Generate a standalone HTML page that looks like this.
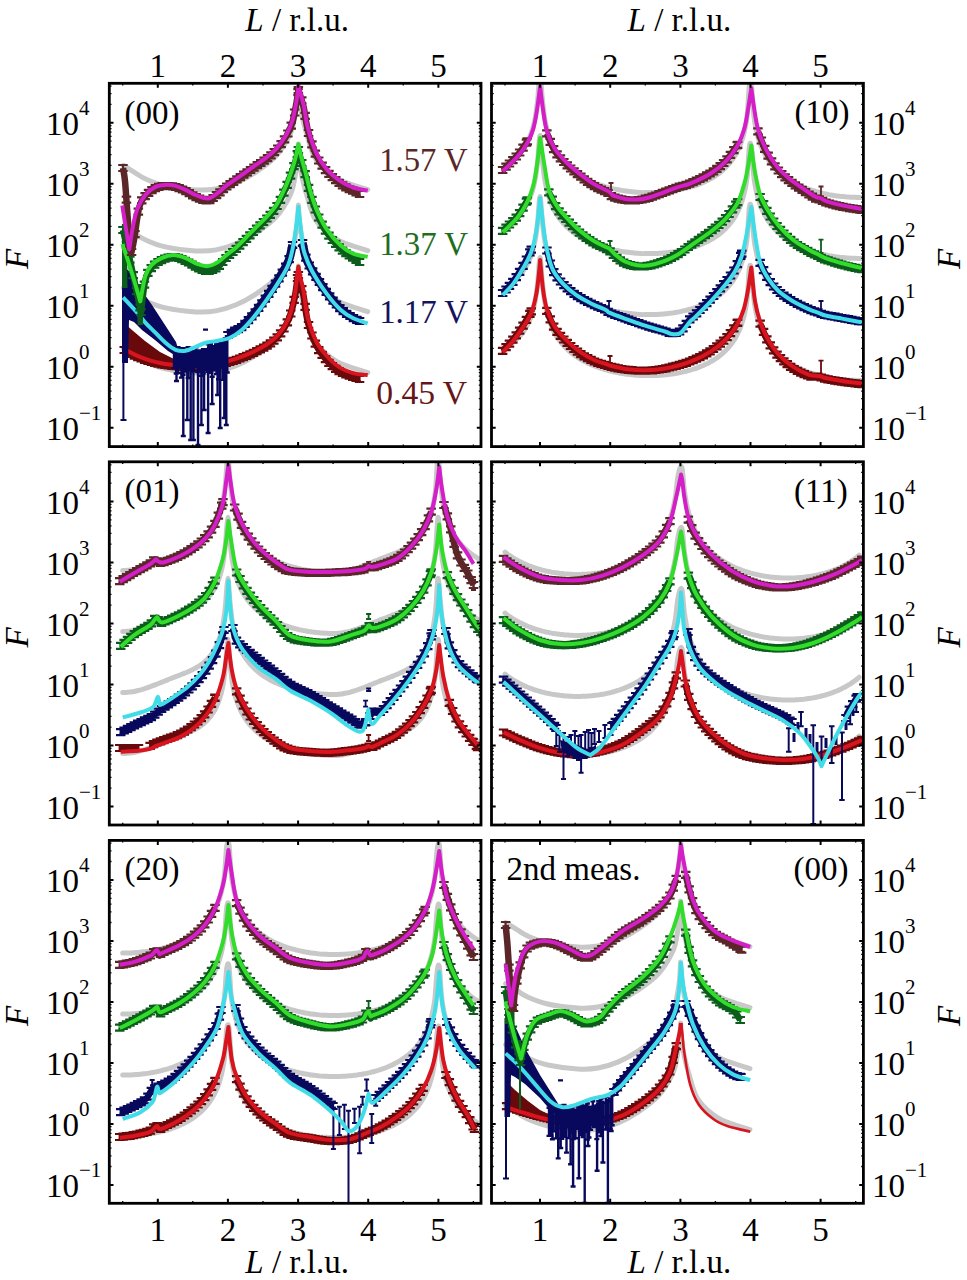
<!DOCTYPE html>
<html><head><meta charset="utf-8"><style>
html,body{margin:0;padding:0;background:#fff;}
svg{display:block;}
text{font-family:"Liberation Serif", serif;}
</style></head><body>
<svg width="967" height="1280" viewBox="0 0 967 1280">
<rect width="967" height="1280" fill="#fff"/>
<clipPath id="cp00"><rect x="109.3" y="83.3" width="371.7" height="363.3"/></clipPath>
<g clip-path="url(#cp00)">
<path d="M123.5 165.5C125.5 166.7 131.6 170.6 135.2 172.8C138.8 175.0 140.2 176.6 145.3 178.8C150.4 181.0 157.1 184.1 165.5 185.9C173.9 187.8 187.3 189.4 195.7 189.9C204.1 190.4 209.2 190.1 215.9 188.9C222.6 187.7 229.4 185.7 236.1 182.8C242.8 180.0 249.5 176.3 256.2 171.8C262.9 167.3 270.7 162.0 276.4 155.6C282.1 149.2 287.4 140.0 290.5 133.4C293.6 126.8 293.9 121.6 295.0 116.0C296.1 110.4 296.8 105.5 297.4 100.0C298.0 94.5 298.2 85.8 298.4 83.0L298.4 83.0C298.6 85.8 299.0 94.5 299.6 100.0C300.2 105.5 300.8 110.2 302.0 116.0C303.2 121.8 304.7 127.7 307.0 135.0C309.3 142.3 311.1 152.4 316.0 159.6C320.9 166.8 328.1 173.3 336.7 178.3C345.3 183.3 362.5 187.7 367.7 189.6" stroke="#c8c8c8" stroke-width="5" fill="none" stroke-linejoin="round" stroke-linecap="round"/>
<path d="M123.5 226.5C125.5 227.7 131.6 231.6 135.2 233.8C138.8 236.0 140.2 237.6 145.3 239.8C150.4 242.0 157.1 245.1 165.5 246.9C173.9 248.8 187.3 250.4 195.7 250.9C204.1 251.4 209.2 251.1 215.9 249.9C222.6 248.7 229.4 246.7 236.1 243.8C242.8 241.0 249.5 237.3 256.2 232.8C262.9 228.3 270.7 223.0 276.4 216.6C282.1 210.2 287.4 201.0 290.5 194.4C293.6 187.8 293.9 182.6 295.0 177.0C296.1 171.4 296.8 166.5 297.4 161.0C298.0 155.5 298.2 146.8 298.4 144.0L298.4 144.0C298.6 146.8 299.0 155.5 299.6 161.0C300.2 166.5 300.8 171.2 302.0 177.0C303.2 182.8 304.7 188.7 307.0 196.0C309.3 203.3 311.1 213.4 316.0 220.6C320.9 227.8 328.1 234.3 336.7 239.3C345.3 244.3 362.5 248.7 367.7 250.6" stroke="#c8c8c8" stroke-width="5" fill="none" stroke-linejoin="round" stroke-linecap="round"/>
<path d="M123.5 287.5C125.5 288.7 131.6 292.6 135.2 294.8C138.8 297.0 140.2 298.6 145.3 300.8C150.4 303.0 157.1 306.0 165.5 307.9C173.9 309.8 187.3 311.4 195.7 311.9C204.1 312.4 209.2 312.1 215.9 310.9C222.6 309.7 229.4 307.6 236.1 304.8C242.8 302.0 249.5 298.3 256.2 293.8C262.9 289.3 270.7 284.0 276.4 277.6C282.1 271.2 287.4 262.0 290.5 255.4C293.6 248.8 293.9 243.6 295.0 238.0C296.1 232.4 296.8 227.5 297.4 222.0C298.0 216.5 298.2 207.8 298.4 205.0L298.4 205.0C298.6 207.8 299.0 216.5 299.6 222.0C300.2 227.5 300.8 232.2 302.0 238.0C303.2 243.8 304.7 249.7 307.0 257.0C309.3 264.3 311.1 274.4 316.0 281.6C320.9 288.8 328.1 295.3 336.7 300.3C345.3 305.3 362.5 309.7 367.7 311.6" stroke="#c8c8c8" stroke-width="5" fill="none" stroke-linejoin="round" stroke-linecap="round"/>
<path d="M123.5 348.5C125.5 349.7 131.6 353.6 135.2 355.8C138.8 358.0 140.2 359.6 145.3 361.8C150.4 364.0 157.1 367.0 165.5 368.9C173.9 370.8 187.3 372.4 195.7 372.9C204.1 373.4 209.2 373.1 215.9 371.9C222.6 370.7 229.4 368.6 236.1 365.8C242.8 363.0 249.5 359.3 256.2 354.8C262.9 350.3 270.7 345.0 276.4 338.6C282.1 332.2 287.4 323.0 290.5 316.4C293.6 309.8 293.9 304.6 295.0 299.0C296.1 293.4 296.8 288.5 297.4 283.0C298.0 277.5 298.2 268.8 298.4 266.0L298.4 266.0C298.6 268.8 299.0 277.5 299.6 283.0C300.2 288.5 300.8 293.2 302.0 299.0C303.2 304.8 304.7 310.7 307.0 318.0C309.3 325.3 311.1 335.4 316.0 342.6C320.9 349.8 328.1 356.3 336.7 361.3C345.3 366.3 362.5 370.7 367.7 372.6" stroke="#c8c8c8" stroke-width="5" fill="none" stroke-linejoin="round" stroke-linecap="round"/>
<path d="M124.0 323.0L132.0 330.0L145.0 341.0L160.0 352.0L174.0 359.0L174.0 367.0L160.0 364.0L145.0 360.0L132.0 355.0L124.0 351.0Z" fill="#680a0c" opacity="1.0"/>
<path d="M124.2 350.0C126.0 351.0 131.7 354.3 135.2 356.0C138.7 357.7 141.9 358.8 145.3 360.0C148.7 361.2 152.0 362.2 155.4 363.0C158.8 363.8 160.4 364.3 165.5 365.0C170.6 365.7 179.0 366.7 185.7 367.0C192.4 367.3 199.1 367.7 205.8 367.0C212.5 366.3 219.3 364.8 226.0 363.0C232.7 361.2 239.5 358.8 246.2 356.0C252.9 353.2 260.9 349.3 266.3 346.0C271.7 342.7 274.7 340.3 278.4 336.0C282.1 331.7 285.8 326.3 288.5 320.0C291.2 313.7 293.1 305.0 294.6 298.0C296.1 291.0 297.0 281.8 297.6 278.0C298.2 274.2 298.3 275.5 298.4 275.0L298.4 275.0C298.8 276.7 299.6 281.5 300.5 285.0C301.4 288.5 302.4 289.8 303.6 296.0C304.8 302.2 305.7 313.8 307.8 322.0C309.9 330.2 312.9 338.7 316.0 345.0C319.1 351.3 322.6 355.7 326.4 360.0C330.2 364.3 334.3 368.2 338.8 371.0C343.3 373.8 349.9 375.7 353.3 377.0C356.8 378.3 358.5 378.7 359.5 379.0" stroke="#680a0c" stroke-width="6.5" fill="none" stroke-linejoin="round"/>
<path d="M119.5 347.0h9.5M119.5 353.0h9.5M124.2 347.0v6.0M122.9 348.9h9.5M122.9 354.9h9.5M127.6 348.9v6.0M126.2 350.8h9.5M126.2 356.8h9.5M131.0 350.8v6.0M129.7 352.6h9.5M129.7 358.6h9.5M134.4 352.6v6.0M133.1 354.2h9.5M133.1 360.2h9.5M137.8 354.2v6.0M136.5 355.5h9.5M136.5 361.5h9.5M141.2 355.5v6.0M139.9 356.8h9.5M139.9 362.8h9.5M144.6 356.8v6.0M143.3 357.9h9.5M143.3 363.9h9.5M148.0 357.9v6.0M146.7 358.9h9.5M146.7 364.9h9.5M151.4 358.9v6.0M150.1 359.8h9.5M150.1 365.8h9.5M154.8 359.8v6.0M153.5 360.7h9.5M153.5 366.7h9.5M158.2 360.7v6.0M156.9 361.4h9.5M156.9 367.4h9.5M161.6 361.4v6.0M160.3 361.9h9.5M160.3 367.9h9.5M165.0 361.9v6.0M163.7 362.4h9.5M163.7 368.4h9.5M168.4 362.4v6.0M167.1 362.8h9.5M167.1 368.8h9.5M171.8 362.8v6.0M170.5 363.1h9.5M170.5 369.1h9.5M175.2 363.1v6.0M173.9 363.5h9.5M173.9 369.5h9.5M178.6 363.5v6.0M177.3 363.8h9.5M177.3 369.8h9.5M182.0 363.8v6.0M180.7 364.0h9.5M180.7 370.0h9.5M185.4 364.0v6.0M184.1 364.2h9.5M184.1 370.2h9.5M188.8 364.2v6.0M187.5 364.3h9.5M187.5 370.3h9.5M192.2 364.3v6.0M190.9 364.4h9.5M190.9 370.4h9.5M195.6 364.4v6.0M194.3 364.4h9.5M194.3 370.4h9.5M199.0 364.4v6.0M197.7 364.3h9.5M197.7 370.3h9.5M202.4 364.3v6.0M201.1 364.0h9.5M201.1 370.0h9.5M205.8 364.0v6.0M204.5 363.6h9.5M204.5 369.6h9.5M209.2 363.6v6.0M207.9 363.1h9.5M207.9 369.1h9.5M212.6 363.1v6.0M211.3 362.4h9.5M211.3 368.4h9.5M216.0 362.4v6.0M214.7 361.7h9.5M214.7 367.7h9.5M219.4 361.7v6.0M218.1 360.8h9.5M218.1 366.8h9.5M222.8 360.8v6.0M221.5 359.9h9.5M221.5 365.9h9.5M226.2 359.9v6.0M224.9 359.0h9.5M224.9 365.0h9.5M229.6 359.0v6.0M228.3 357.9h9.5M228.3 363.9h9.5M233.0 357.9v6.0M231.7 356.8h9.5M231.7 362.8h9.5M236.4 356.8v6.0M235.1 355.5h9.5M235.1 361.5h9.5M239.8 355.5v6.0M238.5 354.2h9.5M238.5 360.2h9.5M243.2 354.2v6.0M241.9 352.8h9.5M241.9 358.8h9.5M246.6 352.8v6.0M245.3 351.3h9.5M245.3 357.3h9.5M250.0 351.3v6.0M248.7 349.8h9.5M248.7 355.8h9.5M253.4 349.8v6.0M252.1 348.2h9.5M252.1 354.2h9.5M256.8 348.2v6.0M255.5 346.4h9.5M255.5 352.4h9.5M260.2 346.4v6.0M258.9 344.6h9.5M258.9 350.6h9.5M263.6 344.6v6.0M262.3 342.6h9.5M262.3 348.6h9.5M267.0 342.6v6.0M265.7 340.3h9.5M265.7 346.3h9.5M270.4 340.3v6.0M269.1 337.7h9.5M269.1 343.7h9.5M273.8 337.7v6.0M272.5 334.4h9.5M272.5 340.4h9.5M277.2 334.4v6.0M275.9 330.3h9.5M275.9 336.3h9.5M280.6 330.3v6.0M279.2 325.5h9.5M279.2 331.5h9.5M284.0 325.5v6.0M282.6 319.4h9.5M282.6 325.4h9.5M287.4 319.4v6.0M286.0 310.5h9.5M286.0 316.5h9.5M290.8 310.5v6.0M289.4 296.8h9.5M289.4 302.8h9.5M294.2 296.8v6.0M292.8 275.0h9.5M292.8 281.0h9.5M297.6 275.0v6.0M293.6 272.0h9.5M293.6 278.0h9.5M298.4 272.0v6.0M293.6 272.0h9.5M293.6 278.0h9.5M298.4 272.0v6.0M297.0 286.1h9.5M297.0 292.1h9.5M301.8 286.1v6.0M300.4 303.9h9.5M300.4 309.9h9.5M305.2 303.9v6.0M303.8 322.0h9.5M303.8 328.0h9.5M308.6 322.0v6.0M307.2 332.5h9.5M307.2 338.5h9.5M312.0 332.5v6.0M310.6 340.7h9.5M310.6 346.7h9.5M315.4 340.7v6.0M314.0 347.1h9.5M314.0 353.1h9.5M318.8 347.1v6.0M317.4 351.9h9.5M317.4 357.9h9.5M322.2 351.9v6.0M320.8 356.1h9.5M320.8 362.1h9.5M325.6 356.1v6.0M324.2 359.8h9.5M324.2 365.8h9.5M329.0 359.8v6.0M327.6 363.1h9.5M327.6 369.1h9.5M332.4 363.1v6.0M331.0 365.9h9.5M331.0 371.9h9.5M335.8 365.9v6.0M334.4 368.2h9.5M334.4 374.2h9.5M339.2 368.2v6.0M337.8 370.0h9.5M337.8 376.0h9.5M342.6 370.0v6.0M341.2 371.4h9.5M341.2 377.4h9.5M346.0 371.4v6.0M344.6 372.6h9.5M344.6 378.6h9.5M349.4 372.6v6.0M348.0 373.8h9.5M348.0 379.8h9.5M352.8 373.8v6.0M351.4 375.0h9.5M351.4 381.0h9.5M356.2 375.0v6.0M354.8 376.0h9.5M354.8 382.0h9.5M359.5 376.0v6.0" stroke="#680a0c" stroke-width="2.2" fill="none"/>
<path d="M124.2 348.8C126.0 349.8 131.7 353.2 135.2 354.9C138.7 356.6 141.9 357.7 145.3 358.9C148.7 360.1 152.0 361.1 155.4 361.9C158.8 362.7 160.4 363.2 165.5 363.9C170.6 364.6 179.0 365.6 185.7 366.0C192.4 366.4 199.1 366.7 205.8 366.0C212.5 365.3 219.3 363.8 226.0 361.9C232.7 360.0 239.5 357.8 246.2 354.9C252.9 352.0 260.9 348.2 266.3 344.8C271.7 341.4 274.7 339.1 278.4 334.7C282.1 330.3 285.8 325.0 288.5 318.6C291.2 312.2 293.1 304.2 294.6 296.4C296.1 288.6 297.0 277.0 297.6 272.0C298.2 267.0 298.3 267.4 298.4 266.5L298.4 266.5C298.8 268.4 299.6 273.9 300.5 278.0C301.4 282.1 302.4 284.7 303.6 291.4C304.8 298.1 305.7 310.0 307.8 318.3C309.9 326.6 312.9 334.8 316.0 341.0C319.1 347.2 322.6 351.2 326.4 355.5C330.2 359.8 334.3 364.0 338.8 366.9C343.3 369.8 348.5 371.7 353.3 373.1C358.1 374.5 365.3 374.8 367.7 375.1" stroke="#d8141e" stroke-width="4.0" fill="none" stroke-linejoin="round"/>
<path d="M122.0 268.0L128.0 270.0L135.0 280.0L140.0 288.0L152.0 305.0L165.0 325.0L176.0 342.0L179.0 352.0L176.0 356.0L168.0 351.0L155.0 340.0L142.0 330.0L134.0 322.0L129.0 320.0L128.0 363.0L122.0 363.0Z" fill="#08085c" opacity="1.0"/><path d="M123.4 300.0L123.4 420.0" stroke="#08085c" stroke-width="2" fill="none"/><path d="M120.5 420.0L126.5 420.0" stroke="#08085c" stroke-width="2" fill="none"/><path d="M174.0 348.9V368.1M171.5 348.9h5M171.5 368.1h5M176.2 347.4V373.5M173.7 347.4h5M173.7 373.5h5M178.1 347.3V373.1M175.6 347.3h5M175.6 373.1h5M179.7 349.6V367.0M177.2 349.6h5M177.2 367.0h5M181.4 349.5V377.6M178.9 349.5h5M178.9 377.6h5M183.1 348.3V374.8M180.6 348.3h5M180.6 374.8h5M185.6 350.5V371.6M183.1 350.5h5M183.1 371.6h5M188.1 347.3V378.0M185.6 347.3h5M185.6 378.0h5M189.9 347.9V367.6M187.4 347.9h5M187.4 367.6h5M191.8 351.9V368.5M189.3 351.9h5M189.3 368.5h5M193.9 350.8V371.2M191.4 350.8h5M191.4 371.2h5M196.0 347.4V366.8M193.5 347.4h5M193.5 366.8h5M197.8 351.1V372.0M195.3 351.1h5M195.3 372.0h5M199.7 350.5V372.3M197.2 350.5h5M197.2 372.3h5M201.6 351.1V375.8M199.1 351.1h5M199.1 375.8h5M203.4 349.1V373.4M200.9 349.1h5M200.9 373.4h5M205.8 349.1V370.0M203.3 349.1h5M203.3 370.0h5M208.3 344.4V371.9M205.8 344.4h5M205.8 371.9h5M210.5 343.7V372.8M208.0 343.7h5M208.0 372.8h5M212.2 346.1V376.7M209.7 346.1h5M209.7 376.7h5M214.3 346.5V370.4M211.8 346.5h5M211.8 370.4h5M216.5 344.0V374.1M214.0 344.0h5M214.0 374.1h5M218.5 344.6V379.2M216.0 344.6h5M216.0 379.2h5M220.6 342.8V366.8M218.1 342.8h5M218.1 366.8h5M222.8 341.8V379.9M220.3 341.8h5M220.3 379.9h5M225.1 338.7V371.4M222.6 338.7h5M222.6 371.4h5M227.3 336.2V372.5M224.8 336.2h5M224.8 372.5h5M176.5 350.0V381.0M174.0 381.0h5M183.3 350.0V436.0M180.8 436.0h5M187.3 350.0V420.0M184.8 420.0h5M190.7 350.0V440.0M188.2 440.0h5M193.4 350.0V440.0M190.9 440.0h5M198.0 350.0V445.0M195.5 445.0h5M201.4 349.4V425.0M198.9 425.0h5M204.1 348.4V410.0M201.6 410.0h5M208.1 346.8V433.0M205.6 433.0h5M212.2 345.1V404.0M209.7 404.0h5M217.6 343.0V395.0M215.1 395.0h5M220.2 341.9V428.0M217.7 428.0h5M224.3 340.3V418.0M221.8 418.0h5M226.3 339.5V425.0M223.8 425.0h5" stroke="#08085c" stroke-width="2.4" fill="none"/><path d="M203.0 329.7L208.0 329.7" stroke="#08085c" stroke-width="2.2" fill="none"/>
<path d="M228.0 335.0C229.3 334.2 233.7 331.4 236.0 330.0C238.3 328.6 239.1 329.4 242.1 326.7C245.1 323.9 250.2 318.4 254.2 313.5C258.2 308.6 262.3 303.1 266.3 297.4C270.3 291.7 274.7 285.4 278.4 279.3C282.1 273.2 286.1 266.8 288.5 261.1C290.9 255.4 291.8 247.7 292.5 245.0M302.5 243.0C303.1 245.5 304.4 253.5 306.0 258.0C307.6 262.5 308.5 264.3 311.9 270.0C315.3 275.7 321.6 285.5 326.4 292.0C331.2 298.5 336.3 304.7 340.8 309.0C345.3 313.3 350.2 316.0 353.3 318.0C356.4 320.0 358.5 320.5 359.5 321.0" stroke="#08085c" stroke-width="8.5" fill="none" stroke-linejoin="round"/>
<path d="M223.2 332.0h9.5M223.2 338.0h9.5M228.0 332.0v6.0M226.7 329.8h9.5M226.7 335.8h9.5M231.4 329.8v6.0M230.1 327.7h9.5M230.1 333.7h9.5M234.8 327.7v6.0M233.5 326.1h9.5M233.5 332.1h9.5M238.2 326.1v6.0M236.9 324.1h9.5M236.9 330.1h9.5M241.6 324.1v6.0M240.3 320.9h9.5M240.3 326.9h9.5M245.0 320.9v6.0M243.7 317.2h9.5M243.7 323.2h9.5M248.4 317.2v6.0M247.1 313.3h9.5M247.1 319.3h9.5M251.8 313.3v6.0M250.5 309.3h9.5M250.5 315.3h9.5M255.2 309.3v6.0M253.9 304.9h9.5M253.9 310.9h9.5M258.6 304.9v6.0M257.2 300.4h9.5M257.2 306.4h9.5M262.0 300.4v6.0M260.6 295.7h9.5M260.6 301.7h9.5M265.4 295.7v6.0M264.0 290.8h9.5M264.0 296.8h9.5M268.8 290.8v6.0M267.4 285.9h9.5M267.4 291.9h9.5M272.2 285.9v6.0M270.8 280.7h9.5M270.8 286.7h9.5M275.6 280.7v6.0M274.2 275.3h9.5M274.2 281.3h9.5M279.0 275.3v6.0M277.6 269.7h9.5M277.6 275.7h9.5M282.4 269.7v6.0M281.0 263.7h9.5M281.0 269.7h9.5M285.8 263.7v6.0M284.4 256.2h9.5M284.4 262.2h9.5M289.2 256.2v6.0M287.8 242.0h9.5M287.8 248.0h9.5M292.5 242.0v6.0M297.8 240.0h9.5M297.8 246.0h9.5M302.5 240.0v6.0M301.1 254.7h9.5M301.1 260.7h9.5M305.9 254.7v6.0M304.5 262.5h9.5M304.5 268.5h9.5M309.3 262.5v6.0M307.9 268.3h9.5M307.9 274.3h9.5M312.7 268.3v6.0M311.3 273.8h9.5M311.3 279.8h9.5M316.1 273.8v6.0M314.7 279.0h9.5M314.7 285.0h9.5M319.5 279.0v6.0M318.1 284.1h9.5M318.1 290.1h9.5M322.9 284.1v6.0M321.5 288.9h9.5M321.5 294.9h9.5M326.3 288.9v6.0M324.9 293.3h9.5M324.9 299.3h9.5M329.7 293.3v6.0M328.3 297.6h9.5M328.3 303.6h9.5M333.1 297.6v6.0M331.7 301.5h9.5M331.7 307.5h9.5M336.5 301.5v6.0M335.1 305.1h9.5M335.1 311.1h9.5M339.9 305.1v6.0M338.5 308.2h9.5M338.5 314.2h9.5M343.3 308.2v6.0M341.9 310.8h9.5M341.9 316.8h9.5M346.7 310.8v6.0M345.3 313.0h9.5M345.3 319.0h9.5M350.1 313.0v6.0M348.7 315.1h9.5M348.7 321.1h9.5M353.5 315.1v6.0M352.1 316.9h9.5M352.1 322.9h9.5M356.9 316.9v6.0M354.8 318.0h9.5M354.8 324.0h9.5M359.5 318.0v6.0" stroke="#08085c" stroke-width="2.2" fill="none"/>
<path d="M123.1 297.4C125.1 299.6 131.5 306.3 135.2 310.5C138.9 314.7 141.9 318.9 145.3 322.6C148.7 326.3 152.0 329.3 155.4 332.7C158.8 336.1 162.1 339.9 165.5 342.8C168.9 345.7 172.2 348.5 175.6 349.8C179.0 351.1 182.3 351.3 185.7 350.8C189.0 350.3 192.3 348.1 195.7 346.8C199.0 345.5 202.1 343.8 205.8 342.8C209.5 341.8 213.9 341.6 217.9 340.7C221.9 339.8 226.0 339.5 230.0 337.7C234.0 335.9 238.1 333.2 242.1 329.7C246.1 326.2 250.2 321.4 254.2 316.5C258.2 311.6 262.3 306.1 266.3 300.4C270.3 294.7 274.7 288.4 278.4 282.3C282.1 276.2 285.9 271.2 288.5 264.1C291.1 257.1 292.7 249.5 294.3 240.0C295.9 230.5 297.7 212.5 298.4 207.0L298.4 207.0C298.8 210.8 300.1 222.8 301.0 230.0C301.9 237.2 301.8 243.2 303.6 250.0C305.4 256.8 308.1 263.5 311.9 270.7C315.7 277.9 321.6 286.8 326.4 293.4C331.2 299.9 336.3 305.9 340.8 310.0C345.3 314.1 348.8 316.1 353.3 318.3C357.8 320.5 365.3 322.5 367.7 323.4" stroke="#40dce8" stroke-width="4.0" fill="none" stroke-linejoin="round"/>
<path d="M122.0 224.0L127.0 224.0L127.5 288.0L122.0 288.0Z" fill="#0c5c1c" opacity="1.0"/><path d="M137.5 284.0L143.0 284.0L143.0 325.0L137.5 325.0Z" fill="#0c5c1c" opacity="1.0"/>
<path d="M123.0 230.0C124.3 235.8 128.0 251.3 131.0 265.0C134.0 278.7 139.3 304.2 141.0 312.0L141.0 312.0C141.7 306.7 143.6 287.3 145.3 280.0C147.0 272.7 148.7 271.3 151.4 268.0C154.1 264.7 157.8 261.8 161.5 260.0C165.2 258.2 169.6 256.8 173.6 257.0C177.6 257.2 181.7 259.2 185.7 261.0C189.7 262.8 194.1 266.3 197.8 268.0C201.5 269.7 204.5 271.2 207.8 271.0C211.2 270.8 214.9 269.2 217.9 267.0C220.9 264.8 223.0 261.0 226.0 258.0C229.0 255.0 232.7 252.2 236.1 249.0C239.5 245.8 242.8 242.3 246.2 239.0C249.5 235.7 252.8 232.3 256.2 229.0C259.6 225.7 262.9 222.7 266.3 219.0C269.7 215.3 273.3 211.8 276.4 207.0C279.5 202.2 282.5 195.5 285.0 190.0C287.5 184.5 289.5 178.7 291.2 174.0C292.9 169.3 294.1 166.0 295.3 162.0C296.5 158.0 297.9 152.0 298.4 150.0L298.4 150.0C298.9 152.0 300.3 157.7 301.5 162.0C302.7 166.3 304.3 170.8 305.7 176.0C307.1 181.2 308.3 187.2 310.0 193.0C311.7 198.8 313.3 204.5 316.0 211.0C318.7 217.5 322.3 225.7 326.4 232.0C330.5 238.3 336.3 244.7 340.8 249.0C345.3 253.3 350.2 255.8 353.3 258.0C356.4 260.2 358.5 261.3 359.5 262.0" stroke="#0c5c1c" stroke-width="6.5" fill="none" stroke-linejoin="round"/>
<path d="M118.2 227.0h9.5M118.2 233.0h9.5M123.0 227.0v6.0M121.7 241.7h9.5M121.7 247.7h9.5M126.4 241.7v6.0M125.1 256.6h9.5M125.1 262.6h9.5M129.8 256.6v6.0M128.5 272.2h9.5M128.5 278.2h9.5M133.2 272.2v6.0M131.9 288.2h9.5M131.9 294.2h9.5M136.6 288.2v6.0M135.3 304.3h9.5M135.3 310.3h9.5M140.0 304.3v6.0M136.2 309.0h9.5M136.2 315.0h9.5M141.0 309.0v6.0M136.2 309.0h9.5M136.2 315.0h9.5M141.0 309.0v6.0M139.7 281.7h9.5M139.7 287.7h9.5M144.4 281.7v6.0M143.1 269.8h9.5M143.1 275.8h9.5M147.8 269.8v6.0M146.5 265.2h9.5M146.5 271.2h9.5M151.2 265.2v6.0M149.9 261.7h9.5M149.9 267.7h9.5M154.6 261.7v6.0M153.3 259.0h9.5M153.3 265.0h9.5M158.0 259.0v6.0M156.7 257.1h9.5M156.7 263.1h9.5M161.4 257.1v6.0M160.1 255.6h9.5M160.1 261.6h9.5M164.8 255.6v6.0M163.5 254.6h9.5M163.5 260.6h9.5M168.2 254.6v6.0M166.9 254.0h9.5M166.9 260.0h9.5M171.6 254.0v6.0M170.3 254.1h9.5M170.3 260.1h9.5M175.0 254.1v6.0M173.7 254.9h9.5M173.7 260.9h9.5M178.4 254.9v6.0M177.1 256.2h9.5M177.1 262.2h9.5M181.8 256.2v6.0M180.5 257.8h9.5M180.5 263.8h9.5M185.2 257.8v6.0M183.9 259.5h9.5M183.9 265.5h9.5M188.6 259.5v6.0M187.3 261.6h9.5M187.3 267.6h9.5M192.0 261.6v6.0M190.7 263.7h9.5M190.7 269.7h9.5M195.4 263.7v6.0M194.1 265.5h9.5M194.1 271.5h9.5M198.8 265.5v6.0M197.5 266.9h9.5M197.5 272.9h9.5M202.2 266.9v6.0M200.9 267.9h9.5M200.9 273.9h9.5M205.6 267.9v6.0M204.3 267.9h9.5M204.3 273.9h9.5M209.0 267.9v6.0M207.7 267.0h9.5M207.7 273.0h9.5M212.4 267.0v6.0M211.1 265.4h9.5M211.1 271.4h9.5M215.8 265.4v6.0M214.5 262.9h9.5M214.5 268.9h9.5M219.2 262.9v6.0M217.9 259.0h9.5M217.9 265.0h9.5M222.6 259.0v6.0M221.3 255.0h9.5M221.3 261.0h9.5M226.0 255.0v6.0M224.7 251.9h9.5M224.7 257.9h9.5M229.4 251.9v6.0M228.1 249.0h9.5M228.1 255.0h9.5M232.8 249.0v6.0M231.5 245.9h9.5M231.5 251.9h9.5M236.2 245.9v6.0M234.9 242.6h9.5M234.9 248.6h9.5M239.6 242.6v6.0M238.3 239.2h9.5M238.3 245.2h9.5M243.0 239.2v6.0M241.7 235.8h9.5M241.7 241.8h9.5M246.4 235.8v6.0M245.1 232.4h9.5M245.1 238.4h9.5M249.8 232.4v6.0M248.5 229.0h9.5M248.5 235.0h9.5M253.2 229.0v6.0M251.9 225.6h9.5M251.9 231.6h9.5M256.6 225.6v6.0M255.3 222.3h9.5M255.3 228.3h9.5M260.0 222.3v6.0M258.7 219.0h9.5M258.7 225.0h9.5M263.4 219.0v6.0M262.1 215.5h9.5M262.1 221.5h9.5M266.8 215.5v6.0M265.5 211.8h9.5M265.5 217.8h9.5M270.2 211.8v6.0M268.9 207.9h9.5M268.9 213.9h9.5M273.6 207.9v6.0M272.3 203.0h9.5M272.3 209.0h9.5M277.0 203.0v6.0M275.7 196.8h9.5M275.7 202.8h9.5M280.4 196.8v6.0M279.1 189.7h9.5M279.1 195.7h9.5M283.8 189.7v6.0M282.4 181.8h9.5M282.4 187.8h9.5M287.2 181.8v6.0M285.8 172.6h9.5M285.8 178.6h9.5M290.6 172.6v6.0M289.2 163.1h9.5M289.2 169.1h9.5M294.0 163.1v6.0M292.6 151.1h9.5M292.6 157.1h9.5M297.4 151.1v6.0M293.6 147.0h9.5M293.6 153.0h9.5M298.4 147.0v6.0M293.6 147.0h9.5M293.6 153.0h9.5M298.4 147.0v6.0M297.0 160.0h9.5M297.0 166.0h9.5M301.8 160.0v6.0M300.4 171.2h9.5M300.4 177.2h9.5M305.2 171.2v6.0M303.8 184.8h9.5M303.8 190.8h9.5M308.6 184.8v6.0M307.2 196.8h9.5M307.2 202.8h9.5M312.0 196.8v6.0M310.6 206.5h9.5M310.6 212.5h9.5M315.4 206.5v6.0M314.0 214.5h9.5M314.0 220.5h9.5M318.8 214.5v6.0M317.4 221.7h9.5M317.4 227.7h9.5M322.2 221.7v6.0M320.8 227.7h9.5M320.8 233.7h9.5M325.6 227.7v6.0M324.2 232.7h9.5M324.2 238.7h9.5M329.0 232.7v6.0M327.6 237.0h9.5M327.6 243.0h9.5M332.4 237.0v6.0M331.0 240.9h9.5M331.0 246.9h9.5M335.8 240.9v6.0M334.4 244.4h9.5M334.4 250.4h9.5M339.2 244.4v6.0M337.8 247.6h9.5M337.8 253.6h9.5M342.6 247.6v6.0M341.2 250.2h9.5M341.2 256.2h9.5M346.0 250.2v6.0M344.6 252.5h9.5M344.6 258.5h9.5M349.4 252.5v6.0M348.0 254.7h9.5M348.0 260.7h9.5M352.8 254.7v6.0M351.4 256.9h9.5M351.4 262.9h9.5M356.2 256.9v6.0M354.8 259.0h9.5M354.8 265.0h9.5M359.5 259.0v6.0" stroke="#0c5c1c" stroke-width="2.2" fill="none"/>
<path d="M122.5 244.0C123.9 248.3 128.0 260.4 131.0 270.0C134.0 279.6 138.8 296.2 140.3 301.4L140.3 301.4C141.1 297.2 143.5 282.2 145.3 276.2C147.2 270.1 148.7 268.1 151.4 265.1C154.1 262.1 157.8 259.8 161.5 258.1C165.2 256.4 169.6 255.0 173.6 255.0C177.6 255.0 181.7 256.6 185.7 258.1C189.7 259.6 194.1 262.8 197.8 264.1C201.5 265.4 204.5 266.4 207.8 266.1C211.2 265.8 214.9 263.9 217.9 262.1C220.9 260.3 223.0 257.9 226.0 255.4C229.0 252.9 232.7 250.4 236.1 247.4C239.5 244.4 242.8 240.7 246.2 237.3C249.5 233.9 252.8 230.6 256.2 227.2C259.6 223.8 262.9 220.8 266.3 217.1C269.7 213.4 273.3 209.8 276.4 205.0C279.5 200.2 282.5 193.5 285.0 188.0C287.5 182.5 289.5 176.9 291.2 172.0C292.9 167.1 294.1 163.2 295.3 158.6C296.5 153.9 297.9 146.5 298.4 144.1L298.4 144.1C298.9 146.4 300.3 153.2 301.5 158.0C302.7 162.8 304.3 167.7 305.7 173.0C307.1 178.3 308.3 184.1 310.0 190.0C311.7 195.9 313.3 201.7 316.0 208.2C318.7 214.7 322.3 222.7 326.4 228.9C330.5 235.1 336.3 241.4 340.8 245.5C345.3 249.6 348.8 251.8 353.3 253.7C357.8 255.6 365.3 256.3 367.7 256.8" stroke="#32dc2a" stroke-width="4.0" fill="none" stroke-linejoin="round"/>
<path d="M123.0 168.0C123.3 170.2 124.3 173.8 125.0 181.0C125.7 188.2 126.5 201.0 127.2 211.0C128.0 221.0 128.8 234.2 129.5 241.0C130.2 247.8 131.2 250.2 131.5 252.0L131.5 252.0C131.9 250.0 132.7 247.5 134.0 240.0C135.3 232.5 137.4 214.3 139.3 207.0C141.2 199.7 142.6 199.2 145.3 196.0C148.0 192.8 152.0 189.7 155.4 188.0C158.8 186.3 162.1 186.2 165.5 186.0C168.9 185.8 172.2 186.2 175.6 187.0C179.0 187.8 182.3 189.3 185.7 191.0C189.0 192.7 192.7 195.5 195.7 197.0C198.7 198.5 201.4 199.5 203.8 200.0C206.2 200.5 207.6 201.0 209.9 200.0C212.2 199.0 215.2 196.2 217.9 194.0C220.6 191.8 223.0 189.3 226.0 187.0C229.0 184.7 232.7 182.3 236.1 180.0C239.5 177.7 242.8 175.3 246.2 173.0C249.5 170.7 252.8 168.3 256.2 166.0C259.6 163.7 262.9 161.7 266.3 159.0C269.7 156.3 273.0 153.8 276.4 150.0C279.8 146.2 283.8 140.7 286.5 136.0C289.2 131.3 290.8 127.7 292.5 122.0C294.2 116.3 295.6 107.3 296.6 102.0C297.6 96.7 298.1 92.0 298.4 90.0L298.4 90.0C299.3 92.8 302.0 100.3 303.6 107.0C305.2 113.7 305.7 122.0 307.8 130.0C309.9 138.0 312.9 148.2 316.0 155.0C319.1 161.8 322.3 166.2 326.4 171.0C330.5 175.8 336.3 180.7 340.8 184.0C345.3 187.3 350.2 189.3 353.3 191.0C356.4 192.7 358.5 193.5 359.5 194.0" stroke="#5a2628" stroke-width="6.5" fill="none" stroke-linejoin="round"/>
<path d="M118.2 165.0h9.5M118.2 171.0h9.5M123.0 165.0v6.0M121.7 196.6h9.5M121.7 202.6h9.5M126.4 196.6v6.0M125.1 240.5h9.5M125.1 246.5h9.5M129.8 240.5v6.0M126.8 249.0h9.5M126.8 255.0h9.5M131.5 249.0v6.0M126.8 249.0h9.5M126.8 255.0h9.5M131.5 249.0v6.0M130.2 231.2h9.5M130.2 237.2h9.5M134.9 231.2v6.0M133.6 208.7h9.5M133.6 214.7h9.5M138.3 208.7v6.0M137.0 197.4h9.5M137.0 203.4h9.5M141.7 197.4v6.0M140.4 193.2h9.5M140.4 199.2h9.5M145.1 193.2v6.0M143.8 189.8h9.5M143.8 195.8h9.5M148.5 189.8v6.0M147.2 187.1h9.5M147.2 193.1h9.5M151.9 187.1v6.0M150.6 185.1h9.5M150.6 191.1h9.5M155.3 185.1v6.0M154.0 183.8h9.5M154.0 189.8h9.5M158.7 183.8v6.0M157.4 183.2h9.5M157.4 189.2h9.5M162.1 183.2v6.0M160.8 183.0h9.5M160.8 189.0h9.5M165.5 183.0v6.0M164.2 183.0h9.5M164.2 189.0h9.5M168.9 183.0v6.0M167.6 183.3h9.5M167.6 189.3h9.5M172.3 183.3v6.0M171.0 184.0h9.5M171.0 190.0h9.5M175.7 184.0v6.0M174.4 185.1h9.5M174.4 191.1h9.5M179.1 185.1v6.0M177.8 186.5h9.5M177.8 192.5h9.5M182.5 186.5v6.0M181.2 188.1h9.5M181.2 194.1h9.5M185.9 188.1v6.0M184.6 190.1h9.5M184.6 196.1h9.5M189.3 190.1v6.0M188.0 192.3h9.5M188.0 198.3h9.5M192.7 192.3v6.0M191.4 194.2h9.5M191.4 200.2h9.5M196.1 194.2v6.0M194.8 195.7h9.5M194.8 201.7h9.5M199.5 195.7v6.0M198.2 196.8h9.5M198.2 202.8h9.5M202.9 196.8v6.0M201.6 197.5h9.5M201.6 203.5h9.5M206.3 197.5v6.0M205.0 197.1h9.5M205.0 203.1h9.5M209.7 197.1v6.0M208.4 195.0h9.5M208.4 201.0h9.5M213.1 195.0v6.0M211.8 192.2h9.5M211.8 198.2h9.5M216.5 192.2v6.0M215.2 189.3h9.5M215.2 195.3h9.5M219.9 189.3v6.0M218.6 186.2h9.5M218.6 192.2h9.5M223.3 186.2v6.0M222.0 183.5h9.5M222.0 189.5h9.5M226.7 183.5v6.0M225.4 181.1h9.5M225.4 187.1h9.5M230.1 181.1v6.0M228.8 178.8h9.5M228.8 184.8h9.5M233.5 178.8v6.0M232.2 176.4h9.5M232.2 182.4h9.5M236.9 176.4v6.0M235.6 174.1h9.5M235.6 180.1h9.5M240.3 174.1v6.0M239.0 171.7h9.5M239.0 177.7h9.5M243.7 171.7v6.0M242.4 169.4h9.5M242.4 175.4h9.5M247.1 169.4v6.0M245.8 167.0h9.5M245.8 173.0h9.5M250.5 167.0v6.0M249.2 164.6h9.5M249.2 170.6h9.5M253.9 164.6v6.0M252.6 162.2h9.5M252.6 168.2h9.5M257.3 162.2v6.0M256.0 160.0h9.5M256.0 166.0h9.5M260.7 160.0v6.0M259.4 157.7h9.5M259.4 163.7h9.5M264.1 157.7v6.0M262.8 155.1h9.5M262.8 161.1h9.5M267.5 155.1v6.0M266.2 152.3h9.5M266.2 158.3h9.5M270.9 152.3v6.0M269.6 149.2h9.5M269.6 155.2h9.5M274.3 149.2v6.0M273.0 145.5h9.5M273.0 151.5h9.5M277.7 145.5v6.0M276.4 141.1h9.5M276.4 147.1h9.5M281.1 141.1v6.0M279.8 136.3h9.5M279.8 142.3h9.5M284.5 136.3v6.0M283.1 130.5h9.5M283.1 136.5h9.5M287.9 130.5v6.0M286.5 122.7h9.5M286.5 128.7h9.5M291.3 122.7v6.0M289.9 109.5h9.5M289.9 115.5h9.5M294.7 109.5v6.0M293.3 89.2h9.5M293.3 95.2h9.5M298.1 89.2v6.0M293.6 87.0h9.5M293.6 93.0h9.5M298.4 87.0v6.0M293.6 87.0h9.5M293.6 93.0h9.5M298.4 87.0v6.0M297.0 97.4h9.5M297.0 103.4h9.5M301.8 97.4v6.0M300.4 112.9h9.5M300.4 118.9h9.5M305.2 112.9v6.0M303.8 130.0h9.5M303.8 136.0h9.5M308.6 130.0v6.0M307.2 141.4h9.5M307.2 147.4h9.5M312.0 141.4v6.0M310.6 150.6h9.5M310.6 156.6h9.5M315.4 150.6v6.0M314.0 157.5h9.5M314.0 163.5h9.5M318.8 157.5v6.0M317.4 162.7h9.5M317.4 168.7h9.5M322.2 162.7v6.0M320.8 167.1h9.5M320.8 173.1h9.5M325.6 167.1v6.0M324.2 170.8h9.5M324.2 176.8h9.5M329.0 170.8v6.0M327.6 174.1h9.5M327.6 180.1h9.5M332.4 174.1v6.0M331.0 177.1h9.5M331.0 183.1h9.5M335.8 177.1v6.0M334.4 179.8h9.5M334.4 185.8h9.5M339.2 179.8v6.0M337.8 182.3h9.5M337.8 188.3h9.5M342.6 182.3v6.0M341.2 184.3h9.5M341.2 190.3h9.5M346.0 184.3v6.0M344.6 186.1h9.5M344.6 192.1h9.5M349.4 186.1v6.0M348.0 187.7h9.5M348.0 193.7h9.5M352.8 187.7v6.0M351.4 189.5h9.5M351.4 195.5h9.5M356.2 189.5v6.0M354.8 191.0h9.5M354.8 197.0h9.5M359.5 191.0v6.0" stroke="#5a2628" stroke-width="2.2" fill="none"/>
<path d="M122.3 205.5C122.8 208.9 124.3 218.7 125.5 226.0C126.7 233.3 128.6 245.5 129.2 249.4L129.2 249.4C129.9 245.4 131.8 231.9 133.2 225.2C134.5 218.5 135.3 214.0 137.3 209.0C139.3 204.0 142.3 198.7 145.3 195.0C148.3 191.3 152.0 188.6 155.4 186.9C158.8 185.2 162.1 185.1 165.5 184.9C168.9 184.7 172.2 185.1 175.6 185.9C179.0 186.7 182.3 188.4 185.7 189.9C189.0 191.4 192.7 193.7 195.7 195.0C198.7 196.3 201.4 197.5 203.8 198.0C206.2 198.5 207.6 198.8 209.9 198.0C212.2 197.2 215.2 194.9 217.9 192.9C220.6 190.9 223.0 188.2 226.0 185.9C229.0 183.6 232.7 181.2 236.1 178.8C239.5 176.5 242.8 174.2 246.2 171.8C249.5 169.5 252.8 167.1 256.2 164.7C259.6 162.3 262.9 160.3 266.3 157.6C269.7 154.9 273.0 152.5 276.4 148.6C279.8 144.7 283.8 139.1 286.5 134.4C289.2 129.7 290.8 126.0 292.5 120.3C294.2 114.6 295.6 105.9 296.6 100.2C297.6 94.5 298.1 88.5 298.4 86.2L298.4 86.2C299.3 89.3 302.0 97.9 303.6 104.8C305.2 111.7 305.7 119.7 307.8 127.6C309.9 135.5 312.9 145.5 316.0 152.4C319.1 159.3 322.3 164.1 326.4 168.9C330.5 173.7 336.3 178.2 340.8 181.3C345.3 184.4 348.8 185.9 353.3 187.5C357.8 189.1 365.3 190.2 367.7 190.7" stroke="#d41ec8" stroke-width="4.0" fill="none" stroke-linejoin="round"/>
</g>
<path d="M157.8 83.3v4.5M157.8 446.6v-4.5M227.9 83.3v4.5M227.9 446.6v-4.5M298.1 83.3v4.5M298.1 446.6v-4.5M368.2 83.3v4.5M368.2 446.6v-4.5M438.4 83.3v4.5M438.4 446.6v-4.5M109.3 427.8h4.2M481.0 427.8h-4.2M109.3 366.8h4.2M481.0 366.8h-4.2M109.3 305.8h4.2M481.0 305.8h-4.2M109.3 244.8h4.2M481.0 244.8h-4.2M109.3 183.8h4.2M481.0 183.8h-4.2M109.3 122.8h4.2M481.0 122.8h-4.2" stroke="#000" stroke-width="2" fill="none"/>
<path d="M109.3 409.4h2.2M481.0 409.4h-2.2M109.3 398.7h2.2M481.0 398.7h-2.2M109.3 391.1h2.2M481.0 391.1h-2.2M109.3 385.2h2.2M481.0 385.2h-2.2M109.3 380.3h2.2M481.0 380.3h-2.2M109.3 376.2h2.2M481.0 376.2h-2.2M109.3 372.7h2.2M481.0 372.7h-2.2M109.3 369.6h2.2M481.0 369.6h-2.2M109.3 348.4h2.2M481.0 348.4h-2.2M109.3 337.7h2.2M481.0 337.7h-2.2M109.3 330.1h2.2M481.0 330.1h-2.2M109.3 324.2h2.2M481.0 324.2h-2.2M109.3 319.3h2.2M481.0 319.3h-2.2M109.3 315.2h2.2M481.0 315.2h-2.2M109.3 311.7h2.2M481.0 311.7h-2.2M109.3 308.6h2.2M481.0 308.6h-2.2M109.3 287.4h2.2M481.0 287.4h-2.2M109.3 276.7h2.2M481.0 276.7h-2.2M109.3 269.1h2.2M481.0 269.1h-2.2M109.3 263.2h2.2M481.0 263.2h-2.2M109.3 258.3h2.2M481.0 258.3h-2.2M109.3 254.2h2.2M481.0 254.2h-2.2M109.3 250.7h2.2M481.0 250.7h-2.2M109.3 247.6h2.2M481.0 247.6h-2.2M109.3 226.4h2.2M481.0 226.4h-2.2M109.3 215.7h2.2M481.0 215.7h-2.2M109.3 208.1h2.2M481.0 208.1h-2.2M109.3 202.2h2.2M481.0 202.2h-2.2M109.3 197.3h2.2M481.0 197.3h-2.2M109.3 193.2h2.2M481.0 193.2h-2.2M109.3 189.7h2.2M481.0 189.7h-2.2M109.3 186.6h2.2M481.0 186.6h-2.2M109.3 165.4h2.2M481.0 165.4h-2.2M109.3 154.7h2.2M481.0 154.7h-2.2M109.3 147.1h2.2M481.0 147.1h-2.2M109.3 141.2h2.2M481.0 141.2h-2.2M109.3 136.3h2.2M481.0 136.3h-2.2M109.3 132.2h2.2M481.0 132.2h-2.2M109.3 128.7h2.2M481.0 128.7h-2.2M109.3 125.6h2.2M481.0 125.6h-2.2M109.3 104.4h2.2M481.0 104.4h-2.2M109.3 93.7h2.2M481.0 93.7h-2.2M109.3 86.1h2.2M481.0 86.1h-2.2M122.7 83.3v2.2M122.7 446.6v-2.2M192.8 83.3v2.2M192.8 446.6v-2.2M263.0 83.3v2.2M263.0 446.6v-2.2M333.1 83.3v2.2M333.1 446.6v-2.2M403.3 83.3v2.2M403.3 446.6v-2.2M473.4 83.3v2.2M473.4 446.6v-2.2" stroke="#000" stroke-width="1.3" fill="none"/>
<rect x="109.3" y="83.3" width="371.7" height="363.3" fill="none" stroke="#000" stroke-width="2.8"/>
<clipPath id="cp01"><rect x="491.5" y="83.3" width="371.9" height="363.3"/></clipPath>
<g clip-path="url(#cp01)">
<path d="M511.3 160.6C511.7 160.3 512.8 159.6 513.5 159.0C514.2 158.4 515.0 157.8 515.7 157.1C516.4 156.5 517.2 155.8 517.9 155.1C518.6 154.3 519.4 153.6 520.1 152.7C520.8 151.9 521.6 151.0 522.3 150.0C523.1 149.1 523.8 148.1 524.5 146.9C525.3 145.8 526.0 144.6 526.7 143.3C527.5 142.0 528.2 140.5 528.9 138.9C529.7 137.3 530.4 135.5 531.1 133.4C531.9 131.3 532.6 129.2 533.3 126.3C534.1 123.4 534.8 120.7 535.5 116.1C536.3 111.5 537.0 105.5 537.8 98.6C538.5 91.7 539.2 74.9 540.0 74.6C540.7 74.3 541.4 90.1 542.2 97.1C542.9 104.1 543.6 111.3 544.4 116.4C545.1 121.5 545.8 124.4 546.6 127.6C547.3 130.8 548.0 133.3 548.8 135.6C549.5 138.0 550.2 140.0 551.0 141.9C551.7 143.8 552.5 145.5 553.2 147.1C553.9 148.6 554.7 150.0 555.4 151.3C556.1 152.6 556.9 153.7 557.6 154.8C558.3 155.9 559.1 157.0 559.8 157.9C560.5 158.9 561.3 159.8 562.0 160.7C562.7 161.6 563.5 162.4 564.2 163.2C565.0 164.0 565.7 164.7 566.4 165.4C567.2 166.2 567.9 166.8 568.6 167.5C569.4 168.1 570.1 168.8 570.8 169.4C571.6 170.0 572.3 170.6 573.0 171.1C573.8 171.7 574.5 172.2 575.2 172.7C576.0 173.3 576.7 173.8 577.4 174.2C578.2 174.7 578.9 175.2 579.7 175.6C580.4 176.1 581.1 176.5 581.9 176.9C582.6 177.4 583.3 177.8 584.1 178.2C584.8 178.5 585.5 178.9 586.3 179.3C587.0 179.7 587.7 180.0 588.5 180.4C589.2 180.7 589.9 181.1 590.7 181.4C591.4 181.7 592.2 182.0 592.9 182.3C593.6 182.6 594.4 182.9 595.1 183.2C595.8 183.5 596.6 183.8 597.3 184.0C598.0 184.3 598.8 184.6 599.5 184.8C600.2 185.1 601.0 185.3 601.7 185.6C602.4 185.8 603.2 186.0 603.9 186.3C604.6 186.5 605.4 186.7 606.1 186.9C606.9 187.1 607.6 187.3 608.3 187.5C609.1 187.7 609.8 187.9 610.5 188.1C611.3 188.3 612.0 188.4 612.7 188.6C613.5 188.8 614.2 188.9 614.9 189.1C615.7 189.3 616.4 189.4 617.1 189.6C617.9 189.7 618.6 189.8 619.4 190.0C620.1 190.1 620.8 190.2 621.6 190.4C622.3 190.5 623.0 190.6 623.8 190.7C624.5 190.8 625.2 190.9 626.0 191.0C626.7 191.2 627.4 191.2 628.2 191.3C628.9 191.4 629.6 191.5 630.4 191.6C631.1 191.7 631.8 191.8 632.6 191.8C633.3 191.9 634.1 192.0 634.8 192.0C635.5 192.1 636.3 192.2 637.0 192.2C637.7 192.3 638.5 192.3 639.2 192.4C639.9 192.4 640.7 192.4 641.4 192.5C642.1 192.5 642.9 192.5 643.6 192.6C644.3 192.6 645.1 192.6 645.8 192.6C646.5 192.6 647.3 192.6 648.0 192.6C648.8 192.6 649.5 192.6 650.2 192.6C651.0 192.6 651.7 192.6 652.4 192.6C653.2 192.6 653.9 192.6 654.6 192.6C655.4 192.5 656.1 192.5 656.8 192.5C657.6 192.4 658.3 192.4 659.0 192.3C659.8 192.3 660.5 192.3 661.3 192.2C662.0 192.1 662.7 192.1 663.5 192.0C664.2 192.0 664.9 191.9 665.7 191.8C666.4 191.7 667.1 191.7 667.9 191.6C668.6 191.5 669.3 191.4 670.1 191.3C670.8 191.2 671.5 191.1 672.3 191.0C673.0 190.9 673.7 190.8 674.5 190.7C675.2 190.5 676.0 190.4 676.7 190.3C677.4 190.2 678.2 190.0 678.9 189.9C679.6 189.7 680.4 189.6 681.1 189.4C681.8 189.3 682.6 189.1 683.3 188.9C684.0 188.8 684.8 188.6 685.5 188.4C686.2 188.2 687.0 188.0 687.7 187.8C688.5 187.6 689.2 187.4 689.9 187.2C690.7 187.0 691.4 186.8 692.1 186.6C692.9 186.3 693.6 186.1 694.3 185.9C695.1 185.6 695.8 185.4 696.5 185.1C697.3 184.8 698.0 184.6 698.7 184.3C699.5 184.0 700.2 183.7 700.9 183.4C701.7 183.1 702.4 182.8 703.2 182.5C703.9 182.1 704.6 181.8 705.4 181.5C706.1 181.1 706.8 180.8 707.6 180.4C708.3 180.0 709.0 179.6 709.8 179.2C710.5 178.8 711.2 178.4 712.0 178.0C712.7 177.5 713.4 177.1 714.2 176.6C714.9 176.2 715.7 175.7 716.4 175.2C717.1 174.7 717.9 174.1 718.6 173.6C719.3 173.1 720.1 172.5 720.8 171.9C721.5 171.3 722.3 170.7 723.0 170.0C723.7 169.4 724.5 168.7 725.2 168.0C725.9 167.3 726.7 166.5 727.4 165.7C728.1 164.9 728.9 164.1 729.6 163.2C730.4 162.3 731.1 161.4 731.8 160.4C732.6 159.4 733.3 158.3 734.0 157.2C734.8 156.0 735.5 154.8 736.2 153.5C737.0 152.1 737.7 150.7 738.4 149.1C739.2 147.5 739.9 145.9 740.6 143.9C741.4 141.9 742.1 139.9 742.8 137.3C743.6 134.7 744.3 132.1 745.1 128.3C745.8 124.6 746.5 122.0 747.3 114.7C748.0 107.3 748.7 88.9 749.5 84.5C750.2 80.0 750.9 82.6 751.7 87.8C752.4 93.0 753.1 109.0 753.9 115.9C754.6 122.8 755.3 125.5 756.1 129.2C756.8 132.9 757.6 135.5 758.3 138.1C759.0 140.7 759.8 142.7 760.5 144.7C761.2 146.7 762.0 148.4 762.7 150.0C763.4 151.6 764.2 153.0 764.9 154.4C765.6 155.7 766.4 157.0 767.1 158.1C767.8 159.3 768.6 160.4 769.3 161.4C770.0 162.4 770.8 163.4 771.5 164.3C772.3 165.2 773.0 166.1 773.7 166.9C774.5 167.7 775.2 168.5 775.9 169.3C776.7 170.0 777.4 170.7 778.1 171.4C778.9 172.1 779.6 172.7 780.3 173.3C781.1 174.0 781.8 174.6 782.5 175.2C783.3 175.7 784.0 176.3 784.8 176.8C785.5 177.4 786.2 177.9 787.0 178.4C787.7 178.9 788.4 179.3 789.2 179.8C789.9 180.3 790.6 180.7 791.4 181.1C792.1 181.6 792.8 182.0 793.6 182.4C794.3 182.8 795.0 183.2 795.8 183.6C796.5 184.0 797.2 184.3 798.0 184.7C798.7 185.0 799.5 185.4 800.2 185.7C800.9 186.0 801.7 186.4 802.4 186.7C803.1 187.0 803.9 187.3 804.6 187.6C805.3 187.9 806.1 188.2 806.8 188.5C807.5 188.7 808.3 189.0 809.0 189.3C809.7 189.5 810.5 189.8 811.2 190.0C811.9 190.3 812.7 190.5 813.4 190.7C814.2 191.0 814.9 191.2 815.6 191.4C816.4 191.6 817.1 191.8 817.8 192.0C818.6 192.2 819.3 192.4 820.0 192.6C820.8 192.8 821.5 193.0 822.2 193.1C823.0 193.3 823.7 193.5 824.4 193.7C825.2 193.8 825.9 194.0 826.7 194.1C827.4 194.3 828.1 194.4 828.9 194.6C829.6 194.7 830.3 194.8 831.1 195.0C831.8 195.1 832.5 195.2 833.3 195.3C834.0 195.5 834.7 195.6 835.5 195.7C836.2 195.8 836.9 195.9 837.7 196.0C838.4 196.1 839.1 196.2 839.9 196.3C840.6 196.3 841.4 196.4 842.1 196.5C842.8 196.6 843.6 196.6 844.3 196.7C845.0 196.8 845.8 196.8 846.5 196.9C847.2 197.0 848.0 197.0 848.7 197.1C849.4 197.1 850.2 197.1 850.9 197.2C851.6 197.2 852.4 197.3 853.1 197.3C853.9 197.3 854.6 197.3 855.3 197.3C856.1 197.4 856.8 197.4 857.5 197.4C858.3 197.4 859.0 197.4 859.7 197.4C860.5 197.4 861.2 197.4 861.9 197.4C862.7 197.4 863.8 197.3 864.1 197.3" stroke="#c8c8c8" stroke-width="5" fill="none" stroke-linejoin="round" stroke-linecap="round"/>
<path d="M511.3 221.6C511.7 221.3 512.8 220.6 513.5 220.0C514.2 219.4 515.0 218.8 515.7 218.1C516.4 217.5 517.2 216.8 517.9 216.1C518.6 215.3 519.4 214.6 520.1 213.7C520.8 212.9 521.6 212.0 522.3 211.0C523.1 210.1 523.8 209.1 524.5 207.9C525.3 206.8 526.0 205.6 526.7 204.3C527.5 203.0 528.2 201.5 528.9 199.9C529.7 198.3 530.4 196.5 531.1 194.4C531.9 192.3 532.6 190.2 533.3 187.3C534.1 184.4 534.8 181.7 535.5 177.1C536.3 172.5 537.0 166.5 537.8 159.6C538.5 152.7 539.2 135.9 540.0 135.6C540.7 135.3 541.4 151.1 542.2 158.1C542.9 165.1 543.6 172.3 544.4 177.4C545.1 182.5 545.8 185.4 546.6 188.6C547.3 191.8 548.0 194.3 548.8 196.6C549.5 199.0 550.2 201.0 551.0 202.9C551.7 204.8 552.5 206.5 553.2 208.1C553.9 209.6 554.7 211.0 555.4 212.3C556.1 213.6 556.9 214.7 557.6 215.8C558.3 216.9 559.1 218.0 559.8 218.9C560.5 219.9 561.3 220.8 562.0 221.7C562.7 222.6 563.5 223.4 564.2 224.2C565.0 225.0 565.7 225.7 566.4 226.4C567.2 227.2 567.9 227.8 568.6 228.5C569.4 229.1 570.1 229.8 570.8 230.4C571.6 231.0 572.3 231.6 573.0 232.1C573.8 232.7 574.5 233.2 575.2 233.7C576.0 234.3 576.7 234.8 577.4 235.2C578.2 235.7 578.9 236.2 579.7 236.6C580.4 237.1 581.1 237.5 581.9 237.9C582.6 238.4 583.3 238.8 584.1 239.2C584.8 239.5 585.5 239.9 586.3 240.3C587.0 240.7 587.7 241.0 588.5 241.4C589.2 241.7 589.9 242.1 590.7 242.4C591.4 242.7 592.2 243.0 592.9 243.3C593.6 243.6 594.4 243.9 595.1 244.2C595.8 244.5 596.6 244.8 597.3 245.0C598.0 245.3 598.8 245.6 599.5 245.8C600.2 246.1 601.0 246.3 601.7 246.6C602.4 246.8 603.2 247.0 603.9 247.3C604.6 247.5 605.4 247.7 606.1 247.9C606.9 248.1 607.6 248.3 608.3 248.5C609.1 248.7 609.8 248.9 610.5 249.1C611.3 249.3 612.0 249.4 612.7 249.6C613.5 249.8 614.2 249.9 614.9 250.1C615.7 250.3 616.4 250.4 617.1 250.6C617.9 250.7 618.6 250.8 619.4 251.0C620.1 251.1 620.8 251.2 621.6 251.4C622.3 251.5 623.0 251.6 623.8 251.7C624.5 251.8 625.2 251.9 626.0 252.0C626.7 252.2 627.4 252.2 628.2 252.3C628.9 252.4 629.6 252.5 630.4 252.6C631.1 252.7 631.8 252.8 632.6 252.8C633.3 252.9 634.1 253.0 634.8 253.0C635.5 253.1 636.3 253.2 637.0 253.2C637.7 253.3 638.5 253.3 639.2 253.4C639.9 253.4 640.7 253.4 641.4 253.5C642.1 253.5 642.9 253.5 643.6 253.6C644.3 253.6 645.1 253.6 645.8 253.6C646.5 253.6 647.3 253.6 648.0 253.6C648.8 253.6 649.5 253.6 650.2 253.6C651.0 253.6 651.7 253.6 652.4 253.6C653.2 253.6 653.9 253.6 654.6 253.6C655.4 253.5 656.1 253.5 656.8 253.5C657.6 253.4 658.3 253.4 659.0 253.3C659.8 253.3 660.5 253.3 661.3 253.2C662.0 253.1 662.7 253.1 663.5 253.0C664.2 253.0 664.9 252.9 665.7 252.8C666.4 252.7 667.1 252.7 667.9 252.6C668.6 252.5 669.3 252.4 670.1 252.3C670.8 252.2 671.5 252.1 672.3 252.0C673.0 251.9 673.7 251.8 674.5 251.7C675.2 251.5 676.0 251.4 676.7 251.3C677.4 251.2 678.2 251.0 678.9 250.9C679.6 250.7 680.4 250.6 681.1 250.4C681.8 250.3 682.6 250.1 683.3 249.9C684.0 249.8 684.8 249.6 685.5 249.4C686.2 249.2 687.0 249.0 687.7 248.8C688.5 248.6 689.2 248.4 689.9 248.2C690.7 248.0 691.4 247.8 692.1 247.6C692.9 247.3 693.6 247.1 694.3 246.9C695.1 246.6 695.8 246.4 696.5 246.1C697.3 245.8 698.0 245.6 698.7 245.3C699.5 245.0 700.2 244.7 700.9 244.4C701.7 244.1 702.4 243.8 703.2 243.5C703.9 243.1 704.6 242.8 705.4 242.5C706.1 242.1 706.8 241.8 707.6 241.4C708.3 241.0 709.0 240.6 709.8 240.2C710.5 239.8 711.2 239.4 712.0 239.0C712.7 238.5 713.4 238.1 714.2 237.6C714.9 237.2 715.7 236.7 716.4 236.2C717.1 235.7 717.9 235.1 718.6 234.6C719.3 234.1 720.1 233.5 720.8 232.9C721.5 232.3 722.3 231.7 723.0 231.0C723.7 230.4 724.5 229.7 725.2 229.0C725.9 228.3 726.7 227.5 727.4 226.7C728.1 225.9 728.9 225.1 729.6 224.2C730.4 223.3 731.1 222.4 731.8 221.4C732.6 220.4 733.3 219.3 734.0 218.2C734.8 217.0 735.5 215.8 736.2 214.5C737.0 213.1 737.7 211.7 738.4 210.1C739.2 208.5 739.9 206.9 740.6 204.9C741.4 202.9 742.1 200.9 742.8 198.3C743.6 195.7 744.3 193.1 745.1 189.3C745.8 185.6 746.5 183.0 747.3 175.7C748.0 168.3 748.7 149.9 749.5 145.5C750.2 141.0 750.9 143.6 751.7 148.8C752.4 154.0 753.1 170.0 753.9 176.9C754.6 183.8 755.3 186.5 756.1 190.2C756.8 193.9 757.6 196.5 758.3 199.1C759.0 201.7 759.8 203.7 760.5 205.7C761.2 207.7 762.0 209.4 762.7 211.0C763.4 212.6 764.2 214.0 764.9 215.4C765.6 216.7 766.4 218.0 767.1 219.1C767.8 220.3 768.6 221.4 769.3 222.4C770.0 223.4 770.8 224.4 771.5 225.3C772.3 226.2 773.0 227.1 773.7 227.9C774.5 228.7 775.2 229.5 775.9 230.3C776.7 231.0 777.4 231.7 778.1 232.4C778.9 233.1 779.6 233.7 780.3 234.3C781.1 235.0 781.8 235.6 782.5 236.2C783.3 236.7 784.0 237.3 784.8 237.8C785.5 238.4 786.2 238.9 787.0 239.4C787.7 239.9 788.4 240.3 789.2 240.8C789.9 241.3 790.6 241.7 791.4 242.1C792.1 242.6 792.8 243.0 793.6 243.4C794.3 243.8 795.0 244.2 795.8 244.6C796.5 245.0 797.2 245.3 798.0 245.7C798.7 246.0 799.5 246.4 800.2 246.7C800.9 247.0 801.7 247.4 802.4 247.7C803.1 248.0 803.9 248.3 804.6 248.6C805.3 248.9 806.1 249.2 806.8 249.5C807.5 249.7 808.3 250.0 809.0 250.3C809.7 250.5 810.5 250.8 811.2 251.0C811.9 251.3 812.7 251.5 813.4 251.7C814.2 252.0 814.9 252.2 815.6 252.4C816.4 252.6 817.1 252.8 817.8 253.0C818.6 253.2 819.3 253.4 820.0 253.6C820.8 253.8 821.5 254.0 822.2 254.1C823.0 254.3 823.7 254.5 824.4 254.7C825.2 254.8 825.9 255.0 826.7 255.1C827.4 255.3 828.1 255.4 828.9 255.6C829.6 255.7 830.3 255.8 831.1 256.0C831.8 256.1 832.5 256.2 833.3 256.3C834.0 256.5 834.7 256.6 835.5 256.7C836.2 256.8 836.9 256.9 837.7 257.0C838.4 257.1 839.1 257.2 839.9 257.3C840.6 257.3 841.4 257.4 842.1 257.5C842.8 257.6 843.6 257.6 844.3 257.7C845.0 257.8 845.8 257.8 846.5 257.9C847.2 258.0 848.0 258.0 848.7 258.1C849.4 258.1 850.2 258.1 850.9 258.2C851.6 258.2 852.4 258.3 853.1 258.3C853.9 258.3 854.6 258.3 855.3 258.3C856.1 258.4 856.8 258.4 857.5 258.4C858.3 258.4 859.0 258.4 859.7 258.4C860.5 258.4 861.2 258.4 861.9 258.4C862.7 258.4 863.8 258.3 864.1 258.3" stroke="#c8c8c8" stroke-width="5" fill="none" stroke-linejoin="round" stroke-linecap="round"/>
<path d="M511.3 282.6C511.7 282.3 512.8 281.6 513.5 281.0C514.2 280.4 515.0 279.8 515.7 279.1C516.4 278.5 517.2 277.8 517.9 277.1C518.6 276.3 519.4 275.6 520.1 274.7C520.8 273.9 521.6 273.0 522.3 272.0C523.1 271.1 523.8 270.1 524.5 268.9C525.3 267.8 526.0 266.6 526.7 265.3C527.5 264.0 528.2 262.5 528.9 260.9C529.7 259.3 530.4 257.5 531.1 255.4C531.9 253.3 532.6 251.2 533.3 248.3C534.1 245.4 534.8 242.7 535.5 238.1C536.3 233.5 537.0 227.5 537.8 220.6C538.5 213.7 539.2 196.9 540.0 196.6C540.7 196.3 541.4 212.1 542.2 219.1C542.9 226.1 543.6 233.3 544.4 238.4C545.1 243.5 545.8 246.4 546.6 249.6C547.3 252.8 548.0 255.3 548.8 257.6C549.5 260.0 550.2 262.0 551.0 263.9C551.7 265.8 552.5 267.5 553.2 269.1C553.9 270.6 554.7 272.0 555.4 273.3C556.1 274.6 556.9 275.7 557.6 276.8C558.3 277.9 559.1 279.0 559.8 279.9C560.5 280.9 561.3 281.8 562.0 282.7C562.7 283.6 563.5 284.4 564.2 285.2C565.0 286.0 565.7 286.7 566.4 287.4C567.2 288.2 567.9 288.8 568.6 289.5C569.4 290.1 570.1 290.8 570.8 291.4C571.6 292.0 572.3 292.6 573.0 293.1C573.8 293.7 574.5 294.2 575.2 294.7C576.0 295.3 576.7 295.8 577.4 296.2C578.2 296.7 578.9 297.2 579.7 297.6C580.4 298.1 581.1 298.5 581.9 298.9C582.6 299.4 583.3 299.8 584.1 300.2C584.8 300.5 585.5 300.9 586.3 301.3C587.0 301.7 587.7 302.0 588.5 302.4C589.2 302.7 589.9 303.1 590.7 303.4C591.4 303.7 592.2 304.0 592.9 304.3C593.6 304.6 594.4 304.9 595.1 305.2C595.8 305.5 596.6 305.8 597.3 306.0C598.0 306.3 598.8 306.6 599.5 306.8C600.2 307.1 601.0 307.3 601.7 307.6C602.4 307.8 603.2 308.0 603.9 308.3C604.6 308.5 605.4 308.7 606.1 308.9C606.9 309.1 607.6 309.3 608.3 309.5C609.1 309.7 609.8 309.9 610.5 310.1C611.3 310.3 612.0 310.4 612.7 310.6C613.5 310.8 614.2 310.9 614.9 311.1C615.7 311.3 616.4 311.4 617.1 311.6C617.9 311.7 618.6 311.8 619.4 312.0C620.1 312.1 620.8 312.2 621.6 312.4C622.3 312.5 623.0 312.6 623.8 312.7C624.5 312.8 625.2 312.9 626.0 313.0C626.7 313.2 627.4 313.2 628.2 313.3C628.9 313.4 629.6 313.5 630.4 313.6C631.1 313.7 631.8 313.8 632.6 313.8C633.3 313.9 634.1 314.0 634.8 314.0C635.5 314.1 636.3 314.2 637.0 314.2C637.7 314.3 638.5 314.3 639.2 314.4C639.9 314.4 640.7 314.4 641.4 314.5C642.1 314.5 642.9 314.5 643.6 314.6C644.3 314.6 645.1 314.6 645.8 314.6C646.5 314.6 647.3 314.6 648.0 314.6C648.8 314.6 649.5 314.6 650.2 314.6C651.0 314.6 651.7 314.6 652.4 314.6C653.2 314.6 653.9 314.6 654.6 314.6C655.4 314.5 656.1 314.5 656.8 314.5C657.6 314.4 658.3 314.4 659.0 314.3C659.8 314.3 660.5 314.3 661.3 314.2C662.0 314.1 662.7 314.1 663.5 314.0C664.2 314.0 664.9 313.9 665.7 313.8C666.4 313.7 667.1 313.7 667.9 313.6C668.6 313.5 669.3 313.4 670.1 313.3C670.8 313.2 671.5 313.1 672.3 313.0C673.0 312.9 673.7 312.8 674.5 312.7C675.2 312.5 676.0 312.4 676.7 312.3C677.4 312.2 678.2 312.0 678.9 311.9C679.6 311.7 680.4 311.6 681.1 311.4C681.8 311.3 682.6 311.1 683.3 310.9C684.0 310.8 684.8 310.6 685.5 310.4C686.2 310.2 687.0 310.0 687.7 309.8C688.5 309.6 689.2 309.4 689.9 309.2C690.7 309.0 691.4 308.8 692.1 308.6C692.9 308.3 693.6 308.1 694.3 307.9C695.1 307.6 695.8 307.4 696.5 307.1C697.3 306.8 698.0 306.6 698.7 306.3C699.5 306.0 700.2 305.7 700.9 305.4C701.7 305.1 702.4 304.8 703.2 304.5C703.9 304.1 704.6 303.8 705.4 303.5C706.1 303.1 706.8 302.8 707.6 302.4C708.3 302.0 709.0 301.6 709.8 301.2C710.5 300.8 711.2 300.4 712.0 300.0C712.7 299.5 713.4 299.1 714.2 298.6C714.9 298.2 715.7 297.7 716.4 297.2C717.1 296.7 717.9 296.1 718.6 295.6C719.3 295.1 720.1 294.5 720.8 293.9C721.5 293.3 722.3 292.7 723.0 292.0C723.7 291.4 724.5 290.7 725.2 290.0C725.9 289.3 726.7 288.5 727.4 287.7C728.1 286.9 728.9 286.1 729.6 285.2C730.4 284.3 731.1 283.4 731.8 282.4C732.6 281.4 733.3 280.3 734.0 279.2C734.8 278.0 735.5 276.8 736.2 275.5C737.0 274.1 737.7 272.7 738.4 271.1C739.2 269.5 739.9 267.9 740.6 265.9C741.4 263.9 742.1 261.9 742.8 259.3C743.6 256.7 744.3 254.1 745.1 250.3C745.8 246.6 746.5 244.0 747.3 236.7C748.0 229.3 748.7 210.9 749.5 206.5C750.2 202.0 750.9 204.6 751.7 209.8C752.4 215.0 753.1 231.0 753.9 237.9C754.6 244.8 755.3 247.5 756.1 251.2C756.8 254.9 757.6 257.5 758.3 260.1C759.0 262.7 759.8 264.7 760.5 266.7C761.2 268.7 762.0 270.4 762.7 272.0C763.4 273.6 764.2 275.0 764.9 276.4C765.6 277.7 766.4 279.0 767.1 280.1C767.8 281.3 768.6 282.4 769.3 283.4C770.0 284.4 770.8 285.4 771.5 286.3C772.3 287.2 773.0 288.1 773.7 288.9C774.5 289.7 775.2 290.5 775.9 291.3C776.7 292.0 777.4 292.7 778.1 293.4C778.9 294.1 779.6 294.7 780.3 295.3C781.1 296.0 781.8 296.6 782.5 297.2C783.3 297.7 784.0 298.3 784.8 298.8C785.5 299.4 786.2 299.9 787.0 300.4C787.7 300.9 788.4 301.3 789.2 301.8C789.9 302.3 790.6 302.7 791.4 303.1C792.1 303.6 792.8 304.0 793.6 304.4C794.3 304.8 795.0 305.2 795.8 305.6C796.5 306.0 797.2 306.3 798.0 306.7C798.7 307.0 799.5 307.4 800.2 307.7C800.9 308.0 801.7 308.4 802.4 308.7C803.1 309.0 803.9 309.3 804.6 309.6C805.3 309.9 806.1 310.2 806.8 310.5C807.5 310.7 808.3 311.0 809.0 311.3C809.7 311.5 810.5 311.8 811.2 312.0C811.9 312.3 812.7 312.5 813.4 312.7C814.2 313.0 814.9 313.2 815.6 313.4C816.4 313.6 817.1 313.8 817.8 314.0C818.6 314.2 819.3 314.4 820.0 314.6C820.8 314.8 821.5 315.0 822.2 315.1C823.0 315.3 823.7 315.5 824.4 315.7C825.2 315.8 825.9 316.0 826.7 316.1C827.4 316.3 828.1 316.4 828.9 316.6C829.6 316.7 830.3 316.8 831.1 317.0C831.8 317.1 832.5 317.2 833.3 317.3C834.0 317.5 834.7 317.6 835.5 317.7C836.2 317.8 836.9 317.9 837.7 318.0C838.4 318.1 839.1 318.2 839.9 318.3C840.6 318.3 841.4 318.4 842.1 318.5C842.8 318.6 843.6 318.6 844.3 318.7C845.0 318.8 845.8 318.8 846.5 318.9C847.2 319.0 848.0 319.0 848.7 319.1C849.4 319.1 850.2 319.1 850.9 319.2C851.6 319.2 852.4 319.3 853.1 319.3C853.9 319.3 854.6 319.3 855.3 319.3C856.1 319.4 856.8 319.4 857.5 319.4C858.3 319.4 859.0 319.4 859.7 319.4C860.5 319.4 861.2 319.4 861.9 319.4C862.7 319.4 863.8 319.3 864.1 319.3" stroke="#c8c8c8" stroke-width="5" fill="none" stroke-linejoin="round" stroke-linecap="round"/>
<path d="M511.3 343.6C511.7 343.3 512.8 342.6 513.5 342.0C514.2 341.4 515.0 340.8 515.7 340.1C516.4 339.5 517.2 338.8 517.9 338.1C518.6 337.3 519.4 336.6 520.1 335.7C520.8 334.9 521.6 334.0 522.3 333.0C523.1 332.1 523.8 331.1 524.5 329.9C525.3 328.8 526.0 327.6 526.7 326.3C527.5 325.0 528.2 323.5 528.9 321.9C529.7 320.3 530.4 318.5 531.1 316.4C531.9 314.3 532.6 312.2 533.3 309.3C534.1 306.4 534.8 303.7 535.5 299.1C536.3 294.5 537.0 288.5 537.8 281.6C538.5 274.7 539.2 257.9 540.0 257.6C540.7 257.3 541.4 273.1 542.2 280.1C542.9 287.1 543.6 294.3 544.4 299.4C545.1 304.5 545.8 307.4 546.6 310.6C547.3 313.8 548.0 316.3 548.8 318.6C549.5 321.0 550.2 323.0 551.0 324.9C551.7 326.8 552.5 328.5 553.2 330.1C553.9 331.6 554.7 333.0 555.4 334.3C556.1 335.6 556.9 336.7 557.6 337.8C558.3 338.9 559.1 340.0 559.8 340.9C560.5 341.9 561.3 342.8 562.0 343.7C562.7 344.6 563.5 345.4 564.2 346.2C565.0 347.0 565.7 347.7 566.4 348.4C567.2 349.2 567.9 349.8 568.6 350.5C569.4 351.1 570.1 351.8 570.8 352.4C571.6 353.0 572.3 353.6 573.0 354.1C573.8 354.7 574.5 355.2 575.2 355.7C576.0 356.3 576.7 356.8 577.4 357.2C578.2 357.7 578.9 358.2 579.7 358.6C580.4 359.1 581.1 359.5 581.9 359.9C582.6 360.4 583.3 360.8 584.1 361.2C584.8 361.5 585.5 361.9 586.3 362.3C587.0 362.7 587.7 363.0 588.5 363.4C589.2 363.7 589.9 364.1 590.7 364.4C591.4 364.7 592.2 365.0 592.9 365.3C593.6 365.6 594.4 365.9 595.1 366.2C595.8 366.5 596.6 366.8 597.3 367.0C598.0 367.3 598.8 367.6 599.5 367.8C600.2 368.1 601.0 368.3 601.7 368.6C602.4 368.8 603.2 369.0 603.9 369.3C604.6 369.5 605.4 369.7 606.1 369.9C606.9 370.1 607.6 370.3 608.3 370.5C609.1 370.7 609.8 370.9 610.5 371.1C611.3 371.3 612.0 371.4 612.7 371.6C613.5 371.8 614.2 371.9 614.9 372.1C615.7 372.3 616.4 372.4 617.1 372.6C617.9 372.7 618.6 372.8 619.4 373.0C620.1 373.1 620.8 373.2 621.6 373.4C622.3 373.5 623.0 373.6 623.8 373.7C624.5 373.8 625.2 373.9 626.0 374.0C626.7 374.2 627.4 374.2 628.2 374.3C628.9 374.4 629.6 374.5 630.4 374.6C631.1 374.7 631.8 374.8 632.6 374.8C633.3 374.9 634.1 375.0 634.8 375.0C635.5 375.1 636.3 375.2 637.0 375.2C637.7 375.3 638.5 375.3 639.2 375.4C639.9 375.4 640.7 375.4 641.4 375.5C642.1 375.5 642.9 375.5 643.6 375.6C644.3 375.6 645.1 375.6 645.8 375.6C646.5 375.6 647.3 375.6 648.0 375.6C648.8 375.6 649.5 375.6 650.2 375.6C651.0 375.6 651.7 375.6 652.4 375.6C653.2 375.6 653.9 375.6 654.6 375.6C655.4 375.5 656.1 375.5 656.8 375.5C657.6 375.4 658.3 375.4 659.0 375.3C659.8 375.3 660.5 375.3 661.3 375.2C662.0 375.1 662.7 375.1 663.5 375.0C664.2 375.0 664.9 374.9 665.7 374.8C666.4 374.7 667.1 374.7 667.9 374.6C668.6 374.5 669.3 374.4 670.1 374.3C670.8 374.2 671.5 374.1 672.3 374.0C673.0 373.9 673.7 373.8 674.5 373.7C675.2 373.5 676.0 373.4 676.7 373.3C677.4 373.2 678.2 373.0 678.9 372.9C679.6 372.7 680.4 372.6 681.1 372.4C681.8 372.3 682.6 372.1 683.3 371.9C684.0 371.8 684.8 371.6 685.5 371.4C686.2 371.2 687.0 371.0 687.7 370.8C688.5 370.6 689.2 370.4 689.9 370.2C690.7 370.0 691.4 369.8 692.1 369.6C692.9 369.3 693.6 369.1 694.3 368.9C695.1 368.6 695.8 368.4 696.5 368.1C697.3 367.8 698.0 367.6 698.7 367.3C699.5 367.0 700.2 366.7 700.9 366.4C701.7 366.1 702.4 365.8 703.2 365.5C703.9 365.1 704.6 364.8 705.4 364.5C706.1 364.1 706.8 363.8 707.6 363.4C708.3 363.0 709.0 362.6 709.8 362.2C710.5 361.8 711.2 361.4 712.0 361.0C712.7 360.5 713.4 360.1 714.2 359.6C714.9 359.2 715.7 358.7 716.4 358.2C717.1 357.7 717.9 357.1 718.6 356.6C719.3 356.1 720.1 355.5 720.8 354.9C721.5 354.3 722.3 353.7 723.0 353.0C723.7 352.4 724.5 351.7 725.2 351.0C725.9 350.3 726.7 349.5 727.4 348.7C728.1 347.9 728.9 347.1 729.6 346.2C730.4 345.3 731.1 344.4 731.8 343.4C732.6 342.4 733.3 341.3 734.0 340.2C734.8 339.0 735.5 337.8 736.2 336.5C737.0 335.1 737.7 333.7 738.4 332.1C739.2 330.5 739.9 328.9 740.6 326.9C741.4 324.9 742.1 322.9 742.8 320.3C743.6 317.7 744.3 315.1 745.1 311.3C745.8 307.6 746.5 305.0 747.3 297.7C748.0 290.3 748.7 271.9 749.5 267.5C750.2 263.0 750.9 265.6 751.7 270.8C752.4 276.0 753.1 292.0 753.9 298.9C754.6 305.8 755.3 308.5 756.1 312.2C756.8 315.9 757.6 318.5 758.3 321.1C759.0 323.7 759.8 325.7 760.5 327.7C761.2 329.7 762.0 331.4 762.7 333.0C763.4 334.6 764.2 336.0 764.9 337.4C765.6 338.7 766.4 340.0 767.1 341.1C767.8 342.3 768.6 343.4 769.3 344.4C770.0 345.4 770.8 346.4 771.5 347.3C772.3 348.2 773.0 349.1 773.7 349.9C774.5 350.7 775.2 351.5 775.9 352.3C776.7 353.0 777.4 353.7 778.1 354.4C778.9 355.1 779.6 355.7 780.3 356.3C781.1 357.0 781.8 357.6 782.5 358.2C783.3 358.7 784.0 359.3 784.8 359.8C785.5 360.4 786.2 360.9 787.0 361.4C787.7 361.9 788.4 362.3 789.2 362.8C789.9 363.3 790.6 363.7 791.4 364.1C792.1 364.6 792.8 365.0 793.6 365.4C794.3 365.8 795.0 366.2 795.8 366.6C796.5 367.0 797.2 367.3 798.0 367.7C798.7 368.0 799.5 368.4 800.2 368.7C800.9 369.0 801.7 369.4 802.4 369.7C803.1 370.0 803.9 370.3 804.6 370.6C805.3 370.9 806.1 371.2 806.8 371.5C807.5 371.7 808.3 372.0 809.0 372.3C809.7 372.5 810.5 372.8 811.2 373.0C811.9 373.3 812.7 373.5 813.4 373.7C814.2 374.0 814.9 374.2 815.6 374.4C816.4 374.6 817.1 374.8 817.8 375.0C818.6 375.2 819.3 375.4 820.0 375.6C820.8 375.8 821.5 376.0 822.2 376.1C823.0 376.3 823.7 376.5 824.4 376.7C825.2 376.8 825.9 377.0 826.7 377.1C827.4 377.3 828.1 377.4 828.9 377.6C829.6 377.7 830.3 377.8 831.1 378.0C831.8 378.1 832.5 378.2 833.3 378.3C834.0 378.5 834.7 378.6 835.5 378.7C836.2 378.8 836.9 378.9 837.7 379.0C838.4 379.1 839.1 379.2 839.9 379.3C840.6 379.3 841.4 379.4 842.1 379.5C842.8 379.6 843.6 379.6 844.3 379.7C845.0 379.8 845.8 379.8 846.5 379.9C847.2 380.0 848.0 380.0 848.7 380.1C849.4 380.1 850.2 380.1 850.9 380.2C851.6 380.2 852.4 380.3 853.1 380.3C853.9 380.3 854.6 380.3 855.3 380.3C856.1 380.4 856.8 380.4 857.5 380.4C858.3 380.4 859.0 380.4 859.7 380.4C860.5 380.4 861.2 380.4 861.9 380.4C862.7 380.4 863.8 380.3 864.1 380.3" stroke="#c8c8c8" stroke-width="5" fill="none" stroke-linejoin="round" stroke-linecap="round"/>
<path d="M610.0 356.0V366.0M607.5 356.0h5M607.5 366.0h5" stroke="#680a0c" stroke-width="1.8" fill="none"/><path d="M821.0 360.6V376.0M818.5 360.6h5M818.5 376.0h5" stroke="#680a0c" stroke-width="1.8" fill="none"/>
<path d="M502.7 350.8C504.5 348.8 510.1 343.3 513.5 339.0C517.0 334.7 520.4 329.7 523.4 325.1C526.4 320.5 529.9 313.7 531.2 311.4M546.9 310.9C548.2 313.8 551.5 323.3 554.8 328.5C558.1 333.7 562.3 337.9 566.6 342.2C570.9 346.4 575.8 350.6 580.4 353.8C585.0 357.0 589.9 359.4 594.1 361.3C598.4 363.2 603.3 364.3 605.9 365.1C608.5 366.0 606.5 365.7 609.8 366.4C613.1 367.2 619.7 368.9 625.6 369.6C631.5 370.3 638.7 370.9 645.2 370.7C651.8 370.5 657.4 370.1 664.9 368.5C672.4 366.9 682.8 364.2 690.5 361.2C698.2 358.3 704.9 354.7 711.0 350.7C717.1 346.6 722.9 341.7 727.3 337.0C731.7 332.3 735.9 325.0 737.6 322.6M760.1 323.6C761.5 326.7 765.2 336.6 768.3 342.0C771.4 347.4 774.4 351.8 778.5 356.2C782.6 360.6 787.8 364.9 792.9 368.2C798.0 371.6 805.1 374.7 809.2 376.1C813.3 377.5 815.4 376.4 817.4 376.6C819.4 376.8 819.7 377.1 821.1 377.4C822.5 377.8 822.1 378.2 825.6 378.9C829.1 379.6 836.5 380.9 842.0 381.7C847.5 382.6 855.1 383.4 858.4 383.8C861.7 384.2 861.4 384.1 862.0 384.1" stroke="#680a0c" stroke-width="6.5" fill="none" stroke-linejoin="round"/>
<path d="M497.9 347.8h9.5M497.9 353.8h9.5M502.7 347.8v6.0M501.3 344.2h9.5M501.3 350.2h9.5M506.1 344.2v6.0M504.7 340.6h9.5M504.7 346.6h9.5M509.5 340.6v6.0M508.1 336.7h9.5M508.1 342.7h9.5M512.9 336.7v6.0M511.5 332.4h9.5M511.5 338.4h9.5M516.3 332.4v6.0M514.9 327.7h9.5M514.9 333.7h9.5M519.7 327.7v6.0M518.3 322.6h9.5M518.3 328.6h9.5M523.1 322.6v6.0M521.7 316.9h9.5M521.7 322.9h9.5M526.5 316.9v6.0M525.1 310.8h9.5M525.1 316.8h9.5M529.9 310.8v6.0M526.5 308.4h9.5M526.5 314.4h9.5M531.2 308.4v6.0M542.1 307.9h9.5M542.1 313.9h9.5M546.9 307.9v6.0M545.5 316.3h9.5M545.5 322.3h9.5M550.3 316.3v6.0M548.9 323.6h9.5M548.9 329.6h9.5M553.7 323.6v6.0M552.3 328.8h9.5M552.3 334.8h9.5M557.1 328.8v6.0M555.7 332.9h9.5M555.7 338.9h9.5M560.5 332.9v6.0M559.1 336.5h9.5M559.1 342.5h9.5M563.9 336.5v6.0M562.5 339.8h9.5M562.5 345.8h9.5M567.3 339.8v6.0M565.9 343.0h9.5M565.9 349.0h9.5M570.7 343.0v6.0M569.3 346.0h9.5M569.3 352.0h9.5M574.1 346.0v6.0M572.7 348.7h9.5M572.7 354.7h9.5M577.5 348.7v6.0M576.1 351.1h9.5M576.1 357.1h9.5M580.9 351.1v6.0M579.5 353.3h9.5M579.5 359.3h9.5M584.3 353.3v6.0M582.9 355.2h9.5M582.9 361.2h9.5M587.7 355.2v6.0M586.3 356.9h9.5M586.3 362.9h9.5M591.1 356.9v6.0M589.7 358.5h9.5M589.7 364.5h9.5M594.5 358.5v6.0M593.1 359.8h9.5M593.1 365.8h9.5M597.9 359.8v6.0M596.5 360.8h9.5M596.5 366.8h9.5M601.3 360.8v6.0M599.9 361.8h9.5M599.9 367.8h9.5M604.7 361.8v6.0M603.3 363.0h9.5M603.3 369.0h9.5M608.1 363.0v6.0M606.7 363.8h9.5M606.7 369.8h9.5M611.5 363.8v6.0M610.1 364.6h9.5M610.1 370.6h9.5M614.9 364.6v6.0M613.5 365.4h9.5M613.5 371.4h9.5M618.3 365.4v6.0M616.9 366.0h9.5M616.9 372.0h9.5M621.7 366.0v6.0M620.3 366.5h9.5M620.3 372.5h9.5M625.1 366.5v6.0M623.7 366.9h9.5M623.7 372.9h9.5M628.5 366.9v6.0M627.1 367.2h9.5M627.1 373.2h9.5M631.9 367.2v6.0M630.5 367.5h9.5M630.5 373.5h9.5M635.3 367.5v6.0M633.9 367.6h9.5M633.9 373.6h9.5M638.7 367.6v6.0M637.3 367.7h9.5M637.3 373.7h9.5M642.1 367.7v6.0M640.7 367.7h9.5M640.7 373.7h9.5M645.5 367.7v6.0M644.1 367.5h9.5M644.1 373.5h9.5M648.9 367.5v6.0M647.5 367.3h9.5M647.5 373.3h9.5M652.3 367.3v6.0M650.9 367.0h9.5M650.9 373.0h9.5M655.7 367.0v6.0M654.3 366.5h9.5M654.3 372.5h9.5M659.1 366.5v6.0M657.7 366.0h9.5M657.7 372.0h9.5M662.5 366.0v6.0M661.1 365.3h9.5M661.1 371.3h9.5M665.9 365.3v6.0M664.5 364.5h9.5M664.5 370.5h9.5M669.3 364.5v6.0M667.9 363.7h9.5M667.9 369.7h9.5M672.7 363.7v6.0M671.3 362.8h9.5M671.3 368.8h9.5M676.1 362.8v6.0M674.7 361.9h9.5M674.7 367.9h9.5M679.5 361.9v6.0M678.1 360.8h9.5M678.1 366.8h9.5M682.9 360.8v6.0M681.5 359.8h9.5M681.5 365.8h9.5M686.3 359.8v6.0M684.9 358.5h9.5M684.9 364.5h9.5M689.7 358.5v6.0M688.3 357.2h9.5M688.3 363.2h9.5M693.1 357.2v6.0M691.7 355.7h9.5M691.7 361.7h9.5M696.5 355.7v6.0M695.1 354.1h9.5M695.1 360.1h9.5M699.9 354.1v6.0M698.5 352.3h9.5M698.5 358.3h9.5M703.3 352.3v6.0M701.9 350.4h9.5M701.9 356.4h9.5M706.7 350.4v6.0M705.3 348.3h9.5M705.3 354.3h9.5M710.1 348.3v6.0M708.7 346.0h9.5M708.7 352.0h9.5M713.5 346.0v6.0M712.1 343.4h9.5M712.1 349.4h9.5M716.9 343.4v6.0M715.5 340.7h9.5M715.5 346.7h9.5M720.3 340.7v6.0M718.9 337.6h9.5M718.9 343.6h9.5M723.7 337.6v6.0M722.3 334.2h9.5M722.3 340.2h9.5M727.1 334.2v6.0M725.7 330.2h9.5M725.7 336.2h9.5M730.5 330.2v6.0M729.1 325.3h9.5M729.1 331.3h9.5M733.9 325.3v6.0M732.5 320.0h9.5M732.5 326.0h9.5M737.3 320.0v6.0M732.9 319.6h9.5M732.9 325.6h9.5M737.6 319.6v6.0M755.4 320.6h9.5M755.4 326.6h9.5M760.1 320.6v6.0M758.8 328.8h9.5M758.8 334.8h9.5M763.5 328.8v6.0M762.1 336.3h9.5M762.1 342.3h9.5M766.9 336.3v6.0M765.5 342.4h9.5M765.5 348.4h9.5M770.3 342.4v6.0M768.9 347.4h9.5M768.9 353.4h9.5M773.7 347.4v6.0M772.3 351.6h9.5M772.3 357.6h9.5M777.1 351.6v6.0M775.7 355.2h9.5M775.7 361.2h9.5M780.5 355.2v6.0M779.1 358.4h9.5M779.1 364.4h9.5M783.9 358.4v6.0M782.5 361.2h9.5M782.5 367.2h9.5M787.3 361.2v6.0M785.9 363.8h9.5M785.9 369.8h9.5M790.7 363.8v6.0M789.3 366.0h9.5M789.3 372.0h9.5M794.1 366.0v6.0M792.7 367.9h9.5M792.7 373.9h9.5M797.5 367.9v6.0M796.1 369.6h9.5M796.1 375.6h9.5M800.9 369.6v6.0M799.5 371.2h9.5M799.5 377.2h9.5M804.3 371.2v6.0M802.9 372.5h9.5M802.9 378.5h9.5M807.7 372.5v6.0M806.3 373.6h9.5M806.3 379.6h9.5M811.1 373.6v6.0M809.7 373.7h9.5M809.7 379.7h9.5M814.5 373.7v6.0M813.1 373.7h9.5M813.1 379.7h9.5M817.9 373.7v6.0M816.5 374.5h9.5M816.5 380.5h9.5M821.3 374.5v6.0M819.9 375.7h9.5M819.9 381.7h9.5M824.7 375.7v6.0M823.3 376.4h9.5M823.3 382.4h9.5M828.1 376.4v6.0M826.7 377.0h9.5M826.7 383.0h9.5M831.5 377.0v6.0M830.1 377.6h9.5M830.1 383.6h9.5M834.9 377.6v6.0M833.5 378.2h9.5M833.5 384.2h9.5M838.3 378.2v6.0M836.9 378.7h9.5M836.9 384.7h9.5M841.7 378.7v6.0M840.3 379.2h9.5M840.3 385.2h9.5M845.1 379.2v6.0M843.7 379.6h9.5M843.7 385.6h9.5M848.5 379.6v6.0M847.1 380.0h9.5M847.1 386.0h9.5M851.9 380.0v6.0M850.5 380.4h9.5M850.5 386.4h9.5M855.3 380.4v6.0M853.9 380.8h9.5M853.9 386.8h9.5M858.7 380.8v6.0M857.2 381.1h9.5M857.2 387.1h9.5M862.0 381.1v6.0" stroke="#680a0c" stroke-width="2.2" fill="none"/>
<path d="M502.7 352.2C504.5 350.2 510.1 344.7 513.5 340.4C517.0 336.1 520.4 331.2 523.4 326.6C526.4 322.0 529.1 318.1 531.2 312.9C533.3 307.7 534.9 301.4 536.1 295.2C537.4 289.0 538.0 281.4 538.7 275.5C539.4 269.6 539.9 262.6 540.1 260.0L540.1 260.0C540.6 264.9 541.9 281.1 543.0 289.3C544.1 297.5 544.9 302.8 546.9 309.0C548.9 315.2 551.5 321.4 554.8 326.6C558.1 331.8 562.3 336.1 566.6 340.4C570.9 344.7 575.8 348.9 580.4 352.2C585.0 355.5 589.9 358.0 594.1 360.0C598.4 362.0 603.3 363.1 605.9 364.0C608.5 364.9 606.5 364.7 609.8 365.5C613.1 366.3 619.7 368.1 625.6 368.9C631.5 369.7 638.7 370.4 645.2 370.3C651.8 370.2 657.4 369.9 664.9 368.5C672.4 367.1 682.8 364.5 690.5 361.6C698.2 358.8 704.9 355.3 711.0 351.4C717.1 347.5 722.9 342.6 727.3 338.0C731.7 333.4 734.9 328.5 737.6 323.7C740.3 318.9 742.0 314.8 743.7 309.4C745.4 303.9 746.5 298.0 747.8 291.0C749.1 284.0 750.7 271.3 751.3 267.4L751.3 267.4C751.9 273.0 753.5 292.1 755.0 301.2C756.5 310.2 757.9 315.2 760.1 321.7C762.3 328.2 765.2 334.7 768.3 340.1C771.4 345.6 774.4 350.0 778.5 354.4C782.6 358.8 787.8 363.3 792.9 366.7C798.0 370.1 805.1 373.4 809.2 374.9C813.3 376.4 815.4 375.6 817.4 375.9C819.4 376.2 819.7 376.1 821.1 376.5C822.5 376.9 822.1 377.2 825.6 378.0C829.1 378.8 836.5 380.1 842.0 381.0C847.5 381.9 855.1 382.7 858.4 383.1C861.7 383.5 861.4 383.4 862.0 383.5" stroke="#d8141e" stroke-width="4.0" fill="none" stroke-linejoin="round"/>
<path d="M609.0 301.0V311.0M606.5 301.0h5M606.5 311.0h5" stroke="#08085c" stroke-width="1.8" fill="none"/><path d="M821.0 301.0V313.0M818.5 301.0h5M818.5 313.0h5" stroke="#08085c" stroke-width="1.8" fill="none"/>
<path d="M502.7 293.0C504.5 291.0 510.1 285.8 513.5 281.2C517.0 276.6 520.4 270.7 523.4 265.4C526.4 260.2 529.9 252.3 531.2 249.7M547.0 250.5C548.0 253.8 550.2 264.6 552.8 270.2C555.4 275.7 558.8 279.6 562.7 283.8C566.6 288.0 571.5 292.0 576.4 295.4C581.3 298.7 587.2 301.5 592.1 304.0C597.0 306.4 603.0 308.5 605.9 310.0C608.8 311.4 606.5 311.3 609.8 312.8C613.1 314.2 619.7 316.4 625.6 318.5C631.5 320.6 638.7 323.3 645.2 325.4C651.8 327.5 660.4 329.8 664.9 331.2C669.4 332.5 669.4 333.3 672.0 333.2C674.6 333.2 677.4 333.3 680.5 330.8C683.6 328.4 688.1 321.2 690.5 318.6C692.9 316.0 691.2 318.6 694.6 315.3C698.0 312.0 705.9 304.3 711.0 298.8C716.1 293.3 721.2 287.5 725.3 282.4C729.4 277.2 732.8 272.8 735.5 268.0C738.2 263.2 740.7 256.0 741.7 253.6M760.1 262.8C761.5 265.5 765.2 274.4 768.3 279.2C771.4 283.9 774.4 287.6 778.5 291.3C782.6 295.0 787.8 298.3 792.9 301.3C798.0 304.3 805.1 307.5 809.2 309.3C813.3 311.1 815.4 311.4 817.4 312.2C819.4 312.9 819.7 313.3 821.1 313.8C822.5 314.2 822.1 314.3 825.6 315.0C829.1 315.7 836.5 317.0 842.0 318.0C847.5 319.0 855.1 320.5 858.4 321.1C861.7 321.7 861.4 321.4 862.0 321.5" stroke="#08085c" stroke-width="6.5" fill="none" stroke-linejoin="round"/>
<path d="M497.9 290.0h9.5M497.9 296.0h9.5M502.7 290.0v6.0M501.3 286.5h9.5M501.3 292.5h9.5M506.1 286.5v6.0M504.7 282.9h9.5M504.7 288.9h9.5M509.5 282.9v6.0M508.1 278.9h9.5M508.1 284.9h9.5M512.9 278.9v6.0M511.5 274.2h9.5M511.5 280.2h9.5M516.3 274.2v6.0M514.9 268.8h9.5M514.9 274.8h9.5M519.7 268.8v6.0M518.3 262.9h9.5M518.3 268.9h9.5M523.1 262.9v6.0M521.7 256.5h9.5M521.7 262.5h9.5M526.5 256.5v6.0M525.1 249.4h9.5M525.1 255.4h9.5M529.9 249.4v6.0M526.5 246.7h9.5M526.5 252.7h9.5M531.2 246.7v6.0M542.2 247.5h9.5M542.2 253.5h9.5M547.0 247.5v6.0M545.6 260.5h9.5M545.6 266.5h9.5M550.4 260.5v6.0M549.0 269.2h9.5M549.0 275.2h9.5M553.8 269.2v6.0M552.4 274.4h9.5M552.4 280.4h9.5M557.2 274.4v6.0M555.8 278.5h9.5M555.8 284.5h9.5M560.6 278.5v6.0M559.2 282.1h9.5M559.2 288.1h9.5M564.0 282.1v6.0M562.6 285.3h9.5M562.6 291.3h9.5M567.4 285.3v6.0M566.0 288.2h9.5M566.0 294.2h9.5M570.8 288.2v6.0M569.4 290.8h9.5M569.4 296.8h9.5M574.2 290.8v6.0M572.8 293.2h9.5M572.8 299.2h9.5M577.6 293.2v6.0M576.2 295.2h9.5M576.2 301.2h9.5M581.0 295.2v6.0M579.6 297.1h9.5M579.6 303.1h9.5M584.4 297.1v6.0M583.0 298.8h9.5M583.0 304.8h9.5M587.8 298.8v6.0M586.4 300.5h9.5M586.4 306.5h9.5M591.2 300.5v6.0M589.8 302.1h9.5M589.8 308.1h9.5M594.6 302.1v6.0M593.2 303.6h9.5M593.2 309.6h9.5M598.0 303.6v6.0M596.6 305.0h9.5M596.6 311.0h9.5M601.4 305.0v6.0M600.0 306.4h9.5M600.0 312.4h9.5M604.8 306.4v6.0M603.4 308.9h9.5M603.4 314.9h9.5M608.2 308.9v6.0M606.8 310.5h9.5M606.8 316.5h9.5M611.6 310.5v6.0M610.2 311.8h9.5M610.2 317.8h9.5M615.0 311.8v6.0M613.6 313.0h9.5M613.6 319.0h9.5M618.4 313.0v6.0M617.0 314.2h9.5M617.0 320.2h9.5M621.8 314.2v6.0M620.4 315.4h9.5M620.4 321.4h9.5M625.2 315.4v6.0M623.8 316.6h9.5M623.8 322.6h9.5M628.6 316.6v6.0M627.2 317.8h9.5M627.2 323.8h9.5M632.0 317.8v6.0M630.6 319.0h9.5M630.6 325.0h9.5M635.4 319.0v6.0M634.0 320.2h9.5M634.0 326.2h9.5M638.8 320.2v6.0M637.4 321.4h9.5M637.4 327.4h9.5M642.2 321.4v6.0M640.8 322.5h9.5M640.8 328.5h9.5M645.6 322.5v6.0M644.2 323.6h9.5M644.2 329.6h9.5M649.0 323.6v6.0M647.6 324.6h9.5M647.6 330.6h9.5M652.4 324.6v6.0M651.0 325.6h9.5M651.0 331.6h9.5M655.8 325.6v6.0M654.4 326.5h9.5M654.4 332.5h9.5M659.2 326.5v6.0M657.8 327.5h9.5M657.8 333.5h9.5M662.6 327.5v6.0M661.2 328.5h9.5M661.2 334.5h9.5M666.0 328.5v6.0M664.6 329.8h9.5M664.6 335.8h9.5M669.4 329.8v6.0M668.0 330.2h9.5M668.0 336.2h9.5M672.8 330.2v6.0M671.4 329.9h9.5M671.4 335.9h9.5M676.2 329.9v6.0M674.8 328.5h9.5M674.8 334.5h9.5M679.6 328.5v6.0M678.2 325.3h9.5M678.2 331.3h9.5M683.0 325.3v6.0M681.6 320.9h9.5M681.6 326.9h9.5M686.4 320.9v6.0M685.0 316.4h9.5M685.0 322.4h9.5M689.8 316.4v6.0M688.4 313.5h9.5M688.4 319.5h9.5M693.2 313.5v6.0M691.8 310.3h9.5M691.8 316.3h9.5M696.6 310.3v6.0M695.2 307.0h9.5M695.2 313.0h9.5M700.0 307.0v6.0M698.6 303.6h9.5M698.6 309.6h9.5M703.4 303.6v6.0M702.0 300.2h9.5M702.0 306.2h9.5M706.8 300.2v6.0M705.4 296.7h9.5M705.4 302.7h9.5M710.2 296.7v6.0M708.8 293.0h9.5M708.8 299.0h9.5M713.6 293.0v6.0M712.2 289.2h9.5M712.2 295.2h9.5M717.0 289.2v6.0M715.6 285.3h9.5M715.6 291.3h9.5M720.4 285.3v6.0M719.0 281.2h9.5M719.0 287.2h9.5M723.8 281.2v6.0M722.4 277.0h9.5M722.4 283.0h9.5M727.2 277.0v6.0M725.8 272.5h9.5M725.8 278.5h9.5M730.6 272.5v6.0M729.2 267.5h9.5M729.2 273.5h9.5M734.0 267.5v6.0M732.6 261.2h9.5M732.6 267.2h9.5M737.4 261.2v6.0M736.0 252.9h9.5M736.0 258.9h9.5M740.8 252.9v6.0M737.0 250.6h9.5M737.0 256.6h9.5M741.7 250.6v6.0M755.4 259.8h9.5M755.4 265.8h9.5M760.1 259.8v6.0M758.8 267.1h9.5M758.8 273.1h9.5M763.5 267.1v6.0M762.1 273.8h9.5M762.1 279.8h9.5M766.9 273.8v6.0M765.5 279.1h9.5M765.5 285.1h9.5M770.3 279.1v6.0M768.9 283.5h9.5M768.9 289.5h9.5M773.7 283.5v6.0M772.3 287.0h9.5M772.3 293.0h9.5M777.1 287.0v6.0M775.7 290.0h9.5M775.7 296.0h9.5M780.5 290.0v6.0M779.1 292.6h9.5M779.1 298.6h9.5M783.9 292.6v6.0M782.5 294.9h9.5M782.5 300.9h9.5M787.3 294.9v6.0M785.9 297.0h9.5M785.9 303.0h9.5M790.7 297.0v6.0M789.3 299.0h9.5M789.3 305.0h9.5M794.1 299.0v6.0M792.7 300.8h9.5M792.7 306.8h9.5M797.5 300.8v6.0M796.1 302.5h9.5M796.1 308.5h9.5M800.9 302.5v6.0M799.5 304.1h9.5M799.5 310.1h9.5M804.3 304.1v6.0M802.9 305.6h9.5M802.9 311.6h9.5M807.7 305.6v6.0M806.3 307.1h9.5M806.3 313.1h9.5M811.1 307.1v6.0M809.7 308.3h9.5M809.7 314.3h9.5M814.5 308.3v6.0M813.1 309.4h9.5M813.1 315.4h9.5M817.9 309.4v6.0M816.5 310.8h9.5M816.5 316.8h9.5M821.3 310.8v6.0M819.9 311.8h9.5M819.9 317.8h9.5M824.7 311.8v6.0M823.3 312.5h9.5M823.3 318.5h9.5M828.1 312.5v6.0M826.7 313.1h9.5M826.7 319.1h9.5M831.5 313.1v6.0M830.1 313.7h9.5M830.1 319.7h9.5M834.9 313.7v6.0M833.5 314.3h9.5M833.5 320.3h9.5M838.3 314.3v6.0M836.9 315.0h9.5M836.9 321.0h9.5M841.7 315.0v6.0M840.3 315.6h9.5M840.3 321.6h9.5M845.1 315.6v6.0M843.7 316.2h9.5M843.7 322.2h9.5M848.5 316.2v6.0M847.1 316.9h9.5M847.1 322.9h9.5M851.9 316.9v6.0M850.5 317.5h9.5M850.5 323.5h9.5M855.3 317.5v6.0M853.9 318.1h9.5M853.9 324.1h9.5M858.7 318.1v6.0M857.2 318.5h9.5M857.2 324.5h9.5M862.0 318.5v6.0" stroke="#08085c" stroke-width="2.2" fill="none"/>
<path d="M502.7 295.2C504.5 293.2 510.1 288.0 513.5 283.4C517.0 278.8 520.4 272.9 523.4 267.7C526.4 262.5 529.0 258.3 531.2 252.0C533.4 245.7 535.0 239.0 536.5 230.0C538.0 221.0 539.5 203.3 540.1 198.0L540.1 198.0C540.7 203.0 542.4 219.3 543.5 228.0C544.6 236.7 545.5 243.1 547.0 250.0C548.5 256.9 550.2 264.1 552.8 269.7C555.4 275.3 558.8 279.1 562.7 283.4C566.6 287.6 571.5 291.8 576.4 295.2C581.3 298.6 587.2 301.5 592.1 304.0C597.0 306.5 603.0 308.5 605.9 310.0C608.8 311.5 606.5 311.4 609.8 312.9C613.1 314.4 619.7 316.7 625.6 318.8C631.5 320.9 638.7 323.6 645.2 325.7C651.8 327.8 660.4 330.1 664.9 331.5C669.4 332.9 669.4 333.8 672.0 334.0C674.6 334.2 677.4 335.2 680.5 333.0C683.6 330.8 688.1 323.6 690.5 321.0C692.9 318.4 691.2 320.9 694.6 317.6C698.0 314.3 705.9 306.7 711.0 301.2C716.1 295.7 721.2 289.9 725.3 284.8C729.4 279.7 732.8 275.3 735.5 270.5C738.2 265.7 739.9 262.0 741.7 256.1C743.5 250.2 744.9 243.2 746.5 235.0C748.1 226.8 750.5 211.7 751.3 207.0L751.3 207.0C752.0 212.2 754.0 228.8 755.5 238.0C757.0 247.2 758.0 255.5 760.1 262.3C762.2 269.1 765.2 273.9 768.3 278.7C771.4 283.5 774.4 287.2 778.5 291.0C782.6 294.8 787.8 298.1 792.9 301.2C798.0 304.3 805.1 307.5 809.2 309.4C813.3 311.3 815.4 311.6 817.4 312.4C819.4 313.2 819.7 313.5 821.1 314.0C822.5 314.5 822.1 314.7 825.6 315.5C829.1 316.3 836.5 317.6 842.0 318.6C847.5 319.6 855.1 321.1 858.4 321.7C861.7 322.3 861.4 322.1 862.0 322.2" stroke="#40dce8" stroke-width="4.0" fill="none" stroke-linejoin="round"/>
<path d="M610.0 241.0V251.0M607.5 241.0h5M607.5 251.0h5" stroke="#0c5c1c" stroke-width="1.8" fill="none"/><path d="M821.0 239.7V253.0M818.5 239.7h5M818.5 253.0h5" stroke="#0c5c1c" stroke-width="1.8" fill="none"/>
<path d="M502.7 230.9C505.2 228.5 513.4 221.3 517.5 216.2C521.6 211.1 525.7 203.0 527.3 200.3M548.9 192.3C550.2 194.9 553.8 203.5 556.8 208.1C559.8 212.7 562.7 215.6 566.6 219.8C570.5 224.0 575.8 229.5 580.4 233.4C585.0 237.3 589.9 240.4 594.1 243.0C598.4 245.6 603.3 247.4 605.9 248.8C608.5 250.1 608.2 249.7 609.8 251.1C611.4 252.4 613.1 254.9 615.7 257.0C618.3 259.0 622.0 262.0 625.6 263.5C629.2 265.1 633.4 266.0 637.3 266.3C641.2 266.7 644.5 266.6 649.1 265.6C653.7 264.7 660.1 262.7 664.9 260.8C669.7 258.9 673.7 256.8 678.0 254.2C682.3 251.7 685.0 249.3 690.5 245.4C696.0 241.6 705.2 235.5 711.0 231.1C716.8 226.6 720.9 223.4 725.3 218.6C729.7 213.8 735.5 204.9 737.6 202.2M760.1 197.0C761.5 199.7 765.2 208.2 768.3 213.3C771.4 218.4 774.4 222.9 778.5 227.6C782.6 232.4 787.8 237.7 792.9 241.7C798.0 245.8 805.1 249.4 809.2 251.8C813.3 254.1 815.4 254.8 817.4 255.8C819.4 256.8 819.7 257.1 821.1 257.8C822.5 258.4 822.1 258.5 825.6 259.6C829.1 260.8 836.5 263.2 842.0 264.7C847.5 266.2 855.1 267.9 858.4 268.6C861.7 269.4 861.4 269.1 862.0 269.2" stroke="#0c5c1c" stroke-width="6.5" fill="none" stroke-linejoin="round"/>
<path d="M497.9 227.9h9.5M497.9 233.9h9.5M502.7 227.9v6.0M501.3 224.7h9.5M501.3 230.7h9.5M506.1 224.7v6.0M504.7 221.5h9.5M504.7 227.5h9.5M509.5 221.5v6.0M508.1 218.2h9.5M508.1 224.2h9.5M512.9 218.2v6.0M511.5 214.6h9.5M511.5 220.6h9.5M516.3 214.6v6.0M514.9 210.2h9.5M514.9 216.2h9.5M519.7 210.2v6.0M518.3 204.7h9.5M518.3 210.7h9.5M523.1 204.7v6.0M521.7 198.7h9.5M521.7 204.7h9.5M526.5 198.7v6.0M522.5 197.3h9.5M522.5 203.3h9.5M527.3 197.3v6.0M544.1 189.3h9.5M544.1 195.3h9.5M548.9 189.3v6.0M547.5 196.6h9.5M547.5 202.6h9.5M552.3 196.6v6.0M550.9 203.2h9.5M550.9 209.2h9.5M555.7 203.2v6.0M554.3 208.3h9.5M554.3 214.3h9.5M559.1 208.3v6.0M557.7 212.4h9.5M557.7 218.4h9.5M562.5 212.4v6.0M561.1 216.0h9.5M561.1 222.0h9.5M565.9 216.0v6.0M564.5 219.7h9.5M564.5 225.7h9.5M569.3 219.7v6.0M567.9 223.2h9.5M567.9 229.2h9.5M572.7 223.2v6.0M571.3 226.5h9.5M571.3 232.5h9.5M576.1 226.5v6.0M574.7 229.6h9.5M574.7 235.6h9.5M579.5 229.6v6.0M578.1 232.4h9.5M578.1 238.4h9.5M582.9 232.4v6.0M581.5 234.9h9.5M581.5 240.9h9.5M586.3 234.9v6.0M584.9 237.2h9.5M584.9 243.2h9.5M589.7 237.2v6.0M588.3 239.4h9.5M588.3 245.4h9.5M593.1 239.4v6.0M591.7 241.3h9.5M591.7 247.3h9.5M596.5 241.3v6.0M595.1 243.0h9.5M595.1 249.0h9.5M599.9 243.0v6.0M598.5 244.5h9.5M598.5 250.5h9.5M603.3 244.5v6.0M601.9 246.2h9.5M601.9 252.2h9.5M606.7 246.2v6.0M605.3 248.3h9.5M605.3 254.3h9.5M610.1 248.3v6.0M608.7 251.9h9.5M608.7 257.9h9.5M613.5 251.9v6.0M612.1 254.9h9.5M612.1 260.9h9.5M616.9 254.9v6.0M615.5 257.4h9.5M615.5 263.4h9.5M620.3 257.4v6.0M618.9 259.6h9.5M618.9 265.6h9.5M623.7 259.6v6.0M622.3 261.1h9.5M622.3 267.1h9.5M627.1 261.1v6.0M625.7 262.2h9.5M625.7 268.2h9.5M630.5 262.2v6.0M629.1 262.9h9.5M629.1 268.9h9.5M633.9 262.9v6.0M632.5 263.3h9.5M632.5 269.3h9.5M637.3 263.3v6.0M635.9 263.5h9.5M635.9 269.5h9.5M640.7 263.5v6.0M639.3 263.4h9.5M639.3 269.4h9.5M644.1 263.4v6.0M642.7 262.9h9.5M642.7 268.9h9.5M647.5 262.9v6.0M646.1 262.3h9.5M646.1 268.3h9.5M650.9 262.3v6.0M649.5 261.4h9.5M649.5 267.4h9.5M654.3 261.4v6.0M652.9 260.4h9.5M652.9 266.4h9.5M657.7 260.4v6.0M656.3 259.2h9.5M656.3 265.2h9.5M661.1 259.2v6.0M659.7 258.0h9.5M659.7 264.0h9.5M664.5 258.0v6.0M663.1 256.6h9.5M663.1 262.6h9.5M667.9 256.6v6.0M666.5 255.0h9.5M666.5 261.0h9.5M671.3 255.0v6.0M669.9 253.2h9.5M669.9 259.2h9.5M674.7 253.2v6.0M673.3 251.2h9.5M673.3 257.2h9.5M678.1 251.2v6.0M676.7 249.0h9.5M676.7 255.0h9.5M681.5 249.0v6.0M680.1 246.5h9.5M680.1 252.5h9.5M684.9 246.5v6.0M683.5 244.0h9.5M683.5 250.0h9.5M688.3 244.0v6.0M686.9 241.6h9.5M686.9 247.6h9.5M691.7 241.6v6.0M690.3 239.3h9.5M690.3 245.3h9.5M695.1 239.3v6.0M693.7 236.9h9.5M693.7 242.9h9.5M698.5 236.9v6.0M697.1 234.6h9.5M697.1 240.6h9.5M701.9 234.6v6.0M700.5 232.2h9.5M700.5 238.2h9.5M705.3 232.2v6.0M703.9 229.8h9.5M703.9 235.8h9.5M708.7 229.8v6.0M707.3 227.2h9.5M707.3 233.2h9.5M712.1 227.2v6.0M710.7 224.6h9.5M710.7 230.6h9.5M715.5 224.6v6.0M714.1 221.8h9.5M714.1 227.8h9.5M718.9 221.8v6.0M717.5 218.7h9.5M717.5 224.7h9.5M722.3 218.7v6.0M720.9 215.2h9.5M720.9 221.2h9.5M725.7 215.2v6.0M724.3 211.0h9.5M724.3 217.0h9.5M729.1 211.0v6.0M727.7 206.4h9.5M727.7 212.4h9.5M732.5 206.4v6.0M731.1 201.6h9.5M731.1 207.6h9.5M735.9 201.6v6.0M732.9 199.2h9.5M732.9 205.2h9.5M737.6 199.2v6.0M755.4 194.0h9.5M755.4 200.0h9.5M760.1 194.0v6.0M758.8 201.1h9.5M758.8 207.1h9.5M763.5 201.1v6.0M762.1 207.8h9.5M762.1 213.8h9.5M766.9 207.8v6.0M765.5 213.5h9.5M765.5 219.5h9.5M770.3 213.5v6.0M768.9 218.5h9.5M768.9 224.5h9.5M773.7 218.5v6.0M772.3 223.0h9.5M772.3 229.0h9.5M777.1 223.0v6.0M775.7 226.9h9.5M775.7 232.9h9.5M780.5 226.9v6.0M779.1 230.5h9.5M779.1 236.5h9.5M783.9 230.5v6.0M782.5 233.9h9.5M782.5 239.9h9.5M787.3 233.9v6.0M785.9 236.9h9.5M785.9 242.9h9.5M790.7 236.9v6.0M789.3 239.7h9.5M789.3 245.7h9.5M794.1 239.7v6.0M792.7 242.0h9.5M792.7 248.0h9.5M797.5 242.0v6.0M796.1 244.1h9.5M796.1 250.1h9.5M800.9 244.1v6.0M799.5 246.0h9.5M799.5 252.0h9.5M804.3 246.0v6.0M802.9 247.9h9.5M802.9 253.9h9.5M807.7 247.9v6.0M806.3 249.8h9.5M806.3 255.8h9.5M811.1 249.8v6.0M809.7 251.4h9.5M809.7 257.4h9.5M814.5 251.4v6.0M813.1 253.0h9.5M813.1 259.0h9.5M817.9 253.0v6.0M816.5 254.8h9.5M816.5 260.8h9.5M821.3 254.8v6.0M819.9 256.3h9.5M819.9 262.3h9.5M824.7 256.3v6.0M823.3 257.4h9.5M823.3 263.4h9.5M828.1 257.4v6.0M826.7 258.5h9.5M826.7 264.5h9.5M831.5 258.5v6.0M830.1 259.6h9.5M830.1 265.6h9.5M834.9 259.6v6.0M833.5 260.6h9.5M833.5 266.6h9.5M838.3 260.6v6.0M836.9 261.6h9.5M836.9 267.6h9.5M841.7 261.6v6.0M840.3 262.5h9.5M840.3 268.5h9.5M845.1 262.5v6.0M843.7 263.3h9.5M843.7 269.3h9.5M848.5 263.3v6.0M847.1 264.1h9.5M847.1 270.1h9.5M851.9 264.1v6.0M850.5 264.9h9.5M850.5 270.9h9.5M855.3 264.9v6.0M853.9 265.7h9.5M853.9 271.7h9.5M858.7 265.7v6.0M857.2 266.2h9.5M857.2 272.2h9.5M862.0 266.2v6.0" stroke="#0c5c1c" stroke-width="2.2" fill="none"/>
<path d="M502.7 232.3C505.2 229.9 513.4 222.7 517.5 217.6C521.6 212.5 524.7 207.1 527.3 201.8C529.9 196.6 531.6 192.3 533.2 186.1C534.8 179.9 536.0 172.5 537.1 164.5C538.2 156.5 539.6 142.4 540.1 138.0L540.1 138.0C540.8 142.1 542.5 153.8 544.0 162.5C545.5 171.2 546.8 182.8 548.9 190.0C551.0 197.2 553.8 201.2 556.8 205.8C559.8 210.4 562.7 213.3 566.6 217.6C570.5 221.8 575.8 227.4 580.4 231.3C585.0 235.2 589.9 238.5 594.1 241.1C598.4 243.7 603.3 245.7 605.9 247.0C608.5 248.3 608.2 247.7 609.8 249.0C611.4 250.3 613.1 252.8 615.7 254.9C618.3 257.0 622.0 260.1 625.6 261.8C629.2 263.5 633.4 264.6 637.3 265.2C641.2 265.8 644.5 265.9 649.1 265.2C653.7 264.5 660.1 262.6 664.9 260.8C669.7 259.0 673.7 257.0 678.0 254.5C682.3 252.0 685.0 249.6 690.5 245.8C696.0 242.0 705.2 235.9 711.0 231.5C716.8 227.1 720.9 224.0 725.3 219.2C729.7 214.4 734.4 209.0 737.6 202.9C740.8 196.8 742.8 189.2 744.7 182.4C746.6 175.6 747.7 168.1 748.8 161.9C749.9 155.8 750.9 148.2 751.3 145.5L751.3 145.5C751.9 149.9 753.5 163.9 755.0 172.1C756.5 180.3 757.9 188.2 760.1 194.7C762.3 201.2 765.2 205.9 768.3 211.0C771.4 216.1 774.4 220.6 778.5 225.4C782.6 230.2 787.8 235.6 792.9 239.7C798.0 243.8 805.1 247.5 809.2 249.9C813.3 252.3 815.4 253.0 817.4 254.0C819.4 255.0 819.7 255.3 821.1 256.0C822.5 256.7 822.1 256.9 825.6 258.1C829.1 259.3 836.5 261.8 842.0 263.3C847.5 264.8 855.1 266.5 858.4 267.3C861.7 268.1 861.4 267.9 862.0 268.0" stroke="#32dc2a" stroke-width="4.0" fill="none" stroke-linejoin="round"/>
<path d="M611.0 183.0V196.0M608.5 183.0h5M608.5 196.0h5" stroke="#5a2628" stroke-width="1.8" fill="none"/><path d="M821.0 186.5V198.0M818.5 186.5h5M818.5 198.0h5" stroke="#5a2628" stroke-width="1.8" fill="none"/>
<path d="M502.7 170.0C505.2 167.6 513.4 160.0 517.5 155.2C521.6 150.4 525.7 143.7 527.3 141.4M546.9 133.4C548.2 136.3 551.5 145.9 554.8 151.1C558.1 156.3 562.3 160.4 566.6 164.7C570.9 168.9 575.8 172.8 580.4 176.3C585.0 179.9 589.9 183.4 594.1 186.0C598.4 188.6 603.3 190.4 605.9 191.8C608.5 193.1 608.5 193.2 609.5 194.0C610.5 194.8 611.3 196.1 612.0 196.6C612.7 197.2 611.5 196.8 613.8 197.4C616.1 197.9 621.7 199.6 625.6 200.0C629.5 200.5 633.4 200.6 637.3 200.2C641.2 199.8 644.5 199.1 649.1 197.7C653.7 196.4 660.1 193.8 664.9 192.1C669.7 190.3 673.7 188.7 678.0 187.2C682.3 185.8 685.0 185.7 690.5 183.4C696.0 181.0 705.2 176.6 711.0 172.9C716.8 169.2 720.9 166.0 725.3 161.3C729.7 156.6 735.5 147.6 737.6 144.8M758.0 131.4C759.4 134.8 763.1 145.8 766.2 151.9C769.3 158.0 772.7 163.5 776.5 168.2C780.3 173.0 784.4 176.7 788.8 180.4C793.2 184.1 798.7 187.4 803.1 190.5C807.5 193.5 812.5 197.0 815.4 198.5C818.3 200.0 818.8 199.0 820.5 199.6C822.2 200.2 822.4 201.2 825.6 202.3C828.8 203.4 834.8 205.1 839.9 206.2C845.0 207.3 852.6 208.6 856.3 209.2C860.0 209.8 861.0 209.8 862.0 209.9" stroke="#5a2628" stroke-width="6.5" fill="none" stroke-linejoin="round"/>
<path d="M497.9 167.0h9.5M497.9 173.0h9.5M502.7 167.0v6.0M501.3 163.7h9.5M501.3 169.7h9.5M506.1 163.7v6.0M504.7 160.5h9.5M504.7 166.5h9.5M509.5 160.5v6.0M508.1 157.1h9.5M508.1 163.1h9.5M512.9 157.1v6.0M511.5 153.5h9.5M511.5 159.5h9.5M516.3 153.5v6.0M514.9 149.5h9.5M514.9 155.5h9.5M519.7 149.5v6.0M518.3 144.7h9.5M518.3 150.7h9.5M523.1 144.7v6.0M521.7 139.6h9.5M521.7 145.6h9.5M526.5 139.6v6.0M522.5 138.4h9.5M522.5 144.4h9.5M527.3 138.4v6.0M542.1 130.4h9.5M542.1 136.4h9.5M546.9 130.4v6.0M545.5 138.8h9.5M545.5 144.8h9.5M550.3 138.8v6.0M548.9 146.2h9.5M548.9 152.2h9.5M553.7 146.2v6.0M552.3 151.4h9.5M552.3 157.4h9.5M557.1 151.4v6.0M555.7 155.4h9.5M555.7 161.4h9.5M560.5 155.4v6.0M559.1 159.0h9.5M559.1 165.0h9.5M563.9 159.0v6.0M562.5 162.3h9.5M562.5 168.3h9.5M567.3 162.3v6.0M565.9 165.5h9.5M565.9 171.5h9.5M570.7 165.5v6.0M569.3 168.3h9.5M569.3 174.3h9.5M574.1 168.3v6.0M572.7 171.1h9.5M572.7 177.1h9.5M577.5 171.1v6.0M576.1 173.7h9.5M576.1 179.7h9.5M580.9 173.7v6.0M579.5 176.3h9.5M579.5 182.3h9.5M584.3 176.3v6.0M582.9 178.8h9.5M582.9 184.8h9.5M587.7 178.8v6.0M586.3 181.1h9.5M586.3 187.1h9.5M591.1 181.1v6.0M589.7 183.2h9.5M589.7 189.2h9.5M594.5 183.2v6.0M593.1 185.1h9.5M593.1 191.1h9.5M597.9 185.1v6.0M596.5 186.6h9.5M596.5 192.6h9.5M601.3 186.6v6.0M599.9 188.2h9.5M599.9 194.2h9.5M604.7 188.2v6.0M603.3 190.0h9.5M603.3 196.0h9.5M608.1 190.0v6.0M606.7 193.1h9.5M606.7 199.1h9.5M611.5 193.1v6.0M610.1 194.7h9.5M610.1 200.7h9.5M614.9 194.7v6.0M613.5 195.6h9.5M613.5 201.6h9.5M618.3 195.6v6.0M616.9 196.4h9.5M616.9 202.4h9.5M621.7 196.4v6.0M620.3 197.0h9.5M620.3 203.0h9.5M625.1 197.0v6.0M623.7 197.3h9.5M623.7 203.3h9.5M628.5 197.3v6.0M627.1 197.4h9.5M627.1 203.4h9.5M631.9 197.4v6.0M630.5 197.3h9.5M630.5 203.3h9.5M635.3 197.3v6.0M633.9 197.0h9.5M633.9 203.0h9.5M638.7 197.0v6.0M637.3 196.5h9.5M637.3 202.5h9.5M642.1 196.5v6.0M640.7 195.7h9.5M640.7 201.7h9.5M645.5 195.7v6.0M644.1 194.8h9.5M644.1 200.8h9.5M648.9 194.8v6.0M647.5 193.7h9.5M647.5 199.7h9.5M652.3 193.7v6.0M650.9 192.5h9.5M650.9 198.5h9.5M655.7 192.5v6.0M654.3 191.2h9.5M654.3 197.2h9.5M659.1 191.2v6.0M657.7 189.9h9.5M657.7 195.9h9.5M662.5 189.9v6.0M661.1 188.7h9.5M661.1 194.7h9.5M665.9 188.7v6.0M664.5 187.4h9.5M664.5 193.4h9.5M669.3 187.4v6.0M667.9 186.1h9.5M667.9 192.1h9.5M672.7 186.1v6.0M671.3 184.9h9.5M671.3 190.9h9.5M676.1 184.9v6.0M674.7 183.7h9.5M674.7 189.7h9.5M679.5 183.7v6.0M678.1 182.9h9.5M678.1 188.9h9.5M682.9 182.9v6.0M681.5 181.9h9.5M681.5 187.9h9.5M686.3 181.9v6.0M684.9 180.7h9.5M684.9 186.7h9.5M689.7 180.7v6.0M688.3 179.2h9.5M688.3 185.2h9.5M693.1 179.2v6.0M691.7 177.6h9.5M691.7 183.6h9.5M696.5 177.6v6.0M695.1 176.0h9.5M695.1 182.0h9.5M699.9 176.0v6.0M698.5 174.3h9.5M698.5 180.3h9.5M703.3 174.3v6.0M701.9 172.4h9.5M701.9 178.4h9.5M706.7 172.4v6.0M705.3 170.5h9.5M705.3 176.5h9.5M710.1 170.5v6.0M708.7 168.3h9.5M708.7 174.3h9.5M713.5 168.3v6.0M712.1 165.9h9.5M712.1 171.9h9.5M716.9 165.9v6.0M715.5 163.1h9.5M715.5 169.1h9.5M720.3 163.1v6.0M718.9 160.0h9.5M718.9 166.0h9.5M723.7 160.0v6.0M722.3 156.3h9.5M722.3 162.3h9.5M727.1 156.3v6.0M725.7 151.9h9.5M725.7 157.9h9.5M730.5 151.9v6.0M729.1 147.1h9.5M729.1 153.1h9.5M733.9 147.1v6.0M732.5 142.2h9.5M732.5 148.2h9.5M737.3 142.2v6.0M732.9 141.8h9.5M732.9 147.8h9.5M737.6 141.8v6.0M753.2 128.4h9.5M753.2 134.4h9.5M758.0 128.4v6.0M756.6 137.5h9.5M756.6 143.5h9.5M761.4 137.5v6.0M760.0 145.9h9.5M760.0 151.9h9.5M764.8 145.9v6.0M763.4 152.7h9.5M763.4 158.7h9.5M768.2 152.7v6.0M766.8 158.4h9.5M766.8 164.4h9.5M771.6 158.4v6.0M770.2 163.3h9.5M770.2 169.3h9.5M775.0 163.3v6.0M773.6 167.5h9.5M773.6 173.5h9.5M778.4 167.5v6.0M777.0 171.1h9.5M777.0 177.1h9.5M781.8 171.1v6.0M780.4 174.3h9.5M780.4 180.3h9.5M785.2 174.3v6.0M783.8 177.2h9.5M783.8 183.2h9.5M788.6 177.2v6.0M787.2 179.9h9.5M787.2 185.9h9.5M792.0 179.9v6.0M790.6 182.3h9.5M790.6 188.3h9.5M795.4 182.3v6.0M794.0 184.6h9.5M794.0 190.6h9.5M798.8 184.6v6.0M797.4 186.9h9.5M797.4 192.9h9.5M802.2 186.9v6.0M800.8 189.2h9.5M800.8 195.2h9.5M805.6 189.2v6.0M804.2 191.5h9.5M804.2 197.5h9.5M809.0 191.5v6.0M807.6 193.7h9.5M807.6 199.7h9.5M812.4 193.7v6.0M811.0 195.7h9.5M811.0 201.7h9.5M815.8 195.7v6.0M814.4 196.4h9.5M814.4 202.4h9.5M819.2 196.4v6.0M817.8 197.9h9.5M817.8 203.9h9.5M822.6 197.9v6.0M821.2 199.5h9.5M821.2 205.5h9.5M826.0 199.5v6.0M824.6 200.5h9.5M824.6 206.5h9.5M829.4 200.5v6.0M828.0 201.5h9.5M828.0 207.5h9.5M832.8 201.5v6.0M831.4 202.3h9.5M831.4 208.3h9.5M836.2 202.3v6.0M834.8 203.1h9.5M834.8 209.1h9.5M839.6 203.1v6.0M838.2 203.9h9.5M838.2 209.9h9.5M843.0 203.9v6.0M841.6 204.5h9.5M841.6 210.5h9.5M846.4 204.5v6.0M845.0 205.1h9.5M845.0 211.1h9.5M849.8 205.1v6.0M848.4 205.7h9.5M848.4 211.7h9.5M853.2 205.7v6.0M851.8 206.2h9.5M851.8 212.2h9.5M856.6 206.2v6.0M855.2 206.7h9.5M855.2 212.7h9.5M860.0 206.7v6.0M857.2 206.9h9.5M857.2 212.9h9.5M862.0 206.9v6.0" stroke="#5a2628" stroke-width="2.2" fill="none"/>
<path d="M502.7 171.4C505.2 168.9 513.4 161.3 517.5 156.6C521.6 151.8 524.7 147.5 527.3 142.9C529.9 138.3 531.6 134.7 533.2 129.1C534.8 123.5 536.0 116.6 537.1 109.5C538.2 102.4 539.6 90.3 540.1 86.5L540.1 86.5C540.6 90.3 541.9 102.1 543.0 109.5C544.1 116.9 544.9 124.5 546.9 131.1C548.9 137.7 551.5 143.6 554.8 148.8C558.1 154.0 562.3 158.2 566.6 162.5C570.9 166.8 575.8 170.7 580.4 174.3C585.0 177.9 589.9 181.5 594.1 184.1C598.4 186.7 603.3 188.7 605.9 190.0C608.5 191.3 608.5 191.2 609.5 192.0C610.5 192.8 611.3 193.8 612.0 194.5C612.7 195.2 611.5 195.2 613.8 195.9C616.1 196.6 621.7 198.3 625.6 198.9C629.5 199.5 633.4 199.7 637.3 199.5C641.2 199.3 644.5 198.8 649.1 197.5C653.7 196.2 660.1 193.7 664.9 192.0C669.7 190.3 673.7 188.5 678.0 187.1C682.3 185.7 685.0 185.7 690.5 183.4C696.0 181.1 705.2 176.8 711.0 173.2C716.8 169.6 720.9 166.5 725.3 161.9C729.7 157.3 734.4 151.3 737.6 145.5C740.8 139.7 742.8 133.9 744.7 127.1C746.6 120.3 747.7 111.1 748.8 104.6C749.9 98.1 750.9 90.9 751.3 88.2L751.3 88.2C751.7 91.3 752.8 99.8 753.9 106.6C755.0 113.4 756.0 121.9 758.0 129.1C760.0 136.3 763.1 143.4 766.2 149.6C769.3 155.8 772.7 161.2 776.5 166.0C780.3 170.8 784.4 174.6 788.8 178.3C793.2 182.1 798.7 185.4 803.1 188.5C807.5 191.6 812.5 195.1 815.4 196.7C818.3 198.3 818.8 197.3 820.5 198.0C822.2 198.7 822.4 199.7 825.6 200.8C828.8 202.0 834.8 203.7 839.9 204.9C845.0 206.1 852.6 207.3 856.3 208.0C860.0 208.7 861.0 208.7 862.0 208.8" stroke="#d41ec8" stroke-width="4.0" fill="none" stroke-linejoin="round"/>
</g>
<path d="M540.0 83.3v4.5M540.0 446.6v-4.5M610.2 83.3v4.5M610.2 446.6v-4.5M680.4 83.3v4.5M680.4 446.6v-4.5M750.5 83.3v4.5M750.5 446.6v-4.5M820.6 83.3v4.5M820.6 446.6v-4.5M491.5 427.8h4.2M863.4 427.8h-4.2M491.5 366.8h4.2M863.4 366.8h-4.2M491.5 305.8h4.2M863.4 305.8h-4.2M491.5 244.8h4.2M863.4 244.8h-4.2M491.5 183.8h4.2M863.4 183.8h-4.2M491.5 122.8h4.2M863.4 122.8h-4.2" stroke="#000" stroke-width="2" fill="none"/>
<path d="M491.5 409.4h2.2M863.4 409.4h-2.2M491.5 398.7h2.2M863.4 398.7h-2.2M491.5 391.1h2.2M863.4 391.1h-2.2M491.5 385.2h2.2M863.4 385.2h-2.2M491.5 380.3h2.2M863.4 380.3h-2.2M491.5 376.2h2.2M863.4 376.2h-2.2M491.5 372.7h2.2M863.4 372.7h-2.2M491.5 369.6h2.2M863.4 369.6h-2.2M491.5 348.4h2.2M863.4 348.4h-2.2M491.5 337.7h2.2M863.4 337.7h-2.2M491.5 330.1h2.2M863.4 330.1h-2.2M491.5 324.2h2.2M863.4 324.2h-2.2M491.5 319.3h2.2M863.4 319.3h-2.2M491.5 315.2h2.2M863.4 315.2h-2.2M491.5 311.7h2.2M863.4 311.7h-2.2M491.5 308.6h2.2M863.4 308.6h-2.2M491.5 287.4h2.2M863.4 287.4h-2.2M491.5 276.7h2.2M863.4 276.7h-2.2M491.5 269.1h2.2M863.4 269.1h-2.2M491.5 263.2h2.2M863.4 263.2h-2.2M491.5 258.3h2.2M863.4 258.3h-2.2M491.5 254.2h2.2M863.4 254.2h-2.2M491.5 250.7h2.2M863.4 250.7h-2.2M491.5 247.6h2.2M863.4 247.6h-2.2M491.5 226.4h2.2M863.4 226.4h-2.2M491.5 215.7h2.2M863.4 215.7h-2.2M491.5 208.1h2.2M863.4 208.1h-2.2M491.5 202.2h2.2M863.4 202.2h-2.2M491.5 197.3h2.2M863.4 197.3h-2.2M491.5 193.2h2.2M863.4 193.2h-2.2M491.5 189.7h2.2M863.4 189.7h-2.2M491.5 186.6h2.2M863.4 186.6h-2.2M491.5 165.4h2.2M863.4 165.4h-2.2M491.5 154.7h2.2M863.4 154.7h-2.2M491.5 147.1h2.2M863.4 147.1h-2.2M491.5 141.2h2.2M863.4 141.2h-2.2M491.5 136.3h2.2M863.4 136.3h-2.2M491.5 132.2h2.2M863.4 132.2h-2.2M491.5 128.7h2.2M863.4 128.7h-2.2M491.5 125.6h2.2M863.4 125.6h-2.2M491.5 104.4h2.2M863.4 104.4h-2.2M491.5 93.7h2.2M863.4 93.7h-2.2M491.5 86.1h2.2M863.4 86.1h-2.2M505.0 83.3v2.2M505.0 446.6v-2.2M575.1 83.3v2.2M575.1 446.6v-2.2M645.3 83.3v2.2M645.3 446.6v-2.2M715.4 83.3v2.2M715.4 446.6v-2.2M785.6 83.3v2.2M785.6 446.6v-2.2M855.7 83.3v2.2M855.7 446.6v-2.2" stroke="#000" stroke-width="1.3" fill="none"/>
<rect x="491.5" y="83.3" width="371.9" height="363.3" fill="none" stroke="#000" stroke-width="2.8"/>
<clipPath id="cp10"><rect x="109.3" y="461.8" width="371.7" height="363.2"/></clipPath>
<g clip-path="url(#cp10)">
<path d="M122.7 570.5C123.0 570.5 124.2 570.5 124.9 570.5C125.7 570.4 126.4 570.4 127.1 570.3C127.9 570.3 128.6 570.2 129.4 570.1C130.1 570.1 130.9 570.0 131.6 569.8C132.4 569.7 133.1 569.6 133.9 569.5C134.6 569.3 135.3 569.2 136.1 569.0C136.8 568.9 137.6 568.7 138.3 568.5C139.1 568.3 139.8 568.1 140.6 567.9C141.3 567.7 142.1 567.5 142.8 567.2C143.5 567.0 144.3 566.8 145.0 566.5C145.8 566.3 146.5 566.0 147.3 565.8C148.0 565.5 148.8 565.2 149.5 564.9C150.3 564.7 151.0 564.4 151.7 564.1C152.5 563.8 153.2 563.5 154.0 563.3C154.7 563.0 155.5 562.7 156.2 562.4C157.0 562.1 157.7 561.8 158.5 561.5C159.2 561.2 159.9 560.9 160.7 560.6C161.4 560.3 162.2 560.0 162.9 559.7C163.7 559.4 164.4 559.1 165.2 558.8C165.9 558.5 166.7 558.2 167.4 557.9C168.1 557.6 168.9 557.3 169.6 557.0C170.4 556.7 171.1 556.4 171.9 556.1C172.6 555.8 173.4 555.6 174.1 555.3C174.8 555.0 175.6 554.7 176.3 554.4C177.1 554.1 177.8 553.8 178.6 553.5C179.3 553.3 180.1 553.0 180.8 552.7C181.6 552.4 182.3 552.1 183.0 551.8C183.8 551.5 184.5 551.2 185.3 550.9C186.0 550.6 186.8 550.3 187.5 550.0C188.3 549.6 189.0 549.3 189.8 549.0C190.5 548.7 191.2 548.3 192.0 548.0C192.7 547.6 193.5 547.2 194.2 546.8C195.0 546.4 195.7 546.0 196.5 545.6C197.2 545.2 198.0 544.7 198.7 544.3C199.4 543.8 200.2 543.3 200.9 542.8C201.7 542.2 202.4 541.7 203.2 541.1C203.9 540.5 204.7 539.8 205.4 539.2C206.2 538.5 206.9 537.7 207.6 536.9C208.4 536.1 209.1 535.3 209.9 534.4C210.6 533.4 211.4 532.5 212.1 531.4C212.9 530.3 213.6 529.1 214.4 527.8C215.1 526.4 215.8 525.0 216.6 523.4C217.3 521.7 218.1 520.0 218.8 517.9C219.6 515.7 220.3 513.6 221.1 510.6C221.8 507.7 222.6 505.0 223.3 500.4C224.0 495.7 224.8 490.2 225.5 482.9C226.3 475.6 227.0 457.0 227.8 456.5C228.5 456.0 229.3 472.7 230.0 479.8C230.7 486.9 231.5 494.0 232.2 499.0C233.0 504.1 233.7 506.9 234.5 510.0C235.2 513.2 236.0 515.5 236.7 517.8C237.5 520.1 238.2 521.9 238.9 523.7C239.7 525.5 240.4 527.1 241.2 528.6C241.9 530.1 242.7 531.4 243.4 532.7C244.2 533.9 244.9 535.1 245.7 536.2C246.4 537.3 247.1 538.3 247.9 539.3C248.6 540.2 249.4 541.1 250.1 542.0C250.9 542.9 251.6 543.7 252.4 544.5C253.1 545.2 253.9 546.0 254.6 546.7C255.3 547.4 256.1 548.1 256.8 548.7C257.6 549.4 258.3 550.0 259.1 550.6C259.8 551.2 260.6 551.7 261.3 552.3C262.1 552.8 262.8 553.3 263.5 553.9C264.3 554.4 265.0 554.9 265.8 555.3C266.5 555.8 267.3 556.3 268.0 556.7C268.8 557.1 269.5 557.6 270.3 558.0C271.0 558.4 271.7 558.8 272.5 559.2C273.2 559.5 274.0 559.9 274.7 560.3C275.5 560.6 276.2 561.0 277.0 561.3C277.7 561.6 278.5 562.0 279.2 562.3C279.9 562.6 280.7 562.9 281.4 563.2C282.2 563.5 282.9 563.8 283.7 564.0C284.4 564.3 285.2 564.6 285.9 564.8C286.7 565.1 287.4 565.3 288.1 565.6C288.9 565.8 289.6 566.1 290.4 566.3C291.1 566.5 291.9 566.7 292.6 566.9C293.4 567.2 294.1 567.4 294.8 567.6C295.6 567.7 296.3 567.9 297.1 568.1C297.8 568.3 298.6 568.5 299.3 568.7C300.1 568.8 300.8 569.0 301.6 569.1C302.3 569.3 303.0 569.4 303.8 569.6C304.5 569.7 305.3 569.9 306.0 570.0C306.8 570.1 307.5 570.3 308.3 570.4C309.0 570.5 309.8 570.6 310.5 570.7C311.2 570.9 312.0 571.0 312.7 571.1C313.5 571.2 314.2 571.3 315.0 571.3C315.7 571.4 316.5 571.5 317.2 571.6C318.0 571.7 318.7 571.7 319.4 571.8C320.2 571.9 320.9 571.9 321.7 572.0C322.4 572.1 323.2 572.1 323.9 572.2C324.7 572.2 325.4 572.3 326.2 572.3C326.9 572.3 327.6 572.4 328.4 572.4C329.1 572.4 329.9 572.4 330.6 572.5C331.4 572.5 332.1 572.5 332.9 572.5C333.6 572.5 334.4 572.5 335.1 572.5C335.8 572.5 336.6 572.4 337.3 572.4C338.1 572.3 338.8 572.3 339.6 572.2C340.3 572.1 341.1 572.0 341.8 571.9C342.6 571.8 343.3 571.7 344.0 571.5C344.8 571.4 345.5 571.2 346.3 571.1C347.0 570.9 347.8 570.8 348.5 570.6C349.3 570.4 350.0 570.2 350.8 570.0C351.5 569.8 352.2 569.5 353.0 569.3C353.7 569.1 354.5 568.9 355.2 568.6C356.0 568.4 356.7 568.1 357.5 567.9C358.2 567.6 358.9 567.3 359.7 567.1C360.4 566.8 361.2 566.5 361.9 566.2C362.7 565.9 363.4 565.7 364.2 565.4C364.9 565.1 365.7 564.8 366.4 564.5C367.1 564.2 367.9 563.9 368.6 563.6C369.4 563.3 370.1 563.0 370.9 562.7C371.6 562.4 372.4 562.1 373.1 561.8C373.9 561.5 374.6 561.2 375.3 560.9C376.1 560.6 376.8 560.3 377.6 560.0C378.3 559.7 379.1 559.4 379.8 559.1C380.6 558.8 381.3 558.5 382.1 558.3C382.8 558.0 383.5 557.7 384.3 557.4C385.0 557.1 385.8 556.8 386.5 556.5C387.3 556.2 388.0 555.9 388.8 555.7C389.5 555.4 390.3 555.1 391.0 554.8C391.7 554.5 392.5 554.2 393.2 553.9C394.0 553.6 394.7 553.3 395.5 553.0C396.2 552.7 397.0 552.4 397.7 552.1C398.5 551.8 399.2 551.5 399.9 551.1C400.7 550.8 401.4 550.4 402.2 550.1C402.9 549.7 403.7 549.4 404.4 549.0C405.2 548.6 405.9 548.2 406.7 547.8C407.4 547.4 408.1 546.9 408.9 546.4C409.6 546.0 410.4 545.5 411.1 545.0C411.9 544.4 412.6 543.9 413.4 543.3C414.1 542.7 414.8 542.1 415.6 541.4C416.3 540.7 417.1 540.0 417.8 539.2C418.6 538.5 419.3 537.6 420.1 536.7C420.8 535.8 421.6 534.8 422.3 533.8C423.0 532.7 423.8 531.5 424.5 530.2C425.3 528.9 426.0 527.6 426.8 525.9C427.5 524.3 428.3 522.7 429.0 520.6C429.8 518.5 430.5 516.4 431.2 513.6C432.0 510.8 432.7 508.2 433.5 503.8C434.2 499.5 435.0 495.6 435.7 487.7C436.5 479.8 437.2 458.1 438.0 456.5C438.7 454.9 439.4 471.2 440.2 478.3C440.9 485.5 441.7 493.9 442.4 499.4C443.2 504.8 443.9 507.7 444.7 511.0C445.4 514.2 446.2 516.6 446.9 519.0C447.6 521.3 448.4 523.3 449.1 525.1C449.9 527.0 450.6 528.6 451.4 530.1C452.1 531.6 452.9 532.9 453.6 534.2C454.4 535.5 455.1 536.7 455.8 537.8C456.6 538.9 457.3 539.9 458.1 540.9C458.8 541.9 459.6 542.8 460.3 543.7C461.1 544.6 461.8 545.4 462.6 546.2C463.3 547.0 464.0 547.7 464.8 548.4C465.5 549.2 466.3 549.8 467.0 550.5C467.8 551.1 468.5 551.8 469.3 552.4C470.0 553.0 470.8 553.5 471.5 554.1C472.2 554.6 473.0 555.2 473.7 555.7C474.5 556.2 475.2 556.7 476.0 557.2C476.7 557.6 477.5 558.1 478.2 558.5C478.9 559.0 480.1 559.6 480.4 559.8" stroke="#c8c8c8" stroke-width="5" fill="none" stroke-linejoin="round" stroke-linecap="round"/>
<path d="M122.7 631.5C123.0 631.5 124.2 631.5 124.9 631.5C125.7 631.4 126.4 631.4 127.1 631.3C127.9 631.3 128.6 631.2 129.4 631.1C130.1 631.1 130.9 631.0 131.6 630.8C132.4 630.7 133.1 630.6 133.9 630.5C134.6 630.3 135.3 630.2 136.1 630.0C136.8 629.9 137.6 629.7 138.3 629.5C139.1 629.3 139.8 629.1 140.6 628.9C141.3 628.7 142.1 628.5 142.8 628.2C143.5 628.0 144.3 627.8 145.0 627.5C145.8 627.3 146.5 627.0 147.3 626.8C148.0 626.5 148.8 626.2 149.5 625.9C150.3 625.7 151.0 625.4 151.7 625.1C152.5 624.8 153.2 624.5 154.0 624.3C154.7 624.0 155.5 623.7 156.2 623.4C157.0 623.1 157.7 622.8 158.5 622.5C159.2 622.2 159.9 621.9 160.7 621.6C161.4 621.3 162.2 621.0 162.9 620.7C163.7 620.4 164.4 620.1 165.2 619.8C165.9 619.5 166.7 619.2 167.4 618.9C168.1 618.6 168.9 618.3 169.6 618.0C170.4 617.7 171.1 617.4 171.9 617.1C172.6 616.8 173.4 616.6 174.1 616.3C174.8 616.0 175.6 615.7 176.3 615.4C177.1 615.1 177.8 614.8 178.6 614.5C179.3 614.3 180.1 614.0 180.8 613.7C181.6 613.4 182.3 613.1 183.0 612.8C183.8 612.5 184.5 612.2 185.3 611.9C186.0 611.6 186.8 611.3 187.5 611.0C188.3 610.6 189.0 610.3 189.8 610.0C190.5 609.7 191.2 609.3 192.0 609.0C192.7 608.6 193.5 608.2 194.2 607.8C195.0 607.4 195.7 607.0 196.5 606.6C197.2 606.2 198.0 605.7 198.7 605.3C199.4 604.8 200.2 604.3 200.9 603.8C201.7 603.2 202.4 602.7 203.2 602.1C203.9 601.5 204.7 600.8 205.4 600.2C206.2 599.5 206.9 598.7 207.6 597.9C208.4 597.1 209.1 596.3 209.9 595.4C210.6 594.4 211.4 593.5 212.1 592.4C212.9 591.3 213.6 590.1 214.4 588.8C215.1 587.4 215.8 586.0 216.6 584.4C217.3 582.7 218.1 581.0 218.8 578.9C219.6 576.7 220.3 574.6 221.1 571.6C221.8 568.7 222.6 566.0 223.3 561.4C224.0 556.7 224.8 551.2 225.5 543.9C226.3 536.6 227.0 518.0 227.8 517.5C228.5 517.0 229.3 533.7 230.0 540.8C230.7 547.9 231.5 555.0 232.2 560.0C233.0 565.1 233.7 567.9 234.5 571.0C235.2 574.2 236.0 576.5 236.7 578.8C237.5 581.1 238.2 582.9 238.9 584.7C239.7 586.5 240.4 588.1 241.2 589.6C241.9 591.1 242.7 592.4 243.4 593.7C244.2 594.9 244.9 596.1 245.7 597.2C246.4 598.3 247.1 599.3 247.9 600.3C248.6 601.2 249.4 602.1 250.1 603.0C250.9 603.9 251.6 604.7 252.4 605.5C253.1 606.2 253.9 607.0 254.6 607.7C255.3 608.4 256.1 609.1 256.8 609.7C257.6 610.4 258.3 611.0 259.1 611.6C259.8 612.2 260.6 612.7 261.3 613.3C262.1 613.8 262.8 614.3 263.5 614.9C264.3 615.4 265.0 615.9 265.8 616.3C266.5 616.8 267.3 617.3 268.0 617.7C268.8 618.1 269.5 618.6 270.3 619.0C271.0 619.4 271.7 619.8 272.5 620.2C273.2 620.5 274.0 620.9 274.7 621.3C275.5 621.6 276.2 622.0 277.0 622.3C277.7 622.6 278.5 623.0 279.2 623.3C279.9 623.6 280.7 623.9 281.4 624.2C282.2 624.5 282.9 624.8 283.7 625.0C284.4 625.3 285.2 625.6 285.9 625.8C286.7 626.1 287.4 626.3 288.1 626.6C288.9 626.8 289.6 627.1 290.4 627.3C291.1 627.5 291.9 627.7 292.6 627.9C293.4 628.2 294.1 628.4 294.8 628.6C295.6 628.7 296.3 628.9 297.1 629.1C297.8 629.3 298.6 629.5 299.3 629.7C300.1 629.8 300.8 630.0 301.6 630.1C302.3 630.3 303.0 630.4 303.8 630.6C304.5 630.7 305.3 630.9 306.0 631.0C306.8 631.1 307.5 631.3 308.3 631.4C309.0 631.5 309.8 631.6 310.5 631.7C311.2 631.9 312.0 632.0 312.7 632.1C313.5 632.2 314.2 632.3 315.0 632.3C315.7 632.4 316.5 632.5 317.2 632.6C318.0 632.7 318.7 632.7 319.4 632.8C320.2 632.9 320.9 632.9 321.7 633.0C322.4 633.1 323.2 633.1 323.9 633.2C324.7 633.2 325.4 633.3 326.2 633.3C326.9 633.3 327.6 633.4 328.4 633.4C329.1 633.4 329.9 633.4 330.6 633.5C331.4 633.5 332.1 633.5 332.9 633.5C333.6 633.5 334.4 633.5 335.1 633.5C335.8 633.5 336.6 633.4 337.3 633.4C338.1 633.3 338.8 633.3 339.6 633.2C340.3 633.1 341.1 633.0 341.8 632.9C342.6 632.8 343.3 632.7 344.0 632.5C344.8 632.4 345.5 632.2 346.3 632.1C347.0 631.9 347.8 631.8 348.5 631.6C349.3 631.4 350.0 631.2 350.8 631.0C351.5 630.8 352.2 630.5 353.0 630.3C353.7 630.1 354.5 629.9 355.2 629.6C356.0 629.4 356.7 629.1 357.5 628.9C358.2 628.6 358.9 628.3 359.7 628.1C360.4 627.8 361.2 627.5 361.9 627.2C362.7 626.9 363.4 626.7 364.2 626.4C364.9 626.1 365.7 625.8 366.4 625.5C367.1 625.2 367.9 624.9 368.6 624.6C369.4 624.3 370.1 624.0 370.9 623.7C371.6 623.4 372.4 623.1 373.1 622.8C373.9 622.5 374.6 622.2 375.3 621.9C376.1 621.6 376.8 621.3 377.6 621.0C378.3 620.7 379.1 620.4 379.8 620.1C380.6 619.8 381.3 619.5 382.1 619.3C382.8 619.0 383.5 618.7 384.3 618.4C385.0 618.1 385.8 617.8 386.5 617.5C387.3 617.2 388.0 616.9 388.8 616.7C389.5 616.4 390.3 616.1 391.0 615.8C391.7 615.5 392.5 615.2 393.2 614.9C394.0 614.6 394.7 614.3 395.5 614.0C396.2 613.7 397.0 613.4 397.7 613.1C398.5 612.8 399.2 612.5 399.9 612.1C400.7 611.8 401.4 611.4 402.2 611.1C402.9 610.7 403.7 610.4 404.4 610.0C405.2 609.6 405.9 609.2 406.7 608.8C407.4 608.4 408.1 607.9 408.9 607.4C409.6 607.0 410.4 606.5 411.1 606.0C411.9 605.4 412.6 604.9 413.4 604.3C414.1 603.7 414.8 603.1 415.6 602.4C416.3 601.7 417.1 601.0 417.8 600.2C418.6 599.5 419.3 598.6 420.1 597.7C420.8 596.8 421.6 595.8 422.3 594.8C423.0 593.7 423.8 592.5 424.5 591.2C425.3 589.9 426.0 588.6 426.8 586.9C427.5 585.3 428.3 583.7 429.0 581.6C429.8 579.5 430.5 577.4 431.2 574.6C432.0 571.8 432.7 569.2 433.5 564.8C434.2 560.5 435.0 556.6 435.7 548.7C436.5 540.8 437.2 519.1 438.0 517.5C438.7 515.9 439.4 532.2 440.2 539.3C440.9 546.5 441.7 554.9 442.4 560.4C443.2 565.8 443.9 568.7 444.7 572.0C445.4 575.2 446.2 577.6 446.9 580.0C447.6 582.3 448.4 584.3 449.1 586.1C449.9 588.0 450.6 589.6 451.4 591.1C452.1 592.6 452.9 593.9 453.6 595.2C454.4 596.5 455.1 597.7 455.8 598.8C456.6 599.9 457.3 600.9 458.1 601.9C458.8 602.9 459.6 603.8 460.3 604.7C461.1 605.6 461.8 606.4 462.6 607.2C463.3 608.0 464.0 608.7 464.8 609.4C465.5 610.2 466.3 610.8 467.0 611.5C467.8 612.1 468.5 612.8 469.3 613.4C470.0 614.0 470.8 614.5 471.5 615.1C472.2 615.6 473.0 616.2 473.7 616.7C474.5 617.2 475.2 617.7 476.0 618.2C476.7 618.6 477.5 619.1 478.2 619.5C478.9 620.0 480.1 620.6 480.4 620.8" stroke="#c8c8c8" stroke-width="5" fill="none" stroke-linejoin="round" stroke-linecap="round"/>
<path d="M122.7 692.5C123.0 692.5 124.2 692.5 124.9 692.5C125.7 692.4 126.4 692.4 127.1 692.3C127.9 692.3 128.6 692.2 129.4 692.1C130.1 692.1 130.9 692.0 131.6 691.8C132.4 691.7 133.1 691.6 133.9 691.5C134.6 691.3 135.3 691.2 136.1 691.0C136.8 690.9 137.6 690.7 138.3 690.5C139.1 690.3 139.8 690.1 140.6 689.9C141.3 689.7 142.1 689.5 142.8 689.2C143.5 689.0 144.3 688.8 145.0 688.5C145.8 688.3 146.5 688.0 147.3 687.8C148.0 687.5 148.8 687.2 149.5 686.9C150.3 686.7 151.0 686.4 151.7 686.1C152.5 685.8 153.2 685.5 154.0 685.3C154.7 685.0 155.5 684.7 156.2 684.4C157.0 684.1 157.7 683.8 158.5 683.5C159.2 683.2 159.9 682.9 160.7 682.6C161.4 682.3 162.2 682.0 162.9 681.7C163.7 681.4 164.4 681.1 165.2 680.8C165.9 680.5 166.7 680.2 167.4 679.9C168.1 679.6 168.9 679.3 169.6 679.0C170.4 678.7 171.1 678.4 171.9 678.1C172.6 677.8 173.4 677.6 174.1 677.3C174.8 677.0 175.6 676.7 176.3 676.4C177.1 676.1 177.8 675.8 178.6 675.5C179.3 675.3 180.1 675.0 180.8 674.7C181.6 674.4 182.3 674.1 183.0 673.8C183.8 673.5 184.5 673.2 185.3 672.9C186.0 672.6 186.8 672.3 187.5 672.0C188.3 671.6 189.0 671.3 189.8 671.0C190.5 670.7 191.2 670.3 192.0 670.0C192.7 669.6 193.5 669.2 194.2 668.8C195.0 668.4 195.7 668.0 196.5 667.6C197.2 667.2 198.0 666.7 198.7 666.3C199.4 665.8 200.2 665.3 200.9 664.8C201.7 664.2 202.4 663.7 203.2 663.1C203.9 662.5 204.7 661.8 205.4 661.2C206.2 660.5 206.9 659.7 207.6 658.9C208.4 658.1 209.1 657.3 209.9 656.4C210.6 655.4 211.4 654.5 212.1 653.4C212.9 652.3 213.6 651.1 214.4 649.8C215.1 648.4 215.8 647.0 216.6 645.4C217.3 643.7 218.1 642.0 218.8 639.9C219.6 637.7 220.3 635.6 221.1 632.6C221.8 629.7 222.6 627.0 223.3 622.4C224.0 617.7 224.8 612.2 225.5 604.9C226.3 597.6 227.0 579.0 227.8 578.5C228.5 578.0 229.3 594.7 230.0 601.8C230.7 608.9 231.5 616.0 232.2 621.0C233.0 626.1 233.7 628.9 234.5 632.0C235.2 635.2 236.0 637.5 236.7 639.8C237.5 642.1 238.2 643.9 238.9 645.7C239.7 647.5 240.4 649.1 241.2 650.6C241.9 652.1 242.7 653.4 243.4 654.7C244.2 655.9 244.9 657.1 245.7 658.2C246.4 659.3 247.1 660.3 247.9 661.3C248.6 662.2 249.4 663.1 250.1 664.0C250.9 664.9 251.6 665.7 252.4 666.5C253.1 667.2 253.9 668.0 254.6 668.7C255.3 669.4 256.1 670.1 256.8 670.7C257.6 671.4 258.3 672.0 259.1 672.6C259.8 673.2 260.6 673.7 261.3 674.3C262.1 674.8 262.8 675.3 263.5 675.9C264.3 676.4 265.0 676.9 265.8 677.3C266.5 677.8 267.3 678.3 268.0 678.7C268.8 679.1 269.5 679.6 270.3 680.0C271.0 680.4 271.7 680.8 272.5 681.2C273.2 681.5 274.0 681.9 274.7 682.3C275.5 682.6 276.2 683.0 277.0 683.3C277.7 683.6 278.5 684.0 279.2 684.3C279.9 684.6 280.7 684.9 281.4 685.2C282.2 685.5 282.9 685.8 283.7 686.0C284.4 686.3 285.2 686.6 285.9 686.8C286.7 687.1 287.4 687.3 288.1 687.6C288.9 687.8 289.6 688.1 290.4 688.3C291.1 688.5 291.9 688.7 292.6 688.9C293.4 689.2 294.1 689.4 294.8 689.6C295.6 689.7 296.3 689.9 297.1 690.1C297.8 690.3 298.6 690.5 299.3 690.7C300.1 690.8 300.8 691.0 301.6 691.1C302.3 691.3 303.0 691.4 303.8 691.6C304.5 691.7 305.3 691.9 306.0 692.0C306.8 692.1 307.5 692.3 308.3 692.4C309.0 692.5 309.8 692.6 310.5 692.7C311.2 692.9 312.0 693.0 312.7 693.1C313.5 693.2 314.2 693.3 315.0 693.3C315.7 693.4 316.5 693.5 317.2 693.6C318.0 693.7 318.7 693.7 319.4 693.8C320.2 693.9 320.9 693.9 321.7 694.0C322.4 694.1 323.2 694.1 323.9 694.2C324.7 694.2 325.4 694.3 326.2 694.3C326.9 694.3 327.6 694.4 328.4 694.4C329.1 694.4 329.9 694.4 330.6 694.5C331.4 694.5 332.1 694.5 332.9 694.5C333.6 694.5 334.4 694.5 335.1 694.5C335.8 694.5 336.6 694.4 337.3 694.4C338.1 694.3 338.8 694.3 339.6 694.2C340.3 694.1 341.1 694.0 341.8 693.9C342.6 693.8 343.3 693.7 344.0 693.5C344.8 693.4 345.5 693.2 346.3 693.1C347.0 692.9 347.8 692.8 348.5 692.6C349.3 692.4 350.0 692.2 350.8 692.0C351.5 691.8 352.2 691.5 353.0 691.3C353.7 691.1 354.5 690.9 355.2 690.6C356.0 690.4 356.7 690.1 357.5 689.9C358.2 689.6 358.9 689.3 359.7 689.1C360.4 688.8 361.2 688.5 361.9 688.2C362.7 687.9 363.4 687.7 364.2 687.4C364.9 687.1 365.7 686.8 366.4 686.5C367.1 686.2 367.9 685.9 368.6 685.6C369.4 685.3 370.1 685.0 370.9 684.7C371.6 684.4 372.4 684.1 373.1 683.8C373.9 683.5 374.6 683.2 375.3 682.9C376.1 682.6 376.8 682.3 377.6 682.0C378.3 681.7 379.1 681.4 379.8 681.1C380.6 680.8 381.3 680.5 382.1 680.3C382.8 680.0 383.5 679.7 384.3 679.4C385.0 679.1 385.8 678.8 386.5 678.5C387.3 678.2 388.0 677.9 388.8 677.7C389.5 677.4 390.3 677.1 391.0 676.8C391.7 676.5 392.5 676.2 393.2 675.9C394.0 675.6 394.7 675.3 395.5 675.0C396.2 674.7 397.0 674.4 397.7 674.1C398.5 673.8 399.2 673.5 399.9 673.1C400.7 672.8 401.4 672.4 402.2 672.1C402.9 671.7 403.7 671.4 404.4 671.0C405.2 670.6 405.9 670.2 406.7 669.8C407.4 669.4 408.1 668.9 408.9 668.4C409.6 668.0 410.4 667.5 411.1 667.0C411.9 666.4 412.6 665.9 413.4 665.3C414.1 664.7 414.8 664.1 415.6 663.4C416.3 662.7 417.1 662.0 417.8 661.2C418.6 660.5 419.3 659.6 420.1 658.7C420.8 657.8 421.6 656.8 422.3 655.8C423.0 654.7 423.8 653.5 424.5 652.2C425.3 650.9 426.0 649.6 426.8 647.9C427.5 646.3 428.3 644.7 429.0 642.6C429.8 640.5 430.5 638.4 431.2 635.6C432.0 632.8 432.7 630.2 433.5 625.8C434.2 621.5 435.0 617.6 435.7 609.7C436.5 601.8 437.2 580.1 438.0 578.5C438.7 576.9 439.4 593.2 440.2 600.3C440.9 607.5 441.7 615.9 442.4 621.4C443.2 626.8 443.9 629.7 444.7 633.0C445.4 636.2 446.2 638.6 446.9 641.0C447.6 643.3 448.4 645.3 449.1 647.1C449.9 649.0 450.6 650.6 451.4 652.1C452.1 653.6 452.9 654.9 453.6 656.2C454.4 657.5 455.1 658.7 455.8 659.8C456.6 660.9 457.3 661.9 458.1 662.9C458.8 663.9 459.6 664.8 460.3 665.7C461.1 666.6 461.8 667.4 462.6 668.2C463.3 669.0 464.0 669.7 464.8 670.4C465.5 671.2 466.3 671.8 467.0 672.5C467.8 673.1 468.5 673.8 469.3 674.4C470.0 675.0 470.8 675.5 471.5 676.1C472.2 676.6 473.0 677.2 473.7 677.7C474.5 678.2 475.2 678.7 476.0 679.2C476.7 679.6 477.5 680.1 478.2 680.5C478.9 681.0 480.1 681.6 480.4 681.8" stroke="#c8c8c8" stroke-width="5" fill="none" stroke-linejoin="round" stroke-linecap="round"/>
<path d="M122.7 753.5C123.0 753.5 124.2 753.5 124.9 753.5C125.7 753.4 126.4 753.4 127.1 753.3C127.9 753.3 128.6 753.2 129.4 753.1C130.1 753.1 130.9 753.0 131.6 752.8C132.4 752.7 133.1 752.6 133.9 752.5C134.6 752.3 135.3 752.2 136.1 752.0C136.8 751.9 137.6 751.7 138.3 751.5C139.1 751.3 139.8 751.1 140.6 750.9C141.3 750.7 142.1 750.5 142.8 750.2C143.5 750.0 144.3 749.8 145.0 749.5C145.8 749.3 146.5 749.0 147.3 748.8C148.0 748.5 148.8 748.2 149.5 747.9C150.3 747.7 151.0 747.4 151.7 747.1C152.5 746.8 153.2 746.5 154.0 746.3C154.7 746.0 155.5 745.7 156.2 745.4C157.0 745.1 157.7 744.8 158.5 744.5C159.2 744.2 159.9 743.9 160.7 743.6C161.4 743.3 162.2 743.0 162.9 742.7C163.7 742.4 164.4 742.1 165.2 741.8C165.9 741.5 166.7 741.2 167.4 740.9C168.1 740.6 168.9 740.3 169.6 740.0C170.4 739.7 171.1 739.4 171.9 739.1C172.6 738.8 173.4 738.6 174.1 738.3C174.8 738.0 175.6 737.7 176.3 737.4C177.1 737.1 177.8 736.8 178.6 736.5C179.3 736.3 180.1 736.0 180.8 735.7C181.6 735.4 182.3 735.1 183.0 734.8C183.8 734.5 184.5 734.2 185.3 733.9C186.0 733.6 186.8 733.3 187.5 733.0C188.3 732.6 189.0 732.3 189.8 732.0C190.5 731.7 191.2 731.3 192.0 731.0C192.7 730.6 193.5 730.2 194.2 729.8C195.0 729.4 195.7 729.0 196.5 728.6C197.2 728.2 198.0 727.7 198.7 727.3C199.4 726.8 200.2 726.3 200.9 725.8C201.7 725.2 202.4 724.7 203.2 724.1C203.9 723.5 204.7 722.8 205.4 722.2C206.2 721.5 206.9 720.7 207.6 719.9C208.4 719.1 209.1 718.3 209.9 717.4C210.6 716.4 211.4 715.5 212.1 714.4C212.9 713.3 213.6 712.1 214.4 710.8C215.1 709.4 215.8 708.0 216.6 706.4C217.3 704.7 218.1 703.0 218.8 700.9C219.6 698.7 220.3 696.6 221.1 693.6C221.8 690.7 222.6 688.0 223.3 683.4C224.0 678.7 224.8 673.2 225.5 665.9C226.3 658.6 227.0 640.0 227.8 639.5C228.5 639.0 229.3 655.7 230.0 662.8C230.7 669.9 231.5 677.0 232.2 682.0C233.0 687.1 233.7 689.9 234.5 693.0C235.2 696.2 236.0 698.5 236.7 700.8C237.5 703.1 238.2 704.9 238.9 706.7C239.7 708.5 240.4 710.1 241.2 711.6C241.9 713.1 242.7 714.4 243.4 715.7C244.2 716.9 244.9 718.1 245.7 719.2C246.4 720.3 247.1 721.3 247.9 722.3C248.6 723.2 249.4 724.1 250.1 725.0C250.9 725.9 251.6 726.7 252.4 727.5C253.1 728.2 253.9 729.0 254.6 729.7C255.3 730.4 256.1 731.1 256.8 731.7C257.6 732.4 258.3 733.0 259.1 733.6C259.8 734.2 260.6 734.7 261.3 735.3C262.1 735.8 262.8 736.3 263.5 736.9C264.3 737.4 265.0 737.9 265.8 738.3C266.5 738.8 267.3 739.3 268.0 739.7C268.8 740.1 269.5 740.6 270.3 741.0C271.0 741.4 271.7 741.8 272.5 742.2C273.2 742.5 274.0 742.9 274.7 743.3C275.5 743.6 276.2 744.0 277.0 744.3C277.7 744.6 278.5 745.0 279.2 745.3C279.9 745.6 280.7 745.9 281.4 746.2C282.2 746.5 282.9 746.8 283.7 747.0C284.4 747.3 285.2 747.6 285.9 747.8C286.7 748.1 287.4 748.3 288.1 748.6C288.9 748.8 289.6 749.1 290.4 749.3C291.1 749.5 291.9 749.7 292.6 749.9C293.4 750.2 294.1 750.4 294.8 750.6C295.6 750.7 296.3 750.9 297.1 751.1C297.8 751.3 298.6 751.5 299.3 751.7C300.1 751.8 300.8 752.0 301.6 752.1C302.3 752.3 303.0 752.4 303.8 752.6C304.5 752.7 305.3 752.9 306.0 753.0C306.8 753.1 307.5 753.3 308.3 753.4C309.0 753.5 309.8 753.6 310.5 753.7C311.2 753.9 312.0 754.0 312.7 754.1C313.5 754.2 314.2 754.3 315.0 754.3C315.7 754.4 316.5 754.5 317.2 754.6C318.0 754.7 318.7 754.7 319.4 754.8C320.2 754.9 320.9 754.9 321.7 755.0C322.4 755.1 323.2 755.1 323.9 755.2C324.7 755.2 325.4 755.3 326.2 755.3C326.9 755.3 327.6 755.4 328.4 755.4C329.1 755.4 329.9 755.4 330.6 755.5C331.4 755.5 332.1 755.5 332.9 755.5C333.6 755.5 334.4 755.5 335.1 755.5C335.8 755.5 336.6 755.4 337.3 755.4C338.1 755.3 338.8 755.3 339.6 755.2C340.3 755.1 341.1 755.0 341.8 754.9C342.6 754.8 343.3 754.7 344.0 754.5C344.8 754.4 345.5 754.2 346.3 754.1C347.0 753.9 347.8 753.8 348.5 753.6C349.3 753.4 350.0 753.2 350.8 753.0C351.5 752.8 352.2 752.5 353.0 752.3C353.7 752.1 354.5 751.9 355.2 751.6C356.0 751.4 356.7 751.1 357.5 750.9C358.2 750.6 358.9 750.3 359.7 750.1C360.4 749.8 361.2 749.5 361.9 749.2C362.7 748.9 363.4 748.7 364.2 748.4C364.9 748.1 365.7 747.8 366.4 747.5C367.1 747.2 367.9 746.9 368.6 746.6C369.4 746.3 370.1 746.0 370.9 745.7C371.6 745.4 372.4 745.1 373.1 744.8C373.9 744.5 374.6 744.2 375.3 743.9C376.1 743.6 376.8 743.3 377.6 743.0C378.3 742.7 379.1 742.4 379.8 742.1C380.6 741.8 381.3 741.5 382.1 741.3C382.8 741.0 383.5 740.7 384.3 740.4C385.0 740.1 385.8 739.8 386.5 739.5C387.3 739.2 388.0 738.9 388.8 738.7C389.5 738.4 390.3 738.1 391.0 737.8C391.7 737.5 392.5 737.2 393.2 736.9C394.0 736.6 394.7 736.3 395.5 736.0C396.2 735.7 397.0 735.4 397.7 735.1C398.5 734.8 399.2 734.5 399.9 734.1C400.7 733.8 401.4 733.4 402.2 733.1C402.9 732.7 403.7 732.4 404.4 732.0C405.2 731.6 405.9 731.2 406.7 730.8C407.4 730.4 408.1 729.9 408.9 729.4C409.6 729.0 410.4 728.5 411.1 728.0C411.9 727.4 412.6 726.9 413.4 726.3C414.1 725.7 414.8 725.1 415.6 724.4C416.3 723.7 417.1 723.0 417.8 722.2C418.6 721.5 419.3 720.6 420.1 719.7C420.8 718.8 421.6 717.8 422.3 716.8C423.0 715.7 423.8 714.5 424.5 713.2C425.3 711.9 426.0 710.6 426.8 708.9C427.5 707.3 428.3 705.7 429.0 703.6C429.8 701.5 430.5 699.4 431.2 696.6C432.0 693.8 432.7 691.2 433.5 686.8C434.2 682.5 435.0 678.6 435.7 670.7C436.5 662.8 437.2 641.1 438.0 639.5C438.7 637.9 439.4 654.2 440.2 661.3C440.9 668.5 441.7 676.9 442.4 682.4C443.2 687.8 443.9 690.7 444.7 694.0C445.4 697.2 446.2 699.6 446.9 702.0C447.6 704.3 448.4 706.3 449.1 708.1C449.9 710.0 450.6 711.6 451.4 713.1C452.1 714.6 452.9 715.9 453.6 717.2C454.4 718.5 455.1 719.7 455.8 720.8C456.6 721.9 457.3 722.9 458.1 723.9C458.8 724.9 459.6 725.8 460.3 726.7C461.1 727.6 461.8 728.4 462.6 729.2C463.3 730.0 464.0 730.7 464.8 731.4C465.5 732.2 466.3 732.8 467.0 733.5C467.8 734.1 468.5 734.8 469.3 735.4C470.0 736.0 470.8 736.5 471.5 737.1C472.2 737.6 473.0 738.2 473.7 738.7C474.5 739.2 475.2 739.7 476.0 740.2C476.7 740.6 477.5 741.1 478.2 741.5C478.9 742.0 480.1 742.6 480.4 742.8" stroke="#c8c8c8" stroke-width="5" fill="none" stroke-linejoin="round" stroke-linecap="round"/>
<path d="M368.6 735.0V741.0M366.1 735.0h5M366.1 741.0h5" stroke="#680a0c" stroke-width="1.8" fill="none"/>
<path d="M119.7 748.0C122.8 748.0 135.3 748.0 138.4 748.0M150.2 745.9C151.2 745.4 153.8 743.9 156.1 742.9C158.4 741.9 160.1 741.5 164.0 740.0C167.9 738.5 174.8 736.6 179.7 734.1C184.6 731.6 189.2 728.7 193.4 725.3C197.7 721.9 201.6 718.1 205.2 713.5C208.8 708.9 213.4 700.3 215.0 697.7M236.7 691.3C238.3 694.6 242.6 704.7 246.5 710.9C250.4 717.1 255.3 723.3 260.2 728.5C265.1 733.7 271.0 738.5 276.0 742.0C281.0 745.5 284.3 747.8 290.0 749.5C295.7 751.1 303.5 751.5 310.2 752.0C316.9 752.6 323.6 753.0 330.3 752.7C337.0 752.5 344.8 751.3 350.5 750.5C356.2 749.8 361.6 749.0 364.6 748.3C367.6 747.6 367.4 746.7 368.6 746.5C369.8 746.3 370.0 747.9 372.0 747.3C374.0 746.7 376.6 745.0 380.7 742.9C384.8 740.7 391.8 738.0 396.9 734.6C401.9 731.1 406.6 727.0 411.0 722.2C415.4 717.4 419.7 711.3 423.1 705.9C426.5 700.5 429.9 692.5 431.2 689.8M449.3 702.9C450.6 705.9 454.4 715.6 457.4 721.0C460.4 726.3 464.1 730.7 467.5 735.0C470.9 739.4 475.8 745.1 477.5 747.1" stroke="#680a0c" stroke-width="6.5" fill="none" stroke-linejoin="round"/>
<path d="M115.0 745.0h9.5M115.0 751.0h9.5M119.7 745.0v6.0M118.4 745.0h9.5M118.4 751.0h9.5M123.1 745.0v6.0M121.8 745.0h9.5M121.8 751.0h9.5M126.5 745.0v6.0M125.2 745.0h9.5M125.2 751.0h9.5M129.9 745.0v6.0M128.6 745.0h9.5M128.6 751.0h9.5M133.3 745.0v6.0M132.0 745.0h9.5M132.0 751.0h9.5M136.7 745.0v6.0M133.7 745.0h9.5M133.7 751.0h9.5M138.4 745.0v6.0M145.4 742.9h9.5M145.4 748.9h9.5M150.2 742.9v6.0M148.8 741.1h9.5M148.8 747.1h9.5M153.6 741.1v6.0M152.2 739.5h9.5M152.2 745.5h9.5M157.0 739.5v6.0M155.7 738.3h9.5M155.7 744.3h9.5M160.4 738.3v6.0M159.1 737.1h9.5M159.1 743.1h9.5M163.8 737.1v6.0M162.5 735.9h9.5M162.5 741.9h9.5M167.2 735.9v6.0M165.9 734.7h9.5M165.9 740.7h9.5M170.6 734.7v6.0M169.3 733.5h9.5M169.3 739.5h9.5M174.0 733.5v6.0M172.7 732.2h9.5M172.7 738.2h9.5M177.4 732.2v6.0M176.1 730.5h9.5M176.1 736.5h9.5M180.8 730.5v6.0M179.5 728.7h9.5M179.5 734.7h9.5M184.2 728.7v6.0M182.9 726.5h9.5M182.9 732.5h9.5M187.6 726.5v6.0M186.3 724.2h9.5M186.3 730.2h9.5M191.0 724.2v6.0M189.7 721.5h9.5M189.7 727.5h9.5M194.4 721.5v6.0M193.1 718.5h9.5M193.1 724.5h9.5M197.8 718.5v6.0M196.5 715.1h9.5M196.5 721.1h9.5M201.2 715.1v6.0M199.9 711.3h9.5M199.9 717.3h9.5M204.6 711.3v6.0M203.3 706.5h9.5M203.3 712.5h9.5M208.0 706.5v6.0M206.7 700.9h9.5M206.7 706.9h9.5M211.4 700.9v6.0M210.1 695.0h9.5M210.1 701.0h9.5M214.8 695.0v6.0M210.2 694.7h9.5M210.2 700.7h9.5M215.0 694.7v6.0M231.9 688.3h9.5M231.9 694.3h9.5M236.7 688.3v6.0M235.3 695.6h9.5M235.3 701.6h9.5M240.1 695.6v6.0M238.8 702.6h9.5M238.8 708.6h9.5M243.5 702.6v6.0M242.2 708.5h9.5M242.2 714.5h9.5M246.9 708.5v6.0M245.6 713.5h9.5M245.6 719.5h9.5M250.3 713.5v6.0M249.0 718.0h9.5M249.0 724.0h9.5M253.7 718.0v6.0M252.4 722.1h9.5M252.4 728.1h9.5M257.1 722.1v6.0M255.8 725.8h9.5M255.8 731.8h9.5M260.5 725.8v6.0M259.1 729.2h9.5M259.1 735.2h9.5M263.9 729.2v6.0M262.5 732.2h9.5M262.5 738.2h9.5M267.3 732.2v6.0M265.9 735.0h9.5M265.9 741.0h9.5M270.7 735.0v6.0M269.3 737.6h9.5M269.3 743.6h9.5M274.1 737.6v6.0M272.7 740.0h9.5M272.7 746.0h9.5M277.5 740.0v6.0M276.1 742.3h9.5M276.1 748.3h9.5M280.9 742.3v6.0M279.5 744.3h9.5M279.5 750.3h9.5M284.3 744.3v6.0M282.9 745.7h9.5M282.9 751.7h9.5M287.7 745.7v6.0M286.3 746.8h9.5M286.3 752.8h9.5M291.1 746.8v6.0M289.7 747.5h9.5M289.7 753.5h9.5M294.5 747.5v6.0M293.1 748.0h9.5M293.1 754.0h9.5M297.9 748.0v6.0M296.5 748.3h9.5M296.5 754.3h9.5M301.3 748.3v6.0M299.9 748.6h9.5M299.9 754.6h9.5M304.7 748.6v6.0M303.3 748.9h9.5M303.3 754.9h9.5M308.1 748.9v6.0M306.7 749.1h9.5M306.7 755.1h9.5M311.5 749.1v6.0M310.1 749.4h9.5M310.1 755.4h9.5M314.9 749.4v6.0M313.5 749.6h9.5M313.5 755.6h9.5M318.3 749.6v6.0M316.9 749.7h9.5M316.9 755.7h9.5M321.7 749.7v6.0M320.3 749.8h9.5M320.3 755.8h9.5M325.1 749.8v6.0M323.7 749.8h9.5M323.7 755.8h9.5M328.5 749.8v6.0M327.1 749.7h9.5M327.1 755.7h9.5M331.9 749.7v6.0M330.5 749.4h9.5M330.5 755.4h9.5M335.3 749.4v6.0M333.9 749.1h9.5M333.9 755.1h9.5M338.7 749.1v6.0M337.3 748.7h9.5M337.3 754.7h9.5M342.1 748.7v6.0M340.7 748.2h9.5M340.7 754.2h9.5M345.5 748.2v6.0M344.1 747.8h9.5M344.1 753.8h9.5M348.9 747.8v6.0M347.5 747.3h9.5M347.5 753.3h9.5M352.3 747.3v6.0M350.9 746.8h9.5M350.9 752.8h9.5M355.7 746.8v6.0M354.3 746.3h9.5M354.3 752.3h9.5M359.1 746.3v6.0M357.7 745.7h9.5M357.7 751.7h9.5M362.5 745.7v6.0M361.1 744.9h9.5M361.1 750.9h9.5M365.9 744.9v6.0M364.5 743.6h9.5M364.5 749.6h9.5M369.3 743.6v6.0M367.9 744.0h9.5M367.9 750.0h9.5M372.7 744.0v6.0M371.3 742.3h9.5M371.3 748.3h9.5M376.1 742.3v6.0M374.7 740.5h9.5M374.7 746.5h9.5M379.5 740.5v6.0M378.1 738.8h9.5M378.1 744.8h9.5M382.9 738.8v6.0M381.5 737.2h9.5M381.5 743.2h9.5M386.3 737.2v6.0M384.9 735.6h9.5M384.9 741.6h9.5M389.7 735.6v6.0M388.3 733.9h9.5M388.3 739.9h9.5M393.1 733.9v6.0M391.7 731.8h9.5M391.7 737.8h9.5M396.5 731.8v6.0M395.1 729.4h9.5M395.1 735.4h9.5M399.9 729.4v6.0M398.5 726.7h9.5M398.5 732.7h9.5M403.3 726.7v6.0M401.9 723.6h9.5M401.9 729.6h9.5M406.7 723.6v6.0M405.3 720.2h9.5M405.3 726.2h9.5M410.1 720.2v6.0M408.7 716.3h9.5M408.7 722.3h9.5M413.5 716.3v6.0M412.1 712.0h9.5M412.1 718.0h9.5M416.9 712.0v6.0M415.5 707.2h9.5M415.5 713.2h9.5M420.3 707.2v6.0M418.9 701.9h9.5M418.9 707.9h9.5M423.7 701.9v6.0M422.3 695.5h9.5M422.3 701.5h9.5M427.1 695.5v6.0M425.7 688.3h9.5M425.7 694.3h9.5M430.5 688.3v6.0M426.4 686.8h9.5M426.4 692.8h9.5M431.2 686.8v6.0M444.6 699.9h9.5M444.6 705.9h9.5M449.3 699.9v6.0M447.9 708.0h9.5M447.9 714.0h9.5M452.7 708.0v6.0M451.3 715.5h9.5M451.3 721.5h9.5M456.1 715.5v6.0M454.7 721.4h9.5M454.7 727.4h9.5M459.5 721.4v6.0M458.1 726.1h9.5M458.1 732.1h9.5M462.9 726.1v6.0M461.5 730.5h9.5M461.5 736.5h9.5M466.3 730.5v6.0M464.9 734.8h9.5M464.9 740.8h9.5M469.7 734.8v6.0M468.3 738.9h9.5M468.3 744.9h9.5M473.1 738.9v6.0M471.7 742.9h9.5M471.7 748.9h9.5M476.5 742.9v6.0M472.8 744.1h9.5M472.8 750.1h9.5M477.5 744.1v6.0" stroke="#680a0c" stroke-width="2.2" fill="none"/>
<path d="M120.7 751.8C123.7 751.6 133.5 751.3 138.4 750.8C143.3 750.3 147.2 749.7 150.2 748.9C153.1 748.1 153.8 746.9 156.1 745.9C158.4 744.9 160.1 744.5 164.0 743.0C167.9 741.5 174.8 739.6 179.7 737.1C184.6 734.6 189.2 731.7 193.4 728.3C197.7 724.9 201.6 721.1 205.2 716.5C208.8 711.9 212.1 707.2 215.0 700.7C217.9 694.2 221.0 684.7 222.9 677.2C224.8 669.7 225.5 661.2 226.4 655.5C227.3 649.8 228.1 645.1 228.4 643.0L228.4 643.0C228.9 647.4 230.3 661.6 231.7 669.3C233.1 677.0 234.2 682.5 236.7 689.0C239.2 695.5 242.6 702.4 246.5 708.6C250.4 714.8 255.3 721.1 260.2 726.3C265.1 731.5 271.0 736.4 276.0 740.0C281.0 743.6 284.3 746.2 290.0 748.0C295.7 749.8 303.5 750.3 310.2 751.0C316.9 751.7 323.6 752.2 330.3 752.0C337.0 751.8 344.8 750.7 350.5 750.0C356.2 749.3 361.6 748.7 364.6 748.0C367.6 747.3 367.4 746.2 368.6 746.0C369.8 745.8 370.0 747.5 372.0 747.0C374.0 746.5 376.6 745.0 380.7 743.0C384.8 741.0 391.8 738.3 396.9 734.9C401.9 731.5 406.6 727.5 411.0 722.8C415.4 718.1 419.7 712.0 423.1 706.6C426.5 701.2 429.0 696.5 431.2 690.5C433.4 684.5 434.9 677.9 436.2 670.3C437.5 662.7 438.7 649.3 439.2 645.1L439.2 645.1C439.9 650.3 441.6 667.1 443.3 676.4C445.0 685.6 447.0 693.5 449.3 700.6C451.6 707.7 454.4 713.3 457.4 718.7C460.4 724.1 464.1 728.4 467.5 732.8C470.9 737.2 475.8 742.9 477.5 744.9" stroke="#d8141e" stroke-width="4.0" fill="none" stroke-linejoin="round"/>
<path d="M368.6 688.5V691.0M366.1 688.5h5M366.1 691.0h5" stroke="#08085c" stroke-width="1.8" fill="none"/><path d="M365.6 700.6V706.6M363.1 700.6h5M363.1 706.6h5" stroke="#08085c" stroke-width="1.8" fill="none"/>
<path d="M120.7 732.2C124.0 730.6 135.2 725.0 140.4 722.4C145.7 719.8 148.6 718.8 152.2 716.5C155.8 714.2 157.4 711.9 162.0 708.6C166.6 705.3 174.5 700.7 179.7 696.8C184.9 692.9 189.2 689.2 193.4 685.0C197.7 680.8 201.6 676.2 205.2 671.3C208.8 666.4 212.2 661.1 215.0 655.5C217.8 649.9 220.4 642.1 221.9 637.9C223.4 633.6 223.7 631.3 224.0 630.0M233.0 628.0C233.5 630.0 234.4 636.9 236.0 640.0C237.6 643.1 238.2 643.0 242.6 646.7C247.0 650.4 256.6 658.0 262.2 662.4C267.8 666.8 271.4 669.3 276.0 673.0C280.6 676.7 284.3 680.8 290.0 684.4C295.7 688.0 303.5 690.8 310.2 694.5C316.9 698.2 323.6 702.6 330.3 706.6C337.0 710.6 345.6 715.6 350.5 718.7C355.4 721.8 357.4 724.5 360.0 725.0C362.6 725.5 365.0 722.5 366.0 722.0M370.0 716.0C370.8 715.1 372.9 711.4 374.7 710.7C376.5 710.0 377.3 714.2 380.7 711.7C384.1 709.2 390.2 701.3 394.9 695.6C399.6 689.9 404.6 683.5 409.0 677.4C413.4 671.3 417.8 665.0 421.1 659.3C424.5 653.6 427.3 647.5 429.1 643.1C430.9 638.7 431.5 634.7 432.0 633.0M446.0 631.0C446.6 633.4 447.4 640.1 449.3 645.1C451.2 650.1 454.4 656.9 457.4 661.3C460.4 665.7 464.1 668.4 467.5 671.4C470.9 674.4 475.8 678.1 477.5 679.4" stroke="#08085c" stroke-width="6.5" fill="none" stroke-linejoin="round"/>
<path d="M116.0 729.2h9.5M116.0 735.2h9.5M120.7 729.2v6.0M119.4 727.5h9.5M119.4 733.5h9.5M124.1 727.5v6.0M122.8 725.8h9.5M122.8 731.8h9.5M127.5 725.8v6.0M126.2 724.1h9.5M126.2 730.1h9.5M130.9 724.1v6.0M129.6 722.4h9.5M129.6 728.4h9.5M134.3 722.4v6.0M133.0 720.7h9.5M133.0 726.7h9.5M137.7 720.7v6.0M136.4 719.1h9.5M136.4 725.1h9.5M141.1 719.1v6.0M139.8 717.4h9.5M139.8 723.4h9.5M144.5 717.4v6.0M143.2 715.9h9.5M143.2 721.9h9.5M147.9 715.9v6.0M146.6 714.1h9.5M146.6 720.1h9.5M151.3 714.1v6.0M150.0 711.7h9.5M150.0 717.7h9.5M154.7 711.7v6.0M153.4 708.7h9.5M153.4 714.7h9.5M158.1 708.7v6.0M156.8 706.0h9.5M156.8 712.0h9.5M161.5 706.0v6.0M160.2 703.6h9.5M160.2 709.6h9.5M164.9 703.6v6.0M163.6 701.4h9.5M163.6 707.4h9.5M168.3 701.4v6.0M167.0 699.2h9.5M167.0 705.2h9.5M171.7 699.2v6.0M170.4 697.0h9.5M170.4 703.0h9.5M175.1 697.0v6.0M173.8 694.7h9.5M173.8 700.7h9.5M178.5 694.7v6.0M177.2 692.1h9.5M177.2 698.1h9.5M181.9 692.1v6.0M180.6 689.4h9.5M180.6 695.4h9.5M185.3 689.4v6.0M184.0 686.5h9.5M184.0 692.5h9.5M188.7 686.5v6.0M187.4 683.3h9.5M187.4 689.3h9.5M192.1 683.3v6.0M190.8 679.8h9.5M190.8 685.8h9.5M195.5 679.8v6.0M194.2 676.1h9.5M194.2 682.1h9.5M198.9 676.1v6.0M197.6 672.1h9.5M197.6 678.1h9.5M202.3 672.1v6.0M201.0 667.6h9.5M201.0 673.6h9.5M205.7 667.6v6.0M204.4 662.7h9.5M204.4 668.7h9.5M209.1 662.7v6.0M207.8 657.2h9.5M207.8 663.2h9.5M212.5 657.2v6.0M211.2 650.6h9.5M211.2 656.6h9.5M215.9 650.6v6.0M214.6 642.2h9.5M214.6 648.2h9.5M219.3 642.2v6.0M218.0 632.4h9.5M218.0 638.4h9.5M222.7 632.4v6.0M219.2 627.0h9.5M219.2 633.0h9.5M224.0 627.0v6.0M228.2 625.0h9.5M228.2 631.0h9.5M233.0 625.0v6.0M231.7 637.7h9.5M231.7 643.7h9.5M236.4 637.7v6.0M235.1 641.4h9.5M235.1 647.4h9.5M239.8 641.4v6.0M238.5 644.2h9.5M238.5 650.2h9.5M243.2 644.2v6.0M241.9 647.0h9.5M241.9 653.0h9.5M246.6 647.0v6.0M245.3 649.8h9.5M245.3 655.8h9.5M250.0 649.8v6.0M248.7 652.5h9.5M248.7 658.5h9.5M253.4 652.5v6.0M252.1 655.1h9.5M252.1 661.1h9.5M256.8 655.1v6.0M255.4 657.8h9.5M255.4 663.8h9.5M260.2 657.8v6.0M258.8 660.5h9.5M258.8 666.5h9.5M263.6 660.5v6.0M262.2 663.1h9.5M262.2 669.1h9.5M267.0 663.1v6.0M265.6 665.7h9.5M265.6 671.7h9.5M270.4 665.7v6.0M269.0 668.3h9.5M269.0 674.3h9.5M273.8 668.3v6.0M272.4 671.0h9.5M272.4 677.0h9.5M277.2 671.0v6.0M275.8 673.9h9.5M275.8 679.9h9.5M280.6 673.9v6.0M279.2 676.9h9.5M279.2 682.9h9.5M284.0 676.9v6.0M282.6 679.6h9.5M282.6 685.6h9.5M287.4 679.6v6.0M286.0 681.9h9.5M286.0 687.9h9.5M290.8 681.9v6.0M289.4 683.8h9.5M289.4 689.8h9.5M294.2 683.8v6.0M292.8 685.4h9.5M292.8 691.4h9.5M297.6 685.4v6.0M296.2 687.0h9.5M296.2 693.0h9.5M301.0 687.0v6.0M299.6 688.6h9.5M299.6 694.6h9.5M304.4 688.6v6.0M303.0 690.2h9.5M303.0 696.2h9.5M307.8 690.2v6.0M306.4 692.1h9.5M306.4 698.1h9.5M311.2 692.1v6.0M309.8 694.0h9.5M309.8 700.0h9.5M314.6 694.0v6.0M313.2 696.0h9.5M313.2 702.0h9.5M318.0 696.0v6.0M316.6 698.1h9.5M316.6 704.1h9.5M321.4 698.1v6.0M320.0 700.2h9.5M320.0 706.2h9.5M324.8 700.2v6.0M323.4 702.3h9.5M323.4 708.3h9.5M328.2 702.3v6.0M326.8 704.4h9.5M326.8 710.4h9.5M331.6 704.4v6.0M330.2 706.4h9.5M330.2 712.4h9.5M335.0 706.4v6.0M333.6 708.4h9.5M333.6 714.4h9.5M338.4 708.4v6.0M337.0 710.5h9.5M337.0 716.5h9.5M341.8 710.5v6.0M340.4 712.5h9.5M340.4 718.5h9.5M345.2 712.5v6.0M343.8 714.5h9.5M343.8 720.5h9.5M348.6 714.5v6.0M347.2 716.7h9.5M347.2 722.7h9.5M352.0 716.7v6.0M350.6 719.2h9.5M350.6 725.2h9.5M355.4 719.2v6.0M354.0 721.6h9.5M354.0 727.6h9.5M358.8 721.6v6.0M357.4 721.7h9.5M357.4 727.7h9.5M362.2 721.7v6.0M360.8 719.3h9.5M360.8 725.3h9.5M365.6 719.3v6.0M361.2 719.0h9.5M361.2 725.0h9.5M366.0 719.0v6.0M365.2 713.0h9.5M365.2 719.0h9.5M370.0 713.0v6.0M368.6 708.6h9.5M368.6 714.6h9.5M373.4 708.6v6.0M372.0 708.6h9.5M372.0 714.6h9.5M376.8 708.6v6.0M375.4 709.0h9.5M375.4 715.0h9.5M380.2 709.0v6.0M378.8 706.0h9.5M378.8 712.0h9.5M383.6 706.0v6.0M382.2 702.2h9.5M382.2 708.2h9.5M387.0 702.2v6.0M385.6 698.1h9.5M385.6 704.1h9.5M390.4 698.1v6.0M389.0 693.9h9.5M389.0 699.9h9.5M393.8 693.9v6.0M392.4 689.8h9.5M392.4 695.8h9.5M397.2 689.8v6.0M395.8 685.5h9.5M395.8 691.5h9.5M400.6 685.5v6.0M399.2 681.1h9.5M399.2 687.1h9.5M404.0 681.1v6.0M402.6 676.6h9.5M402.6 682.6h9.5M407.4 676.6v6.0M406.0 671.9h9.5M406.0 677.9h9.5M410.8 671.9v6.0M409.4 667.0h9.5M409.4 673.0h9.5M414.2 667.0v6.0M412.8 661.9h9.5M412.8 667.9h9.5M417.6 661.9v6.0M416.2 656.5h9.5M416.2 662.5h9.5M421.0 656.5v6.0M419.6 650.3h9.5M419.6 656.3h9.5M424.4 650.3v6.0M423.0 643.1h9.5M423.0 649.1h9.5M427.8 643.1v6.0M426.4 633.4h9.5M426.4 639.4h9.5M431.2 633.4v6.0M427.2 630.0h9.5M427.2 636.0h9.5M432.0 630.0v6.0M441.2 628.0h9.5M441.2 634.0h9.5M446.0 628.0v6.0M444.6 642.4h9.5M444.6 648.4h9.5M449.4 642.4v6.0M448.0 650.2h9.5M448.0 656.2h9.5M452.8 650.2v6.0M451.4 656.5h9.5M451.4 662.5h9.5M456.2 656.5v6.0M454.8 661.1h9.5M454.8 667.1h9.5M459.6 661.1v6.0M458.2 664.5h9.5M458.2 670.5h9.5M463.0 664.5v6.0M461.6 667.4h9.5M461.6 673.4h9.5M466.4 667.4v6.0M465.0 670.4h9.5M465.0 676.4h9.5M469.8 670.4v6.0M468.4 673.1h9.5M468.4 679.1h9.5M473.2 673.1v6.0M471.8 675.7h9.5M471.8 681.7h9.5M476.6 675.7v6.0M472.8 676.4h9.5M472.8 682.4h9.5M477.5 676.4v6.0" stroke="#08085c" stroke-width="2.2" fill="none"/>
<path d="M122.7 717.4C125.7 716.6 135.5 714.1 140.4 712.5C145.3 710.9 149.7 709.2 152.2 707.6C154.7 706.0 154.6 704.8 155.5 703.0C156.4 701.2 157.0 697.0 157.7 696.8C158.4 696.6 158.9 700.7 159.5 702.0C160.1 703.3 158.6 705.6 161.0 704.7C163.4 703.8 169.4 699.8 173.8 696.8C178.2 693.8 183.2 690.6 187.5 687.0C191.8 683.4 195.7 679.5 199.3 675.2C202.9 670.9 206.2 666.3 209.1 661.4C212.0 656.5 214.7 650.9 217.0 645.7C219.3 640.5 221.3 636.0 222.9 630.0C224.5 624.0 225.6 618.2 226.5 610.0C227.4 601.8 228.1 585.8 228.4 581.0L228.4 581.0C228.8 585.8 229.6 601.8 230.5 610.0C231.4 618.2 231.7 623.4 233.7 630.0C235.7 636.6 238.5 643.5 242.6 649.7C246.7 655.9 252.7 662.4 258.3 667.3C263.9 672.2 270.7 675.2 276.0 679.1C281.3 683.0 284.3 686.9 290.0 690.5C295.7 694.1 303.5 696.9 310.2 700.6C316.9 704.3 324.2 708.7 330.3 712.7C336.4 716.7 341.6 721.6 346.5 724.8C351.4 728.0 356.6 731.5 359.6 731.8C362.6 732.1 363.2 730.5 364.6 726.8C366.0 723.1 367.6 712.6 368.2 709.7L368.2 709.7C368.8 712.1 369.6 723.0 371.7 723.8C373.8 724.6 376.8 718.9 380.7 714.7C384.6 710.5 390.2 704.3 394.9 698.6C399.6 692.9 404.6 686.5 409.0 680.4C413.4 674.3 417.8 668.0 421.1 662.3C424.5 656.6 426.9 651.5 429.1 646.1C431.3 640.7 432.8 636.0 434.2 630.0C435.6 624.0 436.7 617.5 437.5 610.0C438.3 602.5 438.9 589.2 439.2 585.0L439.2 585.0C439.5 589.2 440.1 602.5 441.0 610.0C441.9 617.5 442.9 623.6 444.3 630.0C445.7 636.4 447.1 642.4 449.3 648.1C451.5 653.8 454.4 659.9 457.4 664.3C460.4 668.7 464.1 671.4 467.5 674.4C470.9 677.4 475.2 680.8 477.5 682.4C479.8 684.0 480.4 683.7 481.0 684.0" stroke="#40dce8" stroke-width="4.0" fill="none" stroke-linejoin="round"/>
<path d="M368.6 614.0V619.0M366.1 614.0h5M366.1 619.0h5" stroke="#0c5c1c" stroke-width="1.8" fill="none"/>
<path d="M120.7 645.8C123.0 643.9 129.6 637.7 134.5 634.1C139.4 630.5 146.9 626.8 150.2 624.3C153.5 621.8 153.3 620.0 154.5 619.0C155.7 618.0 156.3 617.4 157.1 618.0C157.9 618.6 158.3 621.9 159.5 622.6C160.7 623.2 160.6 623.2 164.0 621.9C167.4 620.6 174.8 617.2 179.7 614.6C184.6 612.1 189.2 609.6 193.4 606.6C197.7 603.6 201.6 600.9 205.2 596.6C208.8 592.3 213.4 583.4 215.0 580.7M236.7 572.5C238.3 575.4 242.6 584.3 246.5 590.2C250.4 596.1 255.3 602.3 260.2 607.8C265.1 613.4 271.0 618.5 276.0 623.5C281.0 628.4 284.3 634.4 290.0 637.4C295.7 640.5 303.5 641.0 310.2 641.8C316.9 642.6 323.6 643.2 330.3 642.2C337.0 641.2 344.8 637.7 350.5 635.7C356.2 633.8 361.6 632.0 364.6 630.4C367.6 628.7 367.4 625.9 368.6 625.7C369.8 625.5 370.0 629.0 372.0 629.2C374.0 629.3 376.6 628.3 380.7 626.7C384.8 625.0 391.8 622.5 396.9 619.2C401.9 615.9 406.6 611.6 411.0 606.8C415.4 602.1 419.7 596.4 423.1 590.6C426.5 584.9 429.9 575.4 431.2 572.4M447.3 575.2C448.6 578.2 452.4 587.7 455.4 593.4C458.4 599.1 462.0 604.1 465.4 609.5C468.8 614.8 472.9 621.8 475.5 625.6C478.1 629.4 480.1 631.1 481.0 632.2" stroke="#0c5c1c" stroke-width="6.5" fill="none" stroke-linejoin="round"/>
<path d="M116.0 642.8h9.5M116.0 648.8h9.5M120.7 642.8v6.0M119.4 639.8h9.5M119.4 645.8h9.5M124.1 639.8v6.0M122.8 636.8h9.5M122.8 642.8h9.5M127.5 636.8v6.0M126.2 633.9h9.5M126.2 639.9h9.5M130.9 633.9v6.0M129.6 631.2h9.5M129.6 637.2h9.5M134.3 631.2v6.0M133.0 628.9h9.5M133.0 634.9h9.5M137.7 628.9v6.0M136.4 626.9h9.5M136.4 632.9h9.5M141.1 626.9v6.0M139.8 624.9h9.5M139.8 630.9h9.5M144.5 624.9v6.0M143.2 622.8h9.5M143.2 628.8h9.5M147.9 622.8v6.0M146.6 620.4h9.5M146.6 626.4h9.5M151.3 620.4v6.0M150.0 615.8h9.5M150.0 621.8h9.5M154.7 615.8v6.0M153.4 617.1h9.5M153.4 623.1h9.5M158.1 617.1v6.0M156.8 619.8h9.5M156.8 625.8h9.5M161.5 619.8v6.0M160.2 618.5h9.5M160.2 624.5h9.5M164.9 618.5v6.0M163.6 617.1h9.5M163.6 623.1h9.5M168.3 617.1v6.0M167.0 615.5h9.5M167.0 621.5h9.5M171.7 615.5v6.0M170.4 613.9h9.5M170.4 619.9h9.5M175.1 613.9v6.0M173.8 612.3h9.5M173.8 618.3h9.5M178.5 612.3v6.0M177.2 610.5h9.5M177.2 616.5h9.5M181.9 610.5v6.0M180.6 608.7h9.5M180.6 614.7h9.5M185.3 608.7v6.0M184.0 606.7h9.5M184.0 612.7h9.5M188.7 606.7v6.0M187.4 604.5h9.5M187.4 610.5h9.5M192.1 604.5v6.0M190.8 602.1h9.5M190.8 608.1h9.5M195.5 602.1v6.0M194.2 599.6h9.5M194.2 605.6h9.5M198.9 599.6v6.0M197.6 596.7h9.5M197.6 602.7h9.5M202.3 596.7v6.0M201.0 593.0h9.5M201.0 599.0h9.5M205.7 593.0v6.0M204.4 587.9h9.5M204.4 593.9h9.5M209.1 587.9v6.0M207.8 582.1h9.5M207.8 588.1h9.5M212.5 582.1v6.0M210.2 577.7h9.5M210.2 583.7h9.5M215.0 577.7v6.0M231.9 569.5h9.5M231.9 575.5h9.5M236.7 569.5v6.0M235.3 576.0h9.5M235.3 582.0h9.5M240.1 576.0v6.0M238.8 582.3h9.5M238.8 588.3h9.5M243.5 582.3v6.0M242.2 587.8h9.5M242.2 593.8h9.5M246.9 587.8v6.0M245.6 592.6h9.5M245.6 598.6h9.5M250.3 592.6v6.0M249.0 597.0h9.5M249.0 603.0h9.5M253.7 597.0v6.0M252.4 601.2h9.5M252.4 607.2h9.5M257.1 601.2v6.0M255.8 605.1h9.5M255.8 611.1h9.5M260.5 605.1v6.0M259.1 608.7h9.5M259.1 614.7h9.5M263.9 608.7v6.0M262.5 612.1h9.5M262.5 618.1h9.5M267.3 612.1v6.0M265.9 615.4h9.5M265.9 621.4h9.5M270.7 615.4v6.0M269.3 618.6h9.5M269.3 624.6h9.5M274.1 618.6v6.0M272.7 622.0h9.5M272.7 628.0h9.5M277.5 622.0v6.0M276.1 626.0h9.5M276.1 632.0h9.5M280.9 626.0v6.0M279.5 629.9h9.5M279.5 635.9h9.5M284.3 629.9v6.0M282.9 633.0h9.5M282.9 639.0h9.5M287.7 633.0v6.0M286.3 635.0h9.5M286.3 641.0h9.5M291.1 635.0v6.0M289.7 636.3h9.5M289.7 642.3h9.5M294.5 636.3v6.0M293.1 637.1h9.5M293.1 643.1h9.5M297.9 637.1v6.0M296.5 637.7h9.5M296.5 643.7h9.5M301.3 637.7v6.0M299.9 638.2h9.5M299.9 644.2h9.5M304.7 638.2v6.0M303.3 638.6h9.5M303.3 644.6h9.5M308.1 638.6v6.0M306.7 639.0h9.5M306.7 645.0h9.5M311.5 639.0v6.0M310.1 639.3h9.5M310.1 645.3h9.5M314.9 639.3v6.0M313.5 639.6h9.5M313.5 645.6h9.5M318.3 639.6v6.0M316.9 639.7h9.5M316.9 645.7h9.5M321.7 639.7v6.0M320.3 639.7h9.5M320.3 645.7h9.5M325.1 639.7v6.0M323.7 639.5h9.5M323.7 645.5h9.5M328.5 639.5v6.0M327.1 638.9h9.5M327.1 644.9h9.5M331.9 638.9v6.0M330.5 638.1h9.5M330.5 644.1h9.5M335.3 638.1v6.0M333.9 637.0h9.5M333.9 643.0h9.5M338.7 637.0v6.0M337.3 635.8h9.5M337.3 641.8h9.5M342.1 635.8v6.0M340.7 634.6h9.5M340.7 640.6h9.5M345.5 634.6v6.0M344.1 633.3h9.5M344.1 639.3h9.5M348.9 633.3v6.0M347.5 632.1h9.5M347.5 638.1h9.5M352.3 632.1v6.0M350.9 630.9h9.5M350.9 636.9h9.5M355.7 630.9v6.0M354.3 629.7h9.5M354.3 635.7h9.5M359.1 629.7v6.0M357.7 628.4h9.5M357.7 634.4h9.5M362.5 628.4v6.0M361.1 626.4h9.5M361.1 632.4h9.5M365.9 626.4v6.0M364.5 623.1h9.5M364.5 629.1h9.5M369.3 623.1v6.0M367.9 626.2h9.5M367.9 632.2h9.5M372.7 626.2v6.0M371.3 625.4h9.5M371.3 631.4h9.5M376.1 625.4v6.0M374.7 624.2h9.5M374.7 630.2h9.5M379.5 624.2v6.0M378.1 622.8h9.5M378.1 628.8h9.5M382.9 622.8v6.0M381.5 621.5h9.5M381.5 627.5h9.5M386.3 621.5v6.0M384.9 620.0h9.5M384.9 626.0h9.5M389.7 620.0v6.0M388.3 618.4h9.5M388.3 624.4h9.5M393.1 618.4v6.0M391.7 616.4h9.5M391.7 622.4h9.5M396.5 616.4v6.0M395.1 614.1h9.5M395.1 620.1h9.5M399.9 614.1v6.0M398.5 611.3h9.5M398.5 617.3h9.5M403.3 611.3v6.0M401.9 608.2h9.5M401.9 614.2h9.5M406.7 608.2v6.0M405.3 604.8h9.5M405.3 610.8h9.5M410.1 604.8v6.0M408.7 601.0h9.5M408.7 607.0h9.5M413.5 601.0v6.0M412.1 596.8h9.5M412.1 602.8h9.5M416.9 596.8v6.0M415.5 592.1h9.5M415.5 598.1h9.5M420.3 592.1v6.0M418.9 586.6h9.5M418.9 592.6h9.5M423.7 586.6v6.0M422.3 579.4h9.5M422.3 585.4h9.5M427.1 579.4v6.0M425.7 571.1h9.5M425.7 577.1h9.5M430.5 571.1v6.0M426.4 569.4h9.5M426.4 575.4h9.5M431.2 569.4v6.0M442.6 572.2h9.5M442.6 578.2h9.5M447.3 572.2v6.0M445.9 580.2h9.5M445.9 586.2h9.5M450.7 580.2v6.0M449.3 587.8h9.5M449.3 593.8h9.5M454.1 587.8v6.0M452.7 594.1h9.5M452.7 600.1h9.5M457.5 594.1v6.0M456.1 599.5h9.5M456.1 605.5h9.5M460.9 599.5v6.0M459.5 604.7h9.5M459.5 610.7h9.5M464.3 604.7v6.0M462.9 610.2h9.5M462.9 616.2h9.5M467.7 610.2v6.0M466.3 615.7h9.5M466.3 621.7h9.5M471.1 615.7v6.0M469.7 621.1h9.5M469.7 627.1h9.5M474.5 621.1v6.0M473.1 625.8h9.5M473.1 631.8h9.5M477.9 625.8v6.0M476.2 629.2h9.5M476.2 635.2h9.5M481.0 629.2v6.0" stroke="#0c5c1c" stroke-width="2.2" fill="none"/>
<path d="M120.7 646.7C123.0 644.7 129.6 638.5 134.5 634.9C139.4 631.3 146.9 627.6 150.2 625.1C153.5 622.6 153.3 621.3 154.5 620.0C155.7 618.7 156.3 617.0 157.1 617.2C157.9 617.4 158.3 620.2 159.5 621.0C160.7 621.8 160.6 623.1 164.0 622.1C167.4 621.1 174.8 617.7 179.7 615.2C184.6 612.8 189.2 610.3 193.4 607.4C197.7 604.5 201.6 601.9 205.2 597.6C208.8 593.3 212.1 588.3 215.0 581.8C217.9 575.2 221.0 565.5 222.9 558.3C224.8 551.1 225.5 544.8 226.4 538.6C227.3 532.4 228.1 523.9 228.4 521.0L228.4 521.0C228.9 524.9 230.3 536.3 231.7 544.5C233.1 552.7 234.2 562.8 236.7 570.0C239.2 577.2 242.6 581.8 246.5 587.7C250.4 593.6 255.3 599.8 260.2 605.4C265.1 611.0 271.0 616.1 276.0 621.1C281.0 626.1 284.3 632.2 290.0 635.4C295.7 638.6 303.5 639.5 310.2 640.5C316.9 641.5 323.6 642.4 330.3 641.5C337.0 640.6 344.8 637.2 350.5 635.4C356.2 633.5 361.6 632.1 364.6 630.4C367.6 628.7 367.4 625.8 368.6 625.4C369.8 625.0 370.0 627.8 372.0 628.0C374.0 628.2 376.6 627.9 380.7 626.4C384.8 624.9 391.8 622.5 396.9 619.3C401.9 616.1 406.6 611.9 411.0 607.2C415.4 602.5 419.7 596.8 423.1 591.1C426.5 585.4 429.0 579.6 431.2 572.9C433.4 566.2 434.9 558.8 436.2 550.7C437.5 542.6 438.7 528.9 439.2 524.5L439.2 524.5C439.7 528.9 440.8 542.6 442.2 550.7C443.6 558.8 445.1 566.2 447.3 572.9C449.5 579.6 452.4 585.4 455.4 591.1C458.4 596.8 462.0 601.8 465.4 607.2C468.8 612.6 472.9 619.5 475.5 623.3C478.1 627.1 480.1 628.9 481.0 630.0" stroke="#32dc2a" stroke-width="4.0" fill="none" stroke-linejoin="round"/>
<path d="M368.6 561.8V570.0M366.1 561.8h5M366.1 570.0h5" stroke="#5a2628" stroke-width="1.8" fill="none"/><path d="M473.5 580.0V590.0M471.0 580.0h5M471.0 590.0h5" stroke="#5a2628" stroke-width="1.8" fill="none"/><path d="M467.5 568.0V578.0M465.0 568.0h5M465.0 578.0h5" stroke="#5a2628" stroke-width="1.8" fill="none"/>
<path d="M119.7 581.1C122.2 579.7 129.4 575.3 134.5 572.3C139.6 569.4 146.9 565.4 150.2 563.4C153.4 561.4 153.0 560.7 154.0 560.1C155.0 559.5 155.3 559.4 156.1 559.8C156.8 560.3 157.2 562.3 158.5 562.7C159.8 563.0 160.5 563.2 164.0 562.1C167.5 560.9 174.8 558.2 179.7 555.8C184.6 553.4 189.2 550.7 193.4 547.6C197.7 544.6 201.6 541.6 205.2 537.6C208.8 533.6 212.1 529.6 215.0 523.7C217.9 517.8 221.6 505.7 222.9 502.1M234.7 507.5C236.0 510.8 239.3 520.9 242.6 527.1C245.9 533.3 250.1 539.5 254.3 544.7C258.6 549.9 263.5 554.5 268.1 558.4C272.7 562.3 278.2 565.9 281.9 568.0C285.5 570.1 285.3 570.3 290.0 571.1C294.7 571.9 303.5 572.6 310.2 572.8C316.9 573.1 323.6 572.9 330.3 572.6C337.0 572.4 344.8 572.1 350.5 571.5C356.2 570.9 361.6 570.0 364.6 569.1C367.6 568.2 367.4 566.5 368.6 566.2C369.8 566.0 370.0 567.8 372.0 567.6C374.0 567.4 376.6 566.5 380.7 565.0C384.8 563.5 391.8 561.7 396.9 558.5C401.9 555.4 406.6 550.9 411.0 546.1C415.4 541.3 419.7 535.7 423.1 529.9C426.5 524.2 429.9 514.7 431.2 511.7M444.0 505.0C444.8 507.8 446.8 513.7 449.0 522.0C451.2 530.3 454.3 546.3 457.4 554.8C460.5 563.3 464.8 567.9 467.5 572.9C470.2 577.9 472.5 583.0 473.5 585.0" stroke="#5a2628" stroke-width="6.5" fill="none" stroke-linejoin="round"/>
<path d="M115.0 578.1h9.5M115.0 584.1h9.5M119.7 578.1v6.0M118.4 576.1h9.5M118.4 582.1h9.5M123.1 576.1v6.0M121.8 574.1h9.5M121.8 580.1h9.5M126.5 574.1v6.0M125.2 572.1h9.5M125.2 578.1h9.5M129.9 572.1v6.0M128.6 570.0h9.5M128.6 576.0h9.5M133.3 570.0v6.0M132.0 568.1h9.5M132.0 574.1h9.5M136.7 568.1v6.0M135.4 566.2h9.5M135.4 572.2h9.5M140.1 566.2v6.0M138.8 564.3h9.5M138.8 570.3h9.5M143.5 564.3v6.0M142.2 562.4h9.5M142.2 568.4h9.5M146.9 562.4v6.0M145.6 560.3h9.5M145.6 566.3h9.5M150.3 560.3v6.0M149.0 557.3h9.5M149.0 563.3h9.5M153.7 557.3v6.0M152.4 558.3h9.5M152.4 564.3h9.5M157.1 558.3v6.0M155.8 559.9h9.5M155.8 565.9h9.5M160.5 559.9v6.0M159.2 559.1h9.5M159.2 565.1h9.5M163.9 559.1v6.0M162.6 557.9h9.5M162.6 563.9h9.5M167.3 557.9v6.0M166.0 556.7h9.5M166.0 562.7h9.5M170.7 556.7v6.0M169.4 555.3h9.5M169.4 561.3h9.5M174.1 555.3v6.0M172.8 553.8h9.5M172.8 559.8h9.5M177.5 553.8v6.0M176.2 552.2h9.5M176.2 558.2h9.5M180.9 552.2v6.0M179.6 550.4h9.5M179.6 556.4h9.5M184.3 550.4v6.0M183.0 548.4h9.5M183.0 554.4h9.5M187.7 548.4v6.0M186.4 546.2h9.5M186.4 552.2h9.5M191.1 546.2v6.0M189.8 543.8h9.5M189.8 549.8h9.5M194.5 543.8v6.0M193.2 541.3h9.5M193.2 547.3h9.5M197.9 541.3v6.0M196.6 538.5h9.5M196.6 544.5h9.5M201.3 538.5v6.0M200.0 535.2h9.5M200.0 541.2h9.5M204.7 535.2v6.0M203.4 531.3h9.5M203.4 537.3h9.5M208.1 531.3v6.0M206.8 526.7h9.5M206.8 532.7h9.5M211.5 526.7v6.0M210.2 520.9h9.5M210.2 526.9h9.5M214.9 520.9v6.0M213.6 512.6h9.5M213.6 518.6h9.5M218.3 512.6v6.0M217.0 502.6h9.5M217.0 508.6h9.5M221.7 502.6v6.0M218.2 499.1h9.5M218.2 505.1h9.5M222.9 499.1v6.0M229.9 504.5h9.5M229.9 510.5h9.5M234.7 504.5v6.0M233.3 513.7h9.5M233.3 519.7h9.5M238.1 513.7v6.0M236.8 521.9h9.5M236.8 527.9h9.5M241.5 521.9v6.0M240.2 528.2h9.5M240.2 534.2h9.5M244.9 528.2v6.0M243.6 533.6h9.5M243.6 539.6h9.5M248.3 533.6v6.0M247.0 538.4h9.5M247.0 544.4h9.5M251.7 538.4v6.0M250.4 542.7h9.5M250.4 548.7h9.5M255.1 542.7v6.0M253.8 546.5h9.5M253.8 552.5h9.5M258.5 546.5v6.0M257.1 549.9h9.5M257.1 555.9h9.5M261.9 549.9v6.0M260.5 553.0h9.5M260.5 559.0h9.5M265.3 553.0v6.0M263.9 555.9h9.5M263.9 561.9h9.5M268.7 555.9v6.0M267.3 558.5h9.5M267.3 564.5h9.5M272.1 558.5v6.0M270.7 560.9h9.5M270.7 566.9h9.5M275.5 560.9v6.0M274.1 563.2h9.5M274.1 569.2h9.5M278.9 563.2v6.0M277.5 565.2h9.5M277.5 571.2h9.5M282.3 565.2v6.0M280.9 567.1h9.5M280.9 573.1h9.5M285.7 567.1v6.0M284.3 568.0h9.5M284.3 574.0h9.5M289.1 568.0v6.0M287.7 568.5h9.5M287.7 574.5h9.5M292.5 568.5v6.0M291.1 568.9h9.5M291.1 574.9h9.5M295.9 568.9v6.0M294.5 569.2h9.5M294.5 575.2h9.5M299.3 569.2v6.0M297.9 569.4h9.5M297.9 575.4h9.5M302.7 569.4v6.0M301.3 569.6h9.5M301.3 575.6h9.5M306.1 569.6v6.0M304.7 569.8h9.5M304.7 575.8h9.5M309.5 569.8v6.0M308.1 569.9h9.5M308.1 575.9h9.5M312.9 569.9v6.0M311.5 569.9h9.5M311.5 575.9h9.5M316.3 569.9v6.0M314.9 569.9h9.5M314.9 575.9h9.5M319.7 569.9v6.0M318.3 569.9h9.5M318.3 575.9h9.5M323.1 569.9v6.0M321.7 569.8h9.5M321.7 575.8h9.5M326.5 569.8v6.0M325.1 569.7h9.5M325.1 575.7h9.5M329.9 569.7v6.0M328.5 569.5h9.5M328.5 575.5h9.5M333.3 569.5v6.0M331.9 569.4h9.5M331.9 575.4h9.5M336.7 569.4v6.0M335.3 569.2h9.5M335.3 575.2h9.5M340.1 569.2v6.0M338.7 569.1h9.5M338.7 575.1h9.5M343.5 569.1v6.0M342.1 568.8h9.5M342.1 574.8h9.5M346.9 568.8v6.0M345.5 568.5h9.5M345.5 574.5h9.5M350.3 568.5v6.0M348.9 568.1h9.5M348.9 574.1h9.5M353.7 568.1v6.0M352.3 567.7h9.5M352.3 573.7h9.5M357.1 567.7v6.0M355.7 567.1h9.5M355.7 573.1h9.5M360.5 567.1v6.0M359.1 566.3h9.5M359.1 572.3h9.5M363.9 566.3v6.0M362.5 564.4h9.5M362.5 570.4h9.5M367.3 564.4v6.0M365.9 564.4h9.5M365.9 570.4h9.5M370.7 564.4v6.0M369.3 564.2h9.5M369.3 570.2h9.5M374.1 564.2v6.0M372.7 563.2h9.5M372.7 569.2h9.5M377.5 563.2v6.0M376.1 561.9h9.5M376.1 567.9h9.5M380.9 561.9v6.0M379.5 560.8h9.5M379.5 566.8h9.5M384.3 560.8v6.0M382.9 559.7h9.5M382.9 565.7h9.5M387.7 559.7v6.0M386.3 558.4h9.5M386.3 564.4h9.5M391.1 558.4v6.0M389.7 556.9h9.5M389.7 562.9h9.5M394.5 556.9v6.0M393.1 554.9h9.5M393.1 560.9h9.5M397.9 554.9v6.0M396.5 552.4h9.5M396.5 558.4h9.5M401.3 552.4v6.0M399.9 549.5h9.5M399.9 555.5h9.5M404.7 549.5v6.0M403.3 546.2h9.5M403.3 552.2h9.5M408.1 546.2v6.0M406.7 542.6h9.5M406.7 548.6h9.5M411.5 542.6v6.0M410.1 538.6h9.5M410.1 544.6h9.5M414.9 538.6v6.0M413.5 534.2h9.5M413.5 540.2h9.5M418.3 534.2v6.0M416.9 529.2h9.5M416.9 535.2h9.5M421.7 529.2v6.0M420.3 523.1h9.5M420.3 529.1h9.5M425.1 523.1v6.0M423.7 515.4h9.5M423.7 521.4h9.5M428.5 515.4v6.0M426.4 508.7h9.5M426.4 514.7h9.5M431.2 508.7v6.0M439.2 502.0h9.5M439.2 508.0h9.5M444.0 502.0v6.0M442.6 513.3h9.5M442.6 519.3h9.5M447.4 513.3v6.0M446.0 526.3h9.5M446.0 532.3h9.5M450.8 526.3v6.0M449.4 540.8h9.5M449.4 546.8h9.5M454.2 540.8v6.0M452.8 552.3h9.5M452.8 558.3h9.5M457.6 552.3v6.0M456.2 559.5h9.5M456.2 565.5h9.5M461.0 559.5v6.0M459.6 564.9h9.5M459.6 570.9h9.5M464.4 564.9v6.0M463.0 570.5h9.5M463.0 576.5h9.5M467.8 570.5v6.0M466.4 577.2h9.5M466.4 583.2h9.5M471.2 577.2v6.0M468.8 582.0h9.5M468.8 588.0h9.5M473.5 582.0v6.0" stroke="#5a2628" stroke-width="2.2" fill="none"/>
<path d="M119.7 581.8C122.2 580.3 129.4 576.0 134.5 573.0C139.6 570.0 146.9 566.1 150.2 564.1C153.4 562.1 153.0 561.8 154.0 561.0C155.0 560.2 155.3 559.1 156.1 559.2C156.8 559.3 157.2 561.0 158.5 561.5C159.8 562.0 160.5 563.1 164.0 562.2C167.5 561.3 174.8 558.6 179.7 556.3C184.6 554.0 189.2 551.3 193.4 548.4C197.7 545.5 201.6 542.5 205.2 538.6C208.8 534.7 212.1 530.7 215.0 524.8C217.9 518.9 221.0 510.7 222.9 503.2C224.8 495.7 225.5 486.1 226.4 479.7C227.3 473.3 228.1 467.4 228.4 465.0L228.4 465.0C228.8 468.1 229.8 476.9 230.8 483.6C231.9 490.3 232.7 498.3 234.7 505.2C236.7 512.1 239.3 518.6 242.6 524.8C245.9 531.0 250.1 537.2 254.3 542.5C258.6 547.8 263.5 552.4 268.1 556.3C272.7 560.2 278.2 563.8 281.9 566.1C285.5 568.4 285.3 568.9 290.0 569.9C294.7 570.9 303.5 571.6 310.2 571.9C316.9 572.2 323.6 572.1 330.3 571.9C337.0 571.7 344.8 571.4 350.5 570.9C356.2 570.4 361.6 569.7 364.6 568.9C367.6 568.1 367.4 566.3 368.6 566.0C369.8 565.7 370.0 567.2 372.0 567.0C374.0 566.8 376.6 566.3 380.7 564.9C384.8 563.5 391.8 561.8 396.9 558.8C401.9 555.8 406.6 551.4 411.0 546.7C415.4 542.0 419.7 536.3 423.1 530.6C426.5 524.9 429.0 519.1 431.2 512.4C433.4 505.7 434.9 497.8 436.2 490.2C437.5 482.6 438.7 471.0 439.2 467.1L439.2 467.1C439.7 471.0 440.8 482.0 442.2 490.2C443.6 498.4 445.1 508.8 447.3 516.5C449.5 524.2 452.4 530.9 455.4 536.6C458.4 542.3 462.4 546.2 465.4 550.7C468.4 555.2 472.1 561.7 473.5 563.9" stroke="#d41ec8" stroke-width="4.0" fill="none" stroke-linejoin="round"/>
</g>
<path d="M157.8 461.8v4.5M157.8 825.0v-4.5M227.9 461.8v4.5M227.9 825.0v-4.5M298.1 461.8v4.5M298.1 825.0v-4.5M368.2 461.8v4.5M368.2 825.0v-4.5M438.4 461.8v4.5M438.4 825.0v-4.5M109.3 806.5h4.2M481.0 806.5h-4.2M109.3 745.5h4.2M481.0 745.5h-4.2M109.3 684.5h4.2M481.0 684.5h-4.2M109.3 623.5h4.2M481.0 623.5h-4.2M109.3 562.5h4.2M481.0 562.5h-4.2M109.3 501.5h4.2M481.0 501.5h-4.2" stroke="#000" stroke-width="2" fill="none"/>
<path d="M109.3 788.1h2.2M481.0 788.1h-2.2M109.3 777.4h2.2M481.0 777.4h-2.2M109.3 769.8h2.2M481.0 769.8h-2.2M109.3 763.9h2.2M481.0 763.9h-2.2M109.3 759.0h2.2M481.0 759.0h-2.2M109.3 754.9h2.2M481.0 754.9h-2.2M109.3 751.4h2.2M481.0 751.4h-2.2M109.3 748.3h2.2M481.0 748.3h-2.2M109.3 727.1h2.2M481.0 727.1h-2.2M109.3 716.4h2.2M481.0 716.4h-2.2M109.3 708.8h2.2M481.0 708.8h-2.2M109.3 702.9h2.2M481.0 702.9h-2.2M109.3 698.0h2.2M481.0 698.0h-2.2M109.3 693.9h2.2M481.0 693.9h-2.2M109.3 690.4h2.2M481.0 690.4h-2.2M109.3 687.3h2.2M481.0 687.3h-2.2M109.3 666.1h2.2M481.0 666.1h-2.2M109.3 655.4h2.2M481.0 655.4h-2.2M109.3 647.8h2.2M481.0 647.8h-2.2M109.3 641.9h2.2M481.0 641.9h-2.2M109.3 637.0h2.2M481.0 637.0h-2.2M109.3 632.9h2.2M481.0 632.9h-2.2M109.3 629.4h2.2M481.0 629.4h-2.2M109.3 626.3h2.2M481.0 626.3h-2.2M109.3 605.1h2.2M481.0 605.1h-2.2M109.3 594.4h2.2M481.0 594.4h-2.2M109.3 586.8h2.2M481.0 586.8h-2.2M109.3 580.9h2.2M481.0 580.9h-2.2M109.3 576.0h2.2M481.0 576.0h-2.2M109.3 571.9h2.2M481.0 571.9h-2.2M109.3 568.4h2.2M481.0 568.4h-2.2M109.3 565.3h2.2M481.0 565.3h-2.2M109.3 544.1h2.2M481.0 544.1h-2.2M109.3 533.4h2.2M481.0 533.4h-2.2M109.3 525.8h2.2M481.0 525.8h-2.2M109.3 519.9h2.2M481.0 519.9h-2.2M109.3 515.0h2.2M481.0 515.0h-2.2M109.3 510.9h2.2M481.0 510.9h-2.2M109.3 507.4h2.2M481.0 507.4h-2.2M109.3 504.3h2.2M481.0 504.3h-2.2M109.3 483.1h2.2M481.0 483.1h-2.2M109.3 472.4h2.2M481.0 472.4h-2.2M109.3 464.8h2.2M481.0 464.8h-2.2M122.7 461.8v2.2M122.7 825.0v-2.2M192.8 461.8v2.2M192.8 825.0v-2.2M263.0 461.8v2.2M263.0 825.0v-2.2M333.1 461.8v2.2M333.1 825.0v-2.2M403.3 461.8v2.2M403.3 825.0v-2.2M473.4 461.8v2.2M473.4 825.0v-2.2" stroke="#000" stroke-width="1.3" fill="none"/>
<rect x="109.3" y="461.8" width="371.7" height="363.2" fill="none" stroke="#000" stroke-width="2.8"/>
<clipPath id="cp11"><rect x="491.5" y="461.8" width="371.9" height="363.2"/></clipPath>
<g clip-path="url(#cp11)">
<path d="M505.0 552.1C505.3 552.4 506.5 553.2 507.2 553.8C507.9 554.4 508.7 554.9 509.4 555.4C510.1 555.9 510.9 556.4 511.6 556.9C512.4 557.4 513.1 557.8 513.8 558.3C514.6 558.7 515.3 559.2 516.0 559.6C516.8 560.0 517.5 560.4 518.3 560.8C519.0 561.2 519.7 561.6 520.5 561.9C521.2 562.3 521.9 562.7 522.7 563.0C523.4 563.4 524.2 563.7 524.9 564.0C525.6 564.4 526.4 564.7 527.1 565.0C527.9 565.3 528.6 565.6 529.3 565.9C530.1 566.1 530.8 566.4 531.5 566.7C532.3 567.0 533.0 567.2 533.8 567.5C534.5 567.7 535.2 568.0 536.0 568.2C536.7 568.4 537.4 568.7 538.2 568.9C538.9 569.1 539.7 569.3 540.4 569.5C541.1 569.7 541.9 569.9 542.6 570.1C543.4 570.3 544.1 570.5 544.8 570.7C545.6 570.8 546.3 571.0 547.0 571.2C547.8 571.3 548.5 571.5 549.3 571.6C550.0 571.8 550.7 571.9 551.5 572.1C552.2 572.2 552.9 572.3 553.7 572.4C554.4 572.6 555.2 572.7 555.9 572.8C556.6 572.9 557.4 573.0 558.1 573.1C558.9 573.2 559.6 573.3 560.3 573.4C561.1 573.5 561.8 573.6 562.5 573.6C563.3 573.7 564.0 573.8 564.8 573.9C565.5 573.9 566.2 574.0 567.0 574.0C567.7 574.1 568.4 574.1 569.2 574.2C569.9 574.2 570.7 574.3 571.4 574.3C572.1 574.3 572.9 574.3 573.6 574.4C574.4 574.4 575.1 574.4 575.8 574.4C576.6 574.4 577.3 574.4 578.0 574.4C578.8 574.4 579.5 574.4 580.3 574.4C581.0 574.4 581.7 574.4 582.5 574.3C583.2 574.3 583.9 574.3 584.7 574.3C585.4 574.2 586.2 574.2 586.9 574.1C587.6 574.1 588.4 574.0 589.1 574.0C589.8 573.9 590.6 573.8 591.3 573.8C592.1 573.7 592.8 573.6 593.5 573.5C594.3 573.5 595.0 573.4 595.8 573.3C596.5 573.2 597.2 573.1 598.0 573.0C598.7 572.9 599.4 572.8 600.2 572.6C600.9 572.5 601.7 572.4 602.4 572.3C603.1 572.1 603.9 572.0 604.6 571.9C605.3 571.7 606.1 571.6 606.8 571.4C607.6 571.2 608.3 571.1 609.0 570.9C609.8 570.7 610.5 570.5 611.3 570.4C612.0 570.2 612.7 570.0 613.5 569.8C614.2 569.6 614.9 569.4 615.7 569.1C616.4 568.9 617.2 568.7 617.9 568.4C618.6 568.2 619.4 568.0 620.1 567.7C620.8 567.5 621.6 567.2 622.3 566.9C623.1 566.7 623.8 566.4 624.5 566.1C625.3 565.8 626.0 565.5 626.8 565.2C627.5 564.9 628.2 564.5 629.0 564.2C629.7 563.9 630.4 563.5 631.2 563.2C631.9 562.8 632.7 562.4 633.4 562.0C634.1 561.7 634.9 561.3 635.6 560.8C636.3 560.4 637.1 560.0 637.8 559.6C638.6 559.1 639.3 558.7 640.0 558.2C640.8 557.7 641.5 557.2 642.2 556.7C643.0 556.2 643.7 555.7 644.5 555.1C645.2 554.5 645.9 554.0 646.7 553.4C647.4 552.8 648.2 552.2 648.9 551.5C649.6 550.9 650.4 550.2 651.1 549.5C651.8 548.8 652.6 548.0 653.3 547.3C654.1 546.5 654.8 545.7 655.5 544.8C656.3 544.0 657.0 543.1 657.7 542.1C658.5 541.2 659.2 540.2 660.0 539.1C660.7 538.1 661.4 537.0 662.2 535.8C662.9 534.6 663.7 533.3 664.4 531.9C665.1 530.6 665.9 529.1 666.6 527.5C667.3 525.9 668.1 524.2 668.8 522.3C669.6 520.3 670.3 518.3 671.0 515.8C671.8 513.4 672.5 510.9 673.2 507.7C674.0 504.4 674.7 501.3 675.5 496.3C676.2 491.4 676.9 482.7 677.7 478.0C678.4 473.4 679.2 470.0 679.9 468.4C680.6 466.8 681.4 464.8 682.1 468.4C682.8 472.0 683.6 484.3 684.3 490.1C685.1 496.0 685.8 499.9 686.5 503.7C687.3 507.5 688.0 510.3 688.7 513.0C689.5 515.7 690.2 518.0 691.0 520.1C691.7 522.3 692.4 524.1 693.2 525.9C693.9 527.6 694.7 529.2 695.4 530.7C696.1 532.2 696.9 533.5 697.6 534.8C698.3 536.1 699.1 537.3 699.8 538.5C700.6 539.6 701.3 540.7 702.0 541.7C702.8 542.7 703.5 543.6 704.2 544.6C705.0 545.5 705.7 546.3 706.5 547.2C707.2 548.0 707.9 548.8 708.7 549.5C709.4 550.3 710.1 551.0 710.9 551.7C711.6 552.4 712.4 553.1 713.1 553.7C713.8 554.4 714.6 555.0 715.3 555.6C716.1 556.2 716.8 556.8 717.5 557.3C718.3 557.9 719.0 558.4 719.7 558.9C720.5 559.4 721.2 559.9 722.0 560.4C722.7 560.9 723.4 561.4 724.2 561.8C724.9 562.3 725.6 562.7 726.4 563.1C727.1 563.5 727.9 564.0 728.6 564.4C729.3 564.7 730.1 565.1 730.8 565.5C731.6 565.9 732.3 566.2 733.0 566.6C733.8 566.9 734.5 567.3 735.2 567.6C736.0 567.9 736.7 568.2 737.5 568.5C738.2 568.8 738.9 569.1 739.7 569.4C740.4 569.7 741.1 570.0 741.9 570.3C742.6 570.5 743.4 570.8 744.1 571.0C744.8 571.3 745.6 571.5 746.3 571.8C747.1 572.0 747.8 572.2 748.5 572.5C749.3 572.7 750.0 572.9 750.7 573.1C751.5 573.3 752.2 573.5 753.0 573.7C753.7 573.9 754.4 574.1 755.2 574.2C755.9 574.4 756.6 574.6 757.4 574.7C758.1 574.9 758.9 575.1 759.6 575.2C760.3 575.4 761.1 575.5 761.8 575.6C762.5 575.8 763.3 575.9 764.0 576.0C764.8 576.2 765.5 576.3 766.2 576.4C767.0 576.5 767.7 576.6 768.5 576.7C769.2 576.8 769.9 576.9 770.7 577.0C771.4 577.1 772.1 577.2 772.9 577.2C773.6 577.3 774.4 577.4 775.1 577.5C775.8 577.5 776.6 577.6 777.3 577.6C778.0 577.7 778.8 577.7 779.5 577.8C780.3 577.8 781.0 577.9 781.7 577.9C782.5 577.9 783.2 577.9 784.0 578.0C784.7 578.0 785.4 578.0 786.2 578.0C786.9 578.0 787.6 578.0 788.4 578.0C789.1 578.0 789.9 578.0 790.6 578.0C791.3 578.0 792.1 578.0 792.8 578.0C793.5 577.9 794.3 577.9 795.0 577.9C795.8 577.8 796.5 577.8 797.2 577.7C798.0 577.7 798.7 577.6 799.5 577.6C800.2 577.5 800.9 577.5 801.7 577.4C802.4 577.3 803.1 577.2 803.9 577.2C804.6 577.1 805.4 577.0 806.1 576.9C806.8 576.8 807.6 576.7 808.3 576.6C809.0 576.5 809.8 576.4 810.5 576.3C811.3 576.2 812.0 576.0 812.7 575.9C813.5 575.8 814.2 575.6 815.0 575.5C815.7 575.3 816.4 575.2 817.2 575.0C817.9 574.9 818.6 574.7 819.4 574.5C820.1 574.4 820.9 574.2 821.6 574.0C822.3 573.8 823.1 573.6 823.8 573.4C824.5 573.2 825.3 573.0 826.0 572.8C826.8 572.6 827.5 572.3 828.2 572.1C829.0 571.9 829.7 571.6 830.4 571.4C831.2 571.1 831.9 570.8 832.7 570.6C833.4 570.3 834.1 570.0 834.9 569.7C835.6 569.4 836.4 569.1 837.1 568.8C837.8 568.5 838.6 568.2 839.3 567.8C840.0 567.5 840.8 567.2 841.5 566.8C842.3 566.5 843.0 566.1 843.7 565.7C844.5 565.3 845.2 564.9 845.9 564.5C846.7 564.1 847.4 563.7 848.2 563.2C848.9 562.8 849.6 562.3 850.4 561.9C851.1 561.4 851.9 560.9 852.6 560.4C853.3 559.9 854.1 559.3 854.8 558.8C855.5 558.2 856.3 557.7 857.0 557.1C857.8 556.5 858.9 555.5 859.2 555.2" stroke="#c8c8c8" stroke-width="5" fill="none" stroke-linejoin="round" stroke-linecap="round"/>
<path d="M505.0 613.1C505.3 613.4 506.5 614.2 507.2 614.8C507.9 615.4 508.7 615.9 509.4 616.4C510.1 616.9 510.9 617.4 511.6 617.9C512.4 618.4 513.1 618.8 513.8 619.3C514.6 619.7 515.3 620.2 516.0 620.6C516.8 621.0 517.5 621.4 518.3 621.8C519.0 622.2 519.7 622.6 520.5 622.9C521.2 623.3 521.9 623.7 522.7 624.0C523.4 624.4 524.2 624.7 524.9 625.0C525.6 625.4 526.4 625.7 527.1 626.0C527.9 626.3 528.6 626.6 529.3 626.9C530.1 627.1 530.8 627.4 531.5 627.7C532.3 628.0 533.0 628.2 533.8 628.5C534.5 628.7 535.2 629.0 536.0 629.2C536.7 629.4 537.4 629.7 538.2 629.9C538.9 630.1 539.7 630.3 540.4 630.5C541.1 630.7 541.9 630.9 542.6 631.1C543.4 631.3 544.1 631.5 544.8 631.7C545.6 631.8 546.3 632.0 547.0 632.2C547.8 632.3 548.5 632.5 549.3 632.6C550.0 632.8 550.7 632.9 551.5 633.1C552.2 633.2 552.9 633.3 553.7 633.4C554.4 633.6 555.2 633.7 555.9 633.8C556.6 633.9 557.4 634.0 558.1 634.1C558.9 634.2 559.6 634.3 560.3 634.4C561.1 634.5 561.8 634.6 562.5 634.6C563.3 634.7 564.0 634.8 564.8 634.9C565.5 634.9 566.2 635.0 567.0 635.0C567.7 635.1 568.4 635.1 569.2 635.2C569.9 635.2 570.7 635.3 571.4 635.3C572.1 635.3 572.9 635.3 573.6 635.4C574.4 635.4 575.1 635.4 575.8 635.4C576.6 635.4 577.3 635.4 578.0 635.4C578.8 635.4 579.5 635.4 580.3 635.4C581.0 635.4 581.7 635.4 582.5 635.3C583.2 635.3 583.9 635.3 584.7 635.3C585.4 635.2 586.2 635.2 586.9 635.1C587.6 635.1 588.4 635.0 589.1 635.0C589.8 634.9 590.6 634.8 591.3 634.8C592.1 634.7 592.8 634.6 593.5 634.5C594.3 634.5 595.0 634.4 595.8 634.3C596.5 634.2 597.2 634.1 598.0 634.0C598.7 633.9 599.4 633.8 600.2 633.6C600.9 633.5 601.7 633.4 602.4 633.3C603.1 633.1 603.9 633.0 604.6 632.9C605.3 632.7 606.1 632.6 606.8 632.4C607.6 632.2 608.3 632.1 609.0 631.9C609.8 631.7 610.5 631.5 611.3 631.4C612.0 631.2 612.7 631.0 613.5 630.8C614.2 630.6 614.9 630.4 615.7 630.1C616.4 629.9 617.2 629.7 617.9 629.4C618.6 629.2 619.4 629.0 620.1 628.7C620.8 628.5 621.6 628.2 622.3 627.9C623.1 627.7 623.8 627.4 624.5 627.1C625.3 626.8 626.0 626.5 626.8 626.2C627.5 625.9 628.2 625.5 629.0 625.2C629.7 624.9 630.4 624.5 631.2 624.2C631.9 623.8 632.7 623.4 633.4 623.0C634.1 622.7 634.9 622.3 635.6 621.8C636.3 621.4 637.1 621.0 637.8 620.6C638.6 620.1 639.3 619.7 640.0 619.2C640.8 618.7 641.5 618.2 642.2 617.7C643.0 617.2 643.7 616.7 644.5 616.1C645.2 615.5 645.9 615.0 646.7 614.4C647.4 613.8 648.2 613.2 648.9 612.5C649.6 611.9 650.4 611.2 651.1 610.5C651.8 609.8 652.6 609.0 653.3 608.3C654.1 607.5 654.8 606.7 655.5 605.8C656.3 605.0 657.0 604.1 657.7 603.1C658.5 602.2 659.2 601.2 660.0 600.1C660.7 599.1 661.4 598.0 662.2 596.8C662.9 595.6 663.7 594.3 664.4 592.9C665.1 591.6 665.9 590.1 666.6 588.5C667.3 586.9 668.1 585.2 668.8 583.3C669.6 581.3 670.3 579.3 671.0 576.8C671.8 574.4 672.5 571.9 673.2 568.7C674.0 565.4 674.7 562.3 675.5 557.3C676.2 552.4 676.9 543.7 677.7 539.0C678.4 534.4 679.2 531.0 679.9 529.4C680.6 527.8 681.4 525.8 682.1 529.4C682.8 533.0 683.6 545.3 684.3 551.1C685.1 557.0 685.8 560.9 686.5 564.7C687.3 568.5 688.0 571.3 688.7 574.0C689.5 576.7 690.2 579.0 691.0 581.1C691.7 583.3 692.4 585.1 693.2 586.9C693.9 588.6 694.7 590.2 695.4 591.7C696.1 593.2 696.9 594.5 697.6 595.8C698.3 597.1 699.1 598.3 699.8 599.5C700.6 600.6 701.3 601.7 702.0 602.7C702.8 603.7 703.5 604.6 704.2 605.6C705.0 606.5 705.7 607.3 706.5 608.2C707.2 609.0 707.9 609.8 708.7 610.5C709.4 611.3 710.1 612.0 710.9 612.7C711.6 613.4 712.4 614.1 713.1 614.7C713.8 615.4 714.6 616.0 715.3 616.6C716.1 617.2 716.8 617.8 717.5 618.3C718.3 618.9 719.0 619.4 719.7 619.9C720.5 620.4 721.2 620.9 722.0 621.4C722.7 621.9 723.4 622.4 724.2 622.8C724.9 623.3 725.6 623.7 726.4 624.1C727.1 624.5 727.9 625.0 728.6 625.4C729.3 625.7 730.1 626.1 730.8 626.5C731.6 626.9 732.3 627.2 733.0 627.6C733.8 627.9 734.5 628.3 735.2 628.6C736.0 628.9 736.7 629.2 737.5 629.5C738.2 629.8 738.9 630.1 739.7 630.4C740.4 630.7 741.1 631.0 741.9 631.3C742.6 631.5 743.4 631.8 744.1 632.0C744.8 632.3 745.6 632.5 746.3 632.8C747.1 633.0 747.8 633.2 748.5 633.5C749.3 633.7 750.0 633.9 750.7 634.1C751.5 634.3 752.2 634.5 753.0 634.7C753.7 634.9 754.4 635.1 755.2 635.2C755.9 635.4 756.6 635.6 757.4 635.7C758.1 635.9 758.9 636.1 759.6 636.2C760.3 636.4 761.1 636.5 761.8 636.6C762.5 636.8 763.3 636.9 764.0 637.0C764.8 637.2 765.5 637.3 766.2 637.4C767.0 637.5 767.7 637.6 768.5 637.7C769.2 637.8 769.9 637.9 770.7 638.0C771.4 638.1 772.1 638.2 772.9 638.2C773.6 638.3 774.4 638.4 775.1 638.5C775.8 638.5 776.6 638.6 777.3 638.6C778.0 638.7 778.8 638.7 779.5 638.8C780.3 638.8 781.0 638.9 781.7 638.9C782.5 638.9 783.2 638.9 784.0 639.0C784.7 639.0 785.4 639.0 786.2 639.0C786.9 639.0 787.6 639.0 788.4 639.0C789.1 639.0 789.9 639.0 790.6 639.0C791.3 639.0 792.1 639.0 792.8 639.0C793.5 638.9 794.3 638.9 795.0 638.9C795.8 638.8 796.5 638.8 797.2 638.7C798.0 638.7 798.7 638.6 799.5 638.6C800.2 638.5 800.9 638.5 801.7 638.4C802.4 638.3 803.1 638.2 803.9 638.2C804.6 638.1 805.4 638.0 806.1 637.9C806.8 637.8 807.6 637.7 808.3 637.6C809.0 637.5 809.8 637.4 810.5 637.3C811.3 637.2 812.0 637.0 812.7 636.9C813.5 636.8 814.2 636.6 815.0 636.5C815.7 636.3 816.4 636.2 817.2 636.0C817.9 635.9 818.6 635.7 819.4 635.5C820.1 635.4 820.9 635.2 821.6 635.0C822.3 634.8 823.1 634.6 823.8 634.4C824.5 634.2 825.3 634.0 826.0 633.8C826.8 633.6 827.5 633.3 828.2 633.1C829.0 632.9 829.7 632.6 830.4 632.4C831.2 632.1 831.9 631.8 832.7 631.6C833.4 631.3 834.1 631.0 834.9 630.7C835.6 630.4 836.4 630.1 837.1 629.8C837.8 629.5 838.6 629.2 839.3 628.8C840.0 628.5 840.8 628.2 841.5 627.8C842.3 627.5 843.0 627.1 843.7 626.7C844.5 626.3 845.2 625.9 845.9 625.5C846.7 625.1 847.4 624.7 848.2 624.2C848.9 623.8 849.6 623.3 850.4 622.9C851.1 622.4 851.9 621.9 852.6 621.4C853.3 620.9 854.1 620.3 854.8 619.8C855.5 619.2 856.3 618.7 857.0 618.1C857.8 617.5 858.9 616.5 859.2 616.2" stroke="#c8c8c8" stroke-width="5" fill="none" stroke-linejoin="round" stroke-linecap="round"/>
<path d="M505.0 674.1C505.3 674.4 506.5 675.2 507.2 675.8C507.9 676.4 508.7 676.9 509.4 677.4C510.1 677.9 510.9 678.4 511.6 678.9C512.4 679.4 513.1 679.8 513.8 680.3C514.6 680.7 515.3 681.2 516.0 681.6C516.8 682.0 517.5 682.4 518.3 682.8C519.0 683.2 519.7 683.6 520.5 683.9C521.2 684.3 521.9 684.7 522.7 685.0C523.4 685.4 524.2 685.7 524.9 686.0C525.6 686.4 526.4 686.7 527.1 687.0C527.9 687.3 528.6 687.6 529.3 687.9C530.1 688.1 530.8 688.4 531.5 688.7C532.3 689.0 533.0 689.2 533.8 689.5C534.5 689.7 535.2 690.0 536.0 690.2C536.7 690.4 537.4 690.7 538.2 690.9C538.9 691.1 539.7 691.3 540.4 691.5C541.1 691.7 541.9 691.9 542.6 692.1C543.4 692.3 544.1 692.5 544.8 692.7C545.6 692.8 546.3 693.0 547.0 693.2C547.8 693.3 548.5 693.5 549.3 693.6C550.0 693.8 550.7 693.9 551.5 694.1C552.2 694.2 552.9 694.3 553.7 694.4C554.4 694.6 555.2 694.7 555.9 694.8C556.6 694.9 557.4 695.0 558.1 695.1C558.9 695.2 559.6 695.3 560.3 695.4C561.1 695.5 561.8 695.6 562.5 695.6C563.3 695.7 564.0 695.8 564.8 695.9C565.5 695.9 566.2 696.0 567.0 696.0C567.7 696.1 568.4 696.1 569.2 696.2C569.9 696.2 570.7 696.3 571.4 696.3C572.1 696.3 572.9 696.3 573.6 696.4C574.4 696.4 575.1 696.4 575.8 696.4C576.6 696.4 577.3 696.4 578.0 696.4C578.8 696.4 579.5 696.4 580.3 696.4C581.0 696.4 581.7 696.4 582.5 696.3C583.2 696.3 583.9 696.3 584.7 696.3C585.4 696.2 586.2 696.2 586.9 696.1C587.6 696.1 588.4 696.0 589.1 696.0C589.8 695.9 590.6 695.8 591.3 695.8C592.1 695.7 592.8 695.6 593.5 695.5C594.3 695.5 595.0 695.4 595.8 695.3C596.5 695.2 597.2 695.1 598.0 695.0C598.7 694.9 599.4 694.8 600.2 694.6C600.9 694.5 601.7 694.4 602.4 694.3C603.1 694.1 603.9 694.0 604.6 693.9C605.3 693.7 606.1 693.6 606.8 693.4C607.6 693.2 608.3 693.1 609.0 692.9C609.8 692.7 610.5 692.5 611.3 692.4C612.0 692.2 612.7 692.0 613.5 691.8C614.2 691.6 614.9 691.4 615.7 691.1C616.4 690.9 617.2 690.7 617.9 690.4C618.6 690.2 619.4 690.0 620.1 689.7C620.8 689.5 621.6 689.2 622.3 688.9C623.1 688.7 623.8 688.4 624.5 688.1C625.3 687.8 626.0 687.5 626.8 687.2C627.5 686.9 628.2 686.5 629.0 686.2C629.7 685.9 630.4 685.5 631.2 685.2C631.9 684.8 632.7 684.4 633.4 684.0C634.1 683.7 634.9 683.3 635.6 682.8C636.3 682.4 637.1 682.0 637.8 681.6C638.6 681.1 639.3 680.7 640.0 680.2C640.8 679.7 641.5 679.2 642.2 678.7C643.0 678.2 643.7 677.7 644.5 677.1C645.2 676.5 645.9 676.0 646.7 675.4C647.4 674.8 648.2 674.2 648.9 673.5C649.6 672.9 650.4 672.2 651.1 671.5C651.8 670.8 652.6 670.0 653.3 669.3C654.1 668.5 654.8 667.7 655.5 666.8C656.3 666.0 657.0 665.1 657.7 664.1C658.5 663.2 659.2 662.2 660.0 661.1C660.7 660.1 661.4 659.0 662.2 657.8C662.9 656.6 663.7 655.3 664.4 653.9C665.1 652.6 665.9 651.1 666.6 649.5C667.3 647.9 668.1 646.2 668.8 644.3C669.6 642.3 670.3 640.3 671.0 637.8C671.8 635.4 672.5 632.9 673.2 629.7C674.0 626.4 674.7 623.3 675.5 618.3C676.2 613.4 676.9 604.7 677.7 600.0C678.4 595.4 679.2 592.0 679.9 590.4C680.6 588.8 681.4 586.8 682.1 590.4C682.8 594.0 683.6 606.3 684.3 612.1C685.1 618.0 685.8 621.9 686.5 625.7C687.3 629.5 688.0 632.3 688.7 635.0C689.5 637.7 690.2 640.0 691.0 642.1C691.7 644.3 692.4 646.1 693.2 647.9C693.9 649.6 694.7 651.2 695.4 652.7C696.1 654.2 696.9 655.5 697.6 656.8C698.3 658.1 699.1 659.3 699.8 660.5C700.6 661.6 701.3 662.7 702.0 663.7C702.8 664.7 703.5 665.6 704.2 666.6C705.0 667.5 705.7 668.3 706.5 669.2C707.2 670.0 707.9 670.8 708.7 671.5C709.4 672.3 710.1 673.0 710.9 673.7C711.6 674.4 712.4 675.1 713.1 675.7C713.8 676.4 714.6 677.0 715.3 677.6C716.1 678.2 716.8 678.8 717.5 679.3C718.3 679.9 719.0 680.4 719.7 680.9C720.5 681.4 721.2 681.9 722.0 682.4C722.7 682.9 723.4 683.4 724.2 683.8C724.9 684.3 725.6 684.7 726.4 685.1C727.1 685.5 727.9 686.0 728.6 686.4C729.3 686.7 730.1 687.1 730.8 687.5C731.6 687.9 732.3 688.2 733.0 688.6C733.8 688.9 734.5 689.3 735.2 689.6C736.0 689.9 736.7 690.2 737.5 690.5C738.2 690.8 738.9 691.1 739.7 691.4C740.4 691.7 741.1 692.0 741.9 692.3C742.6 692.5 743.4 692.8 744.1 693.0C744.8 693.3 745.6 693.5 746.3 693.8C747.1 694.0 747.8 694.2 748.5 694.5C749.3 694.7 750.0 694.9 750.7 695.1C751.5 695.3 752.2 695.5 753.0 695.7C753.7 695.9 754.4 696.1 755.2 696.2C755.9 696.4 756.6 696.6 757.4 696.7C758.1 696.9 758.9 697.1 759.6 697.2C760.3 697.4 761.1 697.5 761.8 697.6C762.5 697.8 763.3 697.9 764.0 698.0C764.8 698.2 765.5 698.3 766.2 698.4C767.0 698.5 767.7 698.6 768.5 698.7C769.2 698.8 769.9 698.9 770.7 699.0C771.4 699.1 772.1 699.2 772.9 699.2C773.6 699.3 774.4 699.4 775.1 699.5C775.8 699.5 776.6 699.6 777.3 699.6C778.0 699.7 778.8 699.7 779.5 699.8C780.3 699.8 781.0 699.9 781.7 699.9C782.5 699.9 783.2 699.9 784.0 700.0C784.7 700.0 785.4 700.0 786.2 700.0C786.9 700.0 787.6 700.0 788.4 700.0C789.1 700.0 789.9 700.0 790.6 700.0C791.3 700.0 792.1 700.0 792.8 700.0C793.5 699.9 794.3 699.9 795.0 699.9C795.8 699.8 796.5 699.8 797.2 699.7C798.0 699.7 798.7 699.6 799.5 699.6C800.2 699.5 800.9 699.5 801.7 699.4C802.4 699.3 803.1 699.2 803.9 699.2C804.6 699.1 805.4 699.0 806.1 698.9C806.8 698.8 807.6 698.7 808.3 698.6C809.0 698.5 809.8 698.4 810.5 698.3C811.3 698.2 812.0 698.0 812.7 697.9C813.5 697.8 814.2 697.6 815.0 697.5C815.7 697.3 816.4 697.2 817.2 697.0C817.9 696.9 818.6 696.7 819.4 696.5C820.1 696.4 820.9 696.2 821.6 696.0C822.3 695.8 823.1 695.6 823.8 695.4C824.5 695.2 825.3 695.0 826.0 694.8C826.8 694.6 827.5 694.3 828.2 694.1C829.0 693.9 829.7 693.6 830.4 693.4C831.2 693.1 831.9 692.8 832.7 692.6C833.4 692.3 834.1 692.0 834.9 691.7C835.6 691.4 836.4 691.1 837.1 690.8C837.8 690.5 838.6 690.2 839.3 689.8C840.0 689.5 840.8 689.2 841.5 688.8C842.3 688.5 843.0 688.1 843.7 687.7C844.5 687.3 845.2 686.9 845.9 686.5C846.7 686.1 847.4 685.7 848.2 685.2C848.9 684.8 849.6 684.3 850.4 683.9C851.1 683.4 851.9 682.9 852.6 682.4C853.3 681.9 854.1 681.3 854.8 680.8C855.5 680.2 856.3 679.7 857.0 679.1C857.8 678.5 858.9 677.5 859.2 677.2" stroke="#c8c8c8" stroke-width="5" fill="none" stroke-linejoin="round" stroke-linecap="round"/>
<path d="M505.0 733.1C505.3 733.4 506.5 734.2 507.2 734.8C507.9 735.4 508.7 735.9 509.4 736.4C510.1 736.9 510.9 737.4 511.6 737.9C512.4 738.4 513.1 738.8 513.8 739.3C514.6 739.7 515.3 740.2 516.0 740.6C516.8 741.0 517.5 741.4 518.3 741.8C519.0 742.2 519.7 742.6 520.5 742.9C521.2 743.3 521.9 743.7 522.7 744.0C523.4 744.4 524.2 744.7 524.9 745.0C525.6 745.4 526.4 745.7 527.1 746.0C527.9 746.3 528.6 746.6 529.3 746.9C530.1 747.1 530.8 747.4 531.5 747.7C532.3 748.0 533.0 748.2 533.8 748.5C534.5 748.7 535.2 749.0 536.0 749.2C536.7 749.4 537.4 749.7 538.2 749.9C538.9 750.1 539.7 750.3 540.4 750.5C541.1 750.7 541.9 750.9 542.6 751.1C543.4 751.3 544.1 751.5 544.8 751.7C545.6 751.8 546.3 752.0 547.0 752.2C547.8 752.3 548.5 752.5 549.3 752.6C550.0 752.8 550.7 752.9 551.5 753.1C552.2 753.2 552.9 753.3 553.7 753.4C554.4 753.6 555.2 753.7 555.9 753.8C556.6 753.9 557.4 754.0 558.1 754.1C558.9 754.2 559.6 754.3 560.3 754.4C561.1 754.5 561.8 754.6 562.5 754.6C563.3 754.7 564.0 754.8 564.8 754.9C565.5 754.9 566.2 755.0 567.0 755.0C567.7 755.1 568.4 755.1 569.2 755.2C569.9 755.2 570.7 755.3 571.4 755.3C572.1 755.3 572.9 755.3 573.6 755.4C574.4 755.4 575.1 755.4 575.8 755.4C576.6 755.4 577.3 755.4 578.0 755.4C578.8 755.4 579.5 755.4 580.3 755.4C581.0 755.4 581.7 755.4 582.5 755.3C583.2 755.3 583.9 755.3 584.7 755.3C585.4 755.2 586.2 755.2 586.9 755.1C587.6 755.1 588.4 755.0 589.1 755.0C589.8 754.9 590.6 754.8 591.3 754.8C592.1 754.7 592.8 754.6 593.5 754.5C594.3 754.5 595.0 754.4 595.8 754.3C596.5 754.2 597.2 754.1 598.0 754.0C598.7 753.9 599.4 753.8 600.2 753.6C600.9 753.5 601.7 753.4 602.4 753.3C603.1 753.1 603.9 753.0 604.6 752.9C605.3 752.7 606.1 752.6 606.8 752.4C607.6 752.2 608.3 752.1 609.0 751.9C609.8 751.7 610.5 751.5 611.3 751.4C612.0 751.2 612.7 751.0 613.5 750.8C614.2 750.6 614.9 750.4 615.7 750.1C616.4 749.9 617.2 749.7 617.9 749.4C618.6 749.2 619.4 749.0 620.1 748.7C620.8 748.5 621.6 748.2 622.3 747.9C623.1 747.7 623.8 747.4 624.5 747.1C625.3 746.8 626.0 746.5 626.8 746.2C627.5 745.9 628.2 745.5 629.0 745.2C629.7 744.9 630.4 744.5 631.2 744.2C631.9 743.8 632.7 743.4 633.4 743.0C634.1 742.7 634.9 742.3 635.6 741.8C636.3 741.4 637.1 741.0 637.8 740.6C638.6 740.1 639.3 739.7 640.0 739.2C640.8 738.7 641.5 738.2 642.2 737.7C643.0 737.2 643.7 736.7 644.5 736.1C645.2 735.5 645.9 735.0 646.7 734.4C647.4 733.8 648.2 733.2 648.9 732.5C649.6 731.9 650.4 731.2 651.1 730.5C651.8 729.8 652.6 729.0 653.3 728.3C654.1 727.5 654.8 726.7 655.5 725.8C656.3 725.0 657.0 724.1 657.7 723.1C658.5 722.2 659.2 721.2 660.0 720.1C660.7 719.1 661.4 718.0 662.2 716.8C662.9 715.6 663.7 714.3 664.4 712.9C665.1 711.6 665.9 710.1 666.6 708.5C667.3 706.9 668.1 705.2 668.8 703.3C669.6 701.3 670.3 699.3 671.0 696.8C671.8 694.4 672.5 691.9 673.2 688.7C674.0 685.4 674.7 682.3 675.5 677.3C676.2 672.4 676.9 663.7 677.7 659.0C678.4 654.4 679.2 651.0 679.9 649.4C680.6 647.8 681.4 645.8 682.1 649.4C682.8 653.0 683.6 665.3 684.3 671.1C685.1 677.0 685.8 680.9 686.5 684.7C687.3 688.5 688.0 691.3 688.7 694.0C689.5 696.7 690.2 699.0 691.0 701.1C691.7 703.3 692.4 705.1 693.2 706.9C693.9 708.6 694.7 710.2 695.4 711.7C696.1 713.2 696.9 714.5 697.6 715.8C698.3 717.1 699.1 718.3 699.8 719.5C700.6 720.6 701.3 721.7 702.0 722.7C702.8 723.7 703.5 724.6 704.2 725.6C705.0 726.5 705.7 727.3 706.5 728.2C707.2 729.0 707.9 729.8 708.7 730.5C709.4 731.3 710.1 732.0 710.9 732.7C711.6 733.4 712.4 734.1 713.1 734.7C713.8 735.4 714.6 736.0 715.3 736.6C716.1 737.2 716.8 737.8 717.5 738.3C718.3 738.9 719.0 739.4 719.7 739.9C720.5 740.4 721.2 740.9 722.0 741.4C722.7 741.9 723.4 742.4 724.2 742.8C724.9 743.3 725.6 743.7 726.4 744.1C727.1 744.5 727.9 745.0 728.6 745.4C729.3 745.7 730.1 746.1 730.8 746.5C731.6 746.9 732.3 747.2 733.0 747.6C733.8 747.9 734.5 748.3 735.2 748.6C736.0 748.9 736.7 749.2 737.5 749.5C738.2 749.8 738.9 750.1 739.7 750.4C740.4 750.7 741.1 751.0 741.9 751.3C742.6 751.5 743.4 751.8 744.1 752.0C744.8 752.3 745.6 752.5 746.3 752.8C747.1 753.0 747.8 753.2 748.5 753.5C749.3 753.7 750.0 753.9 750.7 754.1C751.5 754.3 752.2 754.5 753.0 754.7C753.7 754.9 754.4 755.1 755.2 755.2C755.9 755.4 756.6 755.6 757.4 755.7C758.1 755.9 758.9 756.1 759.6 756.2C760.3 756.4 761.1 756.5 761.8 756.6C762.5 756.8 763.3 756.9 764.0 757.0C764.8 757.2 765.5 757.3 766.2 757.4C767.0 757.5 767.7 757.6 768.5 757.7C769.2 757.8 769.9 757.9 770.7 758.0C771.4 758.1 772.1 758.2 772.9 758.2C773.6 758.3 774.4 758.4 775.1 758.5C775.8 758.5 776.6 758.6 777.3 758.6C778.0 758.7 778.8 758.7 779.5 758.8C780.3 758.8 781.0 758.9 781.7 758.9C782.5 758.9 783.2 758.9 784.0 759.0C784.7 759.0 785.4 759.0 786.2 759.0C786.9 759.0 787.6 759.0 788.4 759.0C789.1 759.0 789.9 759.0 790.6 759.0C791.3 759.0 792.1 759.0 792.8 759.0C793.5 758.9 794.3 758.9 795.0 758.9C795.8 758.8 796.5 758.8 797.2 758.7C798.0 758.7 798.7 758.6 799.5 758.6C800.2 758.5 800.9 758.5 801.7 758.4C802.4 758.3 803.1 758.2 803.9 758.2C804.6 758.1 805.4 758.0 806.1 757.9C806.8 757.8 807.6 757.7 808.3 757.6C809.0 757.5 809.8 757.4 810.5 757.3C811.3 757.2 812.0 757.0 812.7 756.9C813.5 756.8 814.2 756.6 815.0 756.5C815.7 756.3 816.4 756.2 817.2 756.0C817.9 755.9 818.6 755.7 819.4 755.5C820.1 755.4 820.9 755.2 821.6 755.0C822.3 754.8 823.1 754.6 823.8 754.4C824.5 754.2 825.3 754.0 826.0 753.8C826.8 753.6 827.5 753.3 828.2 753.1C829.0 752.9 829.7 752.6 830.4 752.4C831.2 752.1 831.9 751.8 832.7 751.6C833.4 751.3 834.1 751.0 834.9 750.7C835.6 750.4 836.4 750.1 837.1 749.8C837.8 749.5 838.6 749.2 839.3 748.8C840.0 748.5 840.8 748.2 841.5 747.8C842.3 747.5 843.0 747.1 843.7 746.7C844.5 746.3 845.2 745.9 845.9 745.5C846.7 745.1 847.4 744.7 848.2 744.2C848.9 743.8 849.6 743.3 850.4 742.9C851.1 742.4 851.9 741.9 852.6 741.4C853.3 740.9 854.1 740.3 854.8 739.8C855.5 739.2 856.3 738.7 857.0 738.1C857.8 737.5 858.9 736.5 859.2 736.2" stroke="#c8c8c8" stroke-width="5" fill="none" stroke-linejoin="round" stroke-linecap="round"/>
<path d="M503.5 732.5C506.1 733.7 513.0 737.1 519.0 739.6C525.0 742.2 532.8 745.6 539.7 747.8C546.6 750.0 553.5 751.6 560.4 752.7C567.3 753.8 574.2 754.6 581.1 754.2C588.0 753.9 594.9 752.5 601.8 750.7C608.7 748.8 615.5 746.6 622.4 743.0C629.3 739.5 636.9 734.0 643.1 729.3C649.3 724.6 655.2 720.2 659.7 714.7C664.2 709.1 667.2 702.6 670.0 696.0C672.8 689.4 675.2 678.8 676.2 675.3M685.4 683.5C686.2 686.6 688.0 695.4 690.5 701.9C693.0 708.4 695.6 715.6 700.7 722.3C705.8 729.1 714.4 737.3 721.2 742.6C728.0 748.0 734.9 751.7 741.7 754.4C748.5 757.2 755.3 758.1 762.1 759.2C768.9 760.3 775.8 760.8 782.6 760.9C789.4 760.9 796.3 760.5 803.1 759.5C809.9 758.6 816.8 757.1 823.6 755.1C830.4 753.1 838.2 750.0 844.0 747.7C849.8 745.5 855.4 742.9 858.4 741.6C861.4 740.3 861.4 740.2 862.0 739.9" stroke="#680a0c" stroke-width="6.5" fill="none" stroke-linejoin="round"/>
<path d="M498.8 729.5h9.5M498.8 735.5h9.5M503.5 729.5v6.0M502.1 731.1h9.5M502.1 737.1h9.5M506.9 731.1v6.0M505.5 732.7h9.5M505.5 738.7h9.5M510.3 732.7v6.0M508.9 734.3h9.5M508.9 740.3h9.5M513.7 734.3v6.0M512.3 735.8h9.5M512.3 741.8h9.5M517.1 735.8v6.0M515.7 737.3h9.5M515.7 743.3h9.5M520.5 737.3v6.0M519.1 738.7h9.5M519.1 744.7h9.5M523.9 738.7v6.0M522.5 740.1h9.5M522.5 746.1h9.5M527.3 740.1v6.0M525.9 741.5h9.5M525.9 747.5h9.5M530.7 741.5v6.0M529.3 742.8h9.5M529.3 748.8h9.5M534.1 742.8v6.0M532.7 744.1h9.5M532.7 750.1h9.5M537.5 744.1v6.0M536.1 745.2h9.5M536.1 751.2h9.5M540.9 745.2v6.0M539.5 746.1h9.5M539.5 752.1h9.5M544.3 746.1v6.0M542.9 747.1h9.5M542.9 753.1h9.5M547.7 747.1v6.0M546.3 747.9h9.5M546.3 753.9h9.5M551.1 747.9v6.0M549.7 748.6h9.5M549.7 754.6h9.5M554.5 748.6v6.0M553.1 749.3h9.5M553.1 755.3h9.5M557.9 749.3v6.0M556.5 749.8h9.5M556.5 755.8h9.5M561.3 749.8v6.0M559.9 750.3h9.5M559.9 756.3h9.5M564.7 750.3v6.0M563.3 750.7h9.5M563.3 756.7h9.5M568.1 750.7v6.0M566.7 751.1h9.5M566.7 757.1h9.5M571.5 751.1v6.0M570.1 751.3h9.5M570.1 757.3h9.5M574.9 751.3v6.0M573.5 751.3h9.5M573.5 757.3h9.5M578.3 751.3v6.0M576.9 751.2h9.5M576.9 757.2h9.5M581.7 751.2v6.0M580.3 750.9h9.5M580.3 756.9h9.5M585.1 750.9v6.0M583.7 750.5h9.5M583.7 756.5h9.5M588.5 750.5v6.0M587.1 749.9h9.5M587.1 755.9h9.5M591.9 749.9v6.0M590.5 749.3h9.5M590.5 755.3h9.5M595.3 749.3v6.0M593.9 748.5h9.5M593.9 754.5h9.5M598.7 748.5v6.0M597.3 747.6h9.5M597.3 753.6h9.5M602.1 747.6v6.0M600.7 746.6h9.5M600.7 752.6h9.5M605.5 746.6v6.0M604.1 745.6h9.5M604.1 751.6h9.5M608.9 745.6v6.0M607.5 744.4h9.5M607.5 750.4h9.5M612.3 744.4v6.0M610.9 743.1h9.5M610.9 749.1h9.5M615.7 743.1v6.0M614.3 741.7h9.5M614.3 747.7h9.5M619.1 741.7v6.0M617.7 740.0h9.5M617.7 746.0h9.5M622.5 740.0v6.0M621.1 738.1h9.5M621.1 744.1h9.5M625.9 738.1v6.0M624.5 736.0h9.5M624.5 742.0h9.5M629.3 736.0v6.0M627.9 733.8h9.5M627.9 739.8h9.5M632.7 733.8v6.0M631.3 731.4h9.5M631.3 737.4h9.5M636.1 731.4v6.0M634.7 729.0h9.5M634.7 735.0h9.5M639.5 729.0v6.0M638.1 726.4h9.5M638.1 732.4h9.5M642.9 726.4v6.0M641.5 723.9h9.5M641.5 729.9h9.5M646.3 723.9v6.0M644.9 721.2h9.5M644.9 727.2h9.5M649.7 721.2v6.0M648.3 718.4h9.5M648.3 724.4h9.5M653.1 718.4v6.0M651.7 715.2h9.5M651.7 721.2h9.5M656.5 715.2v6.0M655.1 711.4h9.5M655.1 717.4h9.5M659.9 711.4v6.0M658.5 706.6h9.5M658.5 712.6h9.5M663.3 706.6v6.0M661.9 700.4h9.5M661.9 706.4h9.5M666.7 700.4v6.0M665.3 692.8h9.5M665.3 698.8h9.5M670.1 692.8v6.0M668.7 682.4h9.5M668.7 688.4h9.5M673.5 682.4v6.0M671.5 672.3h9.5M671.5 678.3h9.5M676.2 672.3v6.0M680.6 680.5h9.5M680.6 686.5h9.5M685.4 680.5v6.0M684.0 693.9h9.5M684.0 699.9h9.5M688.8 693.9v6.0M687.4 703.2h9.5M687.4 709.2h9.5M692.2 703.2v6.0M690.8 711.0h9.5M690.8 717.0h9.5M695.6 711.0v6.0M694.2 716.9h9.5M694.2 722.9h9.5M699.0 716.9v6.0M697.6 721.5h9.5M697.6 727.5h9.5M702.4 721.5v6.0M701.0 725.4h9.5M701.0 731.4h9.5M705.8 725.4v6.0M704.4 728.9h9.5M704.4 734.9h9.5M709.2 728.9v6.0M707.8 732.2h9.5M707.8 738.2h9.5M712.6 732.2v6.0M711.2 735.3h9.5M711.2 741.3h9.5M716.0 735.3v6.0M714.6 738.2h9.5M714.6 744.2h9.5M719.4 738.2v6.0M718.0 740.9h9.5M718.0 746.9h9.5M722.8 740.9v6.0M721.4 743.3h9.5M721.4 749.3h9.5M726.2 743.3v6.0M724.8 745.4h9.5M724.8 751.4h9.5M729.6 745.4v6.0M728.2 747.4h9.5M728.2 753.4h9.5M733.0 747.4v6.0M731.6 749.1h9.5M731.6 755.1h9.5M736.4 749.1v6.0M735.0 750.7h9.5M735.0 756.7h9.5M739.8 750.7v6.0M738.4 752.0h9.5M738.4 758.0h9.5M743.2 752.0v6.0M741.8 753.1h9.5M741.8 759.1h9.5M746.6 753.1v6.0M745.2 754.0h9.5M745.2 760.0h9.5M750.0 754.0v6.0M748.6 754.7h9.5M748.6 760.7h9.5M753.4 754.7v6.0M752.0 755.4h9.5M752.0 761.4h9.5M756.8 755.4v6.0M755.4 755.9h9.5M755.4 761.9h9.5M760.2 755.9v6.0M758.8 756.4h9.5M758.8 762.4h9.5M763.6 756.4v6.0M762.2 756.9h9.5M762.2 762.9h9.5M767.0 756.9v6.0M765.6 757.2h9.5M765.6 763.2h9.5M770.4 757.2v6.0M769.0 757.5h9.5M769.0 763.5h9.5M773.8 757.5v6.0M772.4 757.7h9.5M772.4 763.7h9.5M777.2 757.7v6.0M775.8 757.8h9.5M775.8 763.8h9.5M780.6 757.8v6.0M779.2 757.9h9.5M779.2 763.9h9.5M784.0 757.9v6.0M782.6 757.8h9.5M782.6 763.8h9.5M787.4 757.8v6.0M786.0 757.7h9.5M786.0 763.7h9.5M790.8 757.7v6.0M789.4 757.5h9.5M789.4 763.5h9.5M794.2 757.5v6.0M792.8 757.2h9.5M792.8 763.2h9.5M797.6 757.2v6.0M796.2 756.8h9.5M796.2 762.8h9.5M801.0 756.8v6.0M799.6 756.3h9.5M799.6 762.3h9.5M804.4 756.3v6.0M803.0 755.8h9.5M803.0 761.8h9.5M807.8 755.8v6.0M806.4 755.1h9.5M806.4 761.1h9.5M811.2 755.1v6.0M809.8 754.4h9.5M809.8 760.4h9.5M814.6 754.4v6.0M813.2 753.6h9.5M813.2 759.6h9.5M818.0 753.6v6.0M816.6 752.7h9.5M816.6 758.7h9.5M821.4 752.7v6.0M820.0 751.8h9.5M820.0 757.8h9.5M824.8 751.8v6.0M823.4 750.7h9.5M823.4 756.7h9.5M828.2 750.7v6.0M826.8 749.5h9.5M826.8 755.5h9.5M831.6 749.5v6.0M830.2 748.2h9.5M830.2 754.2h9.5M835.0 748.2v6.0M833.6 746.9h9.5M833.6 752.9h9.5M838.4 746.9v6.0M837.0 745.6h9.5M837.0 751.6h9.5M841.8 745.6v6.0M840.4 744.2h9.5M840.4 750.2h9.5M845.2 744.2v6.0M843.8 742.9h9.5M843.8 748.9h9.5M848.6 742.9v6.0M847.2 741.4h9.5M847.2 747.4h9.5M852.0 741.4v6.0M850.6 739.9h9.5M850.6 745.9h9.5M855.4 739.9v6.0M854.0 738.4h9.5M854.0 744.4h9.5M858.8 738.4v6.0M857.2 736.9h9.5M857.2 742.9h9.5M862.0 736.9v6.0" stroke="#680a0c" stroke-width="2.2" fill="none"/>
<path d="M503.5 732.4C506.1 733.6 513.0 737.0 519.0 739.6C525.0 742.2 532.8 745.6 539.7 747.9C546.6 750.1 553.5 751.9 560.4 753.1C567.3 754.3 574.2 755.3 581.1 755.1C588.0 754.9 594.9 753.7 601.8 752.0C608.7 750.3 615.5 748.2 622.4 744.8C629.3 741.3 636.9 735.9 643.1 731.3C649.3 726.6 655.2 722.4 659.7 716.9C664.2 711.4 667.2 704.8 670.0 698.3C672.8 691.8 674.6 683.6 676.2 677.6C677.8 671.6 678.7 666.4 679.5 662.0C680.3 657.6 680.8 652.8 681.0 651.0L681.0 651.0C681.3 653.3 682.3 660.0 683.0 665.0C683.7 670.0 684.1 675.4 685.4 681.2C686.6 687.0 688.0 693.1 690.5 699.6C693.0 706.1 695.6 713.3 700.7 720.1C705.8 726.9 714.4 735.2 721.2 740.6C728.0 746.0 734.9 749.9 741.7 752.8C748.5 755.7 755.3 756.8 762.1 758.0C768.9 759.2 775.8 759.8 782.6 760.0C789.4 760.2 796.3 759.9 803.1 759.0C809.9 758.1 816.8 756.8 823.6 754.9C830.4 753.0 838.2 749.9 844.0 747.7C849.8 745.5 855.4 742.9 858.4 741.6C861.4 740.3 861.4 740.3 862.0 740.0" stroke="#d8141e" stroke-width="4.0" fill="none" stroke-linejoin="round"/>
<path d="M556.3 731.0V746.0M553.8 731.0h5M553.8 746.0h5" stroke="#08085c" stroke-width="2" fill="none"/><path d="M559.5 735.0V752.0M557.0 735.0h5M557.0 752.0h5" stroke="#08085c" stroke-width="2" fill="none"/><path d="M563.5 733.0V779.0M561.0 733.0h5M561.0 779.0h5" stroke="#08085c" stroke-width="2" fill="none"/><path d="M567.5 737.0V756.0M565.0 737.0h5M565.0 756.0h5" stroke="#08085c" stroke-width="2" fill="none"/><path d="M571.0 735.0V752.0M568.5 735.0h5M568.5 752.0h5" stroke="#08085c" stroke-width="2" fill="none"/><path d="M574.9 731.0V758.0M572.4 731.0h5M572.4 758.0h5" stroke="#08085c" stroke-width="2" fill="none"/><path d="M578.5 736.0V760.0M576.0 736.0h5M576.0 760.0h5" stroke="#08085c" stroke-width="2" fill="none"/><path d="M581.1 735.0V772.7M578.6 735.0h5M578.6 772.7h5" stroke="#08085c" stroke-width="2" fill="none"/><path d="M585.2 732.0V758.0M582.7 732.0h5M582.7 758.0h5" stroke="#08085c" stroke-width="2" fill="none"/><path d="M588.5 730.0V752.0M586.0 730.0h5M586.0 752.0h5" stroke="#08085c" stroke-width="2" fill="none"/><path d="M591.5 733.0V748.0M589.0 733.0h5M589.0 748.0h5" stroke="#08085c" stroke-width="2" fill="none"/><path d="M594.5 729.0V744.0M592.0 729.0h5M592.0 744.0h5" stroke="#08085c" stroke-width="2" fill="none"/><path d="M599.0 731.0V742.0M596.5 731.0h5M596.5 742.0h5" stroke="#08085c" stroke-width="2" fill="none"/><path d="M604.9 725.0V738.0M602.4 725.0h5M602.4 738.0h5" stroke="#08085c" stroke-width="2" fill="none"/><path d="M611.1 722.0V735.0M608.6 722.0h5M608.6 735.0h5" stroke="#08085c" stroke-width="2" fill="none"/><path d="M560.0 740.0L575.0 744.0L590.0 750.0L596.0 744.0L596.0 754.0L580.0 760.0L562.0 752.0Z" fill="#08085c" opacity="1.0"/><path d="M788.7 728.3V751.8M786.0 728.3h5.5M786.0 751.8h5.5" stroke="#08085c" stroke-width="2" fill="none"/><path d="M801.0 711.9V726.2M798.2 711.9h5.5M798.2 726.2h5.5" stroke="#08085c" stroke-width="2" fill="none"/><path d="M813.3 725.2V824.0M810.5 725.2h5.5M810.5 824.0h5.5" stroke="#08085c" stroke-width="2" fill="none"/><path d="M821.5 736.5V761.0M818.8 736.5h5.5M818.8 761.0h5.5" stroke="#08085c" stroke-width="2" fill="none"/><path d="M831.7 726.2V763.0M829.0 726.2h5.5M829.0 763.0h5.5" stroke="#08085c" stroke-width="2" fill="none"/><path d="M842.0 732.4V800.0M839.2 732.4h5.5M839.2 800.0h5.5" stroke="#08085c" stroke-width="2" fill="none"/><path d="M850.2 711.9V724.2M847.5 711.9h5.5M847.5 724.2h5.5" stroke="#08085c" stroke-width="2" fill="none"/><path d="M856.3 699.6V712.0M853.5 699.6h5.5M853.5 712.0h5.5" stroke="#08085c" stroke-width="2" fill="none"/><path d="M794.0 733.0L794.0 742.0" stroke="#08085c" stroke-width="3" fill="none"/><path d="M798.0 722.0L798.0 731.0" stroke="#08085c" stroke-width="3" fill="none"/><path d="M806.0 728.0L806.0 740.0" stroke="#08085c" stroke-width="3" fill="none"/><path d="M810.0 734.0L810.0 744.0" stroke="#08085c" stroke-width="3" fill="none"/><path d="M817.0 742.0L817.0 752.0" stroke="#08085c" stroke-width="3" fill="none"/><path d="M826.0 738.0L826.0 748.0" stroke="#08085c" stroke-width="3" fill="none"/><path d="M836.0 735.0L836.0 745.0" stroke="#08085c" stroke-width="3" fill="none"/><path d="M846.0 720.0L846.0 730.0" stroke="#08085c" stroke-width="3" fill="none"/><path d="M853.0 708.0L853.0 716.0" stroke="#08085c" stroke-width="3" fill="none"/>
<path d="M503.5 679.6C507.8 683.4 521.6 695.5 529.4 702.4C537.1 709.3 545.6 716.7 550.0 721.0C554.4 725.3 555.0 726.8 556.0 728.0M612.0 726.0C614.8 722.6 623.1 712.8 628.6 705.6C634.1 698.4 640.0 690.4 645.2 682.8C650.4 675.2 655.6 666.6 659.7 660.1C663.8 653.6 667.6 647.9 670.0 643.5C672.4 639.1 673.3 635.6 674.0 634.0M688.0 632.0C688.4 634.6 688.4 641.9 690.5 647.5C692.6 653.1 695.6 659.9 700.7 665.9C705.8 671.9 712.7 677.2 721.2 683.2C729.7 689.2 741.7 696.2 751.9 701.7C762.1 707.2 775.9 712.6 782.6 716.0C789.3 719.4 790.4 721.0 792.0 722.0M846.0 718.0C846.4 717.0 846.2 715.4 848.1 711.9C850.0 708.4 855.8 699.5 857.3 697.0" stroke="#08085c" stroke-width="6.5" fill="none" stroke-linejoin="round"/>
<path d="M498.8 676.6h9.5M498.8 682.6h9.5M503.5 676.6v6.0M502.1 679.6h9.5M502.1 685.6h9.5M506.9 679.6v6.0M505.5 682.6h9.5M505.5 688.6h9.5M510.3 682.6v6.0M508.9 685.6h9.5M508.9 691.6h9.5M513.7 685.6v6.0M512.3 688.5h9.5M512.3 694.5h9.5M517.1 688.5v6.0M515.7 691.5h9.5M515.7 697.5h9.5M520.5 691.5v6.0M519.1 694.5h9.5M519.1 700.5h9.5M523.9 694.5v6.0M522.5 697.5h9.5M522.5 703.5h9.5M527.3 697.5v6.0M525.9 700.6h9.5M525.9 706.6h9.5M530.7 700.6v6.0M529.3 703.6h9.5M529.3 709.6h9.5M534.1 703.6v6.0M532.7 706.6h9.5M532.7 712.6h9.5M537.5 706.6v6.0M536.1 709.6h9.5M536.1 715.6h9.5M540.9 709.6v6.0M539.5 712.7h9.5M539.5 718.7h9.5M544.3 712.7v6.0M542.9 715.8h9.5M542.9 721.8h9.5M547.7 715.8v6.0M546.3 719.1h9.5M546.3 725.1h9.5M551.1 719.1v6.0M549.7 722.9h9.5M549.7 728.9h9.5M554.5 722.9v6.0M551.2 725.0h9.5M551.2 731.0h9.5M556.0 725.0v6.0M607.2 723.0h9.5M607.2 729.0h9.5M612.0 723.0v6.0M610.6 718.9h9.5M610.6 724.9h9.5M615.4 718.9v6.0M614.0 714.8h9.5M614.0 720.8h9.5M618.8 714.8v6.0M617.4 710.6h9.5M617.4 716.6h9.5M622.2 710.6v6.0M620.8 706.4h9.5M620.8 712.4h9.5M625.6 706.4v6.0M624.2 702.1h9.5M624.2 708.1h9.5M629.0 702.1v6.0M627.6 697.6h9.5M627.6 703.6h9.5M632.4 697.6v6.0M631.0 693.0h9.5M631.0 699.0h9.5M635.8 693.0v6.0M634.4 688.3h9.5M634.4 694.3h9.5M639.2 688.3v6.0M637.8 683.6h9.5M637.8 689.6h9.5M642.6 683.6v6.0M641.2 678.6h9.5M641.2 684.6h9.5M646.0 678.6v6.0M644.6 673.5h9.5M644.6 679.5h9.5M649.4 673.5v6.0M648.0 668.1h9.5M648.0 674.1h9.5M652.8 668.1v6.0M651.4 662.7h9.5M651.4 668.7h9.5M656.2 662.7v6.0M654.8 657.3h9.5M654.8 663.3h9.5M659.6 657.3v6.0M658.2 651.9h9.5M658.2 657.9h9.5M663.0 651.9v6.0M661.6 646.6h9.5M661.6 652.6h9.5M666.4 646.6v6.0M665.0 640.9h9.5M665.0 646.9h9.5M669.8 640.9v6.0M668.4 633.2h9.5M668.4 639.2h9.5M673.2 633.2v6.0M669.2 631.0h9.5M669.2 637.0h9.5M674.0 631.0v6.0M683.2 629.0h9.5M683.2 635.0h9.5M688.0 629.0v6.0M686.6 646.8h9.5M686.6 652.8h9.5M691.4 646.8v6.0M690.0 654.2h9.5M690.0 660.2h9.5M694.8 654.2v6.0M693.4 659.7h9.5M693.4 665.7h9.5M698.2 659.7v6.0M696.8 663.9h9.5M696.8 669.9h9.5M701.6 663.9v6.0M700.2 667.4h9.5M700.2 673.4h9.5M705.0 667.4v6.0M703.6 670.5h9.5M703.6 676.5h9.5M708.4 670.5v6.0M707.0 673.3h9.5M707.0 679.3h9.5M711.8 673.3v6.0M710.4 675.9h9.5M710.4 681.9h9.5M715.2 675.9v6.0M713.8 678.4h9.5M713.8 684.4h9.5M718.6 678.4v6.0M717.2 680.8h9.5M717.2 686.8h9.5M722.0 680.8v6.0M720.6 683.0h9.5M720.6 689.0h9.5M725.4 683.0v6.0M724.0 685.2h9.5M724.0 691.2h9.5M728.8 685.2v6.0M727.4 687.4h9.5M727.4 693.4h9.5M732.2 687.4v6.0M730.8 689.4h9.5M730.8 695.4h9.5M735.6 689.4v6.0M734.2 691.5h9.5M734.2 697.5h9.5M739.0 691.5v6.0M737.6 693.4h9.5M737.6 699.4h9.5M742.4 693.4v6.0M741.0 695.4h9.5M741.0 701.4h9.5M745.8 695.4v6.0M744.4 697.2h9.5M744.4 703.2h9.5M749.2 697.2v6.0M747.8 699.1h9.5M747.8 705.1h9.5M752.6 699.1v6.0M751.2 700.8h9.5M751.2 706.8h9.5M756.0 700.8v6.0M754.6 702.4h9.5M754.6 708.4h9.5M759.4 702.4v6.0M758.0 704.0h9.5M758.0 710.0h9.5M762.8 704.0v6.0M761.4 705.6h9.5M761.4 711.6h9.5M766.2 705.6v6.0M764.8 707.1h9.5M764.8 713.1h9.5M769.6 707.1v6.0M768.2 708.6h9.5M768.2 714.6h9.5M773.0 708.6v6.0M771.6 710.1h9.5M771.6 716.1h9.5M776.4 710.1v6.0M775.0 711.6h9.5M775.0 717.6h9.5M779.8 711.6v6.0M778.4 713.3h9.5M778.4 719.3h9.5M783.2 713.3v6.0M781.8 715.2h9.5M781.8 721.2h9.5M786.6 715.2v6.0M785.2 717.5h9.5M785.2 723.5h9.5M790.0 717.5v6.0M787.2 719.0h9.5M787.2 725.0h9.5M792.0 719.0v6.0M841.2 715.0h9.5M841.2 721.0h9.5M846.0 715.0v6.0M844.6 706.6h9.5M844.6 712.6h9.5M849.4 706.6v6.0M848.0 701.1h9.5M848.0 707.1h9.5M852.8 701.1v6.0M851.4 695.7h9.5M851.4 701.7h9.5M856.2 695.7v6.0M852.5 694.0h9.5M852.5 700.0h9.5M857.3 694.0v6.0" stroke="#08085c" stroke-width="2.2" fill="none"/>
<path d="M503.5 681.7C506.1 684.1 513.0 690.7 519.0 696.2C525.0 701.7 532.8 708.6 539.7 714.8C546.6 721.0 554.2 727.9 560.4 733.4C566.6 738.9 571.9 744.3 576.9 747.9C581.9 751.5 588.1 753.9 590.4 755.1L590.4 755.1C592.0 753.9 596.1 751.9 599.7 747.9C603.3 743.9 607.3 737.8 612.1 731.3C616.9 724.8 623.1 716.2 628.6 708.6C634.1 701.0 640.0 693.4 645.2 685.8C650.4 678.2 655.6 669.6 659.7 663.1C663.8 656.6 667.2 652.0 670.0 646.5C672.8 641.0 674.6 635.8 676.2 630.0C677.8 624.2 678.7 618.3 679.5 612.0C680.3 605.7 680.8 595.7 681.0 592.4L681.0 592.4C681.2 595.3 682.0 603.7 682.5 610.0C683.0 616.3 683.0 623.2 684.3 630.0C685.6 636.8 687.8 644.0 690.5 650.5C693.2 657.0 695.6 662.8 700.7 668.9C705.8 675.0 714.4 682.2 721.2 687.3C728.0 692.4 734.9 695.8 741.7 699.6C748.5 703.4 755.3 706.5 762.1 709.9C768.9 713.3 776.5 716.4 782.6 720.1C788.8 723.9 794.6 728.3 799.0 732.4C803.4 736.5 806.1 740.6 809.2 744.7C812.3 748.8 815.4 753.3 817.4 756.9C819.4 760.5 820.8 764.7 821.5 766.2L821.5 766.2C822.5 764.0 825.0 758.4 827.7 752.8C830.4 747.2 834.5 738.9 837.9 732.4C841.3 725.9 844.9 719.5 848.1 713.9C851.3 708.3 855.0 702.2 857.3 698.6C859.6 695.0 861.2 693.1 862.0 692.0" stroke="#40dce8" stroke-width="4.0" fill="none" stroke-linejoin="round"/>
<path d="M503.5 620.2C506.1 622.1 513.0 627.9 519.0 631.5C525.0 635.0 532.8 639.3 539.7 641.5C546.6 643.8 553.5 644.7 560.4 645.1C567.3 645.4 574.2 644.6 581.1 643.5C588.0 642.3 594.9 640.4 601.8 638.0C608.7 635.7 615.5 633.0 622.4 629.4C629.3 625.9 636.9 621.7 643.1 616.8C649.3 611.9 655.2 605.9 659.7 600.0C664.2 594.0 668.3 584.4 670.0 581.3M688.4 575.7C689.8 579.1 692.8 589.3 696.6 596.1C700.4 602.9 705.2 610.1 711.0 616.5C716.8 622.9 724.6 630.0 731.4 634.7C738.2 639.3 745.1 642.3 751.9 644.5C758.7 646.8 765.6 647.7 772.4 648.1C779.2 648.5 786.1 648.3 792.9 647.2C799.7 646.2 806.5 644.2 813.3 641.8C820.1 639.3 826.6 636.3 833.8 632.5C841.0 628.8 851.6 622.3 856.3 619.4C861.0 616.6 861.0 616.0 862.0 615.3" stroke="#0c5c1c" stroke-width="8" fill="none" stroke-linejoin="round"/>
<path d="M498.8 617.2h9.5M498.8 623.2h9.5M503.5 617.2v6.0M502.1 619.8h9.5M502.1 625.8h9.5M506.9 619.8v6.0M505.5 622.5h9.5M505.5 628.5h9.5M510.3 622.5v6.0M508.9 625.0h9.5M508.9 631.0h9.5M513.7 625.0v6.0M512.3 627.3h9.5M512.3 633.3h9.5M517.1 627.3v6.0M515.7 629.4h9.5M515.7 635.4h9.5M520.5 629.4v6.0M519.1 631.3h9.5M519.1 637.3h9.5M523.9 631.3v6.0M522.5 633.1h9.5M522.5 639.1h9.5M527.3 633.1v6.0M525.9 634.8h9.5M525.9 640.8h9.5M530.7 634.8v6.0M529.3 636.4h9.5M529.3 642.4h9.5M534.1 636.4v6.0M532.7 637.7h9.5M532.7 643.7h9.5M537.5 637.7v6.0M536.1 638.9h9.5M536.1 644.9h9.5M540.9 638.9v6.0M539.5 639.8h9.5M539.5 645.8h9.5M544.3 639.8v6.0M542.9 640.6h9.5M542.9 646.6h9.5M547.7 640.6v6.0M546.3 641.2h9.5M546.3 647.2h9.5M551.1 641.2v6.0M549.7 641.6h9.5M549.7 647.6h9.5M554.5 641.6v6.0M553.1 641.9h9.5M553.1 647.9h9.5M557.9 641.9v6.0M556.5 642.1h9.5M556.5 648.1h9.5M561.3 642.1v6.0M559.9 642.1h9.5M559.9 648.1h9.5M564.7 642.1v6.0M563.3 642.0h9.5M563.3 648.0h9.5M568.1 642.0v6.0M566.7 641.8h9.5M566.7 647.8h9.5M571.5 641.8v6.0M570.1 641.4h9.5M570.1 647.4h9.5M574.9 641.4v6.0M573.5 640.9h9.5M573.5 646.9h9.5M578.3 640.9v6.0M576.9 640.4h9.5M576.9 646.4h9.5M581.7 640.4v6.0M580.3 639.7h9.5M580.3 645.7h9.5M585.1 639.7v6.0M583.7 638.9h9.5M583.7 644.9h9.5M588.5 638.9v6.0M587.1 638.1h9.5M587.1 644.1h9.5M591.9 638.1v6.0M590.5 637.1h9.5M590.5 643.1h9.5M595.3 637.1v6.0M593.9 636.0h9.5M593.9 642.0h9.5M598.7 636.0v6.0M597.3 634.9h9.5M597.3 640.9h9.5M602.1 634.9v6.0M600.7 633.7h9.5M600.7 639.7h9.5M605.5 633.7v6.0M604.1 632.5h9.5M604.1 638.5h9.5M608.9 632.5v6.0M607.5 631.1h9.5M607.5 637.1h9.5M612.3 631.1v6.0M610.9 629.6h9.5M610.9 635.6h9.5M615.7 629.6v6.0M614.3 628.1h9.5M614.3 634.1h9.5M619.1 628.1v6.0M617.7 626.4h9.5M617.7 632.4h9.5M622.5 626.4v6.0M621.1 624.6h9.5M621.1 630.6h9.5M625.9 624.6v6.0M624.5 622.8h9.5M624.5 628.8h9.5M629.3 622.8v6.0M627.9 620.8h9.5M627.9 626.8h9.5M632.7 620.8v6.0M631.3 618.7h9.5M631.3 624.7h9.5M636.1 618.7v6.0M634.7 616.4h9.5M634.7 622.4h9.5M639.5 616.4v6.0M638.1 613.9h9.5M638.1 619.9h9.5M642.9 613.9v6.0M641.5 611.1h9.5M641.5 617.1h9.5M646.3 611.1v6.0M644.9 608.0h9.5M644.9 614.0h9.5M649.7 608.0v6.0M648.3 604.7h9.5M648.3 610.7h9.5M653.1 604.7v6.0M651.7 600.9h9.5M651.7 606.9h9.5M656.5 600.9v6.0M655.1 596.7h9.5M655.1 602.7h9.5M659.9 596.7v6.0M658.5 591.4h9.5M658.5 597.4h9.5M663.3 591.4v6.0M661.9 585.0h9.5M661.9 591.0h9.5M666.7 585.0v6.0M665.2 578.3h9.5M665.2 584.3h9.5M670.0 578.3v6.0M683.6 572.7h9.5M683.6 578.7h9.5M688.4 572.7v6.0M687.0 582.2h9.5M687.0 588.2h9.5M691.8 582.2v6.0M690.4 590.3h9.5M690.4 596.3h9.5M695.2 590.3v6.0M693.8 596.6h9.5M693.8 602.6h9.5M698.6 596.6v6.0M697.2 601.9h9.5M697.2 607.9h9.5M702.0 601.9v6.0M700.6 606.7h9.5M700.6 612.7h9.5M705.4 606.7v6.0M704.0 611.0h9.5M704.0 617.0h9.5M708.8 611.0v6.0M707.4 614.8h9.5M707.4 620.8h9.5M712.2 614.8v6.0M710.8 618.3h9.5M710.8 624.3h9.5M715.6 618.3v6.0M714.2 621.6h9.5M714.2 627.6h9.5M719.0 621.6v6.0M717.6 624.6h9.5M717.6 630.6h9.5M722.4 624.6v6.0M721.0 627.5h9.5M721.0 633.5h9.5M725.8 627.5v6.0M724.4 630.1h9.5M724.4 636.1h9.5M729.2 630.1v6.0M727.8 632.5h9.5M727.8 638.5h9.5M732.6 632.5v6.0M731.2 634.6h9.5M731.2 640.6h9.5M736.0 634.6v6.0M734.6 636.4h9.5M734.6 642.4h9.5M739.4 636.4v6.0M738.0 638.0h9.5M738.0 644.0h9.5M742.8 638.0v6.0M741.4 639.5h9.5M741.4 645.5h9.5M746.2 639.5v6.0M744.8 640.7h9.5M744.8 646.7h9.5M749.6 640.7v6.0M748.2 641.9h9.5M748.2 647.9h9.5M753.0 641.9v6.0M751.6 642.8h9.5M751.6 648.8h9.5M756.4 642.8v6.0M755.0 643.6h9.5M755.0 649.6h9.5M759.8 643.6v6.0M758.4 644.1h9.5M758.4 650.1h9.5M763.2 644.1v6.0M761.8 644.6h9.5M761.8 650.6h9.5M766.6 644.6v6.0M765.2 644.9h9.5M765.2 650.9h9.5M770.0 644.9v6.0M768.6 645.2h9.5M768.6 651.2h9.5M773.4 645.2v6.0M772.0 645.3h9.5M772.0 651.3h9.5M776.8 645.3v6.0M775.4 645.3h9.5M775.4 651.3h9.5M780.2 645.3v6.0M778.8 645.2h9.5M778.8 651.2h9.5M783.6 645.2v6.0M782.2 644.9h9.5M782.2 650.9h9.5M787.0 644.9v6.0M785.6 644.6h9.5M785.6 650.6h9.5M790.4 644.6v6.0M789.0 644.1h9.5M789.0 650.1h9.5M793.8 644.1v6.0M792.4 643.4h9.5M792.4 649.4h9.5M797.2 643.4v6.0M795.8 642.7h9.5M795.8 648.7h9.5M800.6 642.7v6.0M799.2 641.8h9.5M799.2 647.8h9.5M804.0 641.8v6.0M802.6 640.8h9.5M802.6 646.8h9.5M807.4 640.8v6.0M806.0 639.7h9.5M806.0 645.7h9.5M810.8 639.7v6.0M809.4 638.5h9.5M809.4 644.5h9.5M814.2 638.5v6.0M812.8 637.1h9.5M812.8 643.1h9.5M817.6 637.1v6.0M816.2 635.7h9.5M816.2 641.7h9.5M821.0 635.7v6.0M819.6 634.2h9.5M819.6 640.2h9.5M824.4 634.2v6.0M823.0 632.6h9.5M823.0 638.6h9.5M827.8 632.6v6.0M826.4 630.9h9.5M826.4 636.9h9.5M831.2 630.9v6.0M829.8 629.1h9.5M829.8 635.1h9.5M834.6 629.1v6.0M833.2 627.3h9.5M833.2 633.3h9.5M838.0 627.3v6.0M836.6 625.3h9.5M836.6 631.3h9.5M841.4 625.3v6.0M840.0 623.3h9.5M840.0 629.3h9.5M844.8 623.3v6.0M843.4 621.3h9.5M843.4 627.3h9.5M848.2 621.3v6.0M846.8 619.3h9.5M846.8 625.3h9.5M851.6 619.3v6.0M850.2 617.2h9.5M850.2 623.2h9.5M855.0 617.2v6.0M853.6 615.1h9.5M853.6 621.1h9.5M858.4 615.1v6.0M857.0 612.5h9.5M857.0 618.5h9.5M861.8 612.5v6.0M857.2 612.3h9.5M857.2 618.3h9.5M862.0 612.3v6.0" stroke="#0c5c1c" stroke-width="2.2" fill="none"/>
<path d="M503.5 618.2C506.1 620.1 513.0 626.0 519.0 629.6C525.0 633.2 532.8 637.6 539.7 640.0C546.6 642.4 553.5 643.6 560.4 644.1C567.3 644.6 574.2 644.0 581.1 643.0C588.0 642.0 594.9 640.1 601.8 637.9C608.7 635.7 615.5 633.0 622.4 629.6C629.3 626.2 636.9 622.0 643.1 617.2C649.3 612.4 655.2 606.5 659.7 600.6C664.2 594.7 667.2 589.2 670.0 582.0C672.8 574.8 674.6 564.2 676.2 557.2C677.8 550.2 678.7 544.3 679.5 540.0C680.3 535.7 680.8 532.8 681.0 531.4L681.0 531.4C681.2 532.8 682.0 536.2 682.5 540.0C683.0 543.8 683.3 548.4 684.3 554.2C685.3 560.0 686.3 567.9 688.4 574.7C690.5 581.5 692.8 588.3 696.6 595.1C700.4 601.9 705.2 609.1 711.0 615.6C716.8 622.1 724.6 629.2 731.4 634.0C738.2 638.8 745.1 641.9 751.9 644.3C758.7 646.7 765.6 647.8 772.4 648.4C779.2 649.0 786.1 648.9 792.9 648.0C799.7 647.1 806.5 645.3 813.3 643.0C820.1 640.7 826.6 637.7 833.8 634.0C841.0 630.3 851.6 623.8 856.3 621.0C861.0 618.2 861.0 617.7 862.0 617.0" stroke="#32dc2a" stroke-width="4.0" fill="none" stroke-linejoin="round"/>
<path d="M503.5 558.9C506.1 560.6 513.0 565.9 519.0 569.1C525.0 572.3 532.8 576.2 539.7 578.1C546.6 580.1 553.5 580.4 560.4 580.8C567.3 581.1 574.2 581.2 581.1 580.4C588.0 579.5 594.9 578.0 601.8 575.8C608.7 573.6 615.5 570.7 622.4 567.1C629.3 563.6 636.9 559.1 643.1 554.5C649.3 550.0 655.2 545.4 659.7 539.9C664.2 534.3 668.3 524.2 670.0 521.1M688.4 519.6C689.8 522.7 692.8 532.0 696.6 538.1C700.4 544.2 705.2 550.6 711.0 556.4C716.8 562.1 724.6 568.2 731.4 572.5C738.2 576.9 745.1 580.0 751.9 582.4C758.7 584.8 765.6 586.3 772.4 587.0C779.2 587.7 786.1 587.3 792.9 586.5C799.7 585.6 806.5 584.0 813.3 582.0C820.1 580.0 826.6 577.8 833.8 574.7C841.0 571.5 851.6 565.7 856.3 563.2C861.0 560.7 861.0 560.3 862.0 559.7" stroke="#5a2628" stroke-width="6.5" fill="none" stroke-linejoin="round"/>
<path d="M498.8 555.9h9.5M498.8 561.9h9.5M503.5 555.9v6.0M502.1 558.3h9.5M502.1 564.3h9.5M506.9 558.3v6.0M505.5 560.7h9.5M505.5 566.7h9.5M510.3 560.7v6.0M508.9 563.0h9.5M508.9 569.0h9.5M513.7 563.0v6.0M512.3 565.1h9.5M512.3 571.1h9.5M517.1 565.1v6.0M515.7 566.9h9.5M515.7 572.9h9.5M520.5 566.9v6.0M519.1 568.6h9.5M519.1 574.6h9.5M523.9 568.6v6.0M522.5 570.3h9.5M522.5 576.3h9.5M527.3 570.3v6.0M525.9 571.8h9.5M525.9 577.8h9.5M530.7 571.8v6.0M529.3 573.2h9.5M529.3 579.2h9.5M534.1 573.2v6.0M532.7 574.5h9.5M532.7 580.5h9.5M537.5 574.5v6.0M536.1 575.5h9.5M536.1 581.5h9.5M540.9 575.5v6.0M539.5 576.2h9.5M539.5 582.2h9.5M544.3 576.2v6.0M542.9 576.8h9.5M542.9 582.8h9.5M547.7 576.8v6.0M546.3 577.1h9.5M546.3 583.1h9.5M551.1 577.1v6.0M549.7 577.4h9.5M549.7 583.4h9.5M554.5 577.4v6.0M553.1 577.6h9.5M553.1 583.6h9.5M557.9 577.6v6.0M556.5 577.8h9.5M556.5 583.8h9.5M561.3 577.8v6.0M559.9 578.0h9.5M559.9 584.0h9.5M564.7 578.0v6.0M563.3 578.0h9.5M563.3 584.0h9.5M568.1 578.0v6.0M566.7 578.0h9.5M566.7 584.0h9.5M571.5 578.0v6.0M570.1 577.9h9.5M570.1 583.9h9.5M574.9 577.9v6.0M573.5 577.7h9.5M573.5 583.7h9.5M578.3 577.7v6.0M576.9 577.3h9.5M576.9 583.3h9.5M581.7 577.3v6.0M580.3 576.8h9.5M580.3 582.8h9.5M585.1 576.8v6.0M583.7 576.2h9.5M583.7 582.2h9.5M588.5 576.2v6.0M587.1 575.5h9.5M587.1 581.5h9.5M591.9 575.5v6.0M590.5 574.6h9.5M590.5 580.6h9.5M595.3 574.6v6.0M593.9 573.7h9.5M593.9 579.7h9.5M598.7 573.7v6.0M597.3 572.7h9.5M597.3 578.7h9.5M602.1 572.7v6.0M600.7 571.5h9.5M600.7 577.5h9.5M605.5 571.5v6.0M604.1 570.2h9.5M604.1 576.2h9.5M608.9 570.2v6.0M607.5 568.9h9.5M607.5 574.9h9.5M612.3 568.9v6.0M610.9 567.4h9.5M610.9 573.4h9.5M615.7 567.4v6.0M614.3 565.8h9.5M614.3 571.8h9.5M619.1 565.8v6.0M617.7 564.1h9.5M617.7 570.1h9.5M622.5 564.1v6.0M621.1 562.3h9.5M621.1 568.3h9.5M625.9 562.3v6.0M624.5 560.4h9.5M624.5 566.4h9.5M629.3 560.4v6.0M627.9 558.4h9.5M627.9 564.4h9.5M632.7 558.4v6.0M631.3 556.3h9.5M631.3 562.3h9.5M636.1 556.3v6.0M634.7 554.0h9.5M634.7 560.0h9.5M639.5 554.0v6.0M638.1 551.7h9.5M638.1 557.7h9.5M642.9 551.7v6.0M641.5 549.1h9.5M641.5 555.1h9.5M646.3 549.1v6.0M644.9 546.5h9.5M644.9 552.5h9.5M649.7 546.5v6.0M648.3 543.7h9.5M648.3 549.7h9.5M653.1 543.7v6.0M651.7 540.5h9.5M651.7 546.5h9.5M656.5 540.5v6.0M655.1 536.6h9.5M655.1 542.6h9.5M659.9 536.6v6.0M658.5 531.4h9.5M658.5 537.4h9.5M663.3 531.4v6.0M661.9 524.9h9.5M661.9 530.9h9.5M666.7 524.9v6.0M665.2 518.1h9.5M665.2 524.1h9.5M670.0 518.1v6.0M683.6 516.6h9.5M683.6 522.6h9.5M688.4 516.6v6.0M687.0 525.2h9.5M687.0 531.2h9.5M691.8 525.2v6.0M690.4 532.6h9.5M690.4 538.6h9.5M695.2 532.6v6.0M693.8 538.2h9.5M693.8 544.2h9.5M698.6 538.2v6.0M697.2 543.0h9.5M697.2 549.0h9.5M702.0 543.0v6.0M700.6 547.3h9.5M700.6 553.3h9.5M705.4 547.3v6.0M704.0 551.1h9.5M704.0 557.1h9.5M708.8 551.1v6.0M707.4 554.5h9.5M707.4 560.5h9.5M712.2 554.5v6.0M710.8 557.6h9.5M710.8 563.6h9.5M715.6 557.6v6.0M714.2 560.5h9.5M714.2 566.5h9.5M719.0 560.5v6.0M717.6 563.2h9.5M717.6 569.2h9.5M722.4 563.2v6.0M721.0 565.7h9.5M721.0 571.7h9.5M725.8 565.7v6.0M724.4 568.1h9.5M724.4 574.1h9.5M729.2 568.1v6.0M727.8 570.3h9.5M727.8 576.3h9.5M732.6 570.3v6.0M731.2 572.3h9.5M731.2 578.3h9.5M736.0 572.3v6.0M734.6 574.1h9.5M734.6 580.1h9.5M739.4 574.1v6.0M738.0 575.7h9.5M738.0 581.7h9.5M742.8 575.7v6.0M741.4 577.2h9.5M741.4 583.2h9.5M746.2 577.2v6.0M744.8 578.5h9.5M744.8 584.5h9.5M749.6 578.5v6.0M748.2 579.7h9.5M748.2 585.7h9.5M753.0 579.7v6.0M751.6 580.8h9.5M751.6 586.8h9.5M756.4 580.8v6.0M755.0 581.8h9.5M755.0 587.8h9.5M759.8 581.8v6.0M758.4 582.5h9.5M758.4 588.5h9.5M763.2 582.5v6.0M761.8 583.2h9.5M761.8 589.2h9.5M766.6 583.2v6.0M765.2 583.7h9.5M765.2 589.7h9.5M770.0 583.7v6.0M768.6 584.1h9.5M768.6 590.1h9.5M773.4 584.1v6.0M772.0 584.3h9.5M772.0 590.3h9.5M776.8 584.3v6.0M775.4 584.3h9.5M775.4 590.3h9.5M780.2 584.3v6.0M778.8 584.3h9.5M778.8 590.3h9.5M783.6 584.3v6.0M782.2 584.1h9.5M782.2 590.1h9.5M787.0 584.1v6.0M785.6 583.8h9.5M785.6 589.8h9.5M790.4 583.8v6.0M789.0 583.4h9.5M789.0 589.4h9.5M793.8 583.4v6.0M792.4 582.8h9.5M792.4 588.8h9.5M797.2 582.8v6.0M795.8 582.2h9.5M795.8 588.2h9.5M800.6 582.2v6.0M799.2 581.5h9.5M799.2 587.5h9.5M804.0 581.5v6.0M802.6 580.6h9.5M802.6 586.6h9.5M807.4 580.6v6.0M806.0 579.7h9.5M806.0 585.7h9.5M810.8 579.7v6.0M809.4 578.8h9.5M809.4 584.8h9.5M814.2 578.8v6.0M812.8 577.7h9.5M812.8 583.7h9.5M817.6 577.7v6.0M816.2 576.6h9.5M816.2 582.6h9.5M821.0 576.6v6.0M819.6 575.4h9.5M819.6 581.4h9.5M824.4 575.4v6.0M823.0 574.1h9.5M823.0 580.1h9.5M827.8 574.1v6.0M826.4 572.8h9.5M826.4 578.8h9.5M831.2 572.8v6.0M829.8 571.3h9.5M829.8 577.3h9.5M834.6 571.3v6.0M833.2 569.7h9.5M833.2 575.7h9.5M838.0 569.7v6.0M836.6 568.0h9.5M836.6 574.0h9.5M841.4 568.0v6.0M840.0 566.3h9.5M840.0 572.3h9.5M844.8 566.3v6.0M843.4 564.5h9.5M843.4 570.5h9.5M848.2 564.5v6.0M846.8 562.7h9.5M846.8 568.7h9.5M851.6 562.7v6.0M850.2 560.9h9.5M850.2 566.9h9.5M855.0 560.9v6.0M853.6 559.1h9.5M853.6 565.1h9.5M858.4 559.1v6.0M857.0 556.9h9.5M857.0 562.9h9.5M861.8 556.9v6.0M857.2 556.7h9.5M857.2 562.7h9.5M862.0 556.7v6.0" stroke="#5a2628" stroke-width="2.2" fill="none"/>
<path d="M503.5 557.2C506.1 558.9 513.0 564.2 519.0 567.5C525.0 570.8 532.8 574.8 539.7 576.9C546.6 579.0 553.5 579.5 560.4 580.0C567.3 580.5 574.2 580.7 581.1 580.0C588.0 579.3 594.9 577.9 601.8 575.8C608.7 573.7 615.5 571.0 622.4 567.5C629.3 564.0 636.9 559.6 643.1 555.1C649.3 550.6 655.2 546.2 659.7 540.7C664.2 535.2 667.2 529.2 670.0 522.0C672.8 514.8 674.6 503.9 676.2 497.2C677.8 490.5 678.7 485.8 679.5 482.0C680.3 478.2 680.8 475.8 681.0 474.5L681.0 474.5C681.2 475.8 682.0 478.3 682.5 482.0C683.0 485.7 683.3 491.0 684.3 496.9C685.3 502.8 686.3 510.8 688.4 517.3C690.5 523.8 692.8 529.6 696.6 535.8C700.4 541.9 705.2 548.4 711.0 554.2C716.8 560.0 724.6 566.2 731.4 570.6C738.2 575.0 745.1 578.2 751.9 580.8C758.7 583.3 765.6 585.0 772.4 585.9C779.2 586.8 786.1 586.6 792.9 585.9C799.7 585.2 806.5 583.7 813.3 581.8C820.1 579.9 826.6 577.8 833.8 574.7C841.0 571.6 851.6 565.9 856.3 563.4C861.0 560.9 861.0 560.6 862.0 560.0" stroke="#d41ec8" stroke-width="4.0" fill="none" stroke-linejoin="round"/>
</g>
<path d="M540.0 461.8v4.5M540.0 825.0v-4.5M610.2 461.8v4.5M610.2 825.0v-4.5M680.4 461.8v4.5M680.4 825.0v-4.5M750.5 461.8v4.5M750.5 825.0v-4.5M820.6 461.8v4.5M820.6 825.0v-4.5M491.5 806.5h4.2M863.4 806.5h-4.2M491.5 745.5h4.2M863.4 745.5h-4.2M491.5 684.5h4.2M863.4 684.5h-4.2M491.5 623.5h4.2M863.4 623.5h-4.2M491.5 562.5h4.2M863.4 562.5h-4.2M491.5 501.5h4.2M863.4 501.5h-4.2" stroke="#000" stroke-width="2" fill="none"/>
<path d="M491.5 788.1h2.2M863.4 788.1h-2.2M491.5 777.4h2.2M863.4 777.4h-2.2M491.5 769.8h2.2M863.4 769.8h-2.2M491.5 763.9h2.2M863.4 763.9h-2.2M491.5 759.0h2.2M863.4 759.0h-2.2M491.5 754.9h2.2M863.4 754.9h-2.2M491.5 751.4h2.2M863.4 751.4h-2.2M491.5 748.3h2.2M863.4 748.3h-2.2M491.5 727.1h2.2M863.4 727.1h-2.2M491.5 716.4h2.2M863.4 716.4h-2.2M491.5 708.8h2.2M863.4 708.8h-2.2M491.5 702.9h2.2M863.4 702.9h-2.2M491.5 698.0h2.2M863.4 698.0h-2.2M491.5 693.9h2.2M863.4 693.9h-2.2M491.5 690.4h2.2M863.4 690.4h-2.2M491.5 687.3h2.2M863.4 687.3h-2.2M491.5 666.1h2.2M863.4 666.1h-2.2M491.5 655.4h2.2M863.4 655.4h-2.2M491.5 647.8h2.2M863.4 647.8h-2.2M491.5 641.9h2.2M863.4 641.9h-2.2M491.5 637.0h2.2M863.4 637.0h-2.2M491.5 632.9h2.2M863.4 632.9h-2.2M491.5 629.4h2.2M863.4 629.4h-2.2M491.5 626.3h2.2M863.4 626.3h-2.2M491.5 605.1h2.2M863.4 605.1h-2.2M491.5 594.4h2.2M863.4 594.4h-2.2M491.5 586.8h2.2M863.4 586.8h-2.2M491.5 580.9h2.2M863.4 580.9h-2.2M491.5 576.0h2.2M863.4 576.0h-2.2M491.5 571.9h2.2M863.4 571.9h-2.2M491.5 568.4h2.2M863.4 568.4h-2.2M491.5 565.3h2.2M863.4 565.3h-2.2M491.5 544.1h2.2M863.4 544.1h-2.2M491.5 533.4h2.2M863.4 533.4h-2.2M491.5 525.8h2.2M863.4 525.8h-2.2M491.5 519.9h2.2M863.4 519.9h-2.2M491.5 515.0h2.2M863.4 515.0h-2.2M491.5 510.9h2.2M863.4 510.9h-2.2M491.5 507.4h2.2M863.4 507.4h-2.2M491.5 504.3h2.2M863.4 504.3h-2.2M491.5 483.1h2.2M863.4 483.1h-2.2M491.5 472.4h2.2M863.4 472.4h-2.2M491.5 464.8h2.2M863.4 464.8h-2.2M505.0 461.8v2.2M505.0 825.0v-2.2M575.1 461.8v2.2M575.1 825.0v-2.2M645.3 461.8v2.2M645.3 825.0v-2.2M715.4 461.8v2.2M715.4 825.0v-2.2M785.6 461.8v2.2M785.6 825.0v-2.2M855.7 461.8v2.2M855.7 825.0v-2.2" stroke="#000" stroke-width="1.3" fill="none"/>
<rect x="491.5" y="461.8" width="371.9" height="363.2" fill="none" stroke="#000" stroke-width="2.8"/>
<clipPath id="cp20"><rect x="109.3" y="840.4" width="371.7" height="362.9"/></clipPath>
<g clip-path="url(#cp20)">
<path d="M122.7 953.0C123.0 953.0 124.2 953.0 124.9 953.0C125.6 953.0 126.4 953.0 127.1 953.0C127.8 953.0 128.6 953.0 129.3 953.0C130.1 952.9 130.8 952.9 131.5 952.9C132.3 952.8 133.0 952.8 133.7 952.7C134.5 952.7 135.2 952.7 136.0 952.6C136.7 952.6 137.4 952.5 138.2 952.4C138.9 952.4 139.6 952.3 140.4 952.2C141.1 952.1 141.9 952.1 142.6 952.0C143.3 951.9 144.1 951.8 144.8 951.7C145.6 951.6 146.3 951.5 147.0 951.4C147.8 951.3 148.5 951.2 149.2 951.1C150.0 951.0 150.7 950.8 151.5 950.7C152.2 950.6 152.9 950.4 153.7 950.3C154.4 950.2 155.1 950.0 155.9 949.9C156.6 949.7 157.4 949.6 158.1 949.4C158.8 949.2 159.6 949.1 160.3 948.9C161.1 948.7 161.8 948.5 162.5 948.3C163.3 948.1 164.0 947.9 164.7 947.7C165.5 947.5 166.2 947.3 167.0 947.1C167.7 946.9 168.4 946.6 169.2 946.4C169.9 946.2 170.6 945.9 171.4 945.7C172.1 945.4 172.9 945.1 173.6 944.9C174.3 944.6 175.1 944.3 175.8 944.0C176.6 943.7 177.3 943.4 178.0 943.1C178.8 942.8 179.5 942.5 180.2 942.1C181.0 941.8 181.7 941.5 182.5 941.1C183.2 940.8 183.9 940.4 184.7 940.0C185.4 939.6 186.1 939.2 186.9 938.8C187.6 938.4 188.4 938.0 189.1 937.5C189.8 937.1 190.6 936.6 191.3 936.2C192.1 935.7 192.8 935.2 193.5 934.7C194.3 934.2 195.0 933.6 195.7 933.1C196.5 932.5 197.2 931.9 198.0 931.3C198.7 930.7 199.4 930.1 200.2 929.4C200.9 928.8 201.6 928.1 202.4 927.4C203.1 926.7 203.9 925.9 204.6 925.1C205.3 924.3 206.1 923.5 206.8 922.6C207.5 921.7 208.3 920.7 209.0 919.7C209.8 918.7 210.5 917.7 211.2 916.5C212.0 915.4 212.7 914.2 213.5 912.8C214.2 911.5 214.9 910.1 215.7 908.5C216.4 906.9 217.1 905.2 217.9 903.3C218.6 901.3 219.4 899.3 220.1 896.7C220.8 894.1 221.6 891.6 222.3 887.9C223.0 884.2 223.8 881.5 224.5 874.6C225.3 867.7 226.0 851.4 226.7 846.3C227.5 841.3 228.2 839.9 229.0 844.5C229.7 849.1 230.4 866.6 231.2 873.8C231.9 880.9 232.6 883.7 233.4 887.5C234.1 891.2 234.9 893.8 235.6 896.4C236.3 899.0 237.1 901.1 237.8 903.1C238.5 905.1 239.3 906.8 240.0 908.4C240.8 910.0 241.5 911.5 242.2 912.8C243.0 914.2 243.7 915.4 244.5 916.6C245.2 917.7 245.9 918.8 246.7 919.8C247.4 920.9 248.1 921.8 248.9 922.7C249.6 923.6 250.4 924.5 251.1 925.3C251.8 926.1 252.6 926.9 253.3 927.6C254.0 928.4 254.8 929.1 255.5 929.7C256.3 930.4 257.0 931.0 257.7 931.7C258.5 932.3 259.2 932.9 259.9 933.4C260.7 934.0 261.4 934.6 262.2 935.1C262.9 935.6 263.6 936.1 264.4 936.6C265.1 937.1 265.9 937.6 266.6 938.0C267.3 938.5 268.1 938.9 268.8 939.3C269.5 939.7 270.3 940.1 271.0 940.5C271.8 940.9 272.5 941.3 273.2 941.7C274.0 942.1 274.7 942.4 275.4 942.8C276.2 943.1 276.9 943.4 277.7 943.8C278.4 944.1 279.1 944.4 279.9 944.7C280.6 945.0 281.4 945.3 282.1 945.6C282.8 945.9 283.6 946.1 284.3 946.4C285.0 946.7 285.8 946.9 286.5 947.2C287.3 947.4 288.0 947.7 288.7 947.9C289.5 948.1 290.2 948.3 290.9 948.6C291.7 948.8 292.4 949.0 293.2 949.2C293.9 949.4 294.6 949.6 295.4 949.8C296.1 950.0 296.9 950.2 297.6 950.3C298.3 950.5 299.1 950.7 299.8 950.8C300.5 951.0 301.3 951.2 302.0 951.3C302.8 951.5 303.5 951.6 304.2 951.8C305.0 951.9 305.7 952.0 306.4 952.2C307.2 952.3 307.9 952.4 308.7 952.5C309.4 952.6 310.1 952.8 310.9 952.9C311.6 953.0 312.4 953.1 313.1 953.2C313.8 953.3 314.6 953.3 315.3 953.4C316.0 953.5 316.8 953.6 317.5 953.7C318.3 953.7 319.0 953.8 319.7 953.9C320.5 953.9 321.2 954.0 321.9 954.1C322.7 954.1 323.4 954.2 324.2 954.2C324.9 954.2 325.6 954.3 326.4 954.3C327.1 954.4 327.8 954.4 328.6 954.4C329.3 954.4 330.1 954.5 330.8 954.5C331.5 954.5 332.3 954.5 333.0 954.5C333.8 954.5 334.5 954.5 335.2 954.5C336.0 954.5 336.7 954.5 337.4 954.5C338.2 954.5 338.9 954.4 339.7 954.4C340.4 954.4 341.1 954.4 341.9 954.3C342.6 954.3 343.3 954.3 344.1 954.2C344.8 954.2 345.6 954.1 346.3 954.1C347.0 954.0 347.8 954.0 348.5 953.9C349.3 953.8 350.0 953.8 350.7 953.7C351.5 953.6 352.2 953.5 352.9 953.5C353.7 953.4 354.4 953.3 355.2 953.2C355.9 953.1 356.6 953.0 357.4 952.9C358.1 952.8 358.8 952.7 359.6 952.6C360.3 952.4 361.1 952.3 361.8 952.2C362.5 952.1 363.3 951.9 364.0 951.8C364.8 951.7 365.5 951.5 366.2 951.4C367.0 951.2 367.7 951.0 368.4 950.9C369.2 950.7 369.9 950.5 370.7 950.4C371.4 950.2 372.1 950.0 372.9 949.8C373.6 949.6 374.3 949.4 375.1 949.2C375.8 949.0 376.6 948.8 377.3 948.6C378.0 948.4 378.8 948.1 379.5 947.9C380.2 947.7 381.0 947.4 381.7 947.2C382.5 946.9 383.2 946.6 383.9 946.4C384.7 946.1 385.4 945.8 386.2 945.5C386.9 945.2 387.6 944.9 388.4 944.6C389.1 944.3 389.8 944.0 390.6 943.7C391.3 943.3 392.1 943.0 392.8 942.6C393.5 942.3 394.3 941.9 395.0 941.5C395.7 941.1 396.5 940.7 397.2 940.3C398.0 939.9 398.7 939.5 399.4 939.1C400.2 938.6 400.9 938.2 401.7 937.7C402.4 937.2 403.1 936.7 403.9 936.2C404.6 935.7 405.3 935.2 406.1 934.6C406.8 934.1 407.6 933.5 408.3 932.9C409.0 932.3 409.8 931.7 410.5 931.0C411.2 930.4 412.0 929.7 412.7 928.9C413.5 928.2 414.2 927.5 414.9 926.7C415.7 925.9 416.4 925.0 417.2 924.2C417.9 923.3 418.6 922.3 419.4 921.3C420.1 920.3 420.8 919.3 421.6 918.1C422.3 917.0 423.1 915.8 423.8 914.5C424.5 913.2 425.3 911.8 426.0 910.2C426.7 908.6 427.5 907.0 428.2 905.0C429.0 903.1 429.7 901.1 430.4 898.5C431.2 896.0 431.9 893.5 432.7 889.9C433.4 886.3 434.1 883.5 434.9 876.9C435.6 870.3 436.3 855.6 437.1 850.2C437.8 844.8 438.6 840.5 439.3 844.5C440.0 848.5 440.8 867.0 441.5 874.3C442.2 881.6 443.0 884.5 443.7 888.4C444.5 892.3 445.2 894.9 445.9 897.5C446.7 900.2 447.4 902.3 448.1 904.3C448.9 906.3 449.6 908.0 450.4 909.6C451.1 911.3 451.8 912.7 452.6 914.1C453.3 915.5 454.1 916.7 454.8 917.9C455.5 919.0 456.3 920.1 457.0 921.2C457.7 922.2 458.5 923.1 459.2 924.1C460.0 925.0 460.7 925.8 461.4 926.6C462.2 927.5 462.9 928.2 463.6 929.0C464.4 929.7 465.1 930.4 465.9 931.1C466.6 931.8 467.3 932.4 468.1 933.0C468.8 933.7 469.6 934.3 470.3 934.8C471.0 935.4 471.8 935.9 472.5 936.5C473.2 937.0 474.0 937.5 474.7 938.0C475.5 938.5 476.6 939.2 476.9 939.4" stroke="#c8c8c8" stroke-width="5" fill="none" stroke-linejoin="round" stroke-linecap="round"/>
<path d="M122.7 1014.0C123.0 1014.0 124.2 1014.0 124.9 1014.0C125.6 1014.0 126.4 1014.0 127.1 1014.0C127.8 1014.0 128.6 1014.0 129.3 1014.0C130.1 1013.9 130.8 1013.9 131.5 1013.9C132.3 1013.8 133.0 1013.8 133.7 1013.7C134.5 1013.7 135.2 1013.7 136.0 1013.6C136.7 1013.6 137.4 1013.5 138.2 1013.4C138.9 1013.4 139.6 1013.3 140.4 1013.2C141.1 1013.1 141.9 1013.1 142.6 1013.0C143.3 1012.9 144.1 1012.8 144.8 1012.7C145.6 1012.6 146.3 1012.5 147.0 1012.4C147.8 1012.3 148.5 1012.2 149.2 1012.1C150.0 1012.0 150.7 1011.8 151.5 1011.7C152.2 1011.6 152.9 1011.4 153.7 1011.3C154.4 1011.2 155.1 1011.0 155.9 1010.9C156.6 1010.7 157.4 1010.6 158.1 1010.4C158.8 1010.2 159.6 1010.1 160.3 1009.9C161.1 1009.7 161.8 1009.5 162.5 1009.3C163.3 1009.1 164.0 1008.9 164.7 1008.7C165.5 1008.5 166.2 1008.3 167.0 1008.1C167.7 1007.9 168.4 1007.6 169.2 1007.4C169.9 1007.2 170.6 1006.9 171.4 1006.7C172.1 1006.4 172.9 1006.1 173.6 1005.9C174.3 1005.6 175.1 1005.3 175.8 1005.0C176.6 1004.7 177.3 1004.4 178.0 1004.1C178.8 1003.8 179.5 1003.5 180.2 1003.1C181.0 1002.8 181.7 1002.5 182.5 1002.1C183.2 1001.8 183.9 1001.4 184.7 1001.0C185.4 1000.6 186.1 1000.2 186.9 999.8C187.6 999.4 188.4 999.0 189.1 998.5C189.8 998.1 190.6 997.6 191.3 997.2C192.1 996.7 192.8 996.2 193.5 995.7C194.3 995.2 195.0 994.6 195.7 994.1C196.5 993.5 197.2 992.9 198.0 992.3C198.7 991.7 199.4 991.1 200.2 990.4C200.9 989.8 201.6 989.1 202.4 988.4C203.1 987.7 203.9 986.9 204.6 986.1C205.3 985.3 206.1 984.5 206.8 983.6C207.5 982.7 208.3 981.7 209.0 980.7C209.8 979.7 210.5 978.7 211.2 977.5C212.0 976.4 212.7 975.2 213.5 973.8C214.2 972.5 214.9 971.1 215.7 969.5C216.4 967.9 217.1 966.2 217.9 964.3C218.6 962.3 219.4 960.3 220.1 957.7C220.8 955.1 221.6 952.6 222.3 948.9C223.0 945.2 223.8 942.5 224.5 935.6C225.3 928.7 226.0 912.4 226.7 907.3C227.5 902.3 228.2 900.9 229.0 905.5C229.7 910.1 230.4 927.6 231.2 934.8C231.9 941.9 232.6 944.7 233.4 948.5C234.1 952.2 234.9 954.8 235.6 957.4C236.3 960.0 237.1 962.1 237.8 964.1C238.5 966.1 239.3 967.8 240.0 969.4C240.8 971.0 241.5 972.5 242.2 973.8C243.0 975.2 243.7 976.4 244.5 977.6C245.2 978.7 245.9 979.8 246.7 980.8C247.4 981.9 248.1 982.8 248.9 983.7C249.6 984.6 250.4 985.5 251.1 986.3C251.8 987.1 252.6 987.9 253.3 988.6C254.0 989.4 254.8 990.1 255.5 990.7C256.3 991.4 257.0 992.0 257.7 992.7C258.5 993.3 259.2 993.9 259.9 994.4C260.7 995.0 261.4 995.6 262.2 996.1C262.9 996.6 263.6 997.1 264.4 997.6C265.1 998.1 265.9 998.6 266.6 999.0C267.3 999.5 268.1 999.9 268.8 1000.3C269.5 1000.7 270.3 1001.1 271.0 1001.5C271.8 1001.9 272.5 1002.3 273.2 1002.7C274.0 1003.1 274.7 1003.4 275.4 1003.8C276.2 1004.1 276.9 1004.4 277.7 1004.8C278.4 1005.1 279.1 1005.4 279.9 1005.7C280.6 1006.0 281.4 1006.3 282.1 1006.6C282.8 1006.9 283.6 1007.1 284.3 1007.4C285.0 1007.7 285.8 1007.9 286.5 1008.2C287.3 1008.4 288.0 1008.7 288.7 1008.9C289.5 1009.1 290.2 1009.3 290.9 1009.6C291.7 1009.8 292.4 1010.0 293.2 1010.2C293.9 1010.4 294.6 1010.6 295.4 1010.8C296.1 1011.0 296.9 1011.2 297.6 1011.3C298.3 1011.5 299.1 1011.7 299.8 1011.8C300.5 1012.0 301.3 1012.2 302.0 1012.3C302.8 1012.5 303.5 1012.6 304.2 1012.8C305.0 1012.9 305.7 1013.0 306.4 1013.2C307.2 1013.3 307.9 1013.4 308.7 1013.5C309.4 1013.6 310.1 1013.8 310.9 1013.9C311.6 1014.0 312.4 1014.1 313.1 1014.2C313.8 1014.3 314.6 1014.3 315.3 1014.4C316.0 1014.5 316.8 1014.6 317.5 1014.7C318.3 1014.7 319.0 1014.8 319.7 1014.9C320.5 1014.9 321.2 1015.0 321.9 1015.1C322.7 1015.1 323.4 1015.2 324.2 1015.2C324.9 1015.2 325.6 1015.3 326.4 1015.3C327.1 1015.4 327.8 1015.4 328.6 1015.4C329.3 1015.4 330.1 1015.5 330.8 1015.5C331.5 1015.5 332.3 1015.5 333.0 1015.5C333.8 1015.5 334.5 1015.5 335.2 1015.5C336.0 1015.5 336.7 1015.5 337.4 1015.5C338.2 1015.5 338.9 1015.4 339.7 1015.4C340.4 1015.4 341.1 1015.4 341.9 1015.3C342.6 1015.3 343.3 1015.3 344.1 1015.2C344.8 1015.2 345.6 1015.1 346.3 1015.1C347.0 1015.0 347.8 1015.0 348.5 1014.9C349.3 1014.8 350.0 1014.8 350.7 1014.7C351.5 1014.6 352.2 1014.5 352.9 1014.5C353.7 1014.4 354.4 1014.3 355.2 1014.2C355.9 1014.1 356.6 1014.0 357.4 1013.9C358.1 1013.8 358.8 1013.7 359.6 1013.6C360.3 1013.4 361.1 1013.3 361.8 1013.2C362.5 1013.1 363.3 1012.9 364.0 1012.8C364.8 1012.7 365.5 1012.5 366.2 1012.4C367.0 1012.2 367.7 1012.0 368.4 1011.9C369.2 1011.7 369.9 1011.5 370.7 1011.4C371.4 1011.2 372.1 1011.0 372.9 1010.8C373.6 1010.6 374.3 1010.4 375.1 1010.2C375.8 1010.0 376.6 1009.8 377.3 1009.6C378.0 1009.4 378.8 1009.1 379.5 1008.9C380.2 1008.7 381.0 1008.4 381.7 1008.2C382.5 1007.9 383.2 1007.6 383.9 1007.4C384.7 1007.1 385.4 1006.8 386.2 1006.5C386.9 1006.2 387.6 1005.9 388.4 1005.6C389.1 1005.3 389.8 1005.0 390.6 1004.7C391.3 1004.3 392.1 1004.0 392.8 1003.6C393.5 1003.3 394.3 1002.9 395.0 1002.5C395.7 1002.1 396.5 1001.7 397.2 1001.3C398.0 1000.9 398.7 1000.5 399.4 1000.1C400.2 999.6 400.9 999.2 401.7 998.7C402.4 998.2 403.1 997.7 403.9 997.2C404.6 996.7 405.3 996.2 406.1 995.6C406.8 995.1 407.6 994.5 408.3 993.9C409.0 993.3 409.8 992.7 410.5 992.0C411.2 991.4 412.0 990.7 412.7 989.9C413.5 989.2 414.2 988.5 414.9 987.7C415.7 986.9 416.4 986.0 417.2 985.2C417.9 984.3 418.6 983.3 419.4 982.3C420.1 981.3 420.8 980.3 421.6 979.1C422.3 978.0 423.1 976.8 423.8 975.5C424.5 974.2 425.3 972.8 426.0 971.2C426.7 969.6 427.5 968.0 428.2 966.0C429.0 964.1 429.7 962.1 430.4 959.5C431.2 957.0 431.9 954.5 432.7 950.9C433.4 947.3 434.1 944.5 434.9 937.9C435.6 931.3 436.3 916.6 437.1 911.2C437.8 905.8 438.6 901.5 439.3 905.5C440.0 909.5 440.8 928.0 441.5 935.3C442.2 942.6 443.0 945.5 443.7 949.4C444.5 953.3 445.2 955.9 445.9 958.5C446.7 961.2 447.4 963.3 448.1 965.3C448.9 967.3 449.6 969.0 450.4 970.6C451.1 972.3 451.8 973.7 452.6 975.1C453.3 976.5 454.1 977.7 454.8 978.9C455.5 980.0 456.3 981.1 457.0 982.2C457.7 983.2 458.5 984.1 459.2 985.1C460.0 986.0 460.7 986.8 461.4 987.6C462.2 988.5 462.9 989.2 463.6 990.0C464.4 990.7 465.1 991.4 465.9 992.1C466.6 992.8 467.3 993.4 468.1 994.0C468.8 994.7 469.6 995.3 470.3 995.8C471.0 996.4 471.8 996.9 472.5 997.5C473.2 998.0 474.0 998.5 474.7 999.0C475.5 999.5 476.6 1000.2 476.9 1000.4" stroke="#c8c8c8" stroke-width="5" fill="none" stroke-linejoin="round" stroke-linecap="round"/>
<path d="M122.7 1075.0C123.0 1075.0 124.2 1075.0 124.9 1075.0C125.6 1075.0 126.4 1075.0 127.1 1075.0C127.8 1075.0 128.6 1075.0 129.3 1075.0C130.1 1074.9 130.8 1074.9 131.5 1074.9C132.3 1074.8 133.0 1074.8 133.7 1074.7C134.5 1074.7 135.2 1074.7 136.0 1074.6C136.7 1074.6 137.4 1074.5 138.2 1074.4C138.9 1074.4 139.6 1074.3 140.4 1074.2C141.1 1074.1 141.9 1074.1 142.6 1074.0C143.3 1073.9 144.1 1073.8 144.8 1073.7C145.6 1073.6 146.3 1073.5 147.0 1073.4C147.8 1073.3 148.5 1073.2 149.2 1073.1C150.0 1073.0 150.7 1072.8 151.5 1072.7C152.2 1072.6 152.9 1072.4 153.7 1072.3C154.4 1072.2 155.1 1072.0 155.9 1071.9C156.6 1071.7 157.4 1071.6 158.1 1071.4C158.8 1071.2 159.6 1071.1 160.3 1070.9C161.1 1070.7 161.8 1070.5 162.5 1070.3C163.3 1070.1 164.0 1069.9 164.7 1069.7C165.5 1069.5 166.2 1069.3 167.0 1069.1C167.7 1068.9 168.4 1068.6 169.2 1068.4C169.9 1068.2 170.6 1067.9 171.4 1067.7C172.1 1067.4 172.9 1067.1 173.6 1066.9C174.3 1066.6 175.1 1066.3 175.8 1066.0C176.6 1065.7 177.3 1065.4 178.0 1065.1C178.8 1064.8 179.5 1064.5 180.2 1064.1C181.0 1063.8 181.7 1063.5 182.5 1063.1C183.2 1062.8 183.9 1062.4 184.7 1062.0C185.4 1061.6 186.1 1061.2 186.9 1060.8C187.6 1060.4 188.4 1060.0 189.1 1059.5C189.8 1059.1 190.6 1058.6 191.3 1058.2C192.1 1057.7 192.8 1057.2 193.5 1056.7C194.3 1056.2 195.0 1055.6 195.7 1055.1C196.5 1054.5 197.2 1053.9 198.0 1053.3C198.7 1052.7 199.4 1052.1 200.2 1051.4C200.9 1050.8 201.6 1050.1 202.4 1049.4C203.1 1048.7 203.9 1047.9 204.6 1047.1C205.3 1046.3 206.1 1045.5 206.8 1044.6C207.5 1043.7 208.3 1042.7 209.0 1041.7C209.8 1040.7 210.5 1039.7 211.2 1038.5C212.0 1037.4 212.7 1036.2 213.5 1034.8C214.2 1033.5 214.9 1032.1 215.7 1030.5C216.4 1028.9 217.1 1027.2 217.9 1025.3C218.6 1023.3 219.4 1021.3 220.1 1018.7C220.8 1016.1 221.6 1013.6 222.3 1009.9C223.0 1006.2 223.8 1003.5 224.5 996.6C225.3 989.7 226.0 973.4 226.7 968.3C227.5 963.3 228.2 961.9 229.0 966.5C229.7 971.1 230.4 988.6 231.2 995.8C231.9 1002.9 232.6 1005.7 233.4 1009.5C234.1 1013.2 234.9 1015.8 235.6 1018.4C236.3 1021.0 237.1 1023.1 237.8 1025.1C238.5 1027.1 239.3 1028.8 240.0 1030.4C240.8 1032.0 241.5 1033.5 242.2 1034.8C243.0 1036.2 243.7 1037.4 244.5 1038.6C245.2 1039.7 245.9 1040.8 246.7 1041.8C247.4 1042.9 248.1 1043.8 248.9 1044.7C249.6 1045.6 250.4 1046.5 251.1 1047.3C251.8 1048.1 252.6 1048.9 253.3 1049.6C254.0 1050.4 254.8 1051.1 255.5 1051.7C256.3 1052.4 257.0 1053.0 257.7 1053.7C258.5 1054.3 259.2 1054.9 259.9 1055.4C260.7 1056.0 261.4 1056.6 262.2 1057.1C262.9 1057.6 263.6 1058.1 264.4 1058.6C265.1 1059.1 265.9 1059.6 266.6 1060.0C267.3 1060.5 268.1 1060.9 268.8 1061.3C269.5 1061.7 270.3 1062.1 271.0 1062.5C271.8 1062.9 272.5 1063.3 273.2 1063.7C274.0 1064.1 274.7 1064.4 275.4 1064.8C276.2 1065.1 276.9 1065.4 277.7 1065.8C278.4 1066.1 279.1 1066.4 279.9 1066.7C280.6 1067.0 281.4 1067.3 282.1 1067.6C282.8 1067.9 283.6 1068.1 284.3 1068.4C285.0 1068.7 285.8 1068.9 286.5 1069.2C287.3 1069.4 288.0 1069.7 288.7 1069.9C289.5 1070.1 290.2 1070.3 290.9 1070.6C291.7 1070.8 292.4 1071.0 293.2 1071.2C293.9 1071.4 294.6 1071.6 295.4 1071.8C296.1 1072.0 296.9 1072.2 297.6 1072.3C298.3 1072.5 299.1 1072.7 299.8 1072.8C300.5 1073.0 301.3 1073.2 302.0 1073.3C302.8 1073.5 303.5 1073.6 304.2 1073.8C305.0 1073.9 305.7 1074.0 306.4 1074.2C307.2 1074.3 307.9 1074.4 308.7 1074.5C309.4 1074.6 310.1 1074.8 310.9 1074.9C311.6 1075.0 312.4 1075.1 313.1 1075.2C313.8 1075.3 314.6 1075.3 315.3 1075.4C316.0 1075.5 316.8 1075.6 317.5 1075.7C318.3 1075.7 319.0 1075.8 319.7 1075.9C320.5 1075.9 321.2 1076.0 321.9 1076.1C322.7 1076.1 323.4 1076.2 324.2 1076.2C324.9 1076.2 325.6 1076.3 326.4 1076.3C327.1 1076.4 327.8 1076.4 328.6 1076.4C329.3 1076.4 330.1 1076.5 330.8 1076.5C331.5 1076.5 332.3 1076.5 333.0 1076.5C333.8 1076.5 334.5 1076.5 335.2 1076.5C336.0 1076.5 336.7 1076.5 337.4 1076.5C338.2 1076.5 338.9 1076.4 339.7 1076.4C340.4 1076.4 341.1 1076.4 341.9 1076.3C342.6 1076.3 343.3 1076.3 344.1 1076.2C344.8 1076.2 345.6 1076.1 346.3 1076.1C347.0 1076.0 347.8 1076.0 348.5 1075.9C349.3 1075.8 350.0 1075.8 350.7 1075.7C351.5 1075.6 352.2 1075.5 352.9 1075.5C353.7 1075.4 354.4 1075.3 355.2 1075.2C355.9 1075.1 356.6 1075.0 357.4 1074.9C358.1 1074.8 358.8 1074.7 359.6 1074.6C360.3 1074.4 361.1 1074.3 361.8 1074.2C362.5 1074.1 363.3 1073.9 364.0 1073.8C364.8 1073.7 365.5 1073.5 366.2 1073.4C367.0 1073.2 367.7 1073.0 368.4 1072.9C369.2 1072.7 369.9 1072.5 370.7 1072.4C371.4 1072.2 372.1 1072.0 372.9 1071.8C373.6 1071.6 374.3 1071.4 375.1 1071.2C375.8 1071.0 376.6 1070.8 377.3 1070.6C378.0 1070.4 378.8 1070.1 379.5 1069.9C380.2 1069.7 381.0 1069.4 381.7 1069.2C382.5 1068.9 383.2 1068.6 383.9 1068.4C384.7 1068.1 385.4 1067.8 386.2 1067.5C386.9 1067.2 387.6 1066.9 388.4 1066.6C389.1 1066.3 389.8 1066.0 390.6 1065.7C391.3 1065.3 392.1 1065.0 392.8 1064.6C393.5 1064.3 394.3 1063.9 395.0 1063.5C395.7 1063.1 396.5 1062.7 397.2 1062.3C398.0 1061.9 398.7 1061.5 399.4 1061.1C400.2 1060.6 400.9 1060.2 401.7 1059.7C402.4 1059.2 403.1 1058.7 403.9 1058.2C404.6 1057.7 405.3 1057.2 406.1 1056.6C406.8 1056.1 407.6 1055.5 408.3 1054.9C409.0 1054.3 409.8 1053.7 410.5 1053.0C411.2 1052.4 412.0 1051.7 412.7 1050.9C413.5 1050.2 414.2 1049.5 414.9 1048.7C415.7 1047.9 416.4 1047.0 417.2 1046.2C417.9 1045.3 418.6 1044.3 419.4 1043.3C420.1 1042.3 420.8 1041.3 421.6 1040.1C422.3 1039.0 423.1 1037.8 423.8 1036.5C424.5 1035.2 425.3 1033.8 426.0 1032.2C426.7 1030.6 427.5 1029.0 428.2 1027.0C429.0 1025.1 429.7 1023.1 430.4 1020.5C431.2 1018.0 431.9 1015.5 432.7 1011.9C433.4 1008.3 434.1 1005.5 434.9 998.9C435.6 992.3 436.3 977.6 437.1 972.2C437.8 966.8 438.6 962.5 439.3 966.5C440.0 970.5 440.8 989.0 441.5 996.3C442.2 1003.6 443.0 1006.5 443.7 1010.4C444.5 1014.3 445.2 1016.9 445.9 1019.5C446.7 1022.2 447.4 1024.3 448.1 1026.3C448.9 1028.3 449.6 1030.0 450.4 1031.6C451.1 1033.3 451.8 1034.7 452.6 1036.1C453.3 1037.5 454.1 1038.7 454.8 1039.9C455.5 1041.0 456.3 1042.1 457.0 1043.2C457.7 1044.2 458.5 1045.1 459.2 1046.1C460.0 1047.0 460.7 1047.8 461.4 1048.6C462.2 1049.5 462.9 1050.2 463.6 1051.0C464.4 1051.7 465.1 1052.4 465.9 1053.1C466.6 1053.8 467.3 1054.4 468.1 1055.0C468.8 1055.7 469.6 1056.3 470.3 1056.8C471.0 1057.4 471.8 1057.9 472.5 1058.5C473.2 1059.0 474.0 1059.5 474.7 1060.0C475.5 1060.5 476.6 1061.2 476.9 1061.4" stroke="#c8c8c8" stroke-width="5" fill="none" stroke-linejoin="round" stroke-linecap="round"/>
<path d="M122.7 1136.0C123.0 1136.0 124.2 1136.0 124.9 1136.0C125.6 1136.0 126.4 1136.0 127.1 1136.0C127.8 1136.0 128.6 1136.0 129.3 1136.0C130.1 1135.9 130.8 1135.9 131.5 1135.9C132.3 1135.8 133.0 1135.8 133.7 1135.7C134.5 1135.7 135.2 1135.7 136.0 1135.6C136.7 1135.6 137.4 1135.5 138.2 1135.4C138.9 1135.4 139.6 1135.3 140.4 1135.2C141.1 1135.1 141.9 1135.1 142.6 1135.0C143.3 1134.9 144.1 1134.8 144.8 1134.7C145.6 1134.6 146.3 1134.5 147.0 1134.4C147.8 1134.3 148.5 1134.2 149.2 1134.1C150.0 1134.0 150.7 1133.8 151.5 1133.7C152.2 1133.6 152.9 1133.4 153.7 1133.3C154.4 1133.2 155.1 1133.0 155.9 1132.9C156.6 1132.7 157.4 1132.6 158.1 1132.4C158.8 1132.2 159.6 1132.1 160.3 1131.9C161.1 1131.7 161.8 1131.5 162.5 1131.3C163.3 1131.1 164.0 1130.9 164.7 1130.7C165.5 1130.5 166.2 1130.3 167.0 1130.1C167.7 1129.9 168.4 1129.6 169.2 1129.4C169.9 1129.2 170.6 1128.9 171.4 1128.7C172.1 1128.4 172.9 1128.1 173.6 1127.9C174.3 1127.6 175.1 1127.3 175.8 1127.0C176.6 1126.7 177.3 1126.4 178.0 1126.1C178.8 1125.8 179.5 1125.5 180.2 1125.1C181.0 1124.8 181.7 1124.5 182.5 1124.1C183.2 1123.8 183.9 1123.4 184.7 1123.0C185.4 1122.6 186.1 1122.2 186.9 1121.8C187.6 1121.4 188.4 1121.0 189.1 1120.5C189.8 1120.1 190.6 1119.6 191.3 1119.2C192.1 1118.7 192.8 1118.2 193.5 1117.7C194.3 1117.2 195.0 1116.6 195.7 1116.1C196.5 1115.5 197.2 1114.9 198.0 1114.3C198.7 1113.7 199.4 1113.1 200.2 1112.4C200.9 1111.8 201.6 1111.1 202.4 1110.4C203.1 1109.7 203.9 1108.9 204.6 1108.1C205.3 1107.3 206.1 1106.5 206.8 1105.6C207.5 1104.7 208.3 1103.7 209.0 1102.7C209.8 1101.7 210.5 1100.7 211.2 1099.5C212.0 1098.4 212.7 1097.2 213.5 1095.8C214.2 1094.5 214.9 1093.1 215.7 1091.5C216.4 1089.9 217.1 1088.2 217.9 1086.3C218.6 1084.3 219.4 1082.3 220.1 1079.7C220.8 1077.1 221.6 1074.6 222.3 1070.9C223.0 1067.2 223.8 1064.5 224.5 1057.6C225.3 1050.7 226.0 1034.4 226.7 1029.3C227.5 1024.3 228.2 1022.9 229.0 1027.5C229.7 1032.1 230.4 1049.6 231.2 1056.8C231.9 1063.9 232.6 1066.7 233.4 1070.5C234.1 1074.2 234.9 1076.8 235.6 1079.4C236.3 1082.0 237.1 1084.1 237.8 1086.1C238.5 1088.1 239.3 1089.8 240.0 1091.4C240.8 1093.0 241.5 1094.5 242.2 1095.8C243.0 1097.2 243.7 1098.4 244.5 1099.6C245.2 1100.7 245.9 1101.8 246.7 1102.8C247.4 1103.9 248.1 1104.8 248.9 1105.7C249.6 1106.6 250.4 1107.5 251.1 1108.3C251.8 1109.1 252.6 1109.9 253.3 1110.6C254.0 1111.4 254.8 1112.1 255.5 1112.7C256.3 1113.4 257.0 1114.0 257.7 1114.7C258.5 1115.3 259.2 1115.9 259.9 1116.4C260.7 1117.0 261.4 1117.6 262.2 1118.1C262.9 1118.6 263.6 1119.1 264.4 1119.6C265.1 1120.1 265.9 1120.6 266.6 1121.0C267.3 1121.5 268.1 1121.9 268.8 1122.3C269.5 1122.7 270.3 1123.1 271.0 1123.5C271.8 1123.9 272.5 1124.3 273.2 1124.7C274.0 1125.1 274.7 1125.4 275.4 1125.8C276.2 1126.1 276.9 1126.4 277.7 1126.8C278.4 1127.1 279.1 1127.4 279.9 1127.7C280.6 1128.0 281.4 1128.3 282.1 1128.6C282.8 1128.9 283.6 1129.1 284.3 1129.4C285.0 1129.7 285.8 1129.9 286.5 1130.2C287.3 1130.4 288.0 1130.7 288.7 1130.9C289.5 1131.1 290.2 1131.3 290.9 1131.6C291.7 1131.8 292.4 1132.0 293.2 1132.2C293.9 1132.4 294.6 1132.6 295.4 1132.8C296.1 1133.0 296.9 1133.2 297.6 1133.3C298.3 1133.5 299.1 1133.7 299.8 1133.8C300.5 1134.0 301.3 1134.2 302.0 1134.3C302.8 1134.5 303.5 1134.6 304.2 1134.8C305.0 1134.9 305.7 1135.0 306.4 1135.2C307.2 1135.3 307.9 1135.4 308.7 1135.5C309.4 1135.6 310.1 1135.8 310.9 1135.9C311.6 1136.0 312.4 1136.1 313.1 1136.2C313.8 1136.3 314.6 1136.3 315.3 1136.4C316.0 1136.5 316.8 1136.6 317.5 1136.7C318.3 1136.7 319.0 1136.8 319.7 1136.9C320.5 1136.9 321.2 1137.0 321.9 1137.1C322.7 1137.1 323.4 1137.2 324.2 1137.2C324.9 1137.2 325.6 1137.3 326.4 1137.3C327.1 1137.4 327.8 1137.4 328.6 1137.4C329.3 1137.4 330.1 1137.5 330.8 1137.5C331.5 1137.5 332.3 1137.5 333.0 1137.5C333.8 1137.5 334.5 1137.5 335.2 1137.5C336.0 1137.5 336.7 1137.5 337.4 1137.5C338.2 1137.5 338.9 1137.4 339.7 1137.4C340.4 1137.4 341.1 1137.4 341.9 1137.3C342.6 1137.3 343.3 1137.3 344.1 1137.2C344.8 1137.2 345.6 1137.1 346.3 1137.1C347.0 1137.0 347.8 1137.0 348.5 1136.9C349.3 1136.8 350.0 1136.8 350.7 1136.7C351.5 1136.6 352.2 1136.5 352.9 1136.5C353.7 1136.4 354.4 1136.3 355.2 1136.2C355.9 1136.1 356.6 1136.0 357.4 1135.9C358.1 1135.8 358.8 1135.7 359.6 1135.6C360.3 1135.4 361.1 1135.3 361.8 1135.2C362.5 1135.1 363.3 1134.9 364.0 1134.8C364.8 1134.7 365.5 1134.5 366.2 1134.4C367.0 1134.2 367.7 1134.0 368.4 1133.9C369.2 1133.7 369.9 1133.5 370.7 1133.4C371.4 1133.2 372.1 1133.0 372.9 1132.8C373.6 1132.6 374.3 1132.4 375.1 1132.2C375.8 1132.0 376.6 1131.8 377.3 1131.6C378.0 1131.4 378.8 1131.1 379.5 1130.9C380.2 1130.7 381.0 1130.4 381.7 1130.2C382.5 1129.9 383.2 1129.6 383.9 1129.4C384.7 1129.1 385.4 1128.8 386.2 1128.5C386.9 1128.2 387.6 1127.9 388.4 1127.6C389.1 1127.3 389.8 1127.0 390.6 1126.7C391.3 1126.3 392.1 1126.0 392.8 1125.6C393.5 1125.3 394.3 1124.9 395.0 1124.5C395.7 1124.1 396.5 1123.7 397.2 1123.3C398.0 1122.9 398.7 1122.5 399.4 1122.1C400.2 1121.6 400.9 1121.2 401.7 1120.7C402.4 1120.2 403.1 1119.7 403.9 1119.2C404.6 1118.7 405.3 1118.2 406.1 1117.6C406.8 1117.1 407.6 1116.5 408.3 1115.9C409.0 1115.3 409.8 1114.7 410.5 1114.0C411.2 1113.4 412.0 1112.7 412.7 1111.9C413.5 1111.2 414.2 1110.5 414.9 1109.7C415.7 1108.9 416.4 1108.0 417.2 1107.2C417.9 1106.3 418.6 1105.3 419.4 1104.3C420.1 1103.3 420.8 1102.3 421.6 1101.1C422.3 1100.0 423.1 1098.8 423.8 1097.5C424.5 1096.2 425.3 1094.8 426.0 1093.2C426.7 1091.6 427.5 1090.0 428.2 1088.0C429.0 1086.1 429.7 1084.1 430.4 1081.5C431.2 1079.0 431.9 1076.5 432.7 1072.9C433.4 1069.3 434.1 1066.5 434.9 1059.9C435.6 1053.3 436.3 1038.6 437.1 1033.2C437.8 1027.8 438.6 1023.5 439.3 1027.5C440.0 1031.5 440.8 1050.0 441.5 1057.3C442.2 1064.6 443.0 1067.5 443.7 1071.4C444.5 1075.3 445.2 1077.9 445.9 1080.5C446.7 1083.2 447.4 1085.3 448.1 1087.3C448.9 1089.3 449.6 1091.0 450.4 1092.6C451.1 1094.3 451.8 1095.7 452.6 1097.1C453.3 1098.5 454.1 1099.7 454.8 1100.9C455.5 1102.0 456.3 1103.1 457.0 1104.2C457.7 1105.2 458.5 1106.1 459.2 1107.1C460.0 1108.0 460.7 1108.8 461.4 1109.6C462.2 1110.5 462.9 1111.2 463.6 1112.0C464.4 1112.7 465.1 1113.4 465.9 1114.1C466.6 1114.8 467.3 1115.4 468.1 1116.0C468.8 1116.7 469.6 1117.3 470.3 1117.8C471.0 1118.4 471.8 1118.9 472.5 1119.5C473.2 1120.0 474.0 1120.5 474.7 1121.0C475.5 1121.5 476.6 1122.2 476.9 1122.4" stroke="#c8c8c8" stroke-width="5" fill="none" stroke-linejoin="round" stroke-linecap="round"/>
<path d="M119.7 1137.0C122.2 1136.7 129.4 1136.0 134.5 1135.0C139.6 1133.9 146.9 1132.1 150.2 1130.6C153.5 1129.2 153.3 1127.1 154.5 1126.3C155.7 1125.6 156.3 1125.6 157.1 1126.0C157.9 1126.5 158.3 1129.1 159.5 1129.2C160.7 1129.3 160.6 1128.4 164.0 1126.6C167.4 1124.8 174.8 1121.5 179.7 1118.5C184.6 1115.5 189.2 1112.2 193.4 1108.5C197.7 1104.9 201.6 1101.2 205.2 1096.6C208.8 1091.9 213.4 1083.4 215.0 1080.8M236.7 1079.1C238.3 1082.4 242.6 1092.9 246.5 1098.8C250.4 1104.6 255.3 1109.8 260.2 1114.3C265.1 1118.9 271.0 1122.6 276.0 1126.0C281.0 1129.3 284.3 1132.5 290.0 1134.6C295.7 1136.6 303.5 1137.1 310.2 1138.2C316.9 1139.3 323.6 1140.8 330.3 1141.0C337.0 1141.2 344.4 1140.8 350.5 1139.5C356.6 1138.1 361.6 1135.1 366.6 1133.0C371.6 1130.9 375.6 1129.6 380.7 1126.8C385.8 1124.1 391.8 1120.3 396.9 1116.5C401.9 1112.7 406.6 1109.0 411.0 1104.2C415.4 1099.4 421.1 1090.6 423.1 1087.9M446.0 1075.0C446.6 1076.2 447.4 1077.8 449.3 1082.0C451.2 1086.2 454.4 1094.3 457.4 1100.0C460.4 1105.7 464.6 1111.2 467.5 1116.0C470.4 1120.8 473.3 1126.8 474.5 1129.0" stroke="#680a0c" stroke-width="6.5" fill="none" stroke-linejoin="round"/>
<path d="M115.0 1134.0h9.5M115.0 1140.0h9.5M119.7 1134.0v6.0M118.4 1133.6h9.5M118.4 1139.6h9.5M123.1 1133.6v6.0M121.8 1133.2h9.5M121.8 1139.2h9.5M126.5 1133.2v6.0M125.2 1132.8h9.5M125.2 1138.8h9.5M129.9 1132.8v6.0M128.6 1132.2h9.5M128.6 1138.2h9.5M133.3 1132.2v6.0M132.0 1131.5h9.5M132.0 1137.5h9.5M136.7 1131.5v6.0M135.4 1130.7h9.5M135.4 1136.7h9.5M140.1 1130.7v6.0M138.8 1129.8h9.5M138.8 1135.8h9.5M143.5 1129.8v6.0M142.2 1128.8h9.5M142.2 1134.8h9.5M146.9 1128.8v6.0M145.6 1127.6h9.5M145.6 1133.6h9.5M150.3 1127.6v6.0M149.0 1124.3h9.5M149.0 1130.3h9.5M153.7 1124.3v6.0M152.4 1123.0h9.5M152.4 1129.0h9.5M157.1 1123.0v6.0M155.8 1125.9h9.5M155.8 1131.9h9.5M160.5 1125.9v6.0M159.2 1123.7h9.5M159.2 1129.7h9.5M163.9 1123.7v6.0M162.6 1122.0h9.5M162.6 1128.0h9.5M167.3 1122.0v6.0M166.0 1120.3h9.5M166.0 1126.3h9.5M170.7 1120.3v6.0M169.4 1118.6h9.5M169.4 1124.6h9.5M174.1 1118.6v6.0M172.8 1116.8h9.5M172.8 1122.8h9.5M177.5 1116.8v6.0M176.2 1114.8h9.5M176.2 1120.8h9.5M180.9 1114.8v6.0M179.6 1112.5h9.5M179.6 1118.5h9.5M184.3 1112.5v6.0M183.0 1110.1h9.5M183.0 1116.1h9.5M187.7 1110.1v6.0M186.4 1107.4h9.5M186.4 1113.4h9.5M191.1 1107.4v6.0M189.8 1104.6h9.5M189.8 1110.6h9.5M194.5 1104.6v6.0M193.2 1101.5h9.5M193.2 1107.5h9.5M197.9 1101.5v6.0M196.6 1098.1h9.5M196.6 1104.1h9.5M201.3 1098.1v6.0M200.0 1094.2h9.5M200.0 1100.2h9.5M204.7 1094.2v6.0M203.4 1089.4h9.5M203.4 1095.4h9.5M208.1 1089.4v6.0M206.8 1083.8h9.5M206.8 1089.8h9.5M211.5 1083.8v6.0M210.2 1078.0h9.5M210.2 1084.0h9.5M214.9 1078.0v6.0M210.2 1077.8h9.5M210.2 1083.8h9.5M215.0 1077.8v6.0M231.9 1076.1h9.5M231.9 1082.1h9.5M236.7 1076.1v6.0M235.3 1083.6h9.5M235.3 1089.6h9.5M240.1 1083.6v6.0M238.8 1090.6h9.5M238.8 1096.6h9.5M243.5 1090.6v6.0M242.2 1096.4h9.5M242.2 1102.4h9.5M246.9 1096.4v6.0M245.6 1100.9h9.5M245.6 1106.9h9.5M250.3 1100.9v6.0M249.0 1104.8h9.5M249.0 1110.8h9.5M253.7 1104.8v6.0M252.4 1108.4h9.5M252.4 1114.4h9.5M257.1 1108.4v6.0M255.8 1111.6h9.5M255.8 1117.6h9.5M260.5 1111.6v6.0M259.1 1114.5h9.5M259.1 1120.5h9.5M263.9 1114.5v6.0M262.5 1117.0h9.5M262.5 1123.0h9.5M267.3 1117.0v6.0M265.9 1119.4h9.5M265.9 1125.4h9.5M270.7 1119.4v6.0M269.3 1121.7h9.5M269.3 1127.7h9.5M274.1 1121.7v6.0M272.7 1124.0h9.5M272.7 1130.0h9.5M277.5 1124.0v6.0M276.1 1126.5h9.5M276.1 1132.5h9.5M280.9 1126.5v6.0M279.5 1128.8h9.5M279.5 1134.8h9.5M284.3 1128.8v6.0M282.9 1130.6h9.5M282.9 1136.6h9.5M287.7 1130.6v6.0M286.3 1131.9h9.5M286.3 1137.9h9.5M291.1 1131.9v6.0M289.7 1132.8h9.5M289.7 1138.8h9.5M294.5 1132.8v6.0M293.1 1133.5h9.5M293.1 1139.5h9.5M297.9 1133.5v6.0M296.5 1134.0h9.5M296.5 1140.0h9.5M301.3 1134.0v6.0M299.9 1134.4h9.5M299.9 1140.4h9.5M304.7 1134.4v6.0M303.3 1134.9h9.5M303.3 1140.9h9.5M308.1 1134.9v6.0M306.7 1135.4h9.5M306.7 1141.4h9.5M311.5 1135.4v6.0M310.1 1136.0h9.5M310.1 1142.0h9.5M314.9 1136.0v6.0M313.5 1136.6h9.5M313.5 1142.6h9.5M318.3 1136.6v6.0M316.9 1137.2h9.5M316.9 1143.2h9.5M321.7 1137.2v6.0M320.3 1137.6h9.5M320.3 1143.6h9.5M325.1 1137.6v6.0M323.7 1137.9h9.5M323.7 1143.9h9.5M328.5 1137.9v6.0M327.1 1138.1h9.5M327.1 1144.1h9.5M331.9 1138.1v6.0M330.5 1138.1h9.5M330.5 1144.1h9.5M335.3 1138.1v6.0M333.9 1137.9h9.5M333.9 1143.9h9.5M338.7 1137.9v6.0M337.3 1137.7h9.5M337.3 1143.7h9.5M342.1 1137.7v6.0M340.7 1137.3h9.5M340.7 1143.3h9.5M345.5 1137.3v6.0M344.1 1136.8h9.5M344.1 1142.8h9.5M348.9 1136.8v6.0M347.5 1136.0h9.5M347.5 1142.0h9.5M352.3 1136.0v6.0M350.9 1134.9h9.5M350.9 1140.9h9.5M355.7 1134.9v6.0M354.3 1133.4h9.5M354.3 1139.4h9.5M359.1 1133.4v6.0M357.7 1131.9h9.5M357.7 1137.9h9.5M362.5 1131.9v6.0M361.1 1130.3h9.5M361.1 1136.3h9.5M365.9 1130.3v6.0M364.5 1128.9h9.5M364.5 1134.9h9.5M369.3 1128.9v6.0M367.9 1127.5h9.5M367.9 1133.5h9.5M372.7 1127.5v6.0M371.3 1126.1h9.5M371.3 1132.1h9.5M376.1 1126.1v6.0M374.7 1124.4h9.5M374.7 1130.4h9.5M379.5 1124.4v6.0M378.1 1122.6h9.5M378.1 1128.6h9.5M382.9 1122.6v6.0M381.5 1120.6h9.5M381.5 1126.6h9.5M386.3 1120.6v6.0M384.9 1118.5h9.5M384.9 1124.5h9.5M389.7 1118.5v6.0M388.3 1116.2h9.5M388.3 1122.2h9.5M393.1 1116.2v6.0M391.7 1113.8h9.5M391.7 1119.8h9.5M396.5 1113.8v6.0M395.1 1111.2h9.5M395.1 1117.2h9.5M399.9 1111.2v6.0M398.5 1108.5h9.5M398.5 1114.5h9.5M403.3 1108.5v6.0M401.9 1105.5h9.5M401.9 1111.5h9.5M406.7 1105.5v6.0M405.3 1102.2h9.5M405.3 1108.2h9.5M410.1 1102.2v6.0M408.7 1098.3h9.5M408.7 1104.3h9.5M413.5 1098.3v6.0M412.1 1093.7h9.5M412.1 1099.7h9.5M416.9 1093.7v6.0M415.5 1088.9h9.5M415.5 1094.9h9.5M420.3 1088.9v6.0M418.4 1084.9h9.5M418.4 1090.9h9.5M423.1 1084.9v6.0M441.2 1072.0h9.5M441.2 1078.0h9.5M446.0 1072.0v6.0M444.6 1079.2h9.5M444.6 1085.2h9.5M449.4 1079.2v6.0M448.0 1087.1h9.5M448.0 1093.1h9.5M452.8 1087.1v6.0M451.4 1094.6h9.5M451.4 1100.6h9.5M456.2 1094.6v6.0M454.8 1100.8h9.5M454.8 1106.8h9.5M459.6 1100.8v6.0M458.2 1106.0h9.5M458.2 1112.0h9.5M463.0 1106.0v6.0M461.6 1111.2h9.5M461.6 1117.2h9.5M466.4 1111.2v6.0M465.0 1117.1h9.5M465.0 1123.1h9.5M469.8 1117.1v6.0M468.4 1123.5h9.5M468.4 1129.5h9.5M473.2 1123.5v6.0M469.8 1126.0h9.5M469.8 1132.0h9.5M474.5 1126.0v6.0" stroke="#680a0c" stroke-width="2.2" fill="none"/>
<path d="M119.7 1137.7C122.2 1137.4 129.4 1136.8 134.5 1135.8C139.6 1134.8 146.9 1133.1 150.2 1131.8C153.5 1130.5 153.3 1129.0 154.5 1128.0C155.7 1127.0 156.3 1125.8 157.1 1126.0C157.9 1126.2 158.3 1128.7 159.5 1129.0C160.7 1129.3 160.6 1129.4 164.0 1127.9C167.4 1126.4 174.8 1123.0 179.7 1120.0C184.6 1117.0 189.2 1113.8 193.4 1110.2C197.7 1106.6 201.6 1103.0 205.2 1098.4C208.8 1093.8 212.1 1089.2 215.0 1082.7C217.9 1076.2 221.0 1066.3 222.9 1059.1C224.8 1051.9 225.5 1044.8 226.4 1039.5C227.3 1034.2 228.1 1029.1 228.4 1027.0L228.4 1027.0C228.9 1032.3 230.3 1050.8 231.7 1059.1C233.1 1067.4 234.2 1070.6 236.7 1076.8C239.2 1083.0 242.6 1090.6 246.5 1096.5C250.4 1102.4 255.3 1107.6 260.2 1112.2C265.1 1116.8 271.0 1120.5 276.0 1124.0C281.0 1127.5 284.3 1130.8 290.0 1133.0C295.7 1135.2 303.5 1135.8 310.2 1137.0C316.9 1138.2 323.6 1139.8 330.3 1140.1C337.0 1140.4 344.4 1140.3 350.5 1139.1C356.6 1137.9 361.6 1135.0 366.6 1133.0C371.6 1131.0 375.6 1129.7 380.7 1127.0C385.8 1124.3 391.8 1120.6 396.9 1116.9C401.9 1113.2 406.6 1109.5 411.0 1104.8C415.4 1100.1 419.7 1094.3 423.1 1088.6C426.5 1082.9 429.0 1076.9 431.2 1070.5C433.4 1064.1 434.9 1057.4 436.2 1050.3C437.5 1043.2 438.7 1031.8 439.2 1028.1L439.2 1028.1C439.9 1033.5 441.6 1051.7 443.3 1060.4C445.0 1069.2 447.0 1074.2 449.3 1080.6C451.6 1087.0 454.4 1093.0 457.4 1098.7C460.4 1104.4 464.6 1109.9 467.5 1114.9C470.4 1120.0 473.3 1126.7 474.5 1129.0" stroke="#d8141e" stroke-width="4.0" fill="none" stroke-linejoin="round"/>
<path d="M152.2 1080.0V1090.0M149.7 1080.0h5M149.7 1090.0h5" stroke="#08085c" stroke-width="2" fill="none"/><path d="M333.4 1108.8V1149.1M330.9 1108.8h5M330.9 1149.1h5" stroke="#08085c" stroke-width="2" fill="none"/><path d="M339.4 1106.8V1135.0M336.9 1106.8h5M336.9 1135.0h5" stroke="#08085c" stroke-width="2" fill="none"/><path d="M344.4 1104.8V1129.0M341.9 1104.8h5M341.9 1129.0h5" stroke="#08085c" stroke-width="2" fill="none"/><path d="M348.5 1110.8V1203.6M346.0 1110.8h5M346.0 1203.6h5" stroke="#08085c" stroke-width="2" fill="none"/><path d="M354.5 1108.8V1123.0M352.0 1108.8h5M352.0 1123.0h5" stroke="#08085c" stroke-width="2" fill="none"/><path d="M359.6 1106.8V1153.2M357.1 1106.8h5M357.1 1153.2h5" stroke="#08085c" stroke-width="2" fill="none"/><path d="M362.6 1096.7V1104.8M360.1 1096.7h5M360.1 1104.8h5" stroke="#08085c" stroke-width="2" fill="none"/><path d="M366.6 1079.6V1090.7M364.1 1079.6h5M364.1 1090.7h5" stroke="#08085c" stroke-width="2" fill="none"/><path d="M371.7 1113.9V1143.1M369.2 1113.9h5M369.2 1143.1h5" stroke="#08085c" stroke-width="2" fill="none"/><path d="M375.7 1098.7V1105.8M373.2 1098.7h5M373.2 1105.8h5" stroke="#08085c" stroke-width="2" fill="none"/>
<path d="M120.7 1112.2C124.6 1110.2 139.1 1104.1 144.3 1100.4C149.6 1096.7 148.9 1092.7 152.2 1090.0C155.5 1087.3 160.4 1086.0 164.0 1084.0C167.6 1082.0 169.9 1081.2 173.8 1078.0C177.7 1074.8 183.2 1069.5 187.5 1065.0C191.8 1060.5 195.7 1055.8 199.3 1051.2C202.9 1046.6 206.2 1042.0 209.1 1037.4C212.0 1032.8 215.0 1028.3 217.0 1023.7C219.0 1019.1 220.3 1012.3 221.0 1010.0M236.0 1008.0C237.1 1011.6 238.9 1022.7 242.6 1029.6C246.3 1036.5 252.7 1043.5 258.3 1049.2C263.9 1054.9 270.7 1059.5 276.0 1064.0C281.3 1068.5 284.3 1072.4 290.0 1076.5C295.7 1080.6 304.1 1084.6 310.2 1088.6C316.2 1092.6 322.5 1097.8 326.3 1100.7C330.1 1103.6 331.9 1105.1 333.0 1106.0M376.0 1098.0C377.8 1096.3 382.3 1092.1 386.8 1087.7C391.3 1083.3 397.9 1077.2 402.9 1071.5C407.9 1065.8 413.0 1059.5 417.0 1053.4C421.0 1047.4 424.8 1040.4 427.1 1035.2C429.4 1030.0 430.4 1024.2 431.0 1022.0M447.0 1022.0C447.4 1023.0 447.2 1024.2 449.3 1028.2C451.4 1032.2 455.0 1040.2 459.4 1046.3C463.8 1052.3 472.8 1061.5 475.5 1064.5" stroke="#08085c" stroke-width="6.5" fill="none" stroke-linejoin="round"/>
<path d="M116.0 1109.2h9.5M116.0 1115.2h9.5M120.7 1109.2v6.0M119.4 1107.6h9.5M119.4 1113.6h9.5M124.1 1107.6v6.0M122.8 1106.0h9.5M122.8 1112.0h9.5M127.5 1106.0v6.0M126.2 1104.5h9.5M126.2 1110.5h9.5M130.9 1104.5v6.0M129.6 1102.9h9.5M129.6 1108.9h9.5M134.3 1102.9v6.0M133.0 1101.2h9.5M133.0 1107.2h9.5M137.7 1101.2v6.0M136.4 1099.4h9.5M136.4 1105.4h9.5M141.1 1099.4v6.0M139.8 1097.3h9.5M139.8 1103.3h9.5M144.5 1097.3v6.0M143.2 1093.7h9.5M143.2 1099.7h9.5M147.9 1093.7v6.0M146.6 1087.9h9.5M146.6 1093.9h9.5M151.3 1087.9v6.0M150.0 1085.3h9.5M150.0 1091.3h9.5M154.7 1085.3v6.0M153.4 1083.7h9.5M153.4 1089.7h9.5M158.1 1083.7v6.0M156.8 1082.2h9.5M156.8 1088.2h9.5M161.5 1082.2v6.0M160.2 1080.5h9.5M160.2 1086.5h9.5M164.9 1080.5v6.0M163.6 1078.7h9.5M163.6 1084.7h9.5M168.3 1078.7v6.0M167.0 1076.6h9.5M167.0 1082.6h9.5M171.7 1076.6v6.0M170.4 1073.9h9.5M170.4 1079.9h9.5M175.1 1073.9v6.0M173.8 1070.9h9.5M173.8 1076.9h9.5M178.5 1070.9v6.0M177.2 1067.7h9.5M177.2 1073.7h9.5M181.9 1067.7v6.0M180.6 1064.3h9.5M180.6 1070.3h9.5M185.3 1064.3v6.0M184.0 1060.7h9.5M184.0 1066.7h9.5M188.7 1060.7v6.0M187.4 1056.9h9.5M187.4 1062.9h9.5M192.1 1056.9v6.0M190.8 1052.9h9.5M190.8 1058.9h9.5M195.5 1052.9v6.0M194.2 1048.7h9.5M194.2 1054.7h9.5M198.9 1048.7v6.0M197.6 1044.3h9.5M197.6 1050.3h9.5M202.3 1044.3v6.0M201.0 1039.5h9.5M201.0 1045.5h9.5M205.7 1039.5v6.0M204.4 1034.4h9.5M204.4 1040.4h9.5M209.1 1034.4v6.0M207.8 1029.0h9.5M207.8 1035.0h9.5M212.5 1029.0v6.0M211.2 1023.0h9.5M211.2 1029.0h9.5M215.9 1023.0v6.0M214.6 1013.7h9.5M214.6 1019.7h9.5M219.3 1013.7v6.0M216.2 1007.0h9.5M216.2 1013.0h9.5M221.0 1007.0v6.0M231.2 1005.0h9.5M231.2 1011.0h9.5M236.0 1005.0v6.0M234.7 1018.5h9.5M234.7 1024.5h9.5M239.4 1018.5v6.0M238.1 1027.0h9.5M238.1 1033.0h9.5M242.8 1027.0v6.0M241.5 1032.3h9.5M241.5 1038.3h9.5M246.2 1032.3v6.0M244.9 1036.6h9.5M244.9 1042.6h9.5M249.6 1036.6v6.0M248.3 1040.6h9.5M248.3 1046.6h9.5M253.0 1040.6v6.0M251.7 1044.2h9.5M251.7 1050.2h9.5M256.4 1044.2v6.0M255.1 1047.7h9.5M255.1 1053.7h9.5M259.8 1047.7v6.0M258.4 1050.7h9.5M258.4 1056.7h9.5M263.2 1050.7v6.0M261.8 1053.5h9.5M261.8 1059.5h9.5M266.6 1053.5v6.0M265.2 1056.2h9.5M265.2 1062.2h9.5M270.0 1056.2v6.0M268.6 1058.8h9.5M268.6 1064.8h9.5M273.4 1058.8v6.0M272.0 1061.7h9.5M272.0 1067.7h9.5M276.8 1061.7v6.0M275.4 1064.9h9.5M275.4 1070.9h9.5M280.2 1064.9v6.0M278.8 1068.1h9.5M278.8 1074.1h9.5M283.6 1068.1v6.0M282.2 1071.2h9.5M282.2 1077.2h9.5M287.0 1071.2v6.0M285.6 1073.8h9.5M285.6 1079.8h9.5M290.4 1073.8v6.0M289.0 1076.0h9.5M289.0 1082.0h9.5M293.8 1076.0v6.0M292.4 1078.0h9.5M292.4 1084.0h9.5M297.2 1078.0v6.0M295.8 1079.9h9.5M295.8 1085.9h9.5M300.6 1079.9v6.0M299.2 1081.8h9.5M299.2 1087.8h9.5M304.0 1081.8v6.0M302.6 1083.8h9.5M302.6 1089.8h9.5M307.4 1083.8v6.0M306.0 1086.0h9.5M306.0 1092.0h9.5M310.8 1086.0v6.0M309.4 1088.4h9.5M309.4 1094.4h9.5M314.2 1088.4v6.0M312.8 1090.9h9.5M312.8 1096.9h9.5M317.6 1090.9v6.0M316.2 1093.6h9.5M316.2 1099.6h9.5M321.0 1093.6v6.0M319.6 1096.2h9.5M319.6 1102.2h9.5M324.4 1096.2v6.0M323.0 1098.9h9.5M323.0 1104.9h9.5M327.8 1098.9v6.0M326.4 1101.5h9.5M326.4 1107.5h9.5M331.2 1101.5v6.0M328.2 1103.0h9.5M328.2 1109.0h9.5M333.0 1103.0v6.0M371.2 1095.0h9.5M371.2 1101.0h9.5M376.0 1095.0v6.0M374.6 1091.8h9.5M374.6 1097.8h9.5M379.4 1091.8v6.0M378.0 1088.6h9.5M378.0 1094.6h9.5M382.8 1088.6v6.0M381.4 1085.3h9.5M381.4 1091.3h9.5M386.2 1085.3v6.0M384.8 1082.0h9.5M384.8 1088.0h9.5M389.6 1082.0v6.0M388.2 1078.7h9.5M388.2 1084.7h9.5M393.0 1078.7v6.0M391.6 1075.3h9.5M391.6 1081.3h9.5M396.4 1075.3v6.0M395.0 1071.9h9.5M395.0 1077.9h9.5M399.8 1071.9v6.0M398.4 1068.2h9.5M398.4 1074.2h9.5M403.2 1068.2v6.0M401.8 1064.2h9.5M401.8 1070.2h9.5M406.6 1064.2v6.0M405.2 1060.0h9.5M405.2 1066.0h9.5M410.0 1060.0v6.0M408.6 1055.5h9.5M408.6 1061.5h9.5M413.4 1055.5v6.0M412.0 1050.7h9.5M412.0 1056.7h9.5M416.8 1050.7v6.0M415.4 1045.3h9.5M415.4 1051.3h9.5M420.2 1045.3v6.0M418.8 1039.3h9.5M418.8 1045.3h9.5M423.6 1039.3v6.0M422.2 1032.4h9.5M422.2 1038.4h9.5M427.0 1032.4v6.0M425.6 1021.4h9.5M425.6 1027.4h9.5M430.4 1021.4v6.0M426.2 1019.0h9.5M426.2 1025.0h9.5M431.0 1019.0v6.0M442.2 1019.0h9.5M442.2 1025.0h9.5M447.0 1019.0v6.0M445.6 1027.4h9.5M445.6 1033.4h9.5M450.4 1027.4v6.0M449.0 1034.1h9.5M449.0 1040.1h9.5M453.8 1034.1v6.0M452.4 1040.0h9.5M452.4 1046.0h9.5M457.2 1040.0v6.0M455.8 1044.9h9.5M455.8 1050.9h9.5M460.6 1044.9v6.0M459.2 1049.0h9.5M459.2 1055.0h9.5M464.0 1049.0v6.0M462.6 1052.8h9.5M462.6 1058.8h9.5M467.4 1052.8v6.0M466.0 1056.5h9.5M466.0 1062.5h9.5M470.8 1056.5v6.0M469.4 1060.1h9.5M469.4 1066.1h9.5M474.2 1060.1v6.0M470.8 1061.5h9.5M470.8 1067.5h9.5M475.5 1061.5v6.0" stroke="#08085c" stroke-width="2.2" fill="none"/>
<path d="M122.7 1119.1C125.7 1117.9 135.5 1115.0 140.4 1112.2C145.3 1109.4 149.8 1105.3 152.2 1102.4C154.6 1099.5 154.2 1097.6 155.0 1095.0C155.8 1092.4 156.4 1087.1 157.1 1086.6C157.8 1086.1 158.3 1091.0 159.0 1092.0C159.7 1093.0 158.5 1094.0 161.0 1092.5C163.5 1091.0 169.4 1086.6 173.8 1082.7C178.2 1078.8 183.2 1073.6 187.5 1069.0C191.8 1064.4 195.7 1059.8 199.3 1055.2C202.9 1050.6 206.2 1046.0 209.1 1041.4C212.0 1036.8 214.9 1032.9 217.0 1027.7C219.1 1022.5 220.4 1016.3 221.9 1010.0C223.4 1003.7 224.9 996.3 226.0 990.0C227.1 983.7 228.0 975.0 228.4 972.0L228.4 972.0C228.8 975.8 229.9 988.7 231.0 995.0C232.1 1001.3 232.8 1003.6 234.7 1010.0C236.6 1016.4 238.7 1026.4 242.6 1033.6C246.5 1040.8 252.7 1047.3 258.3 1053.2C263.9 1059.1 270.7 1064.1 276.0 1069.0C281.3 1073.9 284.3 1078.3 290.0 1082.6C295.7 1086.9 303.5 1090.0 310.2 1094.7C316.9 1099.4 324.9 1106.1 330.3 1110.8C335.7 1115.5 339.4 1119.5 342.4 1122.9C345.4 1126.3 346.1 1130.3 348.5 1131.0C350.9 1131.7 354.0 1130.0 356.5 1127.0C359.0 1124.0 361.6 1118.3 363.6 1112.8C365.6 1107.2 367.8 1096.9 368.6 1093.7L368.6 1093.7C369.3 1095.2 369.7 1103.3 372.7 1102.8C375.7 1102.3 381.8 1095.4 386.8 1090.7C391.8 1086.0 397.9 1080.2 402.9 1074.5C407.9 1068.8 413.0 1062.5 417.0 1056.4C421.0 1050.4 424.6 1043.9 427.1 1038.2C429.6 1032.5 430.9 1026.8 432.2 1022.1C433.5 1017.4 434.3 1015.0 435.2 1010.0C436.1 1005.0 436.8 998.3 437.5 992.0C438.2 985.7 438.9 975.3 439.2 972.0L439.2 972.0C439.5 975.3 440.3 985.7 441.0 992.0C441.7 998.3 441.9 1003.3 443.3 1010.0C444.7 1016.7 446.6 1025.5 449.3 1032.2C452.0 1038.9 455.0 1044.2 459.4 1050.3C463.8 1056.3 472.8 1065.5 475.5 1068.5" stroke="#40dce8" stroke-width="4.0" fill="none" stroke-linejoin="round"/>
<path d="M368.6 1001.0V1008.0M366.1 1001.0h5M366.1 1008.0h5" stroke="#0c5c1c" stroke-width="1.8" fill="none"/>
<path d="M119.7 1027.7C122.2 1026.4 129.4 1023.0 134.5 1020.3C139.6 1017.6 146.9 1013.5 150.2 1011.5C153.5 1009.6 153.3 1008.9 154.5 1008.4C155.7 1007.9 156.3 1007.8 157.1 1008.7C157.9 1009.5 158.3 1013.3 159.5 1013.7C160.7 1014.0 160.6 1012.6 164.0 1010.7C167.4 1008.9 174.8 1005.6 179.7 1002.5C184.6 999.5 189.2 996.2 193.4 992.5C197.7 988.9 201.6 985.2 205.2 980.6C208.8 975.9 213.4 967.4 215.0 964.8M236.7 956.4C238.3 959.7 242.6 970.2 246.5 976.1C250.4 981.9 255.3 986.8 260.2 991.7C265.1 996.5 271.0 1001.1 276.0 1005.4C281.0 1009.7 284.3 1014.4 290.0 1017.5C295.7 1020.7 303.5 1022.4 310.2 1024.1C316.9 1025.8 323.6 1027.6 330.3 1027.6C337.0 1027.5 345.1 1025.4 350.5 1024.0C355.9 1022.7 360.0 1021.2 362.6 1019.4C365.2 1017.7 365.0 1014.6 366.0 1013.6C367.0 1012.5 367.9 1012.5 368.6 1013.3C369.4 1014.1 369.8 1018.0 370.5 1018.4C371.2 1018.8 370.0 1017.2 372.7 1015.7C375.4 1014.2 381.8 1012.2 386.8 1009.4C391.8 1006.6 398.2 1002.8 402.9 999.1C407.6 995.3 411.3 991.2 415.0 986.8C418.7 982.4 423.4 975.0 425.1 972.6M444.0 945.0C444.8 947.8 446.8 955.8 449.0 962.0C451.2 968.2 453.9 975.7 457.0 982.0C460.1 988.3 464.8 995.2 467.5 1000.0C470.2 1004.8 472.5 1009.2 473.5 1011.0" stroke="#0c5c1c" stroke-width="6.5" fill="none" stroke-linejoin="round"/>
<path d="M115.0 1024.7h9.5M115.0 1030.7h9.5M119.7 1024.7v6.0M118.4 1023.0h9.5M118.4 1029.0h9.5M123.1 1023.0v6.0M121.8 1021.3h9.5M121.8 1027.3h9.5M126.5 1021.3v6.0M125.2 1019.7h9.5M125.2 1025.7h9.5M129.9 1019.7v6.0M128.6 1017.9h9.5M128.6 1023.9h9.5M133.3 1017.9v6.0M132.0 1016.1h9.5M132.0 1022.1h9.5M136.7 1016.1v6.0M135.4 1014.3h9.5M135.4 1020.3h9.5M140.1 1014.3v6.0M138.8 1012.4h9.5M138.8 1018.4h9.5M143.5 1012.4v6.0M142.2 1010.5h9.5M142.2 1016.5h9.5M146.9 1010.5v6.0M145.6 1008.5h9.5M145.6 1014.5h9.5M150.3 1008.5v6.0M149.0 1005.9h9.5M149.0 1011.9h9.5M153.7 1005.9v6.0M152.4 1005.7h9.5M152.4 1011.7h9.5M157.1 1005.7v6.0M155.8 1010.4h9.5M155.8 1016.4h9.5M160.5 1010.4v6.0M159.2 1007.8h9.5M159.2 1013.8h9.5M163.9 1007.8v6.0M162.6 1006.0h9.5M162.6 1012.0h9.5M167.3 1006.0v6.0M166.0 1004.3h9.5M166.0 1010.3h9.5M170.7 1004.3v6.0M169.4 1002.6h9.5M169.4 1008.6h9.5M174.1 1002.6v6.0M172.8 1000.8h9.5M172.8 1006.8h9.5M177.5 1000.8v6.0M176.2 998.8h9.5M176.2 1004.8h9.5M180.9 998.8v6.0M179.6 996.5h9.5M179.6 1002.5h9.5M184.3 996.5v6.0M183.0 994.1h9.5M183.0 1000.1h9.5M187.7 994.1v6.0M186.4 991.4h9.5M186.4 997.4h9.5M191.1 991.4v6.0M189.8 988.6h9.5M189.8 994.6h9.5M194.5 988.6v6.0M193.2 985.5h9.5M193.2 991.5h9.5M197.9 985.5v6.0M196.6 982.1h9.5M196.6 988.1h9.5M201.3 982.1v6.0M200.0 978.2h9.5M200.0 984.2h9.5M204.7 978.2v6.0M203.4 973.4h9.5M203.4 979.4h9.5M208.1 973.4v6.0M206.8 967.8h9.5M206.8 973.8h9.5M211.5 967.8v6.0M210.2 962.0h9.5M210.2 968.0h9.5M214.9 962.0v6.0M210.2 961.8h9.5M210.2 967.8h9.5M215.0 961.8v6.0M231.9 953.4h9.5M231.9 959.4h9.5M236.7 953.4v6.0M235.3 960.9h9.5M235.3 966.9h9.5M240.1 960.9v6.0M238.8 967.9h9.5M238.8 973.9h9.5M243.5 967.9v6.0M242.2 973.7h9.5M242.2 979.7h9.5M246.9 973.7v6.0M245.6 978.2h9.5M245.6 984.2h9.5M250.3 978.2v6.0M249.0 982.0h9.5M249.0 988.0h9.5M253.7 982.0v6.0M252.4 985.6h9.5M252.4 991.6h9.5M257.1 985.6v6.0M255.8 989.0h9.5M255.8 995.0h9.5M260.5 989.0v6.0M259.1 992.1h9.5M259.1 998.1h9.5M263.9 992.1v6.0M262.5 995.1h9.5M262.5 1001.1h9.5M267.3 995.1v6.0M265.9 997.9h9.5M265.9 1003.9h9.5M270.7 997.9v6.0M269.3 1000.8h9.5M269.3 1006.8h9.5M274.1 1000.8v6.0M272.7 1003.8h9.5M272.7 1009.8h9.5M277.5 1003.8v6.0M276.1 1007.1h9.5M276.1 1013.1h9.5M280.9 1007.1v6.0M279.5 1010.4h9.5M279.5 1016.4h9.5M284.3 1010.4v6.0M282.9 1013.1h9.5M282.9 1019.1h9.5M287.7 1013.1v6.0M286.3 1015.1h9.5M286.3 1021.1h9.5M291.1 1015.1v6.0M289.7 1016.6h9.5M289.7 1022.6h9.5M294.5 1016.6v6.0M293.1 1017.8h9.5M293.1 1023.8h9.5M297.9 1017.8v6.0M296.5 1018.8h9.5M296.5 1024.8h9.5M301.3 1018.8v6.0M299.9 1019.7h9.5M299.9 1025.7h9.5M304.7 1019.7v6.0M303.3 1020.6h9.5M303.3 1026.6h9.5M308.1 1020.6v6.0M306.7 1021.4h9.5M306.7 1027.4h9.5M311.5 1021.4v6.0M310.1 1022.3h9.5M310.1 1028.3h9.5M314.9 1022.3v6.0M313.5 1023.0h9.5M313.5 1029.0h9.5M318.3 1023.0v6.0M316.9 1023.7h9.5M316.9 1029.7h9.5M321.7 1023.7v6.0M320.3 1024.2h9.5M320.3 1030.2h9.5M325.1 1024.2v6.0M323.7 1024.5h9.5M323.7 1030.5h9.5M328.5 1024.5v6.0M327.1 1024.5h9.5M327.1 1030.5h9.5M331.9 1024.5v6.0M330.5 1024.2h9.5M330.5 1030.2h9.5M335.3 1024.2v6.0M333.9 1023.7h9.5M333.9 1029.7h9.5M338.7 1023.7v6.0M337.3 1023.0h9.5M337.3 1029.0h9.5M342.1 1023.0v6.0M340.7 1022.3h9.5M340.7 1028.3h9.5M345.5 1022.3v6.0M344.1 1021.4h9.5M344.1 1027.4h9.5M348.9 1021.4v6.0M347.5 1020.6h9.5M347.5 1026.6h9.5M352.3 1020.6v6.0M350.9 1019.5h9.5M350.9 1025.5h9.5M355.7 1019.5v6.0M354.3 1018.3h9.5M354.3 1024.3h9.5M359.1 1018.3v6.0M357.7 1016.5h9.5M357.7 1022.5h9.5M362.5 1016.5v6.0M361.1 1010.7h9.5M361.1 1016.7h9.5M365.9 1010.7v6.0M364.5 1011.9h9.5M364.5 1017.9h9.5M369.3 1011.9v6.0M367.9 1012.7h9.5M367.9 1018.7h9.5M372.7 1012.7v6.0M371.3 1011.2h9.5M371.3 1017.2h9.5M376.1 1011.2v6.0M374.7 1009.8h9.5M374.7 1015.8h9.5M379.5 1009.8v6.0M378.1 1008.3h9.5M378.1 1014.3h9.5M382.9 1008.3v6.0M381.5 1006.7h9.5M381.5 1012.7h9.5M386.3 1006.7v6.0M384.9 1004.8h9.5M384.9 1010.8h9.5M389.7 1004.8v6.0M388.3 1002.8h9.5M388.3 1008.8h9.5M393.1 1002.8v6.0M391.7 1000.6h9.5M391.7 1006.6h9.5M396.5 1000.6v6.0M395.1 998.3h9.5M395.1 1004.3h9.5M399.9 998.3v6.0M398.5 995.7h9.5M398.5 1001.7h9.5M403.3 995.7v6.0M401.9 992.8h9.5M401.9 998.8h9.5M406.7 992.8v6.0M405.3 989.3h9.5M405.3 995.3h9.5M410.1 989.3v6.0M408.7 985.6h9.5M408.7 991.6h9.5M413.5 985.6v6.0M412.1 981.4h9.5M412.1 987.4h9.5M416.9 981.4v6.0M415.5 976.7h9.5M415.5 982.7h9.5M420.3 976.7v6.0M418.9 971.7h9.5M418.9 977.7h9.5M423.7 971.7v6.0M420.4 969.6h9.5M420.4 975.6h9.5M425.1 969.6v6.0M439.2 942.0h9.5M439.2 948.0h9.5M444.0 942.0v6.0M442.6 954.1h9.5M442.6 960.1h9.5M447.4 954.1v6.0M446.0 964.0h9.5M446.0 970.0h9.5M450.8 964.0v6.0M449.4 972.8h9.5M449.4 978.8h9.5M454.2 972.8v6.0M452.8 980.2h9.5M452.8 986.2h9.5M457.6 980.2v6.0M456.2 986.3h9.5M456.2 992.3h9.5M461.0 986.3v6.0M459.6 991.9h9.5M459.6 997.9h9.5M464.4 991.9v6.0M463.0 997.5h9.5M463.0 1003.5h9.5M467.8 997.5v6.0M466.4 1003.7h9.5M466.4 1009.7h9.5M471.2 1003.7v6.0M468.8 1008.0h9.5M468.8 1014.0h9.5M473.5 1008.0v6.0" stroke="#0c5c1c" stroke-width="2.2" fill="none"/>
<path d="M119.7 1028.0C122.2 1026.8 129.4 1023.4 134.5 1020.7C139.6 1018.0 146.9 1014.0 150.2 1012.0C153.5 1010.0 153.3 1009.8 154.5 1009.0C155.7 1008.2 156.3 1006.5 157.1 1007.0C157.9 1007.5 158.3 1011.3 159.5 1012.0C160.7 1012.7 160.6 1012.5 164.0 1011.0C167.4 1009.5 174.8 1006.0 179.7 1003.0C184.6 1000.0 189.2 996.8 193.4 993.2C197.7 989.6 201.6 986.0 205.2 981.4C208.8 976.8 212.1 972.2 215.0 965.7C217.9 959.2 221.0 949.3 222.9 942.1C224.8 934.9 225.5 928.7 226.4 922.5C227.3 916.3 228.1 907.9 228.4 905.0L228.4 905.0C228.9 909.5 230.3 924.1 231.7 932.3C233.1 940.4 234.2 947.0 236.7 953.9C239.2 960.8 242.6 967.7 246.5 973.6C250.4 979.5 255.3 984.4 260.2 989.3C265.1 994.2 271.0 998.7 276.0 1003.1C281.0 1007.5 284.3 1012.3 290.0 1015.5C295.7 1018.7 303.5 1020.7 310.2 1022.5C316.9 1024.3 323.6 1026.3 330.3 1026.5C337.0 1026.7 345.1 1024.7 350.5 1023.5C355.9 1022.3 360.0 1021.1 362.6 1019.5C365.2 1017.9 365.0 1015.4 366.0 1014.0C367.0 1012.6 367.9 1011.1 368.6 1011.4C369.4 1011.7 369.8 1015.3 370.5 1016.0C371.2 1016.7 370.0 1016.6 372.7 1015.5C375.4 1014.4 381.8 1012.1 386.8 1009.4C391.8 1006.7 398.2 1003.0 402.9 999.3C407.6 995.6 411.3 991.6 415.0 987.2C418.7 982.8 422.2 978.5 425.1 973.1C428.0 967.7 430.4 961.7 432.2 955.0C434.0 948.3 435.0 940.2 436.2 932.8C437.4 925.4 438.7 914.3 439.2 910.6L439.2 910.6C439.7 914.6 440.8 927.1 442.2 934.8C443.6 942.5 445.1 950.0 447.3 957.0C449.5 964.0 452.4 971.1 455.4 977.1C458.4 983.1 462.4 988.6 465.4 993.3C468.4 998.0 472.1 1003.4 473.5 1005.4" stroke="#32dc2a" stroke-width="4.0" fill="none" stroke-linejoin="round"/>
<path d="M367.0 948.5V956.0M364.5 948.5h5M364.5 956.0h5" stroke="#5a2628" stroke-width="1.8" fill="none"/>
<path d="M119.7 964.9C122.2 964.4 129.4 963.3 134.5 961.8C139.6 960.2 146.9 957.3 150.2 955.6C153.5 953.8 153.3 952.0 154.5 951.3C155.7 950.6 156.3 950.7 157.1 951.4C157.9 952.1 158.7 955.5 159.5 955.7C160.3 955.9 158.6 954.6 162.0 952.7C165.4 950.9 174.5 947.6 179.7 944.7C184.9 941.9 189.2 939.2 193.4 935.6C197.7 932.1 201.6 928.3 205.2 923.7C208.8 919.0 213.4 910.4 215.0 907.8M236.7 903.2C238.3 906.5 242.6 916.9 246.5 922.8C250.4 928.6 255.3 933.9 260.2 938.4C265.1 943.0 271.0 946.5 276.0 950.0C281.0 953.5 284.3 957.3 290.0 959.7C295.7 962.0 303.5 963.2 310.2 964.2C316.9 965.2 323.6 966.1 330.3 965.7C337.0 965.4 345.1 963.7 350.5 962.3C355.9 961.0 360.1 959.4 362.6 957.7C365.1 956.1 364.7 953.2 365.5 952.3C366.3 951.5 366.9 951.8 367.6 952.6C368.4 953.4 369.1 956.6 370.0 957.1C370.9 957.5 369.9 956.4 372.7 955.1C375.5 953.7 381.8 951.5 386.8 948.7C391.8 945.9 398.2 942.1 402.9 938.4C407.6 934.6 411.3 930.8 415.0 926.1C418.7 921.3 423.4 912.6 425.1 909.9M444.0 885.0C444.8 887.8 446.8 895.5 449.0 902.0C451.2 908.5 453.9 916.8 457.0 924.0C460.1 931.2 464.8 939.5 467.5 945.0C470.2 950.5 472.5 955.0 473.5 957.0" stroke="#5a2628" stroke-width="6.5" fill="none" stroke-linejoin="round"/>
<path d="M115.0 961.9h9.5M115.0 967.9h9.5M119.7 961.9v6.0M118.4 961.3h9.5M118.4 967.3h9.5M123.1 961.3v6.0M121.8 960.6h9.5M121.8 966.6h9.5M126.5 960.6v6.0M125.2 960.0h9.5M125.2 966.0h9.5M129.9 960.0v6.0M128.6 959.1h9.5M128.6 965.1h9.5M133.3 959.1v6.0M132.0 958.1h9.5M132.0 964.1h9.5M136.7 958.1v6.0M135.4 956.9h9.5M135.4 962.9h9.5M140.1 956.9v6.0M138.8 955.5h9.5M138.8 961.5h9.5M143.5 955.5v6.0M142.2 954.1h9.5M142.2 960.1h9.5M146.9 954.1v6.0M145.6 952.5h9.5M145.6 958.5h9.5M150.3 952.5v6.0M149.0 949.2h9.5M149.0 955.2h9.5M153.7 949.2v6.0M152.4 948.4h9.5M152.4 954.4h9.5M157.1 948.4v6.0M155.8 950.8h9.5M155.8 956.8h9.5M160.5 950.8v6.0M159.2 948.8h9.5M159.2 954.8h9.5M163.9 948.8v6.0M162.6 947.3h9.5M162.6 953.3h9.5M167.3 947.3v6.0M166.0 945.9h9.5M166.0 951.9h9.5M170.7 945.9v6.0M169.4 944.4h9.5M169.4 950.4h9.5M174.1 944.4v6.0M172.8 942.8h9.5M172.8 948.8h9.5M177.5 942.8v6.0M176.2 941.0h9.5M176.2 947.0h9.5M180.9 941.0v6.0M179.6 939.1h9.5M179.6 945.1h9.5M184.3 939.1v6.0M183.0 936.9h9.5M183.0 942.9h9.5M187.7 936.9v6.0M186.4 934.5h9.5M186.4 940.5h9.5M191.1 934.5v6.0M189.8 931.7h9.5M189.8 937.7h9.5M194.5 931.7v6.0M193.2 928.7h9.5M193.2 934.7h9.5M197.9 928.7v6.0M196.6 925.3h9.5M196.6 931.3h9.5M201.3 925.3v6.0M200.0 921.3h9.5M200.0 927.3h9.5M204.7 921.3v6.0M203.4 916.5h9.5M203.4 922.5h9.5M208.1 916.5v6.0M206.8 910.9h9.5M206.8 916.9h9.5M211.5 910.9v6.0M210.2 905.0h9.5M210.2 911.0h9.5M214.9 905.0v6.0M210.2 904.8h9.5M210.2 910.8h9.5M215.0 904.8v6.0M231.9 900.2h9.5M231.9 906.2h9.5M236.7 900.2v6.0M235.3 907.6h9.5M235.3 913.6h9.5M240.1 907.6v6.0M238.8 914.6h9.5M238.8 920.6h9.5M243.5 914.6v6.0M242.2 920.4h9.5M242.2 926.4h9.5M246.9 920.4v6.0M245.6 924.9h9.5M245.6 930.9h9.5M250.3 924.9v6.0M249.0 928.9h9.5M249.0 934.9h9.5M253.7 928.9v6.0M252.4 932.5h9.5M252.4 938.5h9.5M257.1 932.5v6.0M255.8 935.7h9.5M255.8 941.7h9.5M260.5 935.7v6.0M259.1 938.5h9.5M259.1 944.5h9.5M263.9 938.5v6.0M262.5 941.0h9.5M262.5 947.0h9.5M267.3 941.0v6.0M265.9 943.4h9.5M265.9 949.4h9.5M270.7 943.4v6.0M269.3 945.7h9.5M269.3 951.7h9.5M274.1 945.7v6.0M272.7 948.1h9.5M272.7 954.1h9.5M277.5 948.1v6.0M276.1 950.8h9.5M276.1 956.8h9.5M280.9 950.8v6.0M279.5 953.4h9.5M279.5 959.4h9.5M284.3 953.4v6.0M282.9 955.6h9.5M282.9 961.6h9.5M287.7 955.6v6.0M286.3 957.1h9.5M286.3 963.1h9.5M291.1 957.1v6.0M289.7 958.2h9.5M289.7 964.2h9.5M294.5 958.2v6.0M293.1 959.0h9.5M293.1 965.0h9.5M297.9 959.0v6.0M296.5 959.7h9.5M296.5 965.7h9.5M301.3 959.7v6.0M299.9 960.3h9.5M299.9 966.3h9.5M304.7 960.3v6.0M303.3 960.9h9.5M303.3 966.9h9.5M308.1 960.9v6.0M306.7 961.4h9.5M306.7 967.4h9.5M311.5 961.4v6.0M310.1 961.9h9.5M310.1 967.9h9.5M314.9 961.9v6.0M313.5 962.3h9.5M313.5 968.3h9.5M318.3 962.3v6.0M316.9 962.6h9.5M316.9 968.6h9.5M321.7 962.6v6.0M320.3 962.8h9.5M320.3 968.8h9.5M325.1 962.8v6.0M323.7 962.8h9.5M323.7 968.8h9.5M328.5 962.8v6.0M327.1 962.6h9.5M327.1 968.6h9.5M331.9 962.6v6.0M330.5 962.3h9.5M330.5 968.3h9.5M335.3 962.3v6.0M333.9 961.8h9.5M333.9 967.8h9.5M338.7 961.8v6.0M337.3 961.2h9.5M337.3 967.2h9.5M342.1 961.2v6.0M340.7 960.5h9.5M340.7 966.5h9.5M345.5 960.5v6.0M344.1 959.7h9.5M344.1 965.7h9.5M348.9 959.7v6.0M347.5 958.9h9.5M347.5 964.9h9.5M352.3 958.9v6.0M350.9 957.8h9.5M350.9 963.8h9.5M355.7 957.8v6.0M354.3 956.6h9.5M354.3 962.6h9.5M359.1 956.6v6.0M357.7 954.8h9.5M357.7 960.8h9.5M362.5 954.8v6.0M361.1 949.0h9.5M361.1 955.0h9.5M365.9 949.0v6.0M364.5 953.2h9.5M364.5 959.2h9.5M369.3 953.2v6.0M367.9 952.1h9.5M367.9 958.1h9.5M372.7 952.1v6.0M371.3 950.6h9.5M371.3 956.6h9.5M376.1 950.6v6.0M374.7 949.2h9.5M374.7 955.2h9.5M379.5 949.2v6.0M378.1 947.7h9.5M378.1 953.7h9.5M382.9 947.7v6.0M381.5 946.0h9.5M381.5 952.0h9.5M386.3 946.0v6.0M384.9 944.1h9.5M384.9 950.1h9.5M389.7 944.1v6.0M388.3 942.1h9.5M388.3 948.1h9.5M393.1 942.1v6.0M391.7 939.9h9.5M391.7 945.9h9.5M396.5 939.9v6.0M395.1 937.6h9.5M395.1 943.6h9.5M399.9 937.6v6.0M398.5 935.0h9.5M398.5 941.0h9.5M403.3 935.0v6.0M401.9 932.1h9.5M401.9 938.1h9.5M406.7 932.1v6.0M405.3 928.8h9.5M405.3 934.8h9.5M410.1 928.8v6.0M408.7 924.9h9.5M408.7 930.9h9.5M413.5 924.9v6.0M412.1 920.4h9.5M412.1 926.4h9.5M416.9 920.4v6.0M415.5 915.1h9.5M415.5 921.1h9.5M420.3 915.1v6.0M418.9 909.3h9.5M418.9 915.3h9.5M423.7 909.3v6.0M420.4 906.9h9.5M420.4 912.9h9.5M425.1 906.9v6.0M439.2 882.0h9.5M439.2 888.0h9.5M444.0 882.0v6.0M442.6 893.9h9.5M442.6 899.9h9.5M447.4 893.9v6.0M446.0 904.4h9.5M446.0 910.4h9.5M450.8 904.4v6.0M449.4 914.0h9.5M449.4 920.0h9.5M454.2 914.0v6.0M452.8 922.4h9.5M452.8 928.4h9.5M457.6 922.4v6.0M456.2 929.4h9.5M456.2 935.4h9.5M461.0 929.4v6.0M459.6 936.0h9.5M459.6 942.0h9.5M464.4 936.0v6.0M463.0 942.6h9.5M463.0 948.6h9.5M467.8 942.6v6.0M466.4 949.4h9.5M466.4 955.4h9.5M471.2 949.4v6.0M468.8 954.0h9.5M468.8 960.0h9.5M473.5 954.0v6.0" stroke="#5a2628" stroke-width="2.2" fill="none"/>
<path d="M119.7 964.7C122.2 964.2 129.4 963.3 134.5 961.8C139.6 960.3 146.9 957.5 150.2 955.9C153.5 954.3 153.3 953.0 154.5 952.0C155.7 951.0 156.3 949.7 157.1 950.0C157.9 950.3 158.7 953.5 159.5 954.0C160.3 954.5 158.6 954.5 162.0 953.0C165.4 951.5 174.5 947.9 179.7 945.1C184.9 942.3 189.2 939.7 193.4 936.3C197.7 932.9 201.6 929.1 205.2 924.5C208.8 919.9 212.1 915.2 215.0 908.7C217.9 902.2 221.0 892.4 222.9 885.2C224.8 878.0 225.5 871.4 226.4 865.5C227.3 859.6 228.1 852.6 228.4 850.0L228.4 850.0C228.9 853.9 230.3 864.9 231.7 873.4C233.1 881.9 234.2 893.0 236.7 900.9C239.2 908.8 242.6 914.6 246.5 920.5C250.4 926.4 255.3 931.7 260.2 936.3C265.1 940.9 271.0 944.4 276.0 948.0C281.0 951.6 284.3 955.5 290.0 958.0C295.7 960.5 303.5 961.8 310.2 963.0C316.9 964.2 323.6 965.2 330.3 965.0C337.0 964.8 345.1 963.2 350.5 962.0C355.9 960.8 360.1 959.5 362.6 958.0C365.1 956.5 364.7 954.2 365.5 953.0C366.3 951.8 366.9 950.6 367.6 950.9C368.4 951.2 369.1 954.3 370.0 955.0C370.9 955.7 369.9 956.0 372.7 955.0C375.5 954.0 381.8 951.6 386.8 948.9C391.8 946.2 398.2 942.5 402.9 938.8C407.6 935.1 411.3 931.4 415.0 926.7C418.7 922.0 422.2 916.7 425.1 910.6C428.0 904.5 430.4 897.1 432.2 890.4C434.0 883.7 435.0 876.8 436.2 870.3C437.4 863.8 438.7 854.3 439.2 851.1L439.2 851.1C439.7 855.0 440.8 866.4 442.2 874.3C443.6 882.2 445.1 891.1 447.3 898.5C449.5 905.9 452.4 912.3 455.4 918.7C458.4 925.1 462.4 931.8 465.4 936.8C468.4 941.8 472.1 946.9 473.5 948.9" stroke="#d41ec8" stroke-width="4.0" fill="none" stroke-linejoin="round"/>
</g>
<path d="M157.8 840.4v4.5M157.8 1203.3v-4.5M227.9 840.4v4.5M227.9 1203.3v-4.5M298.1 840.4v4.5M298.1 1203.3v-4.5M368.2 840.4v4.5M368.2 1203.3v-4.5M438.4 840.4v4.5M438.4 1203.3v-4.5M109.3 1184.9h4.2M481.0 1184.9h-4.2M109.3 1123.9h4.2M481.0 1123.9h-4.2M109.3 1062.9h4.2M481.0 1062.9h-4.2M109.3 1001.9h4.2M481.0 1001.9h-4.2M109.3 940.9h4.2M481.0 940.9h-4.2M109.3 879.9h4.2M481.0 879.9h-4.2" stroke="#000" stroke-width="2" fill="none"/>
<path d="M109.3 1166.5h2.2M481.0 1166.5h-2.2M109.3 1155.8h2.2M481.0 1155.8h-2.2M109.3 1148.2h2.2M481.0 1148.2h-2.2M109.3 1142.3h2.2M481.0 1142.3h-2.2M109.3 1137.4h2.2M481.0 1137.4h-2.2M109.3 1133.3h2.2M481.0 1133.3h-2.2M109.3 1129.8h2.2M481.0 1129.8h-2.2M109.3 1126.7h2.2M481.0 1126.7h-2.2M109.3 1105.5h2.2M481.0 1105.5h-2.2M109.3 1094.8h2.2M481.0 1094.8h-2.2M109.3 1087.2h2.2M481.0 1087.2h-2.2M109.3 1081.3h2.2M481.0 1081.3h-2.2M109.3 1076.4h2.2M481.0 1076.4h-2.2M109.3 1072.3h2.2M481.0 1072.3h-2.2M109.3 1068.8h2.2M481.0 1068.8h-2.2M109.3 1065.7h2.2M481.0 1065.7h-2.2M109.3 1044.5h2.2M481.0 1044.5h-2.2M109.3 1033.8h2.2M481.0 1033.8h-2.2M109.3 1026.2h2.2M481.0 1026.2h-2.2M109.3 1020.3h2.2M481.0 1020.3h-2.2M109.3 1015.4h2.2M481.0 1015.4h-2.2M109.3 1011.3h2.2M481.0 1011.3h-2.2M109.3 1007.8h2.2M481.0 1007.8h-2.2M109.3 1004.7h2.2M481.0 1004.7h-2.2M109.3 983.5h2.2M481.0 983.5h-2.2M109.3 972.8h2.2M481.0 972.8h-2.2M109.3 965.2h2.2M481.0 965.2h-2.2M109.3 959.3h2.2M481.0 959.3h-2.2M109.3 954.4h2.2M481.0 954.4h-2.2M109.3 950.3h2.2M481.0 950.3h-2.2M109.3 946.8h2.2M481.0 946.8h-2.2M109.3 943.7h2.2M481.0 943.7h-2.2M109.3 922.5h2.2M481.0 922.5h-2.2M109.3 911.8h2.2M481.0 911.8h-2.2M109.3 904.2h2.2M481.0 904.2h-2.2M109.3 898.3h2.2M481.0 898.3h-2.2M109.3 893.4h2.2M481.0 893.4h-2.2M109.3 889.3h2.2M481.0 889.3h-2.2M109.3 885.8h2.2M481.0 885.8h-2.2M109.3 882.7h2.2M481.0 882.7h-2.2M109.3 861.5h2.2M481.0 861.5h-2.2M109.3 850.8h2.2M481.0 850.8h-2.2M109.3 843.2h2.2M481.0 843.2h-2.2M122.7 840.4v2.2M122.7 1203.3v-2.2M192.8 840.4v2.2M192.8 1203.3v-2.2M263.0 840.4v2.2M263.0 1203.3v-2.2M333.1 840.4v2.2M333.1 1203.3v-2.2M403.3 840.4v2.2M403.3 1203.3v-2.2M473.4 840.4v2.2M473.4 1203.3v-2.2" stroke="#000" stroke-width="1.3" fill="none"/>
<rect x="109.3" y="840.4" width="371.7" height="362.9" fill="none" stroke="#000" stroke-width="2.8"/>
<clipPath id="cp21"><rect x="491.5" y="840.4" width="371.9" height="362.9"/></clipPath>
<g clip-path="url(#cp21)">
<path d="M505.7 922.6C507.6 923.8 513.8 927.7 517.4 929.9C521.0 932.1 522.5 933.7 527.5 935.9C532.5 938.1 539.3 941.1 547.7 943.0C556.1 944.9 569.5 946.5 577.9 947.0C586.3 947.5 591.4 947.2 598.1 946.0C604.8 944.8 611.6 942.8 618.3 939.9C625.0 937.1 631.7 933.4 638.4 928.9C645.1 924.4 652.9 919.1 658.6 912.7C664.3 906.3 669.6 897.1 672.7 890.5C675.8 883.9 676.1 878.7 677.2 873.1C678.4 867.5 679.0 862.6 679.6 857.1C680.2 851.6 680.4 842.9 680.6 840.1L680.6 840.1C680.8 842.9 681.2 851.6 681.8 857.1C682.4 862.6 683.0 867.3 684.2 873.1C685.4 878.9 686.9 884.8 689.2 892.1C691.5 899.4 693.2 909.5 698.2 916.7C703.2 923.9 710.3 930.4 718.9 935.4C727.5 940.4 744.7 944.8 749.9 946.7" stroke="#c8c8c8" stroke-width="5" fill="none" stroke-linejoin="round" stroke-linecap="round"/>
<path d="M505.7 983.6C507.6 984.8 513.8 988.7 517.4 990.9C521.0 993.1 522.5 994.7 527.5 996.9C532.5 999.1 539.3 1002.1 547.7 1004.0C556.1 1005.9 569.5 1007.5 577.9 1008.0C586.3 1008.5 591.4 1008.2 598.1 1007.0C604.8 1005.8 611.6 1003.8 618.3 1000.9C625.0 998.1 631.7 994.4 638.4 989.9C645.1 985.4 652.9 980.1 658.6 973.7C664.3 967.3 669.6 958.1 672.7 951.5C675.8 944.9 676.1 939.7 677.2 934.1C678.4 928.5 679.0 923.6 679.6 918.1C680.2 912.6 680.4 903.9 680.6 901.1L680.6 901.1C680.8 903.9 681.2 912.6 681.8 918.1C682.4 923.6 683.0 928.3 684.2 934.1C685.4 939.9 686.9 945.8 689.2 953.1C691.5 960.4 693.2 970.5 698.2 977.7C703.2 984.9 710.3 991.4 718.9 996.4C727.5 1001.4 744.7 1005.8 749.9 1007.7" stroke="#c8c8c8" stroke-width="5" fill="none" stroke-linejoin="round" stroke-linecap="round"/>
<path d="M505.7 1044.6C507.6 1045.8 513.8 1049.7 517.4 1051.9C521.0 1054.1 522.5 1055.7 527.5 1057.9C532.5 1060.1 539.3 1063.2 547.7 1065.0C556.1 1066.8 569.5 1068.5 577.9 1069.0C586.3 1069.5 591.4 1069.2 598.1 1068.0C604.8 1066.8 611.6 1064.8 618.3 1061.9C625.0 1059.1 631.7 1055.4 638.4 1050.9C645.1 1046.4 652.9 1041.1 658.6 1034.7C664.3 1028.3 669.6 1019.1 672.7 1012.5C675.8 1005.9 676.1 1000.7 677.2 995.1C678.4 989.5 679.0 984.6 679.6 979.1C680.2 973.6 680.4 964.9 680.6 962.1L680.6 962.1C680.8 964.9 681.2 973.6 681.8 979.1C682.4 984.6 683.0 989.3 684.2 995.1C685.4 1000.9 686.9 1006.8 689.2 1014.1C691.5 1021.4 693.2 1031.5 698.2 1038.7C703.2 1045.9 710.3 1052.4 718.9 1057.4C727.5 1062.4 744.7 1066.8 749.9 1068.7" stroke="#c8c8c8" stroke-width="5" fill="none" stroke-linejoin="round" stroke-linecap="round"/>
<path d="M505.7 1105.6C507.6 1106.8 513.8 1110.7 517.4 1112.9C521.0 1115.1 522.5 1116.7 527.5 1118.9C532.5 1121.1 539.3 1124.2 547.7 1126.0C556.1 1127.8 569.5 1129.5 577.9 1130.0C586.3 1130.5 591.4 1130.2 598.1 1129.0C604.8 1127.8 611.6 1125.8 618.3 1122.9C625.0 1120.1 631.7 1116.4 638.4 1111.9C645.1 1107.4 652.9 1102.1 658.6 1095.7C664.3 1089.3 669.6 1080.1 672.7 1073.5C675.8 1066.9 676.1 1061.7 677.2 1056.1C678.4 1050.5 679.0 1045.6 679.6 1040.1C680.2 1034.6 680.4 1025.9 680.6 1023.1L680.6 1023.1C680.8 1025.9 681.2 1034.6 681.8 1040.1C682.4 1045.6 683.0 1050.3 684.2 1056.1C685.4 1061.9 686.9 1067.8 689.2 1075.1C691.5 1082.4 693.2 1092.5 698.2 1099.7C703.2 1106.9 710.3 1113.4 718.9 1118.4C727.5 1123.4 744.7 1127.8 749.9 1129.7" stroke="#c8c8c8" stroke-width="5" fill="none" stroke-linejoin="round" stroke-linecap="round"/>
<path d="M507.0 1082.0L515.0 1090.0L528.0 1101.0L540.0 1110.0L550.0 1115.0L550.0 1121.0L540.0 1119.0L528.0 1115.0L515.0 1111.0L507.0 1108.0Z" fill="#680a0c" opacity="1.0"/>
<path d="M506.6 1106.2C508.7 1106.9 513.5 1108.6 519.0 1110.3C524.5 1112.0 532.8 1114.8 539.7 1116.5C546.6 1118.2 553.5 1119.8 560.4 1120.7C567.3 1121.6 574.2 1121.7 581.1 1121.7C588.0 1121.7 594.9 1121.9 601.8 1120.7C608.7 1119.5 615.5 1117.6 622.4 1114.5C629.3 1111.4 636.9 1106.6 643.1 1102.1C649.3 1097.6 655.2 1092.8 659.7 1087.6C664.2 1082.4 667.2 1077.9 670.0 1071.0C672.8 1064.1 675.2 1050.3 676.2 1046.2" stroke="#680a0c" stroke-width="7.5" fill="none" stroke-linejoin="round"/>
<path d="M501.9 1103.2h9.5M501.9 1109.2h9.5M506.6 1103.2v6.0M505.2 1104.4h9.5M505.2 1110.4h9.5M510.0 1104.4v6.0M508.6 1105.5h9.5M508.6 1111.5h9.5M513.4 1105.5v6.0M512.0 1106.6h9.5M512.0 1112.6h9.5M516.8 1106.6v6.0M515.4 1107.7h9.5M515.4 1113.7h9.5M520.2 1107.7v6.0M518.8 1108.8h9.5M518.8 1114.8h9.5M523.6 1108.8v6.0M522.2 1109.8h9.5M522.2 1115.8h9.5M527.0 1109.8v6.0M525.6 1110.9h9.5M525.6 1116.9h9.5M530.4 1110.9v6.0M529.0 1111.9h9.5M529.0 1117.9h9.5M533.8 1111.9v6.0M532.4 1112.8h9.5M532.4 1118.8h9.5M537.2 1112.8v6.0M535.8 1113.7h9.5M535.8 1119.7h9.5M540.6 1113.7v6.0M539.2 1114.6h9.5M539.2 1120.6h9.5M544.0 1114.6v6.0M542.6 1115.3h9.5M542.6 1121.3h9.5M547.4 1115.3v6.0M546.0 1116.1h9.5M546.0 1122.1h9.5M550.8 1116.1v6.0M549.4 1116.7h9.5M549.4 1122.7h9.5M554.2 1116.7v6.0M552.8 1117.3h9.5M552.8 1123.3h9.5M557.6 1117.3v6.0M556.2 1117.8h9.5M556.2 1123.8h9.5M561.0 1117.8v6.0M559.6 1118.1h9.5M559.6 1124.1h9.5M564.4 1118.1v6.0M563.0 1118.4h9.5M563.0 1124.4h9.5M567.8 1118.4v6.0M566.4 1118.5h9.5M566.4 1124.5h9.5M571.2 1118.5v6.0M569.8 1118.6h9.5M569.8 1124.6h9.5M574.6 1118.6v6.0M573.2 1118.7h9.5M573.2 1124.7h9.5M578.0 1118.7v6.0M576.6 1118.7h9.5M576.6 1124.7h9.5M581.4 1118.7v6.0M580.0 1118.7h9.5M580.0 1124.7h9.5M584.8 1118.7v6.0M583.4 1118.7h9.5M583.4 1124.7h9.5M588.2 1118.7v6.0M586.8 1118.6h9.5M586.8 1124.6h9.5M591.6 1118.6v6.0M590.2 1118.5h9.5M590.2 1124.5h9.5M595.0 1118.5v6.0M593.6 1118.2h9.5M593.6 1124.2h9.5M598.4 1118.2v6.0M597.0 1117.7h9.5M597.0 1123.7h9.5M601.8 1117.7v6.0M600.4 1117.0h9.5M600.4 1123.0h9.5M605.2 1117.0v6.0M603.8 1116.3h9.5M603.8 1122.3h9.5M608.6 1116.3v6.0M607.2 1115.3h9.5M607.2 1121.3h9.5M612.0 1115.3v6.0M610.6 1114.3h9.5M610.6 1120.3h9.5M615.4 1114.3v6.0M614.0 1113.0h9.5M614.0 1119.0h9.5M618.8 1113.0v6.0M617.4 1111.6h9.5M617.4 1117.6h9.5M622.2 1111.6v6.0M620.8 1110.0h9.5M620.8 1116.0h9.5M625.6 1110.0v6.0M624.2 1108.2h9.5M624.2 1114.2h9.5M629.0 1108.2v6.0M627.6 1106.2h9.5M627.6 1112.2h9.5M632.4 1106.2v6.0M631.0 1104.1h9.5M631.0 1110.1h9.5M635.8 1104.1v6.0M634.4 1101.8h9.5M634.4 1107.8h9.5M639.2 1101.8v6.0M637.8 1099.5h9.5M637.8 1105.5h9.5M642.6 1099.5v6.0M641.2 1097.0h9.5M641.2 1103.0h9.5M646.0 1097.0v6.0M644.6 1094.3h9.5M644.6 1100.3h9.5M649.4 1094.3v6.0M648.0 1091.5h9.5M648.0 1097.5h9.5M652.8 1091.5v6.0M651.4 1088.3h9.5M651.4 1094.3h9.5M656.2 1088.3v6.0M654.8 1084.7h9.5M654.8 1090.7h9.5M659.6 1084.7v6.0M658.2 1080.5h9.5M658.2 1086.5h9.5M663.0 1080.5v6.0M661.6 1075.5h9.5M661.6 1081.5h9.5M666.4 1075.5v6.0M665.0 1068.5h9.5M665.0 1074.5h9.5M669.8 1068.5v6.0M668.4 1056.9h9.5M668.4 1062.9h9.5M673.2 1056.9v6.0M671.5 1043.2h9.5M671.5 1049.2h9.5M676.2 1043.2v6.0" stroke="#680a0c" stroke-width="2.2" fill="none"/>
<path d="M506.6 1107.2C508.7 1107.9 513.5 1109.6 519.0 1111.3C524.5 1113.0 532.8 1115.8 539.7 1117.5C546.6 1119.2 553.5 1120.8 560.4 1121.7C567.3 1122.6 574.2 1122.7 581.1 1122.7C588.0 1122.7 594.9 1122.9 601.8 1121.7C608.7 1120.5 615.5 1118.6 622.4 1115.5C629.3 1112.4 636.9 1107.6 643.1 1103.1C649.3 1098.6 655.2 1093.8 659.7 1088.6C664.2 1083.4 667.2 1078.9 670.0 1072.0C672.8 1065.1 674.6 1053.7 676.2 1047.2C677.8 1040.7 678.7 1037.0 679.5 1033.0C680.3 1029.0 680.8 1024.7 681.0 1023.0" stroke="#d8141e" stroke-width="4.0" fill="none" stroke-linejoin="round"/>
<path d="M681.0 1023.0C681.2 1025.0 682.0 1030.0 682.5 1035.0C683.0 1040.0 683.0 1044.7 684.3 1052.9C685.6 1061.1 687.7 1075.8 690.1 1084.4C692.5 1093.0 694.9 1098.8 698.7 1104.5C702.5 1110.2 708.2 1115.2 713.0 1118.8C717.8 1122.4 721.1 1123.8 727.3 1126.0C733.5 1128.2 746.4 1130.8 750.2 1131.7" stroke="#d8141e" stroke-width="2.6" fill="none" stroke-linejoin="round"/>
<path d="M504.5 1018.0L511.0 1020.0L517.0 1030.0L525.0 1048.0L540.0 1075.0L552.0 1094.0L559.0 1105.0L560.0 1114.0L553.0 1113.0L540.0 1098.0L525.0 1084.0L515.0 1077.0L511.0 1075.0L510.0 1117.0L504.5 1117.0Z" fill="#08085c" opacity="1.0"/><path d="M506.0 1100.0L506.0 1178.6" stroke="#08085c" stroke-width="2" fill="none"/><path d="M503.0 1178.6L509.0 1178.6" stroke="#08085c" stroke-width="2" fill="none"/><path d="M549.0 1107.7V1135.9M546.5 1107.7h5M546.5 1135.9h5M551.3 1109.7V1135.8M548.8 1109.7h5M548.8 1135.8h5M553.7 1104.2V1131.4M551.2 1104.2h5M551.2 1131.4h5M556.2 1107.9V1138.4M553.7 1107.9h5M553.7 1138.4h5M557.9 1106.8V1127.9M555.4 1106.8h5M555.4 1127.9h5M560.0 1107.4V1124.2M557.5 1107.4h5M557.5 1124.2h5M561.8 1105.7V1138.7M559.3 1105.7h5M559.3 1138.7h5M564.1 1105.0V1136.8M561.6 1105.0h5M561.6 1136.8h5M565.8 1107.7V1126.0M563.3 1107.7h5M563.3 1126.0h5M567.4 1109.2V1127.4M564.9 1109.2h5M564.9 1127.4h5M569.2 1109.9V1138.0M566.7 1109.9h5M566.7 1138.0h5M571.1 1109.8V1132.6M568.6 1109.8h5M568.6 1132.6h5M573.3 1105.2V1139.1M570.8 1105.2h5M570.8 1139.1h5M575.5 1109.8V1138.3M573.0 1109.8h5M573.0 1138.3h5M577.4 1106.2V1126.7M574.9 1106.2h5M574.9 1126.7h5M579.1 1104.4V1128.8M576.6 1104.4h5M576.6 1128.8h5M581.2 1104.0V1134.8M578.7 1104.0h5M578.7 1134.8h5M583.1 1105.9V1137.1M580.6 1105.9h5M580.6 1137.1h5M585.2 1105.8V1131.7M582.7 1105.8h5M582.7 1131.7h5M587.4 1103.5V1139.6M584.9 1103.5h5M584.9 1139.6h5M589.0 1107.1V1137.5M586.5 1107.1h5M586.5 1137.5h5M590.6 1106.8V1129.9M588.1 1106.8h5M588.1 1129.9h5M592.8 1101.3V1124.7M590.3 1101.3h5M590.3 1124.7h5M594.5 1106.4V1127.1M592.0 1106.4h5M592.0 1127.1h5M596.8 1105.4V1139.1M594.3 1105.4h5M594.3 1139.1h5M598.7 1101.3V1132.4M596.2 1101.3h5M596.2 1132.4h5M601.0 1099.0V1136.0M598.5 1099.0h5M598.5 1136.0h5M603.3 1102.7V1124.6M600.8 1102.7h5M600.8 1124.6h5M605.8 1097.3V1129.5M603.3 1097.3h5M603.3 1129.5h5M607.9 1101.5V1129.4M605.4 1101.5h5M605.4 1129.4h5M610.4 1098.4V1129.0M607.9 1098.4h5M607.9 1129.0h5M612.2 1095.5V1125.3M609.7 1095.5h5M609.7 1125.3h5M552.4 1107.0V1139.3M549.9 1139.3h5M558.2 1107.0V1158.4M555.7 1158.4h5M560.7 1107.0V1148.0M558.2 1148.0h5M566.5 1107.0V1152.6M564.0 1152.6h5M570.6 1107.0V1164.2M568.1 1164.2h5M573.1 1107.0V1186.5M570.6 1186.5h5M578.9 1107.0V1178.2M576.4 1178.2h5M584.7 1107.0V1203.0M582.2 1203.0h5M588.0 1106.0V1146.0M585.5 1146.0h5M597.1 1102.8V1170.8M594.6 1170.8h5M602.9 1100.7V1162.5M600.4 1162.5h5M607.9 1099.0V1203.0M605.4 1203.0h5M611.2 1097.8V1131.0M608.7 1131.0h5" stroke="#08085c" stroke-width="2.4" fill="none"/><path d="M558.0 1080.3L563.0 1080.3" stroke="#08085c" stroke-width="2.2" fill="none"/>
<path d="M614.0 1092.0C615.1 1090.6 617.3 1087.3 620.4 1083.5C623.5 1079.7 628.0 1074.8 632.8 1069.0C637.6 1063.2 644.1 1054.9 649.3 1048.4C654.5 1041.9 659.7 1036.0 663.8 1029.8C667.9 1023.6 672.1 1015.3 674.1 1011.0C676.1 1006.7 675.7 1005.2 676.0 1004.0M686.0 1004.0C687.1 1006.9 689.8 1014.3 692.9 1021.2C696.0 1028.1 700.1 1038.2 704.4 1045.2C708.7 1052.2 713.9 1058.5 718.7 1063.4C723.5 1068.3 729.3 1072.1 733.0 1074.4C736.7 1076.7 739.7 1076.6 741.0 1077.0" stroke="#08085c" stroke-width="8.5" fill="none" stroke-linejoin="round"/>
<path d="M609.2 1089.0h9.5M609.2 1095.0h9.5M614.0 1089.0v6.0M612.6 1084.3h9.5M612.6 1090.3h9.5M617.4 1084.3v6.0M616.0 1080.0h9.5M616.0 1086.0h9.5M620.8 1080.0v6.0M619.4 1076.0h9.5M619.4 1082.0h9.5M624.2 1076.0v6.0M622.8 1072.1h9.5M622.8 1078.1h9.5M627.6 1072.1v6.0M626.2 1068.2h9.5M626.2 1074.2h9.5M631.0 1068.2v6.0M629.6 1064.0h9.5M629.6 1070.0h9.5M634.4 1064.0v6.0M633.0 1059.8h9.5M633.0 1065.8h9.5M637.8 1059.8v6.0M636.4 1055.6h9.5M636.4 1061.6h9.5M641.2 1055.6v6.0M639.8 1051.3h9.5M639.8 1057.3h9.5M644.6 1051.3v6.0M643.2 1047.0h9.5M643.2 1053.0h9.5M648.0 1047.0v6.0M646.6 1042.8h9.5M646.6 1048.8h9.5M651.4 1042.8v6.0M650.0 1038.6h9.5M650.0 1044.6h9.5M654.8 1038.6v6.0M653.4 1034.4h9.5M653.4 1040.4h9.5M658.2 1034.4v6.0M656.8 1030.0h9.5M656.8 1036.0h9.5M661.6 1030.0v6.0M660.2 1024.9h9.5M660.2 1030.9h9.5M665.0 1024.9v6.0M663.6 1019.1h9.5M663.6 1025.1h9.5M668.4 1019.1v6.0M667.0 1012.7h9.5M667.0 1018.7h9.5M671.8 1012.7v6.0M670.4 1005.3h9.5M670.4 1011.3h9.5M675.2 1005.3v6.0M671.2 1001.0h9.5M671.2 1007.0h9.5M676.0 1001.0v6.0M681.2 1001.0h9.5M681.2 1007.0h9.5M686.0 1001.0v6.0M684.6 1009.8h9.5M684.6 1015.8h9.5M689.4 1009.8v6.0M688.0 1018.0h9.5M688.0 1024.0h9.5M692.8 1018.0v6.0M691.4 1025.7h9.5M691.4 1031.7h9.5M696.2 1025.7v6.0M694.8 1033.2h9.5M694.8 1039.2h9.5M699.6 1033.2v6.0M698.2 1039.8h9.5M698.2 1045.8h9.5M703.0 1039.8v6.0M701.6 1045.3h9.5M701.6 1051.3h9.5M706.4 1045.3v6.0M705.0 1050.1h9.5M705.0 1056.1h9.5M709.8 1050.1v6.0M708.4 1054.3h9.5M708.4 1060.3h9.5M713.2 1054.3v6.0M711.8 1058.2h9.5M711.8 1064.2h9.5M716.6 1058.2v6.0M715.2 1061.7h9.5M715.2 1067.7h9.5M720.0 1061.7v6.0M718.6 1064.7h9.5M718.6 1070.7h9.5M723.4 1064.7v6.0M722.0 1067.3h9.5M722.0 1073.3h9.5M726.8 1067.3v6.0M725.4 1069.6h9.5M725.4 1075.6h9.5M730.2 1069.6v6.0M728.8 1071.7h9.5M728.8 1077.7h9.5M733.6 1071.7v6.0M732.2 1073.2h9.5M732.2 1079.2h9.5M737.0 1073.2v6.0M735.6 1073.9h9.5M735.6 1079.9h9.5M740.4 1073.9v6.0M736.2 1074.0h9.5M736.2 1080.0h9.5M741.0 1074.0v6.0" stroke="#08085c" stroke-width="2.2" fill="none"/>
<path d="M505.6 1053.4C507.8 1055.5 514.4 1061.0 519.0 1065.8C523.6 1070.6 528.3 1076.5 533.5 1082.4C538.7 1088.3 545.2 1096.9 550.0 1101.0C554.8 1105.1 558.4 1106.5 562.5 1107.2C566.6 1107.9 570.1 1106.5 574.9 1105.1C579.7 1103.7 585.9 1100.6 591.4 1098.9C596.9 1097.2 603.2 1096.9 608.0 1094.8C612.8 1092.7 616.3 1090.3 620.4 1086.5C624.5 1082.7 628.0 1077.8 632.8 1072.0C637.6 1066.2 644.1 1057.9 649.3 1051.4C654.5 1044.9 659.7 1039.0 663.8 1032.8C667.9 1026.6 671.6 1020.4 674.1 1014.1C676.6 1007.8 677.4 1003.5 678.5 995.0C679.6 986.5 680.6 968.3 681.0 963.0L681.0 963.0C681.4 966.7 682.4 979.1 683.2 985.0C684.0 990.9 684.2 992.0 685.8 998.5C687.4 1005.0 689.8 1016.1 692.9 1024.2C696.0 1032.3 700.1 1040.5 704.4 1047.2C708.7 1053.9 713.9 1059.9 718.7 1064.4C723.5 1068.9 727.8 1071.8 733.0 1074.4C738.2 1077.0 747.3 1079.1 750.2 1080.1" stroke="#40dce8" stroke-width="4.0" fill="none" stroke-linejoin="round"/>
<path d="M520.0 1040.0L520.0 1109.0" stroke="#0c5c1c" stroke-width="2" fill="none"/><path d="M505.0 1000.0L514.5 1000.0L514.5 1024.0L505.0 1024.0Z" fill="#0c5c1c" opacity="1.0"/>
<path d="M505.6 990.0C506.2 993.7 507.6 1004.2 509.0 1012.0C510.4 1019.8 512.1 1028.7 514.0 1037.0C515.9 1045.3 519.4 1057.8 520.5 1062.0L520.5 1062.0C521.4 1058.3 523.5 1046.6 526.0 1040.0C528.5 1033.4 531.6 1026.3 535.6 1022.3C539.6 1018.3 545.9 1017.6 550.0 1016.1C554.1 1014.6 556.9 1013.0 560.4 1013.0C563.9 1013.0 567.4 1014.7 570.7 1016.0C574.0 1017.3 577.2 1019.8 580.0 1021.0C582.8 1022.2 584.0 1023.7 587.3 1023.4C590.6 1023.1 596.2 1021.6 599.7 1019.3C603.2 1017.0 604.2 1013.6 608.0 1009.6C611.8 1005.6 616.5 1000.3 622.4 995.1C628.2 989.9 636.9 984.5 643.1 978.6C649.3 972.8 655.2 966.5 659.7 960.0C664.2 953.5 668.3 942.8 670.0 939.3M685.8 932.7C687.0 938.0 689.8 955.1 692.9 964.2C696.0 973.3 700.1 980.9 704.4 987.1C708.7 993.3 713.9 997.7 718.7 1001.5C723.5 1005.3 729.4 1006.9 733.0 1010.0C736.6 1013.1 739.0 1018.3 740.2 1020.0" stroke="#0c5c1c" stroke-width="6.5" fill="none" stroke-linejoin="round"/>
<path d="M500.9 987.0h9.5M500.9 993.0h9.5M505.6 987.0v6.0M504.2 1009.0h9.5M504.2 1015.0h9.5M509.0 1009.0v6.0M507.6 1026.7h9.5M507.6 1032.7h9.5M512.4 1026.7v6.0M511.0 1041.3h9.5M511.0 1047.3h9.5M515.8 1041.3v6.0M514.4 1054.1h9.5M514.4 1060.1h9.5M519.2 1054.1v6.0M515.8 1059.0h9.5M515.8 1065.0h9.5M520.5 1059.0v6.0M515.8 1059.0h9.5M515.8 1065.0h9.5M520.5 1059.0v6.0M519.1 1043.9h9.5M519.1 1049.9h9.5M523.9 1043.9v6.0M522.5 1033.7h9.5M522.5 1039.7h9.5M527.3 1033.7v6.0M525.9 1026.3h9.5M525.9 1032.3h9.5M530.7 1026.3v6.0M529.3 1021.0h9.5M529.3 1027.0h9.5M534.1 1021.0v6.0M532.7 1017.7h9.5M532.7 1023.7h9.5M537.5 1017.7v6.0M536.1 1016.0h9.5M536.1 1022.0h9.5M540.9 1016.0v6.0M539.5 1014.8h9.5M539.5 1020.8h9.5M544.3 1014.8v6.0M542.9 1013.8h9.5M542.9 1019.8h9.5M547.7 1013.8v6.0M546.3 1012.7h9.5M546.3 1018.7h9.5M551.1 1012.7v6.0M549.7 1011.3h9.5M549.7 1017.3h9.5M554.5 1011.3v6.0M553.1 1010.3h9.5M553.1 1016.3h9.5M557.9 1010.3v6.0M556.5 1010.0h9.5M556.5 1016.0h9.5M561.3 1010.0v6.0M559.9 1010.7h9.5M559.9 1016.7h9.5M564.7 1010.7v6.0M563.3 1011.9h9.5M563.3 1017.9h9.5M568.1 1011.9v6.0M566.7 1013.3h9.5M566.7 1019.3h9.5M571.5 1013.3v6.0M570.1 1015.2h9.5M570.1 1021.2h9.5M574.9 1015.2v6.0M573.5 1017.1h9.5M573.5 1023.1h9.5M578.3 1017.1v6.0M576.9 1018.9h9.5M576.9 1024.9h9.5M581.7 1018.9v6.0M580.3 1020.3h9.5M580.3 1026.3h9.5M585.1 1020.3v6.0M583.7 1020.3h9.5M583.7 1026.3h9.5M588.5 1020.3v6.0M587.1 1019.5h9.5M587.1 1025.5h9.5M591.9 1019.5v6.0M590.5 1018.5h9.5M590.5 1024.5h9.5M595.3 1018.5v6.0M593.9 1016.9h9.5M593.9 1022.9h9.5M598.7 1016.9v6.0M597.3 1014.2h9.5M597.3 1020.2h9.5M602.1 1014.2v6.0M600.7 1009.6h9.5M600.7 1015.6h9.5M605.5 1009.6v6.0M604.1 1005.6h9.5M604.1 1011.6h9.5M608.9 1005.6v6.0M607.5 1002.0h9.5M607.5 1008.0h9.5M612.3 1002.0v6.0M610.9 998.5h9.5M610.9 1004.5h9.5M615.7 998.5v6.0M614.3 995.1h9.5M614.3 1001.1h9.5M619.1 995.1v6.0M617.7 992.0h9.5M617.7 998.0h9.5M622.5 992.0v6.0M621.1 989.2h9.5M621.1 995.2h9.5M625.9 989.2v6.0M624.5 986.6h9.5M624.5 992.6h9.5M629.3 986.6v6.0M627.9 984.0h9.5M627.9 990.0h9.5M632.7 984.0v6.0M631.3 981.5h9.5M631.3 987.5h9.5M636.1 981.5v6.0M634.7 978.8h9.5M634.7 984.8h9.5M639.5 978.8v6.0M638.1 975.8h9.5M638.1 981.8h9.5M642.9 975.8v6.0M641.5 972.5h9.5M641.5 978.5h9.5M646.3 972.5v6.0M644.9 969.1h9.5M644.9 975.1h9.5M649.7 969.1v6.0M648.3 965.4h9.5M648.3 971.4h9.5M653.1 965.4v6.0M651.7 961.3h9.5M651.7 967.3h9.5M656.5 961.3v6.0M655.1 956.7h9.5M655.1 962.7h9.5M659.9 956.7v6.0M658.5 950.8h9.5M658.5 956.8h9.5M663.3 950.8v6.0M661.9 943.7h9.5M661.9 949.7h9.5M666.7 943.7v6.0M665.2 936.3h9.5M665.2 942.3h9.5M670.0 936.3v6.0M681.0 929.7h9.5M681.0 935.7h9.5M685.8 929.7v6.0M684.4 946.8h9.5M684.4 952.8h9.5M689.2 946.8v6.0M687.8 960.3h9.5M687.8 966.3h9.5M692.6 960.3v6.0M691.2 969.1h9.5M691.2 975.1h9.5M696.0 969.1v6.0M694.6 976.0h9.5M694.6 982.0h9.5M699.4 976.0v6.0M698.0 981.7h9.5M698.0 987.7h9.5M702.8 981.7v6.0M701.4 986.5h9.5M701.4 992.5h9.5M706.2 986.5v6.0M704.8 990.4h9.5M704.8 996.4h9.5M709.6 990.4v6.0M708.2 993.7h9.5M708.2 999.7h9.5M713.0 993.7v6.0M711.6 996.6h9.5M711.6 1002.6h9.5M716.4 996.6v6.0M715.0 999.3h9.5M715.0 1005.3h9.5M719.8 999.3v6.0M718.4 1001.4h9.5M718.4 1007.4h9.5M723.2 1001.4v6.0M721.8 1003.2h9.5M721.8 1009.2h9.5M726.6 1003.2v6.0M725.2 1005.0h9.5M725.2 1011.0h9.5M730.0 1005.0v6.0M728.6 1007.4h9.5M728.6 1013.4h9.5M733.4 1007.4v6.0M732.0 1011.5h9.5M732.0 1017.5h9.5M736.8 1011.5v6.0M735.4 1017.0h9.5M735.4 1023.0h9.5M740.2 1017.0v6.0M735.5 1017.0h9.5M735.5 1023.0h9.5M740.2 1017.0v6.0" stroke="#0c5c1c" stroke-width="2.2" fill="none"/>
<path d="M505.6 1001.4C505.9 1002.8 506.2 1004.4 507.6 1010.0C509.0 1015.6 511.8 1026.9 514.0 1035.0C516.2 1043.1 519.9 1054.7 521.1 1058.6L521.1 1058.6C522.1 1054.6 524.9 1041.2 527.3 1034.8C529.7 1028.4 531.8 1023.8 535.6 1020.3C539.4 1016.8 545.9 1015.6 550.0 1014.1C554.1 1012.6 556.9 1011.0 560.4 1011.0C563.9 1011.0 567.4 1012.7 570.7 1014.0C574.0 1015.3 577.2 1017.8 580.0 1019.0C582.8 1020.2 584.0 1021.7 587.3 1021.4C590.6 1021.1 596.2 1019.6 599.7 1017.3C603.2 1015.0 604.2 1011.6 608.0 1007.6C611.8 1003.6 616.5 998.3 622.4 993.1C628.2 987.9 636.9 982.5 643.1 976.6C649.3 970.8 655.2 964.5 659.7 958.0C664.2 951.5 667.1 944.2 670.0 937.3C672.9 930.4 675.4 922.5 677.2 916.6C679.0 910.7 680.4 904.4 681.0 902.0L681.0 902.0C681.3 904.2 682.2 910.4 683.0 915.0C683.8 919.6 684.1 922.0 685.8 929.7C687.4 937.4 689.8 952.1 692.9 961.2C696.0 970.3 700.1 977.9 704.4 984.1C708.7 990.3 713.9 994.7 718.7 998.5C723.5 1002.3 727.8 1004.9 733.0 1007.0C738.2 1009.1 747.3 1010.7 750.2 1011.4" stroke="#32dc2a" stroke-width="4.0" fill="none" stroke-linejoin="round"/>
<path d="M505.6 925.0C505.9 928.3 506.9 936.7 507.5 945.0C508.1 953.3 508.8 965.2 509.5 975.0C510.2 984.8 511.1 998.0 511.8 1003.5C512.5 1009.0 513.2 1007.2 513.5 1008.0L513.5 1008.0C513.9 1004.2 514.0 994.5 516.0 985.0C518.0 975.5 521.2 958.2 525.2 951.2C529.2 944.2 534.9 944.1 539.7 942.9C544.5 941.7 549.0 942.5 554.2 943.9C559.4 945.3 565.9 949.0 570.7 951.2C575.5 953.5 579.7 956.5 583.1 957.4C586.5 958.3 588.3 957.8 591.4 956.4C594.5 955.0 596.6 953.1 601.8 949.1C607.0 945.1 615.5 937.4 622.4 932.6C629.3 927.8 636.9 924.3 643.1 920.2C649.3 916.1 655.2 911.9 659.7 907.8C664.2 903.6 667.2 900.1 670.0 895.3C672.8 890.5 675.2 881.5 676.2 878.8M685.8 874.9C686.8 878.7 689.4 891.1 691.5 897.8C693.6 904.5 695.1 909.3 698.7 915.0C702.3 920.7 708.2 927.9 713.0 932.2C717.8 936.5 722.5 937.9 727.3 940.8C732.1 943.7 739.2 948.2 741.6 949.7" stroke="#5a2628" stroke-width="6.5" fill="none" stroke-linejoin="round"/>
<path d="M500.9 922.0h9.5M500.9 928.0h9.5M505.6 922.0v6.0M504.2 964.7h9.5M504.2 970.7h9.5M509.0 964.7v6.0M507.6 1003.7h9.5M507.6 1009.7h9.5M512.4 1003.7v6.0M508.8 1005.0h9.5M508.8 1011.0h9.5M513.5 1005.0v6.0M508.8 1005.0h9.5M508.8 1011.0h9.5M513.5 1005.0v6.0M512.1 977.6h9.5M512.1 983.6h9.5M516.9 977.6v6.0M515.5 962.4h9.5M515.5 968.4h9.5M520.3 962.4v6.0M518.9 951.4h9.5M518.9 957.4h9.5M523.7 951.4v6.0M522.3 945.5h9.5M522.3 951.5h9.5M527.1 945.5v6.0M525.7 942.7h9.5M525.7 948.7h9.5M530.5 942.7v6.0M529.1 941.3h9.5M529.1 947.3h9.5M533.9 941.3v6.0M532.5 940.4h9.5M532.5 946.4h9.5M537.3 940.4v6.0M535.9 939.7h9.5M535.9 945.7h9.5M540.7 939.7v6.0M539.3 939.3h9.5M539.3 945.3h9.5M544.1 939.3v6.0M542.7 939.5h9.5M542.7 945.5h9.5M547.5 939.5v6.0M546.1 940.1h9.5M546.1 946.1h9.5M550.9 940.1v6.0M549.5 940.9h9.5M549.5 946.9h9.5M554.3 940.9v6.0M552.9 942.1h9.5M552.9 948.1h9.5M557.7 942.1v6.0M556.3 943.5h9.5M556.3 949.5h9.5M561.1 943.5v6.0M559.7 945.2h9.5M559.7 951.2h9.5M564.5 945.2v6.0M563.1 946.8h9.5M563.1 952.8h9.5M567.9 946.8v6.0M566.5 948.5h9.5M566.5 954.5h9.5M571.3 948.5v6.0M569.9 950.3h9.5M569.9 956.3h9.5M574.7 950.3v6.0M573.3 952.2h9.5M573.3 958.2h9.5M578.1 952.2v6.0M576.7 953.9h9.5M576.7 959.9h9.5M581.5 953.9v6.0M580.1 954.7h9.5M580.1 960.7h9.5M584.9 954.7v6.0M583.5 954.6h9.5M583.5 960.6h9.5M588.3 954.6v6.0M586.9 953.3h9.5M586.9 959.3h9.5M591.7 953.3v6.0M590.3 951.2h9.5M590.3 957.2h9.5M595.1 951.2v6.0M593.7 948.7h9.5M593.7 954.7h9.5M598.5 948.7v6.0M597.1 946.0h9.5M597.1 952.0h9.5M601.9 946.0v6.0M600.5 943.3h9.5M600.5 949.3h9.5M605.3 943.3v6.0M603.9 940.5h9.5M603.9 946.5h9.5M608.7 940.5v6.0M607.3 937.6h9.5M607.3 943.6h9.5M612.1 937.6v6.0M610.7 934.9h9.5M610.7 940.9h9.5M615.5 934.9v6.0M614.1 932.2h9.5M614.1 938.2h9.5M618.9 932.2v6.0M617.5 929.7h9.5M617.5 935.7h9.5M622.3 929.7v6.0M620.9 927.4h9.5M620.9 933.4h9.5M625.7 927.4v6.0M624.3 925.4h9.5M624.3 931.4h9.5M629.1 925.4v6.0M627.7 923.4h9.5M627.7 929.4h9.5M632.5 923.4v6.0M631.1 921.5h9.5M631.1 927.5h9.5M635.9 921.5v6.0M634.5 919.6h9.5M634.5 925.6h9.5M639.3 919.6v6.0M637.9 917.5h9.5M637.9 923.5h9.5M642.7 917.5v6.0M641.3 915.2h9.5M641.3 921.2h9.5M646.1 915.2v6.0M644.7 912.8h9.5M644.7 918.8h9.5M649.5 912.8v6.0M648.1 910.4h9.5M648.1 916.4h9.5M652.9 910.4v6.0M651.5 907.7h9.5M651.5 913.7h9.5M656.3 907.7v6.0M654.9 904.8h9.5M654.9 910.8h9.5M659.7 904.8v6.0M658.3 901.5h9.5M658.3 907.5h9.5M663.1 901.5v6.0M661.7 897.6h9.5M661.7 903.6h9.5M666.5 897.6v6.0M665.1 892.5h9.5M665.1 898.5h9.5M669.9 892.5v6.0M668.5 884.6h9.5M668.5 890.6h9.5M673.3 884.6v6.0M671.5 875.8h9.5M671.5 881.8h9.5M676.2 875.8v6.0M681.0 871.9h9.5M681.0 877.9h9.5M685.8 871.9v6.0M684.4 886.4h9.5M684.4 892.4h9.5M689.2 886.4v6.0M687.8 898.2h9.5M687.8 904.2h9.5M692.6 898.2v6.0M691.2 907.1h9.5M691.2 913.1h9.5M696.0 907.1v6.0M694.6 913.1h9.5M694.6 919.1h9.5M699.4 913.1v6.0M698.0 917.9h9.5M698.0 923.9h9.5M702.8 917.9v6.0M701.4 922.1h9.5M701.4 928.1h9.5M706.2 922.1v6.0M704.8 925.9h9.5M704.8 931.9h9.5M709.6 925.9v6.0M708.2 929.2h9.5M708.2 935.2h9.5M713.0 929.2v6.0M711.6 931.8h9.5M711.6 937.8h9.5M716.4 931.8v6.0M715.0 933.8h9.5M715.0 939.8h9.5M719.8 933.8v6.0M718.4 935.6h9.5M718.4 941.6h9.5M723.2 935.6v6.0M721.8 937.4h9.5M721.8 943.4h9.5M726.6 937.4v6.0M725.2 939.5h9.5M725.2 945.5h9.5M730.0 939.5v6.0M728.6 941.6h9.5M728.6 947.6h9.5M733.4 941.6v6.0M732.0 943.7h9.5M732.0 949.7h9.5M736.8 943.7v6.0M735.4 945.8h9.5M735.4 951.8h9.5M740.2 945.8v6.0M736.9 946.7h9.5M736.9 952.7h9.5M741.6 946.7v6.0" stroke="#5a2628" stroke-width="2.2" fill="none"/>
<path d="M505.6 964.2C506.1 967.7 507.6 978.1 508.5 985.0C509.4 991.9 510.8 1002.1 511.2 1005.5L511.2 1005.5C511.7 1002.1 513.0 990.9 514.0 985.0C515.0 979.1 515.1 976.3 517.0 970.4C518.9 964.5 521.4 954.5 525.2 949.7C529.0 944.9 534.9 942.6 539.7 941.4C544.5 940.2 549.0 941.0 554.2 942.4C559.4 943.8 565.9 947.5 570.7 949.7C575.5 952.0 579.7 955.0 583.1 955.9C586.5 956.8 588.3 956.3 591.4 954.9C594.5 953.5 596.6 951.6 601.8 947.6C607.0 943.6 615.5 935.9 622.4 931.1C629.3 926.3 636.9 922.8 643.1 918.7C649.3 914.6 655.2 910.4 659.7 906.3C664.2 902.1 667.2 898.6 670.0 893.8C672.8 889.0 674.7 883.1 676.2 877.3C677.8 871.4 678.5 864.1 679.3 858.7C680.1 853.3 680.7 847.3 681.0 845.0L681.0 845.0C681.3 847.2 682.2 853.4 683.0 858.0C683.8 862.6 684.4 866.2 685.8 872.4C687.2 878.6 689.4 888.6 691.5 895.3C693.6 902.0 695.1 906.8 698.7 912.5C702.3 918.2 708.2 925.4 713.0 929.7C717.8 934.0 721.1 935.4 727.3 938.3C733.5 941.2 746.4 945.5 750.2 946.9" stroke="#d41ec8" stroke-width="4.0" fill="none" stroke-linejoin="round"/>
</g>
<path d="M540.0 840.4v4.5M540.0 1203.3v-4.5M610.2 840.4v4.5M610.2 1203.3v-4.5M680.4 840.4v4.5M680.4 1203.3v-4.5M750.5 840.4v4.5M750.5 1203.3v-4.5M820.6 840.4v4.5M820.6 1203.3v-4.5M491.5 1184.9h4.2M863.4 1184.9h-4.2M491.5 1123.9h4.2M863.4 1123.9h-4.2M491.5 1062.9h4.2M863.4 1062.9h-4.2M491.5 1001.9h4.2M863.4 1001.9h-4.2M491.5 940.9h4.2M863.4 940.9h-4.2M491.5 879.9h4.2M863.4 879.9h-4.2" stroke="#000" stroke-width="2" fill="none"/>
<path d="M491.5 1166.5h2.2M863.4 1166.5h-2.2M491.5 1155.8h2.2M863.4 1155.8h-2.2M491.5 1148.2h2.2M863.4 1148.2h-2.2M491.5 1142.3h2.2M863.4 1142.3h-2.2M491.5 1137.4h2.2M863.4 1137.4h-2.2M491.5 1133.3h2.2M863.4 1133.3h-2.2M491.5 1129.8h2.2M863.4 1129.8h-2.2M491.5 1126.7h2.2M863.4 1126.7h-2.2M491.5 1105.5h2.2M863.4 1105.5h-2.2M491.5 1094.8h2.2M863.4 1094.8h-2.2M491.5 1087.2h2.2M863.4 1087.2h-2.2M491.5 1081.3h2.2M863.4 1081.3h-2.2M491.5 1076.4h2.2M863.4 1076.4h-2.2M491.5 1072.3h2.2M863.4 1072.3h-2.2M491.5 1068.8h2.2M863.4 1068.8h-2.2M491.5 1065.7h2.2M863.4 1065.7h-2.2M491.5 1044.5h2.2M863.4 1044.5h-2.2M491.5 1033.8h2.2M863.4 1033.8h-2.2M491.5 1026.2h2.2M863.4 1026.2h-2.2M491.5 1020.3h2.2M863.4 1020.3h-2.2M491.5 1015.4h2.2M863.4 1015.4h-2.2M491.5 1011.3h2.2M863.4 1011.3h-2.2M491.5 1007.8h2.2M863.4 1007.8h-2.2M491.5 1004.7h2.2M863.4 1004.7h-2.2M491.5 983.5h2.2M863.4 983.5h-2.2M491.5 972.8h2.2M863.4 972.8h-2.2M491.5 965.2h2.2M863.4 965.2h-2.2M491.5 959.3h2.2M863.4 959.3h-2.2M491.5 954.4h2.2M863.4 954.4h-2.2M491.5 950.3h2.2M863.4 950.3h-2.2M491.5 946.8h2.2M863.4 946.8h-2.2M491.5 943.7h2.2M863.4 943.7h-2.2M491.5 922.5h2.2M863.4 922.5h-2.2M491.5 911.8h2.2M863.4 911.8h-2.2M491.5 904.2h2.2M863.4 904.2h-2.2M491.5 898.3h2.2M863.4 898.3h-2.2M491.5 893.4h2.2M863.4 893.4h-2.2M491.5 889.3h2.2M863.4 889.3h-2.2M491.5 885.8h2.2M863.4 885.8h-2.2M491.5 882.7h2.2M863.4 882.7h-2.2M491.5 861.5h2.2M863.4 861.5h-2.2M491.5 850.8h2.2M863.4 850.8h-2.2M491.5 843.2h2.2M863.4 843.2h-2.2M505.0 840.4v2.2M505.0 1203.3v-2.2M575.1 840.4v2.2M575.1 1203.3v-2.2M645.3 840.4v2.2M645.3 1203.3v-2.2M715.4 840.4v2.2M715.4 1203.3v-2.2M785.6 840.4v2.2M785.6 1203.3v-2.2M855.7 840.4v2.2M855.7 1203.3v-2.2" stroke="#000" stroke-width="1.3" fill="none"/>
<rect x="491.5" y="840.4" width="371.9" height="362.9" fill="none" stroke="#000" stroke-width="2.8"/>
<text x="124.5" y="124.4" font-size="33" text-anchor="start" fill="#000" >(00)</text>
<text x="794.5" y="123.2" font-size="33" text-anchor="start" fill="#000" >(10)</text>
<text x="124.5" y="502.0" font-size="33" text-anchor="start" fill="#000" >(01)</text>
<text x="794.0" y="501.7" font-size="33" text-anchor="start" fill="#000" >(11)</text>
<text x="124.5" y="880.0" font-size="33" text-anchor="start" fill="#000" >(20)</text>
<text x="793.5" y="879.9" font-size="33" text-anchor="start" fill="#000" >(00)</text>
<text x="506.6" y="880.4" font-size="33" text-anchor="start" fill="#000" >2nd meas.</text>
<text x="379.2" y="171.0" font-size="33" text-anchor="start" fill="#5a2626" textLength="88.5" lengthAdjust="spacingAndGlyphs">1.57 V</text>
<text x="379.2" y="254.8" font-size="33" text-anchor="start" fill="#1e6e1e" textLength="88.8" lengthAdjust="spacingAndGlyphs">1.37 V</text>
<text x="379.2" y="323.4" font-size="33" text-anchor="start" fill="#14145e" textLength="88.8" lengthAdjust="spacingAndGlyphs">1.17 V</text>
<text x="376.2" y="404.1" font-size="33" text-anchor="start" fill="#661616" textLength="91.0" lengthAdjust="spacingAndGlyphs">0.45 V</text>
<text x="46.0" y="440.3" font-size="33">10<tspan dy="-20" font-size="21">&#8722;1</tspan></text>
<text x="872.0" y="440.3" font-size="33">10<tspan dy="-20" font-size="21">&#8722;1</tspan></text>
<text x="46.0" y="379.3" font-size="33">10<tspan dy="-20" font-size="21">0</tspan></text>
<text x="872.0" y="379.3" font-size="33">10<tspan dy="-20" font-size="21">0</tspan></text>
<text x="46.0" y="318.3" font-size="33">10<tspan dy="-20" font-size="21">1</tspan></text>
<text x="872.0" y="318.3" font-size="33">10<tspan dy="-20" font-size="21">1</tspan></text>
<text x="46.0" y="257.3" font-size="33">10<tspan dy="-20" font-size="21">2</tspan></text>
<text x="872.0" y="257.3" font-size="33">10<tspan dy="-20" font-size="21">2</tspan></text>
<text x="46.0" y="196.3" font-size="33">10<tspan dy="-20" font-size="21">3</tspan></text>
<text x="872.0" y="196.3" font-size="33">10<tspan dy="-20" font-size="21">3</tspan></text>
<text x="46.0" y="135.3" font-size="33">10<tspan dy="-20" font-size="21">4</tspan></text>
<text x="872.0" y="135.3" font-size="33">10<tspan dy="-20" font-size="21">4</tspan></text>
<text x="46.0" y="819.0" font-size="33">10<tspan dy="-20" font-size="21">&#8722;1</tspan></text>
<text x="872.0" y="819.0" font-size="33">10<tspan dy="-20" font-size="21">&#8722;1</tspan></text>
<text x="46.0" y="758.0" font-size="33">10<tspan dy="-20" font-size="21">0</tspan></text>
<text x="872.0" y="758.0" font-size="33">10<tspan dy="-20" font-size="21">0</tspan></text>
<text x="46.0" y="697.0" font-size="33">10<tspan dy="-20" font-size="21">1</tspan></text>
<text x="872.0" y="697.0" font-size="33">10<tspan dy="-20" font-size="21">1</tspan></text>
<text x="46.0" y="636.0" font-size="33">10<tspan dy="-20" font-size="21">2</tspan></text>
<text x="872.0" y="636.0" font-size="33">10<tspan dy="-20" font-size="21">2</tspan></text>
<text x="46.0" y="575.0" font-size="33">10<tspan dy="-20" font-size="21">3</tspan></text>
<text x="872.0" y="575.0" font-size="33">10<tspan dy="-20" font-size="21">3</tspan></text>
<text x="46.0" y="514.0" font-size="33">10<tspan dy="-20" font-size="21">4</tspan></text>
<text x="872.0" y="514.0" font-size="33">10<tspan dy="-20" font-size="21">4</tspan></text>
<text x="46.0" y="1197.4" font-size="33">10<tspan dy="-20" font-size="21">&#8722;1</tspan></text>
<text x="872.0" y="1197.4" font-size="33">10<tspan dy="-20" font-size="21">&#8722;1</tspan></text>
<text x="46.0" y="1136.4" font-size="33">10<tspan dy="-20" font-size="21">0</tspan></text>
<text x="872.0" y="1136.4" font-size="33">10<tspan dy="-20" font-size="21">0</tspan></text>
<text x="46.0" y="1075.4" font-size="33">10<tspan dy="-20" font-size="21">1</tspan></text>
<text x="872.0" y="1075.4" font-size="33">10<tspan dy="-20" font-size="21">1</tspan></text>
<text x="46.0" y="1014.4" font-size="33">10<tspan dy="-20" font-size="21">2</tspan></text>
<text x="872.0" y="1014.4" font-size="33">10<tspan dy="-20" font-size="21">2</tspan></text>
<text x="46.0" y="953.4" font-size="33">10<tspan dy="-20" font-size="21">3</tspan></text>
<text x="872.0" y="953.4" font-size="33">10<tspan dy="-20" font-size="21">3</tspan></text>
<text x="46.0" y="892.4" font-size="33">10<tspan dy="-20" font-size="21">4</tspan></text>
<text x="872.0" y="892.4" font-size="33">10<tspan dy="-20" font-size="21">4</tspan></text>
<text x="157.8" y="77.0" font-size="33" text-anchor="middle" fill="#000" >1</text>
<text x="157.8" y="1240.5" font-size="33" text-anchor="middle" fill="#000" >1</text>
<text x="227.9" y="77.0" font-size="33" text-anchor="middle" fill="#000" >2</text>
<text x="227.9" y="1240.5" font-size="33" text-anchor="middle" fill="#000" >2</text>
<text x="298.1" y="77.0" font-size="33" text-anchor="middle" fill="#000" >3</text>
<text x="298.1" y="1240.5" font-size="33" text-anchor="middle" fill="#000" >3</text>
<text x="368.2" y="77.0" font-size="33" text-anchor="middle" fill="#000" >4</text>
<text x="368.2" y="1240.5" font-size="33" text-anchor="middle" fill="#000" >4</text>
<text x="438.4" y="77.0" font-size="33" text-anchor="middle" fill="#000" >5</text>
<text x="438.4" y="1240.5" font-size="33" text-anchor="middle" fill="#000" >5</text>
<text x="297.1" y="30.5" font-size="33" text-anchor="middle" fill="#000" ><tspan font-style="italic">L</tspan> / r.l.u.</text>
<text x="297.1" y="1273.3" font-size="33" text-anchor="middle" fill="#000" ><tspan font-style="italic">L</tspan> / r.l.u.</text>
<text x="540.0" y="77.0" font-size="33" text-anchor="middle" fill="#000" >1</text>
<text x="540.0" y="1240.5" font-size="33" text-anchor="middle" fill="#000" >1</text>
<text x="610.2" y="77.0" font-size="33" text-anchor="middle" fill="#000" >2</text>
<text x="610.2" y="1240.5" font-size="33" text-anchor="middle" fill="#000" >2</text>
<text x="680.4" y="77.0" font-size="33" text-anchor="middle" fill="#000" >3</text>
<text x="680.4" y="1240.5" font-size="33" text-anchor="middle" fill="#000" >3</text>
<text x="750.5" y="77.0" font-size="33" text-anchor="middle" fill="#000" >4</text>
<text x="750.5" y="1240.5" font-size="33" text-anchor="middle" fill="#000" >4</text>
<text x="820.6" y="77.0" font-size="33" text-anchor="middle" fill="#000" >5</text>
<text x="820.6" y="1240.5" font-size="33" text-anchor="middle" fill="#000" >5</text>
<text x="679.4" y="30.5" font-size="33" text-anchor="middle" fill="#000" ><tspan font-style="italic">L</tspan> / r.l.u.</text>
<text x="679.4" y="1273.3" font-size="33" text-anchor="middle" fill="#000" ><tspan font-style="italic">L</tspan> / r.l.u.</text>
<text transform="translate(27.5,258.9) rotate(-90)" font-size="33" font-style="italic" text-anchor="middle">F</text>
<text transform="translate(960,258.9) rotate(-90)" font-size="33" font-style="italic" text-anchor="middle">F</text>
<text transform="translate(27.5,637.4) rotate(-90)" font-size="33" font-style="italic" text-anchor="middle">F</text>
<text transform="translate(960,637.4) rotate(-90)" font-size="33" font-style="italic" text-anchor="middle">F</text>
<text transform="translate(27.5,1015.8) rotate(-90)" font-size="33" font-style="italic" text-anchor="middle">F</text>
<text transform="translate(960,1015.8) rotate(-90)" font-size="33" font-style="italic" text-anchor="middle">F</text>
</svg></body></html>
